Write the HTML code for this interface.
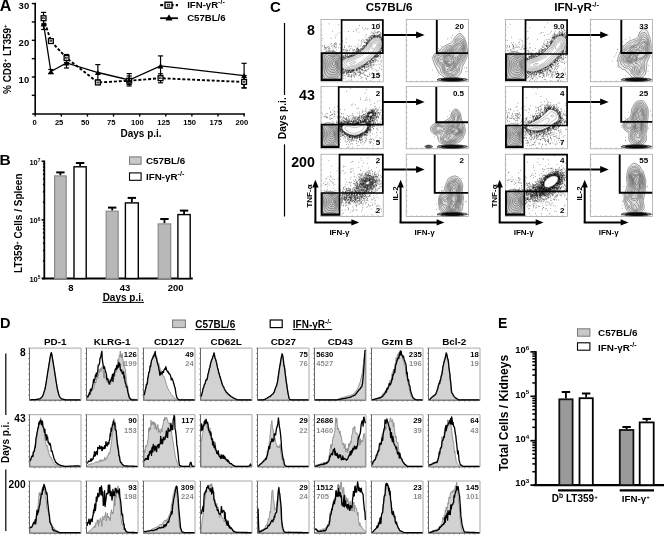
<!DOCTYPE html>
<html><head><meta charset="utf-8"><style>
html,body{margin:0;padding:0;background:#fff;}
svg{display:block;will-change:transform;}
text{font-family:"Liberation Sans",sans-serif;}
</style></head><body>
<svg width="664" height="535" viewBox="0 0 664 535" font-family="Liberation Sans, sans-serif">
<rect width="664" height="535" fill="#fff"/>
<text x="-0.30" y="11.40" font-size="16" font-weight="bold" fill="#000" text-anchor="start" >A</text>
<line x1="35.20" y1="2.80" x2="35.20" y2="114.80" stroke="#000" stroke-width="1.6" />
<line x1="32.20" y1="114.00" x2="245.00" y2="114.00" stroke="#000" stroke-width="1.6" />
<line x1="31.80" y1="3.60" x2="35.20" y2="3.60" stroke="#000" stroke-width="1.4" />
<line x1="31.80" y1="21.95" x2="35.20" y2="21.95" stroke="#000" stroke-width="1.4" />
<line x1="31.80" y1="40.30" x2="35.20" y2="40.30" stroke="#000" stroke-width="1.4" />
<line x1="31.80" y1="58.65" x2="35.20" y2="58.65" stroke="#000" stroke-width="1.4" />
<line x1="31.80" y1="77.00" x2="35.20" y2="77.00" stroke="#000" stroke-width="1.4" />
<line x1="31.80" y1="95.35" x2="35.20" y2="95.35" stroke="#000" stroke-width="1.4" />
<text x="29.20" y="9.20" font-size="9.5" font-weight="bold" fill="#000" text-anchor="end" >30</text>
<text x="29.20" y="45.90" font-size="9.5" font-weight="bold" fill="#000" text-anchor="end" >20</text>
<text x="29.20" y="82.60" font-size="9.5" font-weight="bold" fill="#000" text-anchor="end" >10</text>
<line x1="35.20" y1="114.00" x2="35.20" y2="116.60" stroke="#000" stroke-width="1.4" />
<text x="34.60" y="125.20" font-size="7.6" font-weight="bold" fill="#000" text-anchor="middle" >0</text>
<line x1="61.31" y1="114.00" x2="61.31" y2="116.60" stroke="#000" stroke-width="1.4" />
<text x="59.11" y="125.20" font-size="7.6" font-weight="bold" fill="#000" text-anchor="middle" >25</text>
<line x1="87.43" y1="114.00" x2="87.43" y2="116.60" stroke="#000" stroke-width="1.4" />
<text x="85.23" y="125.20" font-size="7.6" font-weight="bold" fill="#000" text-anchor="middle" >50</text>
<line x1="113.54" y1="114.00" x2="113.54" y2="116.60" stroke="#000" stroke-width="1.4" />
<text x="111.34" y="125.20" font-size="7.6" font-weight="bold" fill="#000" text-anchor="middle" >75</text>
<line x1="139.65" y1="114.00" x2="139.65" y2="116.60" stroke="#000" stroke-width="1.4" />
<text x="137.45" y="125.20" font-size="7.6" font-weight="bold" fill="#000" text-anchor="middle" >100</text>
<line x1="165.76" y1="114.00" x2="165.76" y2="116.60" stroke="#000" stroke-width="1.4" />
<text x="163.56" y="125.20" font-size="7.6" font-weight="bold" fill="#000" text-anchor="middle" >125</text>
<line x1="191.88" y1="114.00" x2="191.88" y2="116.60" stroke="#000" stroke-width="1.4" />
<text x="189.68" y="125.20" font-size="7.6" font-weight="bold" fill="#000" text-anchor="middle" >150</text>
<line x1="217.99" y1="114.00" x2="217.99" y2="116.60" stroke="#000" stroke-width="1.4" />
<text x="215.79" y="125.20" font-size="7.6" font-weight="bold" fill="#000" text-anchor="middle" >175</text>
<line x1="244.10" y1="114.00" x2="244.10" y2="116.60" stroke="#000" stroke-width="1.4" />
<text x="241.90" y="125.20" font-size="7.6" font-weight="bold" fill="#000" text-anchor="middle" >200</text>
<text x="141.10" y="137.10" font-size="10" font-weight="bold" fill="#000" text-anchor="middle" >Days p.i.</text>
<text transform="translate(10.6,59.2) rotate(-90)" font-size="10" font-weight="bold" text-anchor="middle">% CD8<tspan font-size="6" dy="-3.3">+</tspan><tspan dy="3.3"> LT359</tspan><tspan font-size="6" dy="-3.3">+</tspan></text>
<line x1="43.56" y1="19.00" x2="43.56" y2="29.50" stroke="#000" stroke-width="1.2" />
<line x1="40.96" y1="19.00" x2="46.16" y2="19.00" stroke="#000" stroke-width="1.2" />
<line x1="40.96" y1="29.50" x2="46.16" y2="29.50" stroke="#000" stroke-width="1.2" />
<line x1="50.87" y1="69.50" x2="50.87" y2="73.50" stroke="#000" stroke-width="1.2" />
<line x1="48.27" y1="69.50" x2="53.47" y2="69.50" stroke="#000" stroke-width="1.2" />
<line x1="48.27" y1="73.50" x2="53.47" y2="73.50" stroke="#000" stroke-width="1.2" />
<line x1="66.53" y1="56.00" x2="66.53" y2="68.00" stroke="#000" stroke-width="1.2" />
<line x1="63.93" y1="56.00" x2="69.13" y2="56.00" stroke="#000" stroke-width="1.2" />
<line x1="63.93" y1="68.00" x2="69.13" y2="68.00" stroke="#000" stroke-width="1.2" />
<line x1="97.87" y1="64.60" x2="97.87" y2="80.00" stroke="#000" stroke-width="1.2" />
<line x1="95.27" y1="64.60" x2="100.47" y2="64.60" stroke="#000" stroke-width="1.2" />
<line x1="95.27" y1="80.00" x2="100.47" y2="80.00" stroke="#000" stroke-width="1.2" />
<line x1="129.20" y1="73.60" x2="129.20" y2="86.00" stroke="#000" stroke-width="1.2" />
<line x1="126.60" y1="73.60" x2="131.80" y2="73.60" stroke="#000" stroke-width="1.2" />
<line x1="126.60" y1="86.00" x2="131.80" y2="86.00" stroke="#000" stroke-width="1.2" />
<line x1="160.54" y1="55.90" x2="160.54" y2="75.90" stroke="#000" stroke-width="1.2" />
<line x1="157.94" y1="55.90" x2="163.14" y2="55.90" stroke="#000" stroke-width="1.2" />
<line x1="157.94" y1="75.90" x2="163.14" y2="75.90" stroke="#000" stroke-width="1.2" />
<line x1="244.10" y1="63.30" x2="244.10" y2="87.90" stroke="#000" stroke-width="1.2" />
<line x1="241.50" y1="63.30" x2="246.70" y2="63.30" stroke="#000" stroke-width="1.2" />
<line x1="241.50" y1="87.90" x2="246.70" y2="87.90" stroke="#000" stroke-width="1.2" />
<line x1="43.56" y1="12.40" x2="43.56" y2="24.00" stroke="#000" stroke-width="1.2" />
<line x1="40.96" y1="12.40" x2="46.16" y2="12.40" stroke="#000" stroke-width="1.2" />
<line x1="40.96" y1="24.00" x2="46.16" y2="24.00" stroke="#000" stroke-width="1.2" />
<line x1="50.87" y1="40.00" x2="50.87" y2="42.00" stroke="#000" stroke-width="1.2" />
<line x1="48.27" y1="40.00" x2="53.47" y2="40.00" stroke="#000" stroke-width="1.2" />
<line x1="48.27" y1="42.00" x2="53.47" y2="42.00" stroke="#000" stroke-width="1.2" />
<line x1="66.53" y1="54.50" x2="66.53" y2="62.50" stroke="#000" stroke-width="1.2" />
<line x1="63.93" y1="54.50" x2="69.13" y2="54.50" stroke="#000" stroke-width="1.2" />
<line x1="63.93" y1="62.50" x2="69.13" y2="62.50" stroke="#000" stroke-width="1.2" />
<line x1="97.87" y1="80.50" x2="97.87" y2="84.50" stroke="#000" stroke-width="1.2" />
<line x1="95.27" y1="80.50" x2="100.47" y2="80.50" stroke="#000" stroke-width="1.2" />
<line x1="95.27" y1="84.50" x2="100.47" y2="84.50" stroke="#000" stroke-width="1.2" />
<line x1="129.20" y1="76.00" x2="129.20" y2="84.50" stroke="#000" stroke-width="1.2" />
<line x1="126.60" y1="76.00" x2="131.80" y2="76.00" stroke="#000" stroke-width="1.2" />
<line x1="126.60" y1="84.50" x2="131.80" y2="84.50" stroke="#000" stroke-width="1.2" />
<line x1="160.54" y1="73.80" x2="160.54" y2="82.80" stroke="#000" stroke-width="1.2" />
<line x1="157.94" y1="73.80" x2="163.14" y2="73.80" stroke="#000" stroke-width="1.2" />
<line x1="157.94" y1="82.80" x2="163.14" y2="82.80" stroke="#000" stroke-width="1.2" />
<line x1="244.10" y1="75.60" x2="244.10" y2="87.90" stroke="#000" stroke-width="1.2" />
<line x1="241.50" y1="75.60" x2="246.70" y2="75.60" stroke="#000" stroke-width="1.2" />
<line x1="241.50" y1="87.90" x2="246.70" y2="87.90" stroke="#000" stroke-width="1.2" />
<polyline points="43.56,18.20 50.87,41.10 66.53,58.00 97.87,82.50 129.20,80.70 160.54,78.20 244.10,82.00" fill="none" stroke="#000" stroke-width="1.9" stroke-dasharray="3,1.9"/>
<polyline points="43.56,24.00 50.87,71.60 66.53,63.00 97.87,72.50 129.20,80.00 160.54,65.90 244.10,75.60" fill="none" stroke="#000" stroke-width="1.3"/>
<rect x="41.16" y="15.80" width="4.80" height="4.80" fill="#fff" stroke="#000" stroke-width="1.3" />
<rect x="42.66" y="17.70" width="1.80" height="1.00" fill="#fff" stroke="#000" stroke-width="0.6" />
<rect x="48.47" y="38.70" width="4.80" height="4.80" fill="#fff" stroke="#000" stroke-width="1.3" />
<rect x="49.97" y="40.60" width="1.80" height="1.00" fill="#fff" stroke="#000" stroke-width="0.6" />
<rect x="64.13" y="55.60" width="4.80" height="4.80" fill="#fff" stroke="#000" stroke-width="1.3" />
<rect x="65.63" y="57.50" width="1.80" height="1.00" fill="#fff" stroke="#000" stroke-width="0.6" />
<rect x="95.47" y="80.10" width="4.80" height="4.80" fill="#fff" stroke="#000" stroke-width="1.3" />
<rect x="96.97" y="82.00" width="1.80" height="1.00" fill="#fff" stroke="#000" stroke-width="0.6" />
<rect x="126.80" y="78.30" width="4.80" height="4.80" fill="#fff" stroke="#000" stroke-width="1.3" />
<rect x="128.30" y="80.20" width="1.80" height="1.00" fill="#fff" stroke="#000" stroke-width="0.6" />
<rect x="158.14" y="75.80" width="4.80" height="4.80" fill="#fff" stroke="#000" stroke-width="1.3" />
<rect x="159.64" y="77.70" width="1.80" height="1.00" fill="#fff" stroke="#000" stroke-width="0.6" />
<rect x="241.70" y="79.60" width="4.80" height="4.80" fill="#fff" stroke="#000" stroke-width="1.3" />
<rect x="243.20" y="81.50" width="1.80" height="1.00" fill="#fff" stroke="#000" stroke-width="0.6" />
<polygon points="40.56,26.61 46.56,26.61 43.56,21.39" fill="#000"/>
<polygon points="47.87,74.21 53.87,74.21 50.87,68.99" fill="#000"/>
<polygon points="63.53,65.61 69.53,65.61 66.53,60.39" fill="#000"/>
<polygon points="94.87,75.11 100.87,75.11 97.87,69.89" fill="#000"/>
<polygon points="126.20,82.61 132.20,82.61 129.20,77.39" fill="#000"/>
<polygon points="157.54,68.51 163.54,68.51 160.54,63.29" fill="#000"/>
<polygon points="241.10,78.21 247.10,78.21 244.10,72.99" fill="#000"/>
<line x1="160.20" y1="5.20" x2="177.90" y2="5.20" stroke="#000" stroke-width="2.2" stroke-dasharray="3,2.2"/>
<rect x="165.00" y="2.20" width="7.00" height="6.00" fill="#fff" stroke="#000" stroke-width="1.4" />
<rect x="167.20" y="4.20" width="2.60" height="2.00" fill="#fff" stroke="#000" stroke-width="0.8" />
<text x="187.20" y="7.90" font-size="9.6" font-weight="bold" fill="#000" text-anchor="start" >IFN-γR<tspan font-size="7.2" dy="-4.0">-/-</tspan></text>
<line x1="160.20" y1="18.20" x2="177.90" y2="18.20" stroke="#000" stroke-width="1.8" />
<polygon points="165.50,20.45 172.50,20.45 169.00,14.35" fill="#000"/>
<text x="187.20" y="20.70" font-size="9.6" font-weight="bold" fill="#000" text-anchor="start" >C57BL/6</text>
<text x="-0.40" y="164.60" font-size="15.5" font-weight="bold" fill="#000" text-anchor="start" >B</text>
<line x1="44.30" y1="160.50" x2="44.30" y2="279.20" stroke="#000" stroke-width="1.8" />
<line x1="42.20" y1="278.50" x2="192.80" y2="278.50" stroke="#000" stroke-width="2.2" />
<line x1="42.90" y1="260.86" x2="44.30" y2="260.86" stroke="#000" stroke-width="1.5" />
<line x1="42.90" y1="250.54" x2="44.30" y2="250.54" stroke="#000" stroke-width="1.5" />
<line x1="42.90" y1="243.22" x2="44.30" y2="243.22" stroke="#000" stroke-width="1.5" />
<line x1="42.90" y1="237.54" x2="44.30" y2="237.54" stroke="#000" stroke-width="1.5" />
<line x1="42.90" y1="232.90" x2="44.30" y2="232.90" stroke="#000" stroke-width="1.5" />
<line x1="42.90" y1="228.98" x2="44.30" y2="228.98" stroke="#000" stroke-width="1.5" />
<line x1="42.90" y1="225.58" x2="44.30" y2="225.58" stroke="#000" stroke-width="1.5" />
<line x1="42.90" y1="222.58" x2="44.30" y2="222.58" stroke="#000" stroke-width="1.5" />
<line x1="42.90" y1="202.26" x2="44.30" y2="202.26" stroke="#000" stroke-width="1.5" />
<line x1="42.90" y1="191.94" x2="44.30" y2="191.94" stroke="#000" stroke-width="1.5" />
<line x1="42.90" y1="184.62" x2="44.30" y2="184.62" stroke="#000" stroke-width="1.5" />
<line x1="42.90" y1="178.94" x2="44.30" y2="178.94" stroke="#000" stroke-width="1.5" />
<line x1="42.90" y1="174.30" x2="44.30" y2="174.30" stroke="#000" stroke-width="1.5" />
<line x1="42.90" y1="170.38" x2="44.30" y2="170.38" stroke="#000" stroke-width="1.5" />
<line x1="42.90" y1="166.98" x2="44.30" y2="166.98" stroke="#000" stroke-width="1.5" />
<line x1="42.90" y1="163.98" x2="44.30" y2="163.98" stroke="#000" stroke-width="1.5" />
<line x1="41.60" y1="161.30" x2="44.30" y2="161.30" stroke="#000" stroke-width="1.6" />
<text x="40.40" y="164.70" font-size="7.5" font-weight="bold" fill="#000" text-anchor="end" >10<tspan font-size="4.8" dy="-2.6">7</tspan></text>
<line x1="41.60" y1="219.90" x2="44.30" y2="219.90" stroke="#000" stroke-width="1.6" />
<text x="40.40" y="223.30" font-size="7.5" font-weight="bold" fill="#000" text-anchor="end" >10<tspan font-size="4.8" dy="-2.6">6</tspan></text>
<line x1="41.60" y1="278.50" x2="44.30" y2="278.50" stroke="#000" stroke-width="1.6" />
<text x="40.40" y="281.90" font-size="7.5" font-weight="bold" fill="#000" text-anchor="end" >10<tspan font-size="4.8" dy="-2.6">5</tspan></text>
<text transform="translate(21.8,223.2) rotate(-90)" font-size="10" font-weight="bold" text-anchor="middle">LT359<tspan font-size="6" dy="-3.3">+</tspan><tspan dy="3.3"> Cells / Spleen</tspan></text>
<line x1="60.40" y1="172.40" x2="60.40" y2="175.30" stroke="#000" stroke-width="1.8" />
<line x1="56.20" y1="172.40" x2="64.60" y2="172.40" stroke="#000" stroke-width="2.0" />
<rect x="54.60" y="175.90" width="11.60" height="102.60" fill="#b8b8b8" stroke="#8a8a8a" stroke-width="1.2" />
<line x1="80.10" y1="163.00" x2="80.10" y2="166.10" stroke="#000" stroke-width="1.8" />
<line x1="75.90" y1="163.00" x2="84.30" y2="163.00" stroke="#000" stroke-width="2.0" />
<rect x="74.00" y="166.80" width="12.20" height="111.70" fill="#fff" stroke="#000" stroke-width="1.4" />
<line x1="112.20" y1="207.60" x2="112.20" y2="210.60" stroke="#000" stroke-width="1.8" />
<line x1="108.00" y1="207.60" x2="116.40" y2="207.60" stroke="#000" stroke-width="2.0" />
<rect x="106.20" y="211.20" width="12.00" height="67.30" fill="#b8b8b8" stroke="#8a8a8a" stroke-width="1.2" />
<line x1="131.85" y1="197.90" x2="131.85" y2="202.20" stroke="#000" stroke-width="1.8" />
<line x1="127.65" y1="197.90" x2="136.05" y2="197.90" stroke="#000" stroke-width="2.0" />
<rect x="125.40" y="202.90" width="12.90" height="75.60" fill="#fff" stroke="#000" stroke-width="1.4" />
<line x1="164.45" y1="219.00" x2="164.45" y2="223.30" stroke="#000" stroke-width="1.8" />
<line x1="160.25" y1="219.00" x2="168.65" y2="219.00" stroke="#000" stroke-width="2.0" />
<rect x="158.20" y="223.90" width="12.50" height="54.60" fill="#b8b8b8" stroke="#8a8a8a" stroke-width="1.2" />
<line x1="184.05" y1="210.60" x2="184.05" y2="213.90" stroke="#000" stroke-width="1.8" />
<line x1="179.85" y1="210.60" x2="188.25" y2="210.60" stroke="#000" stroke-width="2.0" />
<rect x="177.90" y="214.60" width="12.30" height="63.90" fill="#fff" stroke="#000" stroke-width="1.4" />
<text x="70.80" y="291.00" font-size="9.5" font-weight="bold" fill="#000" text-anchor="middle" >8</text>
<text x="125.00" y="291.00" font-size="9.5" font-weight="bold" fill="#000" text-anchor="middle" >43</text>
<text x="175.60" y="291.00" font-size="9.5" font-weight="bold" fill="#000" text-anchor="middle" >200</text>
<text x="123.20" y="300.60" font-size="10" font-weight="bold" fill="#000" text-anchor="middle" >Days p.i.</text>
<line x1="102.40" y1="302.40" x2="144.00" y2="302.40" stroke="#000" stroke-width="1.0" />
<rect x="129.50" y="156.90" width="11.60" height="7.40" fill="#c8c8c8" stroke="#777" stroke-width="1.0" />
<text x="146.00" y="164.20" font-size="9.8" font-weight="bold" fill="#000" text-anchor="start" >C57BL/6</text>
<rect x="129.50" y="172.90" width="11.60" height="7.40" fill="#fff" stroke="#000" stroke-width="1.1" />
<text x="146.00" y="180.40" font-size="9.8" font-weight="bold" fill="#000" text-anchor="start" >IFN-γR<tspan font-size="7.2" dy="-4.0">-/-</tspan></text>
<text x="498.00" y="328.30" font-size="14" font-weight="bold" fill="#000" text-anchor="start" >E</text>
<line x1="535.80" y1="351.20" x2="535.80" y2="486.00" stroke="#000" stroke-width="2.0" />
<line x1="533.50" y1="485.10" x2="664.00" y2="485.10" stroke="#000" stroke-width="2.2" />
<line x1="532.30" y1="471.73" x2="535.80" y2="471.73" stroke="#000" stroke-width="1.5" />
<line x1="532.30" y1="463.92" x2="535.80" y2="463.92" stroke="#000" stroke-width="1.5" />
<line x1="532.30" y1="458.37" x2="535.80" y2="458.37" stroke="#000" stroke-width="1.5" />
<line x1="532.30" y1="454.07" x2="535.80" y2="454.07" stroke="#000" stroke-width="1.5" />
<line x1="532.30" y1="450.55" x2="535.80" y2="450.55" stroke="#000" stroke-width="1.5" />
<line x1="532.30" y1="447.58" x2="535.80" y2="447.58" stroke="#000" stroke-width="1.5" />
<line x1="532.30" y1="445.00" x2="535.80" y2="445.00" stroke="#000" stroke-width="1.5" />
<line x1="532.30" y1="442.73" x2="535.80" y2="442.73" stroke="#000" stroke-width="1.5" />
<line x1="532.30" y1="427.33" x2="535.80" y2="427.33" stroke="#000" stroke-width="1.5" />
<line x1="532.30" y1="419.52" x2="535.80" y2="419.52" stroke="#000" stroke-width="1.5" />
<line x1="532.30" y1="413.97" x2="535.80" y2="413.97" stroke="#000" stroke-width="1.5" />
<line x1="532.30" y1="409.67" x2="535.80" y2="409.67" stroke="#000" stroke-width="1.5" />
<line x1="532.30" y1="406.15" x2="535.80" y2="406.15" stroke="#000" stroke-width="1.5" />
<line x1="532.30" y1="403.18" x2="535.80" y2="403.18" stroke="#000" stroke-width="1.5" />
<line x1="532.30" y1="400.60" x2="535.80" y2="400.60" stroke="#000" stroke-width="1.5" />
<line x1="532.30" y1="398.33" x2="535.80" y2="398.33" stroke="#000" stroke-width="1.5" />
<line x1="532.30" y1="382.93" x2="535.80" y2="382.93" stroke="#000" stroke-width="1.5" />
<line x1="532.30" y1="375.12" x2="535.80" y2="375.12" stroke="#000" stroke-width="1.5" />
<line x1="532.30" y1="369.57" x2="535.80" y2="369.57" stroke="#000" stroke-width="1.5" />
<line x1="532.30" y1="365.27" x2="535.80" y2="365.27" stroke="#000" stroke-width="1.5" />
<line x1="532.30" y1="361.75" x2="535.80" y2="361.75" stroke="#000" stroke-width="1.5" />
<line x1="532.30" y1="358.78" x2="535.80" y2="358.78" stroke="#000" stroke-width="1.5" />
<line x1="532.30" y1="356.20" x2="535.80" y2="356.20" stroke="#000" stroke-width="1.5" />
<line x1="532.30" y1="353.93" x2="535.80" y2="353.93" stroke="#000" stroke-width="1.5" />
<line x1="530.40" y1="351.90" x2="535.80" y2="351.90" stroke="#000" stroke-width="1.7" />
<text x="529.20" y="353.10" font-size="9.4" font-weight="bold" fill="#000" text-anchor="end" >10<tspan font-size="6.2" dy="-3.4">6</tspan></text>
<line x1="530.40" y1="396.30" x2="535.80" y2="396.30" stroke="#000" stroke-width="1.7" />
<text x="529.20" y="397.50" font-size="9.4" font-weight="bold" fill="#000" text-anchor="end" >10<tspan font-size="6.2" dy="-3.4">5</tspan></text>
<line x1="530.40" y1="440.70" x2="535.80" y2="440.70" stroke="#000" stroke-width="1.7" />
<text x="529.20" y="441.90" font-size="9.4" font-weight="bold" fill="#000" text-anchor="end" >10<tspan font-size="6.2" dy="-3.4">4</tspan></text>
<line x1="530.40" y1="485.10" x2="535.80" y2="485.10" stroke="#000" stroke-width="1.7" />
<text x="529.20" y="486.30" font-size="9.4" font-weight="bold" fill="#000" text-anchor="end" >10<tspan font-size="6.2" dy="-3.4">3</tspan></text>
<text transform="translate(508.4,413.1) rotate(-90)" font-size="12" font-weight="bold" text-anchor="middle">Total Cells / Kidneys</text>
<line x1="565.95" y1="392.00" x2="565.95" y2="398.40" stroke="#000" stroke-width="1.8" />
<line x1="561.75" y1="392.00" x2="570.15" y2="392.00" stroke="#000" stroke-width="2.0" />
<rect x="559.30" y="399.30" width="13.30" height="85.80" fill="#9a9a9a" stroke="#111" stroke-width="1.8" />
<line x1="586.15" y1="393.50" x2="586.15" y2="397.30" stroke="#000" stroke-width="1.8" />
<line x1="581.95" y1="393.50" x2="590.35" y2="393.50" stroke="#000" stroke-width="2.0" />
<rect x="579.50" y="398.20" width="13.30" height="86.90" fill="#fff" stroke="#000" stroke-width="1.8" />
<line x1="626.60" y1="427.00" x2="626.60" y2="429.10" stroke="#000" stroke-width="1.8" />
<line x1="622.40" y1="427.00" x2="630.80" y2="427.00" stroke="#000" stroke-width="2.0" />
<rect x="619.80" y="430.00" width="13.60" height="55.10" fill="#9a9a9a" stroke="#111" stroke-width="1.8" />
<line x1="646.70" y1="418.90" x2="646.70" y2="421.50" stroke="#000" stroke-width="1.8" />
<line x1="642.50" y1="418.90" x2="650.90" y2="418.90" stroke="#000" stroke-width="2.0" />
<rect x="639.70" y="422.40" width="14.00" height="62.70" fill="#fff" stroke="#000" stroke-width="1.8" />
<line x1="558.00" y1="490.30" x2="593.00" y2="490.30" stroke="#000" stroke-width="2.2" />
<line x1="619.70" y1="490.30" x2="654.00" y2="490.30" stroke="#000" stroke-width="2.2" />
<text x="551.80" y="502.10" font-size="10" font-weight="bold" fill="#000" text-anchor="start" >D<tspan font-size="6.8" dy="-3.7">b</tspan><tspan dy="3.7"> LT359</tspan><tspan font-size="6.2" dy="-3.4">+</tspan></text>
<text x="621.80" y="502.10" font-size="9.8" font-weight="bold" fill="#000" text-anchor="start" >IFN-γ<tspan font-size="6.2" dy="-3.4">+</tspan></text>
<rect x="577.50" y="328.80" width="12.40" height="7.40" fill="#c8c8c8" stroke="#777" stroke-width="1.0" />
<text x="598.00" y="336.20" font-size="9.9" font-weight="bold" fill="#000" text-anchor="start" >C57BL/6</text>
<rect x="577.50" y="342.80" width="12.40" height="7.40" fill="#fff" stroke="#000" stroke-width="1.1" />
<text x="598.00" y="350.50" font-size="9.9" font-weight="bold" fill="#000" text-anchor="start" >IFN-γR<tspan font-size="7.2" dy="-4.0">-/-</tspan></text>
<text x="270.00" y="11.60" font-size="15" font-weight="bold" fill="#000" text-anchor="start" >C</text>
<text x="389.20" y="11.40" font-size="11.7" font-weight="bold" fill="#000" text-anchor="middle" >C57BL/6</text>
<text x="576.60" y="11.40" font-size="11.7" font-weight="bold" fill="#000" text-anchor="middle" >IFN-γR<tspan font-size="7.5" dy="-4.1">-/-</tspan></text>
<line x1="284.50" y1="23.00" x2="284.50" y2="95.00" stroke="#000" stroke-width="1.2" />
<line x1="284.50" y1="144.30" x2="284.50" y2="216.50" stroke="#000" stroke-width="1.2" />
<text transform="translate(286.2,118.2) rotate(-90)" font-size="10.2" font-weight="bold" text-anchor="middle">Days p.i.</text>
<text x="314.80" y="34.50" font-size="14.2" font-weight="bold" fill="#000" text-anchor="end" >8</text>
<text x="314.80" y="100.00" font-size="14.2" font-weight="bold" fill="#000" text-anchor="end" >43</text>
<text x="314.80" y="167.00" font-size="14.2" font-weight="bold" fill="#000" text-anchor="end" >200</text>
<rect x="321.00" y="19.60" width="62.20" height="62.20" fill="none" stroke="#9a9a9a" stroke-width="0.7" />
<line x1="321.00" y1="24.78" x2="322.20" y2="24.78" stroke="#888" stroke-width="0.5" />
<line x1="321.00" y1="29.97" x2="322.20" y2="29.97" stroke="#888" stroke-width="0.5" />
<line x1="321.00" y1="35.15" x2="322.20" y2="35.15" stroke="#888" stroke-width="0.5" />
<line x1="321.00" y1="40.33" x2="322.20" y2="40.33" stroke="#888" stroke-width="0.5" />
<line x1="321.00" y1="45.52" x2="322.20" y2="45.52" stroke="#888" stroke-width="0.5" />
<line x1="321.00" y1="50.70" x2="322.20" y2="50.70" stroke="#888" stroke-width="0.5" />
<line x1="321.00" y1="55.88" x2="322.20" y2="55.88" stroke="#888" stroke-width="0.5" />
<line x1="321.00" y1="61.07" x2="322.20" y2="61.07" stroke="#888" stroke-width="0.5" />
<line x1="321.00" y1="66.25" x2="322.20" y2="66.25" stroke="#888" stroke-width="0.5" />
<line x1="321.00" y1="71.43" x2="322.20" y2="71.43" stroke="#888" stroke-width="0.5" />
<line x1="321.00" y1="76.62" x2="322.20" y2="76.62" stroke="#888" stroke-width="0.5" />
<line x1="326.18" y1="81.80" x2="326.18" y2="80.60" stroke="#888" stroke-width="0.5" />
<line x1="331.37" y1="81.80" x2="331.37" y2="80.60" stroke="#888" stroke-width="0.5" />
<line x1="336.55" y1="81.80" x2="336.55" y2="80.60" stroke="#888" stroke-width="0.5" />
<line x1="341.73" y1="81.80" x2="341.73" y2="80.60" stroke="#888" stroke-width="0.5" />
<line x1="346.92" y1="81.80" x2="346.92" y2="80.60" stroke="#888" stroke-width="0.5" />
<line x1="352.10" y1="81.80" x2="352.10" y2="80.60" stroke="#888" stroke-width="0.5" />
<line x1="357.28" y1="81.80" x2="357.28" y2="80.60" stroke="#888" stroke-width="0.5" />
<line x1="362.47" y1="81.80" x2="362.47" y2="80.60" stroke="#888" stroke-width="0.5" />
<line x1="367.65" y1="81.80" x2="367.65" y2="80.60" stroke="#888" stroke-width="0.5" />
<line x1="372.83" y1="81.80" x2="372.83" y2="80.60" stroke="#888" stroke-width="0.5" />
<line x1="378.02" y1="81.80" x2="378.02" y2="80.60" stroke="#888" stroke-width="0.5" />
<path d="M328.7,23.9h0.6m49.7,-.1h.6m-41.7,.9h.6m20.7,.7h.6m22.3,.6h.6m-20.3,1.8h.6m2.2,.5h.6m-10.1,.7h.6m1.3,-.1h.6m8.6,0h.6m.3,-.1h.6m7.6,.2h.6m-12.6,.6h.6m-32.2,1.5h.6m23.3,-.3h.6m17.8,-.2h.6m-27.2,.9h.6m4.8,0h.6m4.6,.7h.6m11.8,-.1h.6m3,-.3h.6m1.5,.4h.6m.2,.3h.6m-.5,-.6h.6m-.3,.4h.6m-.3,-.8h.6m.4,.1h.6m-42.2,1.6h.6m1.6,-.4h.6m31.4,0h.6m.5,.3h.6m-.6,.2h.6m1.5,-.5h.6m.2,.1h.6m1,.4h.6m2.2,-.7h.6m-.1,.7h.6m-8.5,.3h.6m.3,.9h.6m-.1,-.7h.6m3.9,.5h.6m-.3,.2h.6m.9,-.8h.6m-45.4,1.5h.6m30.1,-.5h.6m4.6,.6h.6m-.4,.1h.6m2,-.1h.6m-.5,.1h.6m1.5,-.7h.6m-.4,.7h.6m1,-.1h.6m.1,-.2h.6m-.3,.3h.6m-.5,-.8h.6m-.6,.1h.6m.1,.4h.6m-.5,-.1h.6m-15.8,1.2h.6m3.6,-.1h.6m.7,.4h.6m-.5,-.5h.6m0,-.3h.6m.2,-.1h.6m-.6,.2h.6m0,.2h.6m-.4,.2h.6m-.4,0h.6m-.6,-.1h.6m-.5,.2h.6m-.2,-.1h.6m0,-.3h.6m-.6,-.4h.6m-.5,0h.6m-.5,.7h.6m-.6,-.5h.6m-.1,.2h.6m-.1,0h.6m-.5,-.1h.6m-.4,-.2h.6m.3,.2h.6m0,-.1h.6m-.6,.4h.6m-.2,0h.6m-.5,0h.6m-.5,0h.6m-.5,0h.6m-.3,.1h.6m-.3,-.5h.6m0,.7h.6m.1,.1h.6m.2,-.2h.6m.1,-.3h.6m-13.4,1.4h.6m1.3,-.7h.6m.4,.4h.6m.6,.2h.6m0,-.7h.6m-.4,.5h.6m-.3,-.5h.6m-.5,.7h.6m-.4,-.3h.6m-.4,.4h.6m-.2,-.8h.6m-.5,.3h.6m-.3,-.2h.6m-.5,.5h.6m-.2,-.3h.6m-.1,-.3h.6m-.5,.7h.6m-.2,-.2h.6m-.5,-.4h.6m-.6,.7h.6m.1,-.5h.6m-.3,-.3h.6m.3,.2h.6m.2,.1h.6m-.5,.3h.6m-.4,-.1h.6m-.4,-.2h.6m0,.1h.6m.3,.1h.6m-59.4,1.4h.6m7.7,-.1h.6m3.9,-.7h.6m31.8,.2h.6m.5,.4h.6m-.1,-.2h.6m-.4,-.6h.6m.1,.1h.6m-.5,.1h.6m.2,-.1h.6m-.3,.8h.6m-.5,-.9h.6m-.3,1h.6m-.1,-.4h.6m-.3,-.6h.6m-.3,.1h.6m2.3,-.1h.6m.1,0h.6m2.5,.1h.6m-.4,.1h.6m-.2,0h.6m-.6,.4h.6m0,-.5h.6m0,.8h.6m-.3,-.5h.6m-36.2,.9h.6m15.9,.5h.6m2.1,-.2h.6m.5,.1h.6m2.1,-.4h.6m.7,.4h.6m-.1,-.6h.6m-.4,.2h.6m-.3,.3h.6m0,-.2h.6m-.6,0h.6m-.4,-.1h.6m8.1,.5h.6m-.5,-.6h.6m-.1,.5h.6m-.4,.1h.6m-.1,-.4h.6m-.5,.4h.6m-24.2,.8h.6m4.3,.1h.6m2.1,-.6h.6m.3,.4h.6m-.4,-.1h.6m-.4,.5h.6m-.4,-.9h.6m-.2,.8h.6m-.4,.1h.6m0,0h.6m-.5,-.4h.6m-.6,-.1h.6m-.5,.2h.6m-.3,-.1h.6m-.1,.3h.6m-.5,.1h.6m.1,-.8h.6m-.3,-.1h.6m-.3,.2h.6m8.9,.7h.6m-.2,-.3h.6m-.5,-.5h.6m-.6,.2h.6m.2,-.2h.6m-.6,.4h.6m-40.7,.8h.6m18.4,-.1h.6m2,.7h.6m2,-.7h.6m-.1,.2h.6m.2,0h.6m.6,.1h.6m.2,-.2h.6m11.5,-.1h.6m-.5,.3h.6m-.5,-.3h.6m-.4,.6h.6m-.6,.1h.6m-.5,-.3h.6m-21.9,.8h.6m1.2,.1h.6m.7,.5h.6m.5,-.4h.6m1.2,-.1h.6m.1,.2h.6m-.6,-.7h.6m0,1h.6m-.5,0h.6m-.5,-.6h.6m-.5,-.3h.6m-.2,.3h.6m-.5,-.1h.6m12.1,.6h.6m-.5,-.2h.6m-.2,-.4h.6m-51.8,1.6h.6m3.3,-.7h.6m10.2,0h.6m14.8,.6h.6m2.4,-.7h.6m.9,.8h.6m-.5,-.6h.6m-.5,0h.6m-.3,.3h.6m-.5,-.1h.6m-.4,-.4h.6m-.6,.8h.6m-.3,-.7h.6m-.3,.7h.6m-.5,-.8h.6m-.6,.8h.6m-.1,-.7h.6m13.5,.1h.6m-.3,.3h.6m-.5,.2h.6m-52.5,1.1h.6m3.4,-.9h.6m.7,.2h.6m0,0h.6m2.7,.7h.6m0,0h.6m25.3,-.6h.6m-.6,.7h.6m-.4,-.9h.6m-.1,.1h.6m.1,-.1h.6m-.1,-.1h.6m13.9,.2h.6m-49.2,1.1h.6m-.4,.2h.6m.9,-.4h.6m.1,.4h.6m21,-.3h.6m3.2,.3h.6m2.6,.4h.6m.7,-.8h.6m-.6,0h.6m-.3,.6h.6m-.3,-.4h.6m-.5,.1h.6m14.5,-.3h.6m-.6,.8h.6m-.5,-.4h.6m-.6,-.1h.6m-.5,.2h.6m-60.4,.9h.6m1.5,-.5h.6m3.1,.9h.6m2.3,.1h.6m.2,-.9h.6m.6,.3h.6m.7,.5h.6m1,.1h.6m4.6,0h.6m2.7,-.7h.6m4.2,-.2h.6m0,.9h.6m1.2,0h.6m6.5,0h.6m1.1,-.5h.6m1.1,.4h.6m.4,-.5h.6m-.2,.5h.6m-.5,-.8h.6m-.3,.9h.6m-.6,-.9h.6m-.5,.6h.6m-.3,-.4h.6m-.5,.4h.6m-.3,-.3h.6m-.2,.2h.6m-.6,-.5h.6m0,.5h.6m-.3,.4h.6m-.6,-1h.6m-.4,.5h.6m-.6,0h.6m-.5,-.3h.6m15.3,.5h.6m-58.7,.4h.6m-.2,.4h.6m2,-.2h.6m1.7,.5h.6m4.5,-.5h.6m9,.2h.6m3.4,-.2h.6m6.3,0h.6m6.6,.6h.6m18.9,-.1h.6m-.6,-.6h.6m-57.5,.8h.6m-.4,.5h.6m-.1,-.1h.6m-.2,-.2h.6m.1,.4h.6m.6,-.6h.6m1.5,.9h.6m2.2,-.5h.6m2.1,0h.6m-.2,-.4h.6m1.7,.4h.6m1.5,-.4h.6m3.6,.1h.6m5.1,.9h.6m6.3,-1h.6m-.3,1h.6m-.6,-.2h.6m3.8,.2h.6m-.2,-.6h.6m.6,.6h.6m-.6,-.7h.6m-.6,-.3h.6m.5,.8h.6m-.6,-.8h.6m-.4,.8h.6m-.3,-.7h.6m15.3,.8h.6m-.2,-.6h.6m-.5,.6h.6m-.6,0h.6m-.5,-.2h.6m-.4,-.1h.6m-.3,-.1h.6m-.2,0h.6m-58.4,1.2h.6m-.1,-.2h.6m3,-.4h.6m-.4,.3h.6m10.9,.1h.6m5.8,.2h.6m4.7,0h.6m3.7,.2h.6m-.5,-.8h.6m.4,.2h.6m-.6,.3h.6m0,-.1h.6m-.2,.3h.6m1.2,-.2h.6m-.5,-.3h.6m.6,.5h.6m-.6,-.7h.6m-.4,.8h.6m-.3,-.8h.6m-.4,.5h.6m-.3,-.1h.6m.2,-.4h.6m-.3,.3h.6m16,-.3h.6m-.5,.6h.6m.2,.2h.6m-.2,-.8h.6m0,.1h.6m-.6,-.1h.6m-56.3,1.4h.6m.9,0h.6m.8,-.3h.6m3.2,.4h.6m-.3,.3h.6m2.2,-.6h.6m6.2,-.3h.6m-.2,.4h.6m-.1,-.3h.6m.8,0h.6m.2,.9h.6m2.4,-.7h.6m3.3,-.2h.6m.4,.8h.6m-.5,-.9h.6m2,0h.6m.3,.8h.6m0,-.3h.6m-.4,-.3h.6m-.3,0h.6m-.5,-.2h.6m-.1,.9h.6m-.5,-.2h.6m.1,.1h.6m-.1,-.6h.6m0,.3h.6m.2,-.2h.6m-.5,.6h.6m.1,-.7h.6m17.4,.6h.6m-.3,-.1h.6m0,.3h.6m-.4,-.6h.6m-53.2,1.1h.6m.9,0h.6m.7,-.4h.6m1.7,.7h.6m6.5,-.4h.6m1.8,.4h.6m.9,-.5h.6m.7,.6h.6m.2,-.5h.6m-.6,-.3h.6m1,.1h.6m3.1,.1h.6m-.4,-.1h.6m2.1,.4h.6m.1,.3h.6m-.4,-.6h.6m-.5,-.2h.6m-.5,.7h.6m.1,-.4h.6m0,.4h.6m-.4,-.4h.6m-.4,0h.6m-.3,-.1h.6m-.5,.3h.6m-.1,.2h.6m.1,-.1h.6m-.4,-.1h.6m-.6,0h.6m-.1,-.2h.6m18.1,.5h.6m-.5,-.4h.6m-.4,.2h.6m-.3,-.6h.6m-.5,.4h.6m-52.3,.6h.6m1.6,.6h.6m.8,-.1h.6m-.4,.1h.6m.2,-.2h.6m1.2,-.4h.6m.7,.9h.6m3.1,-.8h.6m-.1,.4h.6m11.2,.4h.6m.5,-.4h.6m.1,.1h.6m.8,-.5h.6m-.3,.6h.6m.4,-.1h.6m.2,-.2h.6m-.4,-.3h.6m-.6,-.1h.6m-.5,.6h.6m.3,-.2h.6m.6,.5h.6m-.5,-.4h.6m17.3,.4h.6m-.5,-.6h.6m-.5,.1h.6m-.4,-.2h.6m.2,.6h.6m.1,-.5h.6m-.6,-.3h.6m-.3,.7h.6m-.4,-.2h.6m-.6,-.6h.6m-.5,.4h.6m-.1,.2h.6m0,.3h.6m0,-.8h.6m-.4,.7h.6m-55.6,.4h.6m.3,.4h.6m9.1,.1h.6m9.5,-.3h.6m.1,-.2h.6m2.5,.7h.6m.2,-.7h.6m1.6,.6h.6m-.1,0h.6m.7,.1h.6m-.5,-.3h.6m-.2,-.3h.6m.4,.5h.6m.1,-.3h.6m-.3,-.1h.6m17.7,-.1h.6m-.6,.1h.6m-.3,-.3h.6m-.6,.2h.6m.1,.6h.6m-.4,-.8h.6m-.3,.3h.6m-.5,0h.6m-.6,.3h.6m-.2,-.2h.6m1.8,0h.6m-40.7,1.5h.6m3.3,-.7h.6m1.3,-.2h.6m2.2,.4h.6m.6,.5h.6m.3,0h.6m0,-.6h.6m.4,-.4h.6m-.5,.5h.6m-.3,.5h.6m.3,-.5h.6m-.3,.1h.6m-.6,-.5h.6m1.3,.3h.6m18.1,.1h.6m-.4,-.3h.6m-.4,.2h.6m-.2,-.1h.6m-.4,.5h.6m1.3,-.4h.6m-.4,.3h.6m.2,-.2h.6m-36,1.1h.6m0,-.4h.6m0,.1h.6m.5,.3h.6m-.2,-.2h.6m-.4,.1h.6m-.5,0h.6m1.2,.1h.6m-.4,.3h.6m-.5,-.1h.6m.7,-.3h.6m1.1,-.3h.6m-.5,.6h.6m-.4,.1h.6m-.5,0h.6m.3,-.2h.6m1.3,-.5h.6m19,.3h.6m-.5,0h.6m-.4,.2h.6m-.5,-.4h.6m.3,0h.6m-.6,-.1h.6m0,.3h.6m.3,.4h.6m-.1,-.5h.6m.9,0h.6m-38.5,1h.6m0,-.1h.6m-.1,.3h.6m.7,.2h.6m-.6,-.7h.6m-.6,.6h.6m-.5,0h.6m-.1,-.6h.6m0,.8h.6m.1,0h.6m-.5,0h.6m-.5,-.3h.6m1.6,-.2h.6m.4,.5h.6m-.6,-.5h.6m-.4,-.2h.6m-.4,-.1h.6m-.4,.8h.6m-.2,-.7h.6m-.5,0h.6m-.2,.4h.6m-.5,-.6h.6m-.5,.4h.6m-.5,.4h.6m-.5,-.4h.6m.3,.2h.6m-.5,-.1h.6m.2,.1h.6m-.1,-.6h.6m19.3,.9h.6m-.5,.1h.6m-.5,-1h.6m-.4,.5h.6m-.6,-.3h.6m-.2,.4h.6m-.5,-.3h.6m-.3,.4h.6m-.4,-.1h.6m-.2,-.2h.6m-.4,-.1h.6m-.1,.6h.6m-.4,-.1h.6m-.3,-.2h.6m-.2,-.6h.6m-.4,.9h.6m-.5,-.8h.6m-.1,.1h.6m-.2,.4h.6m1,-.1h.6m-38.3,1.4h.6m-.6,-.5h.6m-.5,-.1h.6m-.2,.3h.6m-.2,.2h.6m-.5,.1h.6m.2,-.1h.6m.2,.1h.6m-.1,-.6h.6m1,.3h.6m-.5,.1h.6m-.4,.1h.6m-.5,-.3h.6m-.5,.4h.6m-.5,-.7h.6m-.4,0h.6m-.5,.2h.6m-.5,.4h.6m-.2,0h.6m-.5,-.6h.6m-.3,.3h.6m-.5,-.2h.6m-.2,.1h.6m.5,-.3h.6m-.6,.2h.6m-.4,0h.6m-.4,0h.6m-.1,-.1h.6m-.5,.1h.6m.3,-.2h.6m20.5,.6h.6m.2,-.3h.6m-.6,0h.6m-.5,.3h.6m-.4,-.2h.6m-.6,-.4h.6m-.3,.3h.6m.2,.2h.6m-.6,-.2h.6m-.1,0h.6m-.1,-.2h.6m-.3,0h.6m-.5,0h.6m.4,.4h.6m.9,-.3h.6m-.3,.6h.6m-39,.6h.6m.3,-.1h.6m-.5,-.1h.6m-.1,.1h.6m-.1,.2h.6m-.1,.4h.6m-.3,-.5h.6m-.1,.2h.6m-.3,-.7h.6m.6,1h.6m-.3,-.8h.6m.8,0h.6m.4,-.1h.6m22.3,.9h.6m-.5,-.6h.6m.4,0h.6m-.6,.5h.6m-.5,-.3h.6m-.6,-.5h.6m.1,.9h.6m-.3,-1h.6m1.2,.2h.6m2,.8h.6m-37.5,.3h.6m-.4,.6h.6m-.5,-.1h.6m.4,.1h.6m-.3,-.6h.6m.4,.4h.6m-.3,-.4h.6m25.6,.3h.6m-.5,.1h.6m-.3,0h.6m-.3,.2h.6m-.4,-.7h.6m2.3,.5h.6m0,-.3h.6m-34.2,.7h.6m1,.2h.6m26.2,.6h.6m.4,-.6h.6m-.3,-.2h.6m-.1,.8h.6m-.3,-.2h.6m-.2,.2h.6m.1,.1h.6m.2,-.5h.6m-.2,-.2h.6m-.3,.4h.6m-.3,-.1h.6m.7,.2h.6m-.5,-.8h.6m4.4,.8h.6m-40.5,1h.6m26.2,-.2h.6m-.6,0h.6m0,-.2h.6m.6,.2h.6m-.6,-.2h.6m-.2,-.3h.6m0,.3h.6m.6,-.3h.6m-.5,0h.6m-.6,.6h.6m-.2,-.6h.6m1,.8h.6m1.7,-.1h.6m.4,-.6h.6m1.5,.6h.6m-13.8,1.2h.6m-.4,-.4h.6m-.3,.3h.6m-.4,-.3h.6m.9,-.6h.6m0,.3h.6m-.5,.3h.6m-.5,-.2h.6m-.4,0h.6m-.4,-.4h.6m.7,.6h.6m-.1,.4h.6m.3,-.5h.6m-.3,-.5h.6m1.2,.3h.6m5.7,.3h.6m-16,1h.6m-.4,.2h.6m1,-.3h.6m.5,.2h.6m-.3,-.2h.6m.4,.2h.6m-.2,0h.6m-.3,-.4h.6m-.6,0h.6m-.3,.1h.6m1.2,-.3h.6m.3,.3h.6m-10.4,1.6h.6m-.4,0h.6m-.5,0h.6m-.6,-.4h.6m-.6,.4h.6m-.3,-.2h.6m-.4,-.1h.6m-.6,.3h.6m-.3,-.4h.6m-.4,0h.6m-.5,-.2h.6m-.1,-.2h.6m-.6,.3h.6m-.3,.2h.6m-.2,-.5h.6m-.5,.3h.6m-.6,.5h.6m-.4,0h.6m.1,-.6h.6m-.4,-.1h.6m-.1,.4h.6m.6,-.5h.6m3.3,.7h.6m4.7,-.2h.6m.6,0h.6m-17.4,.9h.6m-.4,-.2h.6m-.2,-.2h.6m-.6,.6h.6m-.4,.1h.6m-.5,-.7h.6m.5,.7h.6m1,-.8h.6m-.2,.2h.6m0,.1h.6m.8,.4h.6m.4,-.3h.6m-.6,0h.6m-.1,.2h.6m-.4,-.6h.6m.3,0h.6m.9,.6h.6m.7,-.5h.6m1.5,.1h.6m-15.7,.7h.6m-.5,.6h.6m0,-.2h.6m-.4,.2h.6m-.5,.4h.6m-.6,-.6h.6m.3,.1h.6m-.3,.3h.6m-.4,.1h.6m-.3,-.7h.6m-.6,.6h.6m.1,-.7h.6m.6,.2h.6m.2,.5h.6m.7,-.1h.6m-.5,.3h.6m-.3,-.8h.6m1.5,.1h.6m-.3,.5h.6m1.1,-.5h.6m8,.2h.6m-22.7,1.2h.6m0,.2h.6m-.3,-.1h.6m0,-.7h.6m-.5,.8h.6m-.5,-.6h.6m-.4,-.1h.6m.4,.5h.6m-.6,-.3h.6m-.6,.3h.6m0,-.3h.6m.2,-.3h.6m-.5,.2h.6m-.6,.2h.6m-.2,-.1h.6m-.3,.5h.6m-.4,-.7h.6m0,.3h.6m.3,.2h.6m.4,-.3h.6m2,-.1h.6m.1,.6h.6m8.5,-.3h.6m-38.1,.5h.6m-.6,.8h.6m-.5,-.5h.6m0,.1h.6m13.6,.3h.6m.9,-.6h.6m-.5,.5h.6m-.3,0h.6m-.6,0h.6m-.5,0h.6m-.6,0h.6m-.1,-.5h.6m-.4,.3h.6m-.5,.3h.6m-.5,0h.6m-.5,.2h.6m1,-.9h.6m2,.7h.6m-.4,-.3h.6m0,0h.6m1.2,-.5h.6m1.4,.3h.6m2,.1h.6m.3,.2h.6m-30.4,.6h.6m0,.4h.6m-.5,-.1h.6m-.4,-.4h.6m1.3,.8h.6m-.4,0h.6m10.1,-.2h.6m-.5,-.6h.6m-.5,.3h.6m-.2,.5h.6m-.5,-.2h.6m-.5,.1h.6m-.5,0h.6m.3,-.6h.6m.3,.2h.6m-.5,.4h.6m.5,-.6h.6m-.5,.1h.6m.1,.4h.6m-.2,.1h.6m-.3,0h.6m.2,-.3h.6m-.4,.2h.6m5,-.3h.6m-.1,.2h.6m10.5,-.3h.6m.8,.6h.6m-39.3,.3h.6m-.6,.6h.6m-.4,-.5h.6m-.4,-.2h.6m0,.3h.6m-.4,.6h.6m0,-.7h.6m.3,.3h.6m-.4,0h.6m-.6,.2h.6m.2,-.1h.6m0,.3h.6m-.5,-.1h.6m-.5,0h.6m-.2,.1h.6m.5,0h.6m.2,0h.6m-.5,-.2h.6m-.3,0h.6m.5,0h.6m-.2,-.1h.6m-.1,.1h.6m0,-.1h.6m-.4,.1h.6m-.4,-.7h.6m-.4,.3h.6m-.2,.6h.6m-.5,-.9h.6m-.4,.7h.6m-.5,-.5h.6m-.6,.3h.6m0,.4h.6m-.6,-.8h.6m.8,.2h.6m.3,0h.6m.7,-.3h.6m.5,0h.6m-.5,.8h.6m2.1,-.8h.6m-.3,.8h.6m-.6,0h.6m-.1,-.6h.6m1.1,.7h.6m.9,-1h.6m.9,0h.6m4,.2h.6m2.4,.2h.6m1.1,.3h.6m.9,.3h.6m-36.2,.7h.6m.9,0h.6m.4,.2h.6m.1,-.3h.6m1.4,-.1h.6m0,-.3h.6m-.3,.4h.6m-.5,.3h.6m-.5,-.7h.6m-.2,0h.6m-.2,.6h.6m.2,-.2h.6m-.2,-.5h.6m.1,.1h.6m-.5,.1h.6m.1,.1h.6m-.4,.1h.6m-.5,-.2h.6m-.5,.2h.6m-.3,-.4h.6m-.3,.8h.6m-.2,-.7h.6m-.5,.1h.6m-.4,0h.6m1.3,-.1h.6m-.2,.1h.6m-.1,-.2h.6m-.5,.1h.6m-.5,-.1h.6m-.5,.4h.6m2.1,-.4h.6m2.8,.2h.6m.3,.5h.6m.3,-.7h.6m-.3,0h.6m0,.1h.6m0,.2h.6m-.3,-.1h.6m9.5,.5h.6m-35.7,1.2h.6m-.5,-.5h.6m1,-.5h.6m-.4,.8h.6m-.5,-.3h.6m-.2,0h.6m-.2,-.2h.6m.8,-.3h.6m0,.9h.6m-.6,0h.6m-.5,-.9h.6m.3,.8h.6m-.5,-.2h.6m-.5,-.2h.6m-.3,0h.6m-.5,.1h.6m-.3,.4h.6m-.2,-.6h.6m.7,-.1h.6m-.5,.4h.6m-.5,-.6h.6m-.6,.8h.6m-.2,.2h.6m-.6,-.4h.6m-.4,-.3h.6m-.5,-.3h.6m0,.6h.6m.1,-.5h.6m-.3,.8h.6m.6,.1h.6m-.4,0h.6m.2,-.3h.6m2.1,.2h.6m.2,0h.6m-.2,-.7h.6m.1,.2h.6m-.4,.2h.6m-.4,.3h.6m-.4,-.1h.6m-.2,-.1h.6m-.3,-.5h.6m-19.2,1.6h.6m-.2,-.6h.6m.5,.2h.6m-.5,-.3h.6m-.6,.5h.6m-.3,-.3h.6m.3,.1h.6m1.8,-.2h.6m-.3,.2h.6m.2,-.3h.6m-.3,.5h.6m.1,-.5h.6m.2,.1h.6m.6,-.1h.6m1.2,.8h.6m1.9,-.4h.6m2.5,0h.6m1.6,-.2h.6m1.5,-.1h.6m.1,.1h.6m4.8,.4h.6m2.5,-.6h.6m5.1,0h.6m-36.9,1.5h.6m1,-.2h.6m-.2,-.4h.6m1.8,.3h.6m-.6,.1h.6m-.4,-.3h.6m.9,.6h.6m.5,.2h.6m3.4,-.1h.6m.7,-.2h.6m.1,-.6h.6m-.4,.8h.6m-.4,-.4h.6m-.2,.1h.6m3.5,.3h.6m-.1,-.3h.6m-.3,-.4h.6m.4,-.1h.6m.3,0h.6m.3,.6h.6m5.3,.4h.6m1.2,-.6h.6m2.8,.1h.6m-32.3,1.2h.6m3.5,-.5h.6m.6,.7h.6m.2,-.2h.6m1.3,.1h.6m.1,-.5h.6m-.4,.6h.6m4.3,-.8h.6m2,.3h.6m-.2,.5h.6m3.8,-.1h.6m0,-.4h.6m-.1,.5h.6m8.4,0h.6m-.5,-.3h.6m5.1,.1h.6m-37.5,1h.6m.7,-.7h.6m.5,.4h.6m2,.3h.6m-.4,0h.6m2.5,.2h.6m1,-.7h.6m-.2,.2h.6m.3,0h.6m1,-.2h.6m1.9,-.1h.6m1.7,.7h.6m5.5,-.3h.6m0,-.1h.6m.3,.5h.6m1,-.7h.6m2.4,.2h.6m-26,.8h.6m1.7,.1h.6m-.5,.1h.6m.7,.3h.6m-.5,-.5h.6m2.4,.5h.6m12.6,-.6h.6m8.3,.1h.6m.8,.2h.6m-34.8,1.5h.6m.8,-.1h.6m15.4,-.5h.6m-.3,.2h.6m.8,-.4h.6m2.1,.6h.6m6,-.1h.6m-21,1h.6m14.2,-.5h.6m6.4,0h.6m-25,1.6h.6m2.1,.1h.6m14.2,-.8h.6m3,.9h.6m8.6,-.4h.6" stroke="#111" stroke-width=".6" fill="none"/>
<path d="M373.4,37.9l3.2-.7 3.1,1.2 1.8,2.6 .4,3.1-.8,3.1-1.7,3.1-6.7,7-8.5,7-8.6,4.3-3.9,1-4.7,.3-2.3-.5-2.3-1.4-1-1.4-.5-2.3 .6-2.3 1.2-1.6 2.8-1.7 8.9-2.9 5.4-3.2 5.1-4.7 5.5-7.7 3-2.3z" fill="#fff" stroke="#333" stroke-width=".5"/>
<path d="M374.6,38.6l2.8,0 2.3,1.5 1.1,2.4-.1,2.4-.7,2.3-1.9,3-7.1,7.1-7.9,6.2-8.3,4.1-3.9,.9-3.9,.1-2.3-.7-1.5-1.2-.8-1.6 .1-1.6 1.4-2.3 2.4-1.4 8.5-2.9 6-3.5 4.9-4.7 5.3-7.7 1.7-1.5 1.9-.9zM373.4,40.2l2.4-.7 2.3,.6 1.6,2.4 .1,2.4-.8,2.3-1.5,2.3-7.1,6.8-8.3,6.5-7.3,3.6-6.2,1.1-2.3-.3-1.6-1-.8-1.9 1.1-2.3 2.8-1.6 7.8-2.6 6.2-3.6 4.7-4.7 4.4-7 2.5-2.3zM374,41l1.8-.5 1.6,.4 .8,.9 .7,1.5 0,1.6-.9,2.3-3,3.5-12.8,10.5-6.6,3.6-2.9,1.1-2.5,.3-2.4-.1-1.8-1-.1-1.6 1.6-1.5 8.1-2.8 7.8-4.5 4.5-5.2 3.5-6.2 2.6-2.3zM374.8,41.8l1.8,.1 1.2,1.4 .1,1.6-.9,2.3-2.7,2.8-6.3,3.8-.4-.4 3.8-8.5 1.3-1.8 2.1-1.3zM352.4,62l2.4-.4 1.1,.4-1.7,1.5-3.3,.9-.7-.1-.7-.8 2.9-1.5zM374.2,43.3l1.8,0 .6,.8 0,1.5-1.6,2.4-2.3,1.1-.8-.3 0-2.4 .8-1.6 1.5-1.5z" fill="none" stroke="#777" stroke-width=".45"/>
<rect x="321.5" y="53.2" width="20.1" height="28.6" fill="#cdcdcd"/>
<path d="M341.2,65.2 340.9,70.5 340.2,73.3 339.2,75.3 338.0,76.7 336.5,77.8 334.7,78.6 331.3,79.2 327.7,79.3 325.6,78.8 324.1,77.5 323.1,75.6 322.5,73.2 322.3,70.2 322.2,65.2 322.3,60.2 322.5,57.3 323.1,54.8 324.1,52.9 325.6,51.6 327.7,51.1 331.3,51.2 334.7,51.8 336.5,52.6 338.0,53.7 339.2,55.2 340.2,57.1 340.9,59.9zM340.0,64.9 339.7,69.0 339.0,71.4 338.3,73.2 337.3,74.7 336.1,75.9 334.5,76.9 331.7,77.3 328.8,77.2 327.1,76.4 325.9,75.1 325.0,73.3 324.4,71.3 324.0,68.9 323.8,64.9 323.7,60.8 324.0,58.1 324.6,56.0 325.7,54.5 327.2,53.6 329.0,53.3 331.7,53.3 334.4,53.6 336.1,54.1 337.5,54.9 338.7,56.2 339.5,58.1 340.0,60.7zM338.8,64.6 338.5,67.7 338.1,69.7 337.6,71.4 336.8,72.9 335.8,74.1 334.3,74.8 332.1,75.0 330.0,74.6 328.6,73.8 327.6,72.7 326.7,71.3 326.1,69.7 325.5,67.8 325.2,64.6 325.2,61.4 325.6,59.2 326.4,57.5 327.4,56.4 328.6,55.6 330.1,55.2 332.1,55.0 334.2,55.0 335.7,55.3 337.0,56.1 338.0,57.4 338.6,59.2 338.8,61.5zM337.7,64.4 337.7,66.6 337.4,68.3 337.0,69.8 336.3,71.1 335.3,72.0 334.1,72.4 332.5,72.4 331.0,72.0 329.9,71.4 329.0,70.6 328.2,69.6 327.5,68.4 327.1,66.7 326.9,64.4 327.0,62.0 327.5,60.3 328.2,59.0 329.0,58.0 329.9,57.3 331.0,56.7 332.5,56.4 334.1,56.4 335.3,56.7 336.3,57.6 337.1,58.8 337.5,60.4 337.7,62.1zM336.9,64.1 336.9,65.6 336.7,66.9 336.3,68.1 335.7,69.0 334.9,69.6 334.0,69.9 332.9,69.9 332.0,69.7 331.1,69.4 330.3,68.8 329.6,68.0 329.1,67.0 328.8,65.7 328.8,64.1 329.0,62.5 329.3,61.3 329.8,60.3 330.4,59.4 331.1,58.7 331.9,58.2 332.9,57.9 334.0,58.0 334.9,58.4 335.6,59.2 336.1,60.2 336.5,61.4 336.8,62.6zM336.1,63.8 336.1,64.7 335.9,65.6 335.5,66.4 335.1,66.9 334.5,67.3 333.9,67.5 333.4,67.6 332.8,67.6 332.2,67.4 331.6,67.0 331.2,66.4 330.8,65.6 330.7,64.7 330.7,63.8 330.8,62.9 331.0,62.1 331.3,61.4 331.7,60.7 332.2,60.1 332.7,59.7 333.4,59.6 334.0,59.8 334.5,60.2 335.0,60.7 335.4,61.4 335.7,62.1 336.0,62.9zM335.3,63.5 335.2,63.9 335.1,64.4 334.9,64.8 334.6,65.1 334.3,65.3 334.0,65.5 333.8,65.6 333.5,65.6 333.2,65.5 332.9,65.2 332.6,64.8 332.5,64.3 332.4,63.9 332.4,63.5 332.4,63.1 332.5,62.7 332.7,62.2 332.9,61.8 333.2,61.5 333.5,61.3 333.8,61.3 334.0,61.4 334.3,61.7 334.6,61.9 334.8,62.3 335.1,62.6 335.2,63.1z" fill="none" stroke="#555" stroke-width=".6"/>
<rect x="321.6" y="78.6" width="19.4" height="1.8" fill="#333"/>
<rect x="321.6" y="53.2" width="1.2" height="27.6" fill="#555"/>
<path d="M341.60,53.20 V20.00 H382.80 V53.20 H321.60 V80.20 H341.60 V53.20" fill="none" stroke="#000" stroke-width="1.7"/>
<text x="380.20" y="28.80" font-size="8.0" font-weight="bold" fill="#000" text-anchor="end" >10</text>
<text x="380.20" y="78.00" font-size="8.0" font-weight="bold" fill="#000" text-anchor="end" >15</text>
<line x1="383.20" y1="34.90" x2="417.60" y2="34.90" stroke="#000" stroke-width="2.0" />
<polygon points="416.10,31.50 424.60,34.90 416.10,38.30" fill="#000"/>
<rect x="406.20" y="19.60" width="62.20" height="62.20" fill="none" stroke="#9a9a9a" stroke-width="0.7" />
<line x1="406.20" y1="24.78" x2="407.40" y2="24.78" stroke="#888" stroke-width="0.5" />
<line x1="406.20" y1="29.97" x2="407.40" y2="29.97" stroke="#888" stroke-width="0.5" />
<line x1="406.20" y1="35.15" x2="407.40" y2="35.15" stroke="#888" stroke-width="0.5" />
<line x1="406.20" y1="40.33" x2="407.40" y2="40.33" stroke="#888" stroke-width="0.5" />
<line x1="406.20" y1="45.52" x2="407.40" y2="45.52" stroke="#888" stroke-width="0.5" />
<line x1="406.20" y1="50.70" x2="407.40" y2="50.70" stroke="#888" stroke-width="0.5" />
<line x1="406.20" y1="55.88" x2="407.40" y2="55.88" stroke="#888" stroke-width="0.5" />
<line x1="406.20" y1="61.07" x2="407.40" y2="61.07" stroke="#888" stroke-width="0.5" />
<line x1="406.20" y1="66.25" x2="407.40" y2="66.25" stroke="#888" stroke-width="0.5" />
<line x1="406.20" y1="71.43" x2="407.40" y2="71.43" stroke="#888" stroke-width="0.5" />
<line x1="406.20" y1="76.62" x2="407.40" y2="76.62" stroke="#888" stroke-width="0.5" />
<line x1="411.38" y1="81.80" x2="411.38" y2="80.60" stroke="#888" stroke-width="0.5" />
<line x1="416.57" y1="81.80" x2="416.57" y2="80.60" stroke="#888" stroke-width="0.5" />
<line x1="421.75" y1="81.80" x2="421.75" y2="80.60" stroke="#888" stroke-width="0.5" />
<line x1="426.93" y1="81.80" x2="426.93" y2="80.60" stroke="#888" stroke-width="0.5" />
<line x1="432.12" y1="81.80" x2="432.12" y2="80.60" stroke="#888" stroke-width="0.5" />
<line x1="437.30" y1="81.80" x2="437.30" y2="80.60" stroke="#888" stroke-width="0.5" />
<line x1="442.48" y1="81.80" x2="442.48" y2="80.60" stroke="#888" stroke-width="0.5" />
<line x1="447.67" y1="81.80" x2="447.67" y2="80.60" stroke="#888" stroke-width="0.5" />
<line x1="452.85" y1="81.80" x2="452.85" y2="80.60" stroke="#888" stroke-width="0.5" />
<line x1="458.03" y1="81.80" x2="458.03" y2="80.60" stroke="#888" stroke-width="0.5" />
<line x1="463.22" y1="81.80" x2="463.22" y2="80.60" stroke="#888" stroke-width="0.5" />
<path d="M458.8,31.4h0.6m-7.1,4h.6m-1.7,2.4h.6m-4.8,1.1h.6m-6.1,7.5h.6m-3.9,2.1h.6m.4,1.6h.6m-8.1,7.4h.6m30.7,7.4h.6m.4,2.8h.6m1.4,.5h.6m0,-.7h.6m-34.7,2.5h.6m33.6,1.4h.6m-1.8,.4h.6m-28.1,3.4h.6m6.9,4.5h.6m11,1h.6" stroke="#333" stroke-width=".6" fill="none"/>
<path d="M458,34l1.5-.5 1.5,.2 3.6,4.2 2.3,7-.1,2.3 .8,3.1-.5,6.2-2.6,6.3-2.2,3.1-.1,2.3-1.2,4.7-2.4,3.1-1.5,1.2-4.6,1.2-3.9,.1-3.9-1.1-5.5-3.9-4.1-7.6-2.3-6.3 .1-2.3 .8-2.3 .9-1.3 4.5-2.6 3.5-3.9 5.2-3 2.3-.9 2.4-1.7 2.3-4.1 3.2-3.5z" fill="#ececec" stroke="#444" stroke-width=".5"/>
<path d="M457.7,40.2l1-.4 2.3,.2 1.3,1 1.5,3.9 .6,3.1-.5,7-2.7,5.4-4.9,6.2 1,2.4-.5,2.3-2.8,3.1-3.9,.7-3.1-1-2.9-2-1.9-6.2-1.1-1.6-1.9-1-1.3-2.1-.2-3.1-.8-1.6 .8-.9 2.3-.5 1.6-.8 5.4-4.9 6.2-2.5 3.8-3.6 .3-.8-.2-1.5 .6-.8z" fill="#dedede" stroke="none"/>
<path d="M460.2,44.9l.8,.4 1.5,3.5-.7,1.8-2.1,1.3 1,2.3-.5,1.6-1.2,1.5-.9,3.1-2.2,2.4-1.3,2.3-1.5,3.9-1.4,1.1-2.3-.7-.7-.4 .4-1.6-.8-.8-2.1-.4-1.5-1.9-.7-6.2 .6-3.1 .9-1.1 2.3-.9 1.6-1.5 6.2-2.3 .7,2.7 2.4-.2 .6-.6-.6-.9-1.6-1.1-1.2-.3 1.9-2.4 2.4-1.5zM446.9,69.7l1.2,0-1.2,0z" fill="#d2d2d2" stroke="none"/>
<path d="M458.7,36.3l.8-.5 1.5,.1 1.6,1.4 1.6,2.9 1.4,4.7 .5,4.6-.3,6.3-2.7,6.2-2.9,3.8-1.2,6.3-3.4,3.9-3.9,1.1-2.3,.1-3.9-1.5-4.5-3.6-.3-.8 .1-1.8-1.7-2.9-2-1.5-1.9-3.9-.8-4.7 1.7-2.3 4.7-2.2 4.7-4.6 3.1-1.7 2.3-.1 1.4-.7 1.7-1.6 1.6-4.4 3.1-2.6zM458.2,38.6l2-.5 1.6,.7 1.3,1.4 1.7,5.4 .4,3.9-.4,2.4 .3,3.1-3,6.2-2.9,3.9-.7,2.3-.3,3.1-.8,1.6-2.7,3.1-4.6,1-3.9-1.5-3.3-2.6-1.3-5.1-.8-1.3-1.6-.8-1.2-1.4-1.1-2.3-.3-2.3-1.1-1.6-.1-.8 1.5-1.7 3.9-1.3 6.1-5.5 1.7-.8 3.9-.8 2.9-3.1 .9-3.6 1.9-1.1zM457.7,40.2l1-.4 2.3,.2 1.3,1 1.5,3.9 .6,3.1-.5,7-2.7,5.4-4.9,6.2 1,2.4-.5,2.3-2.8,3.1-3.9,.7-3.1-1-2.9-2-1.9-6.2-1.1-1.6-1.9-1-1.3-2.1-.2-3.1-.8-1.6 .8-.9 2.3-.5 1.6-.8 5.4-4.9 6.2-2.5 3.8-3.6 .3-.8-.2-1.5 .6-.8zM459.7,41.8l1.3-.3 1.7,2.6 1.1,3.9 0,1.5-1.3,5.5-2.6,5.4-4.6,6.2 .1,1.6 .8,1.5-.4,.8-2.4,.8-1.1,1.6-1.4,.8-4.7-1-1.5-1.4-1.1-4.7-2-3.8-1.6-.6-1.4-1.8 .6-3.1 2.4-1 2.8-3.7 2.6-1.9 6.2-2.7 6.5-6.2zM459.7,43.3l1.3-.2 .8,.9 1.3,4-.2,2.3-1.5,2.3 .2,1.6-.5,1.6-2.2,4.6-4,5.5-1.2,3.8-2,1.3-2.3-.3-2.4,1.1-.8-.1-.8-1.2-.8-3.9-1.5-3.1 .5-2.3-1.1-2.3 1.2-3.9 1.8-2.3 3.1-1.8 5.2-2.1 2.8-3.2 3.1-2.3zM440.2,59.6l.6-.6 .3,.6-.9,0zM460.2,44.9l.8,.4 1.5,3.5-.7,1.8-2.1,1.3 1,2.3-.5,1.6-1.2,1.5-.9,3.1-2.2,2.4-1.3,2.3-1.5,3.9-1.4,1.1-2.3-.7-.7-.4 .4-1.6-.8-.8-2.1-.4-1.5-1.9-.7-6.2 .6-3.1 .9-1.1 2.3-.9 1.6-1.5 6.2-2.3 .7,2.7 2.4-.2 .6-.6-.6-.9-1.6-1.1-1.2-.3 1.9-2.4 2.4-1.5zM446.9,69.7l1.2,0-1.2,0zM459.6,48l.6-.3 1.1,.3 .3,.8-.6,1.1-.8,.1-.5-.5-.5-.7 .4-.8zM453.1,51.1l.9,0 1.6,2.2 3.1-.2 .7,.3 .3,.8-.8,1.6-1.5,.7 0,3.1-2.2,2.4-3.5,6.9-1.9-2.3-2.8-1.2-1.2-1.1-1-7 1-2.3 3.6-.8 .7-2 3-1.1zM451.5,52.6l1-.3 1.1,.3 .3,.8-.7,3.3 .8,1 1.6-.1 .6,1.3-1.6,1.5-1.4,4-2.3,1.7-3.9-1.5-.8-.8-.2-2.6 1.5-1.6-1.6-1.5-.3-.8 .6-1.6 3.6-.7 1.7-2.4zM451.3,55l.6,0 1.5,4.6-.2,3.2-1.5,1.9-1.6,.4-2.3-.8-1-.8-.3-1.5 .5-.8 1.5-.8 .3-.8-2.1-2.3 .3-.8 4.3-1.5zM450.1,56.5l.8-.1 .8,1.3 .3,1.2-.3,1-2.3-1.8-.3-.8 1-.8zM447.5,62l1.9-.6 1.5,0 .8,.5 .3,.9-.4,.7-1.5,.7-2.3-.7-.5-.7 .2-.8z" fill="none" stroke="#3c3c3c" stroke-width=".45"/>
<path d="M442.6,78.3l6-.5 9.3,.1 7.8,.9 1.1,.3 .7,.8-7.3,1.3-16.3,0-6.9-1.3 1.5-1.1 4.1-.5z" fill="#999" stroke="#222" stroke-width=".7"/>
<path d="M442,79.1l5-.6 9.3-.1 5.5,.5 1.6,1-6.3,.9-7.7,.2-7.8-1-.5-.1 .9-.8zM446.4,79.1l9.2-.3 2.4,.3 1.6,.8-4.8,.5-6.2-.1-3.7-.4 1.5-.8z" fill="#111" stroke="#000" stroke-width=".6"/>
<path d="M436.80,19.90 V53.10 H468.10" fill="none" stroke="#000" stroke-width="1.9"/>
<text x="464.00" y="28.80" font-size="8.0" font-weight="bold" fill="#000" text-anchor="end" >20</text>
<rect x="505.30" y="19.60" width="62.20" height="62.20" fill="none" stroke="#9a9a9a" stroke-width="0.7" />
<line x1="505.30" y1="24.78" x2="506.50" y2="24.78" stroke="#888" stroke-width="0.5" />
<line x1="505.30" y1="29.97" x2="506.50" y2="29.97" stroke="#888" stroke-width="0.5" />
<line x1="505.30" y1="35.15" x2="506.50" y2="35.15" stroke="#888" stroke-width="0.5" />
<line x1="505.30" y1="40.33" x2="506.50" y2="40.33" stroke="#888" stroke-width="0.5" />
<line x1="505.30" y1="45.52" x2="506.50" y2="45.52" stroke="#888" stroke-width="0.5" />
<line x1="505.30" y1="50.70" x2="506.50" y2="50.70" stroke="#888" stroke-width="0.5" />
<line x1="505.30" y1="55.88" x2="506.50" y2="55.88" stroke="#888" stroke-width="0.5" />
<line x1="505.30" y1="61.07" x2="506.50" y2="61.07" stroke="#888" stroke-width="0.5" />
<line x1="505.30" y1="66.25" x2="506.50" y2="66.25" stroke="#888" stroke-width="0.5" />
<line x1="505.30" y1="71.43" x2="506.50" y2="71.43" stroke="#888" stroke-width="0.5" />
<line x1="505.30" y1="76.62" x2="506.50" y2="76.62" stroke="#888" stroke-width="0.5" />
<line x1="510.48" y1="81.80" x2="510.48" y2="80.60" stroke="#888" stroke-width="0.5" />
<line x1="515.67" y1="81.80" x2="515.67" y2="80.60" stroke="#888" stroke-width="0.5" />
<line x1="520.85" y1="81.80" x2="520.85" y2="80.60" stroke="#888" stroke-width="0.5" />
<line x1="526.03" y1="81.80" x2="526.03" y2="80.60" stroke="#888" stroke-width="0.5" />
<line x1="531.22" y1="81.80" x2="531.22" y2="80.60" stroke="#888" stroke-width="0.5" />
<line x1="536.40" y1="81.80" x2="536.40" y2="80.60" stroke="#888" stroke-width="0.5" />
<line x1="541.58" y1="81.80" x2="541.58" y2="80.60" stroke="#888" stroke-width="0.5" />
<line x1="546.77" y1="81.80" x2="546.77" y2="80.60" stroke="#888" stroke-width="0.5" />
<line x1="551.95" y1="81.80" x2="551.95" y2="80.60" stroke="#888" stroke-width="0.5" />
<line x1="557.13" y1="81.80" x2="557.13" y2="80.60" stroke="#888" stroke-width="0.5" />
<line x1="562.32" y1="81.80" x2="562.32" y2="80.60" stroke="#888" stroke-width="0.5" />
<path d="M547.1,22.6h0.6m-37.9,1.8h.6m15.5,-.7h.6m-18.9,3.5h.6m36.1,0h.6m17.4,0h.6m-33.3,.6h.6m27,1.1h.6m.2,0h.6m.5,.1h.6m1.7,.9h.6m1.5,-.4h.6m.4,.8h.6m-.5,0h.6m-37.6,1.1h.6m22.8,-.2h.6m3.3,.1h.6m3.6,.1h.6m1.5,-.7h.6m1.9,.4h.6m-21.5,1.2h.6m15.1,.1h.6m.4,-.9h.6m1.6,.7h.6m-.1,-.2h.6m-.5,-.1h.6m2.1,.5h.6m.3,-.2h.6m-26.7,1.2h.6m.9,-.8h.6m8.3,.4h.6m3.4,0h.6m-.4,.2h.6m3.9,-.4h.6m.3,-.1h.6m.3,0h.6m0,.5h.6m.5,-.1h.6m.7,-.3h.6m1.6,.2h.6m-18.8,1.4h.6m5.7,0h.6m-.2,0h.6m.2,-.2h.6m1.4,-.2h.6m.9,-.5h.6m-.2,.5h.6m-.2,.1h.6m-.1,-.2h.6m.8,.3h.6m-.5,-.3h.6m-.5,.6h.6m-.4,-.6h.6m-.3,.4h.6m-.5,-.1h.6m-.3,0h.6m-.5,-.5h.6m0,.8h.6m.3,-.9h.6m-.3,0h.6m-.1,.7h.6m-21.3,1.1h.6m7.1,-.1h.6m.5,-.5h.6m1.1,.5h.6m.8,-.6h.6m.2,-.1h.6m-.3,.5h.6m.2,.2h.6m-.6,-.3h.6m.6,.2h.6m-.6,0h.6m-.4,.2h.6m-.4,-.4h.6m-.4,0h.6m-.4,.2h.6m-.1,.1h.6m-.3,-.7h.6m-.4,.1h.6m0,.5h.6m-.4,-.4h.6m-.6,.5h.6m-.3,-.7h.6m-.6,.5h.6m-.4,-.2h.6m-.4,.2h.6m-.5,-.4h.6m-.3,.6h.6m.2,-.3h.6m0,-.2h.6m-.2,.3h.6m.1,-.2h.6m-13.1,1.6h.6m.4,-.5h.6m-.6,.1h.6m.1,0h.6m-.5,-.1h.6m-.4,0h.6m.3,.2h.6m-.3,0h.6m-.4,-.4h.6m-.3,0h.6m-.5,-.1h.6m-.1,.5h.6m0,.2h.6m.3,-.8h.6m0,.2h.6m-.2,.1h.6m-.5,-.2h.6m-.4,.1h.6m.2,-.2h.6m.4,0h.6m-.4,.2h.6m0,-.1h.6m-.3,0h.6m.7,.2h.6m.4,.2h.6m-.1,-.3h.6m.1,.4h.6m-55.6,1.1h.6m38.6,.1h.6m.8,0h.6m-.4,-.2h.6m.5,-.6h.6m-.1,.8h.6m-.5,-.5h.6m0,.3h.6m-.1,-.1h.6m.3,0h.6m-.5,-.4h.6m-.2,.7h.6m.4,-.8h.6m5.7,0h.6m.2,.3h.6m0,-.1h.6m-.4,.5h.6m-.4,-.4h.6m.2,0h.6m-.5,0h.6m-39,1h.6m23.6,.6h.6m-.1,-.8h.6m-.4,-.1h.6m-.6,.3h.6m-.3,.2h.6m-.1,-.3h.6m-.5,-.3h.6m0,.3h.6m-.2,.3h.6m.3,-.1h.6m9,-.4h.6m-.5,.2h.6m-.6,.4h.6m.1,.1h.6m-.3,-.8h.6m-39.9,1.5h.6m9.4,.2h.6m10.1,.1h.6m3.3,-.3h.6m-.5,.2h.6m.5,-.6h.6m.2,0h.6m-.3,.5h.6m-.5,-.1h.6m0,-.4h.6m11.2,0h.6m-59.7,1.7h.6m11.7,-.5h.6m1.5,.6h.6m23.5,-.6h.6m2.5,-.1h.6m1.6,.7h.6m-.3,-.4h.6m1.2,-.4h.6m12.3,.9h.6m-.3,-.7h.6m-.6,-.1h.6m-23,1.5h.6m5.4,0h.6m-.2,.2h.6m-.4,-.3h.6m0,.1h.6m-.1,0h.6m-.3,-.3h.6m-.2,.2h.6m-.4,-.2h.6m-33.9,1.3h.6m2.5,-.5h.6m23.9,-.2h.6m-.3,.5h.6m0,.3h.6m1,-.2h.6m.5,.2h.6m-.6,-.4h.6m-.5,.5h.6m-.1,-.8h.6m0,.4h.6m-.3,-.2h.6m-.1,.3h.6m-.6,-.2h.6m-41.7,.9h.6m1.3,.1h.6m4,0h.6m24.7,.2h.6m3.1,.3h.6m1.6,-.8h.6m.3,.8h.6m.2,-.5h.6m-.5,.3h.6m-.5,-.4h.6m-.5,0h.6m-.5,.2h.6m-.4,-.4h.6m-.6,0h.6m14.3,.7h.6m-.5,-.3h.6m-51.7,1.3h.6m6,-.4h.6m6.6,-.2h.6m14.3,.3h.6m1.3,-.4h.6m1.2,.2h.6m1.6,.3h.6m-.4,.2h.6m-.4,-.5h.6m-.5,-.2h.6m-.5,.6h.6m-.4,-.3h.6m-.4,.2h.6m14.7,-.2h.6m-54.4,.8h.6m-.6,.1h.6m3.4,.5h.6m2.5,-.7h.6m23.2,.3h.6m0,-.2h.6m.9,.7h.6m.3,-.1h.6m-.5,-.1h.6m.2,.1h.6m.6,0h.6m.7,-.6h.6m-.4,.5h.6m.1,-.3h.6m-.3,.3h.6m-44.5,.3h.6m1.4,.5h.6m-.6,.5h.6m3.1,-.6h.6m-.2,-.1h.6m8.1,.1h.6m.4,0h.6m18.6,.3h.6m3,-.5h.6m-.2,-.1h.6m-.2,.7h.6m-.3,.1h.6m-.5,-.4h.6m.8,0h.6m0,-.1h.6m-.5,.5h.6m-.3,-.4h.6m15.5,.4h.6m-58.7,.4h.6m1.5,.5h.6m3,-.7h.6m-.6,.5h.6m1.9,.2h.6m.4,-.3h.6m.2,.3h.6m0,-.5h.6m.7,.4h.6m2.1,0h.6m2.1,-.4h.6m16.7,.1h.6m.1,0h.6m.7,.1h.6m1.8,-.2h.6m.2,-.2h.6m.8,.5h.6m16.9,-.5h.6m-.5,.8h.6m-.2,-.4h.6m-60.8,.9h.6m5.9,.1h.6m.4,-.1h.6m6.6,.1h.6m2.6,.3h.6m.7,.2h.6m.4,-.5h.6m2.5,0h.6m-.4,-.3h.6m13,-.2h.6m.2,.9h.6m.6,.1h.6m.9,0h.6m-.5,-.7h.6m-.4,.3h.6m-.2,-.5h.6m16.4,.7h.6m.4,-.5h.6m-.3,.6h.6m-.2,.1h.6m-.4,-.8h.6m-57,1.7h.6m2,-.8h.6m.3,.5h.6m5.6,.1h.6m3.3,-.4h.6m-.5,.5h.6m-.6,-.5h.6m.8,.3h.6m-.3,-.2h.6m8.9,-.3h.6m4.9,.4h.6m-.4,.2h.6m0,-.5h.6m2.4,.4h.6m.9,0h.6m.3,-.4h.6m.2,.2h.6m-.3,-.2h.6m-.6,.1h.6m17.4,0h.6m-59,1.5h.6m3,-.1h.6m9.9,-.4h.6m3.2,.5h.6m2.3,-.1h.6m3.9,.3h.6m4.8,-.5h.6m.8,.2h.6m1.4,.1h.6m-.5,-.2h.6m-.4,.1h.6m-.3,-.2h.6m-.5,.2h.6m-.5,.1h.6m-.3,-.7h.6m-.4,.8h.6m-.2,-.8h.6m-.5,.4h.6m.5,-.1h.6m-.2,.2h.6m-.5,.2h.6m-.6,-.3h.6m-.1,-.2h.6m-.6,.7h.6m.2,-.7h.6m17.5,0h.6m.1,.1h.6m.3,-.3h.6m-.3,.6h.6m-.6,.1h.6m-58.9,.7h.6m1.5,-.4h.6m1.7,.7h.6m1,-.3h.6m2.7,-.3h.6m7.7,0h.6m1,-.1h.6m.7,.7h.6m10.1,0h.6m-.6,-.7h.6m1.2,.7h.6m1.1,.1h.6m1.5,-.7h.6m16.9,.5h.6m-.4,-.2h.6m-.4,.4h.6m0,-.8h.6m-.6,.7h.6m-.5,-.1h.6m-.6,-.6h.6m1.1,.2h.6m-.4,.6h.6m-.2,-.1h.6m-53.1,1.2h.6m1,-1h.6m.8,.6h.6m0,-.1h.6m6.5,.5h.6m.7,-.8h.6m3.7,.3h.6m8.5,.3h.6m-.4,-.5h.6m-.4,.1h.6m.8,-.2h.6m.2,-.1h.6m-.3,.9h.6m-.2,-.8h.6m-.2,.8h.6m.5,-.4h.6m-.1,-.4h.6m-.4,.2h.6m17.5,-.2h.6m-.4,.4h.6m-.5,.4h.6m-.4,0h.6m.3,-.2h.6m-.4,-.3h.6m.6,.1h.6m0,-.2h.6m0,.4h.6m-55.7,1.1h.6m-.2,-.3h.6m.5,-.2h.6m6.8,0h.6m.6,.2h.6m6.2,-.5h.6m2.2,.1h.6m.3,.1h.6m-.4,.6h.6m2.8,-.3h.6m.1,-.2h.6m0,-.2h.6m.6,.5h.6m.3,-.6h.6m-.4,.7h.6m0,-.3h.6m-.5,-.1h.6m.6,.3h.6m.3,.2h.6m-.6,-.2h.6m.3,-.5h.6m18.5,.2h.6m-.4,-.3h.6m1.2,.1h.6m.9,.4h.6m.6,0h.6m-.5,-.1h.6m-43.3,.6h.6m3.7,.5h.6m1.6,.1h.6m.6,0h.6m-.4,.1h.6m-.5,-.3h.6m.4,0h.6m1.5,-.1h.6m.3,.6h.6m.9,-.4h.6m-.3,-.1h.6m-.5,-.5h.6m-.6,.1h.6m.2,.9h.6m-.5,-.4h.6m.3,.2h.6m-.4,-.7h.6m-.3,.9h.6m-.1,-.9h.6m-.6,.8h.6m-.3,-.1h.6m-.4,-.7h.6m.1,.7h.6m-.3,-.6h.6m18,.8h.6m-.5,-1h.6m-.2,.5h.6m-.2,-.2h.6m.6,-.3h.6m-.4,.8h.6m.2,-.1h.6m1.8,-.7h.6m-38.6,1.2h.6m1.5,.4h.6m.3,.1h.6m-.3,-.3h.6m.9,.4h.6m1,-.1h.6m2.2,-.5h.6m-.4,0h.6m0,.4h.6m-.2,.1h.6m-.5,-.1h.6m-.4,-.2h.6m-.1,.2h.6m-.4,-.3h.6m-.5,.1h.6m-.1,.3h.6m.1,-.6h.6m17.1,.8h.6m.1,-.8h.6m-.4,.4h.6m-.3,-.2h.6m-.1,.1h.6m-.6,.5h.6m-.5,-.1h.6m-.6,-.2h.6m.4,-.1h.6m-.2,0h.6m.9,-.1h.6m-.4,-.2h.6m1.7,.7h.6m-.4,-.6h.6m0,.3h.6m-40.8,.5h.6m1.2,.6h.6m1.1,-.1h.6m-.5,.2h.6m.8,-.7h.6m-.5,-.1h.6m-.1,.9h.6m-.6,-.2h.6m-.3,-.5h.6m-.2,0h.6m.3,.4h.6m-.4,.1h.6m-.6,-.4h.6m-.6,.1h.6m.6,-.1h.6m-.4,-.2h.6m-.3,.3h.6m-.2,-.3h.6m0,.7h.6m-.4,.1h.6m.1,-.2h.6m21.5,.3h.6m.6,-.5h.6m.4,-.5h.6m.8,.6h.6m-35,1.1h.6m-.1,-.1h.6m-.2,-.5h.6m-.2,.2h.6m-.6,0h.6m-.3,-.1h.6m-.1,.3h.6m-.3,.2h.6m-.5,0h.6m-.3,-.1h.6m-.5,-.5h.6m-.5,.8h.6m0,-.5h.6m0,.1h.6m-.2,0h.6m-.4,0h.6m0,-.3h.6m-.6,.7h.6m-.5,-.7h.6m-.3,.4h.6m0,0h.6m-.4,.2h.6m.5,-.7h.6m-.3,.1h.6m.4,.2h.6m-.6,-.1h.6m18.6,.1h.6m0,.4h.6m-.3,0h.6m-.1,-.2h.6m-.3,-.3h.6m-.5,0h.6m-.2,-.2h.6m-.6,0h.6m.6,.6h.6m0,0h.6m-.4,-.4h.6m1.5,0h.6m-37.8,1h.6m-.5,.3h.6m.1,-.1h.6m-.5,.5h.6m-.4,-.2h.6m-.1,.2h.6m.7,-.6h.6m-.2,-.1h.6m-.5,.5h.6m-.6,-.8h.6m.4,.4h.6m.6,.5h.6m.1,-.3h.6m-.6,-.1h.6m23.3,-.1h.6m.2,.3h.6m0,-.6h.6m-.1,.7h.6m-.2,-.8h.6m-.3,1h.6m-.3,-1h.6m-.1,.8h.6m.1,-.2h.6m.1,-.4h.6m-.4,.4h.6m-.3,-.4h.6m1.6,0h.6m1.4,-.2h.6m-.6,.3h.6m-40,1.6h.6m.5,-.3h.6m-.5,0h.6m0,.3h.6m-.2,-.4h.6m.2,-.3h.6m-.5,.3h.6m.6,.1h.6m-.3,.1h.6m-.4,-.6h.6m23.7,.7h.6m.1,-.7h.6m.3,0h.6m-.5,.6h.6m-.3,-.5h.6m.4,.5h.6m.8,-.1h.6m1.5,0h.6m-.1,0h.6m-.2,-.4h.6m0,.4h.6m-.5,.2h.6m-38.1,1h.6m-.2,-.7h.6m.3,-.1h.6m-.3,.1h.6m.2,0h.6m25.9,.8h.6m-.5,-.8h.6m-.4,-.1h.6m-.6,.9h.6m0,-.5h.6m-.2,.4h.6m-.4,0h.6m0,-.2h.6m-.4,.2h.6m0,-.8h.6m.9,.9h.6m1.9,0h.6m-9,.5h.6m.2,.3h.6m-.4,-.6h.6m.5,.1h.6m-.4,.1h.6m-.5,.1h.6m.4,-.3h.6m-.6,.4h.6m-.1,-.1h.6m-.3,-.2h.6m1,.3h.6m.9,.2h.6m-35.6,.3h.6m26.1,1h.6m.2,-.1h.6m-.2,-.5h.6m.2,.4h.6m-.6,.1h.6m-.4,0h.6m-.5,.1h.6m-.6,-.1h.6m-.6,-.8h.6m-.5,0h.6m0,.8h.6m-.4,-.7h.6m1.2,0h.6m-.1,.2h.6m-.1,-.1h.6m2.3,.6h.6m.5,0h.6m1,-.6h.6m1.6,.1h.6m-15.1,1.1h.6m1,-.2h.6m.5,-.2h.6m-.1,.5h.6m.6,-.1h.6m-.6,-.2h.6m7.6,.4h.6m-14.8,1.1h.6m-.4,.2h.6m-.5,-.5h.6m-.1,0h.6m-.5,.3h.6m-.5,.2h.6m-.2,-.6h.6m-.3,-.3h.6m-.5,.6h.6m-.4,.2h.6m-.5,-.2h.6m-.1,-.5h.6m-.5,.7h.6m.4,.1h.6m.8,-.7h.6m-.5,.7h.6m1.3,-.3h.6m.3,-.6h.6m-.1,.1h.6m5,0h.6m-15.6,1.6h.6m-.4,.1h.6m-.2,-.4h.6m-.4,.4h.6m-.3,-.5h.6m-.3,.1h.6m0,-.4h.6m.1,.7h.6m.4,0h.6m-.5,.1h.6m3.7,-.6h.6m-10.9,1.7h.6m0,-1h.6m-.3,.5h.6m-.5,.5h.6m.5,-1h.6m-.1,.4h.6m-.4,.1h.6m-.4,-.3h.6m-.5,-.2h.6m-.6,0h.6m-.4,.8h.6m.9,-.3h.6m.8,-.2h.6m1.1,-.2h.6m.4,.7h.6m-.1,-.3h.6m1.8,-.4h.6m-13.1,1.6h.6m-.2,.1h.6m-.2,-.4h.6m-.4,-.1h.6m.6,.1h.6m-.6,.1h.6m-.3,.4h.6m1.2,-.4h.6m-.4,-.1h.6m-.6,-.1h.6m-.3,0h.6m-.5,-.2h.6m-.5,.1h.6m5.3,-.1h.6m.9,.4h.6m-14.9,.9h.6m-.4,.1h.6m0,-.3h.6m-.3,-.1h.6m-.6,-.1h.6m-.4,0h.6m-.4,.8h.6m-.5,-.8h.6m1.1,.8h.6m.2,0h.6m.1,-.5h.6m1.4,-.1h.6m-.5,.2h.6m0,-.3h.6m-.3,.9h.6m1.6,-.4h.6m.6,-.1h.6m-.4,0h.6m1.1,.4h.6m7.5,-.2h.6m-23.9,.9h.6m.3,.1h.6m-.3,-.4h.6m-.5,-.1h.6m-.3,-.1h.6m.5,.3h.6m0,-.2h.6m.3,.6h.6m0,-.4h.6m-.4,.2h.6m-.5,-.1h.6m-.1,-.3h.6m.3,0h.6m2.7,.6h.6m-26.3,.9h.6m11.4,0h.6m-.4,.1h.6m.4,.1h.6m-.5,0h.6m-.5,-.1h.6m-.4,.2h.6m-.1,-.3h.6m-.6,-.4h.6m-.1,-.1h.6m-.5,.4h.6m-.6,-.2h.6m-.2,.3h.6m-.5,0h.6m-.2,-.3h.6m-.1,.3h.6m.7,-.2h.6m0,0h.6m-.5,-.1h.6m-.2,-.3h.6m-.3,.4h.6m-.6,-.1h.6m0,.2h.6m-.1,-.2h.6m.6,.1h.6m0,-.2h.6m.3,.3h.6m-.5,0h.6m0,.4h.6m-.5,-.5h.6m0,.3h.6m-.2,-.4h.6m3,-.4h.6m1.6,0h.6m6.8,.7h.6m-36.2,.9h.6m-.3,-.2h.6m5.7,.4h.6m-.6,0h.6m-.3,.1h.6m-.4,-.4h.6m-.6,.4h.6m-.4,-.1h.6m.2,-.3h.6m-.3,0h.6m.2,.1h.6m-.6,.1h.6m.2,-.1h.6m-.6,-.3h.6m-.6,.4h.6m.1,-.6h.6m0,.8h.6m.1,-.5h.6m-.4,-.1h.6m.5,-.2h.6m-.5,.2h.6m-.2,.2h.6m-.4,-.3h.6m0,.7h.6m.5,0h.6m.5,-.8h.6m.2,.6h.6m1.1,-.3h.6m1.5,.5h.6m-.3,-.3h.6m1.1,0h.6m2.2,-.2h.6m2.4,.5h.6m-31.5,.6h.6m-.5,.4h.6m-.4,-.5h.6m-.5,-.3h.6m-.1,.8h.6m-.6,-.8h.6m-.5,.7h.6m-.5,-.1h.6m-.2,-.3h.6m-.1,-.4h.6m-.6,.3h.6m-.2,.4h.6m-.4,0h.6m-.4,.2h.6m-.5,-.5h.6m-.2,.1h.6m-.4,0h.6m-.5,.1h.6m-.6,.4h.6m1.2,-.5h.6m-.3,-.2h.6m-.3,.3h.6m.2,.4h.6m-.2,-.4h.6m-.3,-.3h.6m.1,.2h.6m-.4,.4h.6m-.1,-.8h.6m-.6,-.1h.6m-.3,.7h.6m-.3,.1h.6m-.4,0h.6m.4,-.8h.6m-.1,.2h.6m-.6,.2h.6m-.5,.2h.6m-.2,-.5h.6m.7,.8h.6m-.5,-.8h.6m-.5,.6h.6m-.4,.1h.6m-.5,-.6h.6m-.2,.1h.6m-.2,.4h.6m-.5,.2h.6m.6,-.8h.6m-.2,.1h.6m.5,-.1h.6m1.6,.6h.6m.3,-.2h.6m-.3,.3h.6m2.7,-.6h.6m-.5,.5h.6m.6,-.4h.6m1.3,0h.6m1.6,-.3h.6m.8,.5h.6m4.5,.4h.6m1.9,-.1h.6m-38.1,.9h.6m-.6,.2h.6m.5,-.4h.6m-.1,.3h.6m.3,.1h.6m-.4,-.8h.6m-.4,0h.6m-.1,0h.6m-.4,.2h.6m.3,.4h.6m-.5,-.1h.6m.1,-.1h.6m-.1,.2h.6m.1,-.2h.6m-.6,0h.6m0,-.4h.6m-.4,.6h.6m1.2,-.3h.6m.2,0h.6m.1,-.1h.6m0,.2h.6m-.5,-.4h.6m.1,.6h.6m-.4,.2h.6m.3,-.2h.6m-.2,-.6h.6m-.5,.4h.6m-.5,.3h.6m-.4,-.7h.6m.1,.4h.6m-.5,.3h.6m-.3,-.4h.6m.3,.2h.6m-.5,.3h.6m5.9,-.4h.6m2,-.3h.6m0,.2h.6m1.4,-.3h.6m-.4,.6h.6m2.6,-.2h.6m-33.2,.9h.6m0,.6h.6m1.1,-.8h.6m0,.1h.6m.3,.4h.6m.3,.3h.6m0,-.5h.6m-.3,0h.6m-.4,-.4h.6m0,.5h.6m-.4,0h.6m.7,.4h.6m-.6,-.1h.6m.2,-.7h.6m-.2,.6h.6m.5,-.1h.6m-.6,.2h.6m-.6,.1h.6m-.5,-.9h.6m-.2,.6h.6m2.4,.3h.6m-.2,-.2h.6m2.4,-.1h.6m.3,-.3h.6m2,-.1h.6m-.5,.4h.6m.1,-.4h.6m.8,.3h.6m-.4,.4h.6m1.8,-.9h.6m.9,.9h.6m2.4,-.1h.6m2,-.9h.6m6.1,.9h.6m-.4,-.4h.6m-39.2,.9h.6m1,-.1h.6m.5,.2h.6m.5,.2h.6m.2,.2h.6m-.5,-.6h.6m2,.2h.6m.6,-.2h.6m.3,.6h.6m7.3,-.7h.6m-.5,.5h.6m1.7,.1h.6m4.4,-.3h.6m.4,-.2h.6m-.1,.3h.6m8.8,.3h.6m-36.8,1h.6m-.1,-.5h.6m-.3,-.1h.6m-.4,-.3h.6m.8,1h.6m-.1,-.3h.6m2,.2h.6m1.4,-.7h.6m-.3,.8h.6m-.4,-.5h.6m.4,.4h.6m2.8,-.5h.6m.2,.6h.6m3.1,-1h.6m-.2,.7h.6m-.5,-.6h.6m2.2,.6h.6m1.2,-.4h.6m2.7,.1h.6m0,.5h.6m1.6,-.5h.6m6.2,.2h.6m4.4,0h.6m-40,1.3h.6m1.4,-.5h.6m-.2,.5h.6m.7,-.3h.6m.4,-.1h.6m8,0h.6m.3,-.4h.6m.8,.6h.6m1.5,-.3h.6m5.5,.5h.6m-25.2,.9h.6m-.5,.2h.6m.6,-1h.6m-.1,.5h.6m3.6,.3h.6m.2,-.2h.6m-.6,.2h.6m.3,-.3h.6m2,-.2h.6m1.1,.6h.6m4.2,-.9h.6m9.5,0h.6m5.6,.3h.6m1.4,-.2h.6m-35.3,1.1h.6m5.6,.5h.6m2.8,-.1h.6m23.1,-.4h.6m6.3,.2h.6m-36.9,.8h.6m13.5,-.1h.6m.8,0h.6m11.3,.7h.6m.4,-.2h.6m-29.6,.5h.6m4.5,.2h.6m15,-.2h.6m7.4,.2h.6m1.6,0h.6" stroke="#111" stroke-width=".6" fill="none"/>
<path d="M558.1,36.3l2.8-.6 3.1,1.1 2,2.6 .4,3.1-.8,3.1-2.1,3.9-8.1,9.4-8.5,7.4-7.8,3.8-3.9,1.1-4.6,.4-3.1-.6-2.4-1.4-1-1.4-.6-2.3 .5-2.4 1.1-1.7 3.1-2.1 9.4-3.2 5.1-3.1 6.5-6.3 5.8-8.5 3.1-2.3z" fill="#fff" stroke="#333" stroke-width=".5"/>
<path d="M559.2,37.1l2.5-.1 2.5,1.6 1,2.4-.2,3.1-1.3,3.1-2,3.1-7.8,8.4-7.8,6.7-7.8,3.8-3.8,1-3.9,.2-3-.7-1.7-1.2-.9-1.9-.1-1.5 .5-1.6 1.3-1.5 2.3-1.4 8.6-2.8 6-3.6 6.4-6.3 5.7-8.5 1.8-1.5 1.7-.8zM558.1,38.6l2.8-.6 2.3,1.2 1,1.8-.2,3.1-2.8,5.4-8.1,8.4-7.3,6.4-7.5,3.9-3.1,.8-3.9,.4-2.3-.3-1.6-.9-1.3-2.3 .3-1.6 1.1-1.5 2.3-1.4 8.5-2.9 6.1-3.5 6.3-6.2 4.7-7.7 2.7-2.5zM558.8,39.4l2.1-.3 1.7,1.1 .7,2.3-.5,2.4-2.7,4.5-4.5,4-3.3,3.7-7.2,6.4-6.8,3.6-3.1,1-3.1,.3-2.3-.3-1.6-.9-.6-2.1 1.4-2 10.1-3.8 5.1-2.8 1.9-1.5 5.3-5.5 4.1-7 1.5-1.8 1.8-1.3zM558.2,41l1.9-.7 1.6,.7 .4,.8 0,2.3-1.2,2.7-2.2,2.7-4,2.7-2.9,3.6-4.1,3-2.6,3.2-2.2,1.5-6.3,3.1-4.5,.6-2.3-.8-.4-1.3 1.3-1.6 8.4-2.9 7.8-4 5.8-6.3 2.7-6.1 2.8-3.2zM558.1,42.5l2-.6 .7,.6 .1,1.6-1.6,3.2-1.5,1.4-1.6,.5-.8-.5 .2-2.3 1.2-2.3 1.3-1.6zM535.3,63.5l2.8,0-2,1.6-1.6,.2-1.1-.2 .2-.8 1.7-.8z" fill="none" stroke="#777" stroke-width=".45"/>
<rect x="505.8" y="54.0" width="19.7" height="27.8" fill="#cdcdcd"/>
<path d="M525.1,65.7 524.8,70.8 524.2,73.6 523.2,75.4 521.9,76.8 520.5,77.9 518.7,78.7 515.4,79.3 511.9,79.4 509.9,78.9 508.4,77.7 507.4,75.8 506.8,73.4 506.5,70.5 506.5,65.7 506.5,60.8 506.8,57.9 507.4,55.6 508.4,53.7 509.9,52.5 511.9,51.9 515.4,52.1 518.7,52.6 520.5,53.5 521.9,54.5 523.2,55.9 524.2,57.8 524.8,60.5zM524.0,65.4 523.6,69.4 523.0,71.6 522.2,73.4 521.3,74.9 520.1,76.1 518.6,77.0 515.8,77.5 513.0,77.3 511.3,76.5 510.1,75.2 509.3,73.6 508.7,71.6 508.3,69.2 508.0,65.4 507.9,61.4 508.2,58.8 508.8,56.7 509.9,55.3 511.4,54.4 513.1,54.1 515.8,54.1 518.4,54.4 520.1,54.9 521.5,55.7 522.6,56.9 523.5,58.7 523.9,61.3zM522.7,65.1 522.5,68.1 522.1,70.0 521.6,71.7 520.8,73.2 519.8,74.3 518.4,75.0 516.2,75.2 514.1,74.8 512.7,74.0 511.7,72.9 510.9,71.6 510.3,70.1 509.8,68.2 509.5,65.1 509.5,61.9 509.8,59.8 510.6,58.2 511.6,57.1 512.8,56.4 514.2,55.9 516.2,55.7 518.3,55.8 519.7,56.1 521.0,56.8 521.9,58.1 522.5,59.8 522.8,62.0zM521.7,64.8 521.6,67.0 521.4,68.7 521.0,70.2 520.3,71.4 519.4,72.3 518.2,72.7 516.6,72.7 515.1,72.3 514.1,71.7 513.2,70.9 512.4,70.0 511.7,68.7 511.3,67.1 511.1,64.8 511.2,62.5 511.7,60.9 512.3,59.7 513.1,58.7 514.1,58.0 515.1,57.4 516.6,57.1 518.2,57.1 519.4,57.4 520.3,58.3 521.0,59.5 521.5,61.0 521.7,62.7zM520.9,64.6 520.9,66.1 520.7,67.4 520.3,68.5 519.7,69.4 518.9,70.0 518.0,70.2 517.0,70.2 516.0,70.0 515.2,69.7 514.4,69.2 513.8,68.4 513.3,67.4 513.0,66.1 512.9,64.6 513.1,63.1 513.5,61.9 514.0,60.9 514.5,60.1 515.2,59.4 516.0,58.8 517.0,58.5 518.1,58.6 518.9,59.1 519.6,59.8 520.2,60.8 520.5,61.9 520.8,63.1zM520.1,64.3 520.1,65.2 519.9,66.0 519.6,66.8 519.1,67.3 518.6,67.7 518.0,67.9 517.4,68.0 516.8,68.0 516.3,67.8 515.7,67.4 515.3,66.8 514.9,66.0 514.8,65.2 514.8,64.3 514.9,63.4 515.1,62.7 515.4,61.9 515.8,61.3 516.2,60.7 516.8,60.4 517.4,60.2 518.0,60.4 518.6,60.8 519.0,61.3 519.4,62.0 519.7,62.7 520.0,63.4zM519.3,64.0 519.3,64.4 519.1,64.8 518.9,65.2 518.6,65.5 518.4,65.8 518.1,66.0 517.8,66.1 517.6,66.1 517.2,65.9 516.9,65.7 516.7,65.3 516.6,64.8 516.5,64.4 516.5,64.0 516.5,63.6 516.6,63.2 516.7,62.8 517.0,62.4 517.2,62.1 517.5,61.9 517.8,61.9 518.1,62.0 518.4,62.2 518.6,62.5 518.9,62.8 519.1,63.2 519.2,63.6z" fill="none" stroke="#555" stroke-width=".6"/>
<rect x="505.9" y="78.6" width="19.0" height="1.8" fill="#333"/>
<rect x="505.9" y="54.0" width="1.2" height="26.8" fill="#555"/>
<path d="M525.50,54.00 V20.00 H567.10 V54.00 H505.90 V80.20 H525.50 V54.00" fill="none" stroke="#000" stroke-width="1.7"/>
<text x="564.50" y="28.80" font-size="8.0" font-weight="bold" fill="#000" text-anchor="end" >9.0</text>
<text x="564.50" y="78.00" font-size="8.0" font-weight="bold" fill="#000" text-anchor="end" >22</text>
<line x1="567.50" y1="34.90" x2="601.70" y2="34.90" stroke="#000" stroke-width="2.0" />
<polygon points="600.20,31.50 608.70,34.90 600.20,38.30" fill="#000"/>
<rect x="590.30" y="19.60" width="62.20" height="62.20" fill="none" stroke="#9a9a9a" stroke-width="0.7" />
<line x1="590.30" y1="24.78" x2="591.50" y2="24.78" stroke="#888" stroke-width="0.5" />
<line x1="590.30" y1="29.97" x2="591.50" y2="29.97" stroke="#888" stroke-width="0.5" />
<line x1="590.30" y1="35.15" x2="591.50" y2="35.15" stroke="#888" stroke-width="0.5" />
<line x1="590.30" y1="40.33" x2="591.50" y2="40.33" stroke="#888" stroke-width="0.5" />
<line x1="590.30" y1="45.52" x2="591.50" y2="45.52" stroke="#888" stroke-width="0.5" />
<line x1="590.30" y1="50.70" x2="591.50" y2="50.70" stroke="#888" stroke-width="0.5" />
<line x1="590.30" y1="55.88" x2="591.50" y2="55.88" stroke="#888" stroke-width="0.5" />
<line x1="590.30" y1="61.07" x2="591.50" y2="61.07" stroke="#888" stroke-width="0.5" />
<line x1="590.30" y1="66.25" x2="591.50" y2="66.25" stroke="#888" stroke-width="0.5" />
<line x1="590.30" y1="71.43" x2="591.50" y2="71.43" stroke="#888" stroke-width="0.5" />
<line x1="590.30" y1="76.62" x2="591.50" y2="76.62" stroke="#888" stroke-width="0.5" />
<line x1="595.48" y1="81.80" x2="595.48" y2="80.60" stroke="#888" stroke-width="0.5" />
<line x1="600.67" y1="81.80" x2="600.67" y2="80.60" stroke="#888" stroke-width="0.5" />
<line x1="605.85" y1="81.80" x2="605.85" y2="80.60" stroke="#888" stroke-width="0.5" />
<line x1="611.03" y1="81.80" x2="611.03" y2="80.60" stroke="#888" stroke-width="0.5" />
<line x1="616.22" y1="81.80" x2="616.22" y2="80.60" stroke="#888" stroke-width="0.5" />
<line x1="621.40" y1="81.80" x2="621.40" y2="80.60" stroke="#888" stroke-width="0.5" />
<line x1="626.58" y1="81.80" x2="626.58" y2="80.60" stroke="#888" stroke-width="0.5" />
<line x1="631.77" y1="81.80" x2="631.77" y2="80.60" stroke="#888" stroke-width="0.5" />
<line x1="636.95" y1="81.80" x2="636.95" y2="80.60" stroke="#888" stroke-width="0.5" />
<line x1="642.13" y1="81.80" x2="642.13" y2="80.60" stroke="#888" stroke-width="0.5" />
<line x1="647.32" y1="81.80" x2="647.32" y2="80.60" stroke="#888" stroke-width="0.5" />
<path d="M629.7,37.3h0.6m-5,2.1h.6m3.9,-.4h.6m-8.4,3h.6m-2.8,2.4h.6m2.1,1.7h.6m.3,-.4h.6m-6.8,3.5h.6m-.6,.4h.6m-1.7,3.1h.6m-1.2,2h.6m-2.2,2.1h.6m36.8,.4h.6m-40,3.9h.6m4.3,0h.6m-.5,-.5h.6m.7,1.2h.6m-1.9,4.4h.6m30.9,-.7h.6m-30.4,1.8h.6m28.6,3.7h.6m-23.3,4.8h.6m10.8,4.8h.6m-.5,.2h.6" stroke="#333" stroke-width=".6" fill="none"/>
<path d="M642.2,29.3l.6-.5 1.5-.1 2.4,1.4 1.2,1.6 .4,2.3 1.6,3.1 1.3,7.8 0,6.2-1.3,4.7-2.9,6.2-.6,7.7-1.1,4.7-4.1,3.9-2.3,1.1-2.3,.3-3.1-1.3-6.6-6.3-1.2-1.6-.8-.6-2.3-.4-3.9-3.4-.4-1-.5-7 2.9-7.8 5.7-7 3.2-2.3 6.5-2.4 2-2.1 1.6-4.5 1.5-1.1 1-1.6z" fill="#ececec" stroke="#444" stroke-width=".5"/>
<path d="M642.5,37.1l1.1-.3 1.5,.5 1.3,1.3 .7,1.6 .6,2.3-.1,9.4-.9,3.1-.8,1.3-2.3,2.6-3.7,2.3-.2,.8 1.2,1.5 1.1,3.1-.2,2.4-1.4,1.6-1.5,3.2-.8,.6-1.5,.2-3.7-3.3-.2-4.2-9.8-5.9-.1-3.1 1.5-6.2 .9-1.6 2.4-1.5 2-2 3.9-.7 3.8-2.5 5.2-6.5z" fill="#dedede" stroke="none"/>
<path d="M643.7,42.5l1.3,0 .5,.8-.9,2.3 .4,2.4-.2,1.5-1.2,1.6-1.6-.3-.8,.4-2.3,3.3-1.8,1.3-.2,.7 .6,1.6-.5,1.5-1.2,.8-5.5,1.5-1.5-.2-1.9-1.3-.5-.8 .4-3.1 1.5-3.1 2-2.1 2.8-1.8 .4-.7 .7-.2 1.6,1.2 3.1-1.4 .5-.4 .1-1.6 .9-1.5 3.3-2.4z" fill="#d2d2d2" stroke="none"/>
<path d="M641.1,33.2l4-.7 2.7,3.8 1.5,5.5 .6,6.2-.4,3.9-1.2,3.9-3.9,6.2 .2,8.5-.6,1.6-3.7,4.6-2.2,1.1-1.5,.1-1.6-.7-1.2-2-2.4-1.6-1.1-3.1-2.4-2.3-3.8-.7-1.5-2.1-1.6-1-1.1-4-.2-2.3 1.5-3.1 .6-3.1 .8-1.6 6.5-7 3.6-.9 1.5-1.2 2.4-.8 1.4-1 1.7-2 .5-2.6 .9-1.6zM644.2,34.8l.9,.2 1.2,1.3 2,4.7 .5,7-.6,2.3 .3,1.6-1.3,3.9-2.1,3.3-2.4,2.9 .5,3.9-.1,4.6-2.2,1.6-1.2,2.8-.8,.8-2.3,.6-4.1-3.4-1.3-3.9-.7-.8-2.5-2.1-2.7-.2-1.2-2.4-2.3-1.4-.5-1.7 .1-2.3 1.1-3.1 .6-3.1 1.6-2.4 4.9-4.3 1.5-.3 1.6,.5 1.2-.5 .4-1.6 4.6-3.3 1.7-2.1 1.4-2.8 2.2-.3zM642.5,37.1l1.1-.3 1.5,.5 1.3,1.3 .7,1.6 .6,2.3-.1,9.4-.9,3.1-.8,1.3-2.3,2.6-3.7,2.3-.2,.8 1.2,1.5 1.1,3.1-.2,2.4-1.4,1.6-1.5,3.2-.8,.6-1.5,.2-3.7-3.3-.2-4.2-9.8-5.9-.1-3.1 1.5-6.2 .9-1.6 2.4-1.5 2-2 3.9-.7 3.8-2.5 5.2-6.5zM641.1,40.2l1.7-.7 2.3,.3 1.6,1.8 .3,1.7-.4,9.3-.7,2.5-3.1,3.1-3.1,1.1-2.4,2.3-2.3,1.2 .5,.7 1.8,.1 .8,.6 2.5,3.2 .1,.8-1,1.5-.8,2.5-.8,1-.8,.2-.7-.2-1.7-1.9-.9-6.2-.7-.8-1.4-.9-3.1-.2-1.9-1.2-2-.7-1.1-.9-.1-.8 1.4-5.4 1.4-2.2 2.3-1.3 1-2.7 4.6-1.6 4-2.3 2.7-3.9zM643,41.8l2.1-.3 .8,.5 .4,1.3-.9,7.8 .3,2.3-.6,1.6-3.9,3-2.3,.2-1.7,2.2-2.3,.8-1.4,1.1-3.9,.3-4-2.2-.5-.8 .6-1.5 .1-2.3 1.4-2.5 3.2-3 .7-1.8 3.9-1.4 .8,.1 .8,.9 .2-1.7 .7-.8 4.5-3.5 1-.3zM636.4,65.9l.9,.8 .6,1.5 .3,3.1-.9,.7-.8-.7 0-1.6-1.2-2.3 .5-1.2 .6-.3zM643.7,42.5l1.3,0 .5,.8-.9,2.3 .4,2.4-.2,1.5-1.2,1.6-1.6-.3-.8,.4-2.3,3.3-1.8,1.3-.2,.7 .6,1.6-.5,1.5-1.2,.8-5.5,1.5-1.5-.2-1.9-1.3-.5-.8 .4-3.1 1.5-3.1 2-2.1 2.8-1.8 .4-.7 .7-.2 1.6,1.2 3.1-1.4 .5-.4 .1-1.6 .9-1.5 3.3-2.4zM641.1,46.4l.9-.4 .8,.5 .9,1.5-.2,.8-.7,.3-1.5-.3-.2-2.4zM637.1,50.3l1.8-.5 1,.5 .1,.8-1.9,2.8-1.8,1.9 .5,2.3-.2,1.1-.8,.5-2.3,.1-3.2,1.4-1.5-.2-1-.6-.6-.8 .1-.7 3-6.7 1.6-.8 3.9-.3 1.3-.8zM631,52.6l1.7-.4 2.7,.4 .4,.8-.5,3.1 .7,1.6-.2,.7-2.3-.1-1.6,1.2-3.1,.4-.8-.7 .1-.7 2.9-6.3zM631.6,53.4l1.1-.4 1.4,.4 .3,.8-.4,2.3-2.1,2.6-2.3,.1-.4-.3 .3-1.6 2.1-3.9zM632,54.2l1.2,0 .1,1.6-.7,1.5-1.5,1.2-.8-.3-.1-.9 1.8-3.1z" fill="none" stroke="#3c3c3c" stroke-width=".45"/>
<path d="M626.7,78.3l6-.5 9.3,.1 7.8,.9 1.1,.3 .7,.8-7.3,1.3-16.3,0-6.9-1.3 1.5-1.1 4.1-.5z" fill="#999" stroke="#222" stroke-width=".7"/>
<path d="M626.1,79.1l5-.6 9.3-.1 5.5,.5 1.6,1-6.3,.9-7.7,.2-7.8-1-.5-.1 .9-.8zM630.5,79.1l9.2-.3 2.4,.3 1.6,.8-4.8,.5-6.2-.1-3.7-.4 1.5-.8z" fill="#111" stroke="#000" stroke-width=".6"/>
<path d="M621.30,19.90 V53.00 H652.20" fill="none" stroke="#000" stroke-width="1.9"/>
<text x="648.10" y="28.80" font-size="8.0" font-weight="bold" fill="#000" text-anchor="end" >33</text>
<rect x="321.00" y="86.60" width="62.20" height="62.20" fill="none" stroke="#9a9a9a" stroke-width="0.7" />
<line x1="321.00" y1="91.78" x2="322.20" y2="91.78" stroke="#888" stroke-width="0.5" />
<line x1="321.00" y1="96.97" x2="322.20" y2="96.97" stroke="#888" stroke-width="0.5" />
<line x1="321.00" y1="102.15" x2="322.20" y2="102.15" stroke="#888" stroke-width="0.5" />
<line x1="321.00" y1="107.33" x2="322.20" y2="107.33" stroke="#888" stroke-width="0.5" />
<line x1="321.00" y1="112.52" x2="322.20" y2="112.52" stroke="#888" stroke-width="0.5" />
<line x1="321.00" y1="117.70" x2="322.20" y2="117.70" stroke="#888" stroke-width="0.5" />
<line x1="321.00" y1="122.88" x2="322.20" y2="122.88" stroke="#888" stroke-width="0.5" />
<line x1="321.00" y1="128.07" x2="322.20" y2="128.07" stroke="#888" stroke-width="0.5" />
<line x1="321.00" y1="133.25" x2="322.20" y2="133.25" stroke="#888" stroke-width="0.5" />
<line x1="321.00" y1="138.43" x2="322.20" y2="138.43" stroke="#888" stroke-width="0.5" />
<line x1="321.00" y1="143.62" x2="322.20" y2="143.62" stroke="#888" stroke-width="0.5" />
<line x1="326.18" y1="148.80" x2="326.18" y2="147.60" stroke="#888" stroke-width="0.5" />
<line x1="331.37" y1="148.80" x2="331.37" y2="147.60" stroke="#888" stroke-width="0.5" />
<line x1="336.55" y1="148.80" x2="336.55" y2="147.60" stroke="#888" stroke-width="0.5" />
<line x1="341.73" y1="148.80" x2="341.73" y2="147.60" stroke="#888" stroke-width="0.5" />
<line x1="346.92" y1="148.80" x2="346.92" y2="147.60" stroke="#888" stroke-width="0.5" />
<line x1="352.10" y1="148.80" x2="352.10" y2="147.60" stroke="#888" stroke-width="0.5" />
<line x1="357.28" y1="148.80" x2="357.28" y2="147.60" stroke="#888" stroke-width="0.5" />
<line x1="362.47" y1="148.80" x2="362.47" y2="147.60" stroke="#888" stroke-width="0.5" />
<line x1="367.65" y1="148.80" x2="367.65" y2="147.60" stroke="#888" stroke-width="0.5" />
<line x1="372.83" y1="148.80" x2="372.83" y2="147.60" stroke="#888" stroke-width="0.5" />
<line x1="378.02" y1="148.80" x2="378.02" y2="147.60" stroke="#888" stroke-width="0.5" />
<path d="M350.5,88.7h0.6m15,.9h.6m-28,1.2h.6m7.2,.4h.6m17.7,1.9h.6m-5.4,4.7h.6m5.8,-.2h.6m2.6,1.8h.6m-10,.2h.6m4.7,.8h.6m-.4,-.6h.6m.5,0h.6m2.3,1.3h.6m7,.3h.6m1.7,-.7h.6m-28,3.5h.6m21.4,-.7h.6m-23.8,1.5h.6m3.3,-.2h.6m15.1,-.1h.6m-34.2,1.8h.6m-3.4,.9h.6m39.2,-.7h.6m.9,0h.6m3.3,.6h.6m-50.7,.8h.6m26.8,.2h.6m.9,0h.6m7.5,-.2h.6m-26.8,1.2h.6m24.4,-.1h.6m4.1,.2h.6m2,-.6h.6m.6,.6h.6m1,-.5h.6m-.6,-.2h.6m.5,-.1h.6m1.4,.5h.6m-46.2,.9h.6m5.1,.4h.6m5.2,-.6h.6m17.1,.2h.6m6.9,.3h.6m.7,-.5h.6m-.2,.4h.6m-.6,0h.6m-.3,0h.6m-.1,-.1h.6m.2,-.4h.6m.4,.6h.6m-.4,-.5h.6m1.1,-.2h.6m.4,.9h.6m-.2,-.8h.6m.1,.7h.6m2.2,-.1h.6m-.2,-.4h.6m-19.2,1.4h.6m.8,.1h.6m1.4,-.3h.6m-.6,0h.6m4.3,-.1h.6m-.2,-.2h.6m.2,.5h.6m-.6,-.2h.6m-.5,-.4h.6m-.2,.5h.6m-.5,-.4h.6m-.3,.3h.6m-.5,-.3h.6m-.5,-.2h.6m.6,.3h.6m-.6,-.1h.6m1.5,.4h.6m-46.6,.5h.6m-.4,.8h.6m2.8,-1h.6m.2,.3h.6m2,.1h.6m2,.4h.6m18.7,-.3h.6m7.8,.3h.6m.4,.1h.6m-.6,-.5h.6m-.5,.6h.6m-.4,-.9h.6m-.4,.9h.6m-.1,-.6h.6m-.5,.3h.6m-.4,.1h.6m-.3,.1h.6m-.5,-.2h.6m-.6,0h.6m-.3,.2h.6m-.3,-.4h.6m0,.4h.6m-.5,-.7h.6m-.5,.7h.6m-.6,-.5h.6m-.4,.1h.6m-.3,.5h.6m-.1,-1h.6m-.5,.2h.6m-.6,0h.6m-.5,.4h.6m-.4,.1h.6m-.3,-.3h.6m.4,-.4h.6m.4,.7h.6m.2,0h.6m.4,-.5h.6m.6,.8h.6m-.1,-.2h.6m2.6,-.2h.6m-48.9,1.1h.6m17.7,.2h.6m4.5,-.4h.6m4.6,-.4h.6m3.2,.2h.6m.5,.4h.6m-.1,0h.6m-.4,-.4h.6m-.5,.4h.6m-.6,-.2h.6m-.1,.1h.6m-.5,-.4h.6m-.5,.7h.6m-.5,-.1h.6m-.5,-.1h.6m.1,.1h.6m-.1,-.3h.6m-.4,0h.6m-.4,-.3h.6m-.5,0h.6m-.6,.2h.6m-.5,-.3h.6m-.6,.2h.6m-.2,-.1h.6m-.5,.1h.6m-.5,-.1h.6m-.2,-.1h.6m-.4,.1h.6m-.2,.4h.6m-.5,0h.6m-.5,0h.6m-.5,-.5h.6m-.5,.8h.6m-.2,-.1h.6m-.5,0h.6m-.5,-.3h.6m-.3,.1h.6m-.1,.2h.6m-.4,-.2h.6m-.5,-.4h.6m-.4,.3h.6m-.6,-.1h.6m-.2,.2h.6m-.4,-.4h.6m-.6,.4h.6m-.4,.3h.6m.6,-.1h.6m.2,-.5h.6m.2,-.1h.6m-.3,.3h.6m1.2,-.4h.6m-58.7,1.4h.6m3,-.2h.6m.7,-.3h.6m4.5,.9h.6m-.4,.1h.6m1,-.4h.6m.2,.2h.6m2.8,-.8h.6m2.5,0h.6m-.3,.2h.6m1.1,.1h.6m15.6,-.1h.6m3.8,.6h.6m-.3,.1h.6m.6,-.8h.6m-.5,.3h.6m.7,.6h.6m-.4,-.4h.6m-.5,-.4h.6m-.2,.5h.6m-.5,-.5h.6m-.5,-.2h.6m-.4,.2h.6m-.3,-.2h.6m-.4,.8h.6m0,-.1h.6m-.5,-.3h.6m-.2,-.1h.6m-.6,-.2h.6m-.1,0h.6m1.7,.9h.6m-.5,-.8h.6m-.3,.5h.6m-.2,-.4h.6m-.5,.2h.6m-.4,-.2h.6m-.5,.5h.6m.7,-.7h.6m-.3,.3h.6m-.5,.4h.6m-.4,-.4h.6m-.2,.4h.6m.2,-.7h.6m-.3,.3h.6m.1,.3h.6m.8,-.4h.6m-.5,.4h.6m-54.1,1h.6m5.1,-.3h.6m6.1,-.1h.6m14.1,.3h.6m6.1,.1h.6m2.8,-.5h.6m0,.1h.6m-.6,.2h.6m-.2,-.4h.6m1,.5h.6m.7,.2h.6m-.2,-.1h.6m-.2,.2h.6m-.4,-.2h.6m-.5,.2h.6m-.5,-.2h.6m-.1,-.5h.6m3.4,.2h.6m-.6,.4h.6m-.5,-.4h.6m-.6,.5h.6m-.5,-.8h.6m-.6,.5h.6m-.5,-.2h.6m-.6,.4h.6m-.2,.1h.6m-.6,-.5h.6m.2,.2h.6m-.5,-.1h.6m-.3,-.2h.6m.1,.4h.6m-.6,-.2h.6m-.4,.1h.6m3.8,-.3h.6m-56.7,1.7h.6m1.4,0h.6m3.5,-.7h.6m.1,-.3h.6m3.5,.8h.6m1.8,.1h.6m2,-.7h.6m6.9,0h.6m2.2,.1h.6m1.3,0h.6m.5,.4h.6m5.5,0h.6m.4,-.7h.6m.5,.9h.6m0,-.2h.6m-.5,-.5h.6m0,-.1h.6m-.2,.9h.6m.5,-.4h.6m0,.4h.6m-.1,-.5h.6m-.1,.3h.6m-.1,-.5h.6m-.5,.1h.6m0,0h.6m-.6,.5h.6m-.4,.1h.6m-.6,-.3h.6m-.3,-.6h.6m-.4,.2h.6m.1,-.2h.6m-.6,.9h.6m-.6,-.5h.6m-.4,.1h.6m-.5,-.3h.6m-.6,.2h.6m-.5,.4h.6m-.4,.1h.6m-.5,-.7h.6m-.4,0h.6m-.6,0h.6m-.6,-.2h.6m-.6,.4h.6m-.4,0h.6m0,.3h.6m-.2,.2h.6m-.1,-.2h.6m.1,.2h.6m-.4,-.3h.6m-.5,.1h.6m-.1,-.7h.6m-.6,.2h.6m.4,0h.6m-.4,.7h.6m-.2,-.7h.6m.2,.4h.6m-.4,-.7h.6m-.6,.4h.6m-.4,.1h.6m-.5,-.2h.6m1.3,.1h.6m-.5,-.1h.6m.1,.2h.6m2.7,-.5h.6m.5,.3h.6m-58.3,.8h.6m.9,.8h.6m-.2,-.4h.6m.7,0h.6m5.5,-.1h.6m5,.3h.6m.3,-.4h.6m.7,.1h.6m.8,-.3h.6m0,.6h.6m4.1,-.5h.6m-.2,0h.6m3.8,.6h.6m.2,-.7h.6m-.4,.8h.6m.6,-.4h.6m-.1,.3h.6m.5,.1h.6m-.4,-.7h.6m1.3,.4h.6m.1,.2h.6m-.4,-.7h.6m.9,.5h.6m-.3,-.3h.6m0,.3h.6m-.2,.3h.6m.2,-.4h.6m.5,-.3h.6m-.4,.7h.6m.2,-.7h.6m-.3,.7h.6m-.5,-.5h.6m-.1,.5h.6m-.4,-.2h.6m-.4,-.3h.6m-.5,.1h.6m-.4,.3h.6m-.6,-.3h.6m-.4,.2h.6m-.1,-.4h.6m-.4,.3h.6m-.3,-.3h.6m-.2,.5h.6m.4,-.4h.6m-.1,0h.6m-.5,0h.6m-.6,.3h.6m-.6,-.5h.6m-.5,.4h.6m-.6,.1h.6m-.5,.1h.6m-.6,-.6h.6m-.5,.7h.6m-.2,-.2h.6m-.4,-.3h.6m-.6,.3h.6m-.4,-.5h.6m-.5,.2h.6m-.5,0h.6m.1,-.2h.6m.6,.4h.6m.7,0h.6m-.2,.3h.6m.1,-.6h.6m-.4,.6h.6m-.5,-.7h.6m-.6,-.1h.6m.6,.3h.6m.2,.5h.6m-.3,0h.6m-.5,-.6h.6m-52.5,1.1h.6m-.1,-.3h.6m1.9,.2h.6m1.1,.6h.6m-.1,.1h.6m4.8,-.7h.6m.6,-.2h.6m1.1,0h.6m2.4,.2h.6m0,.3h.6m-.4,-.1h.6m1.5,-.3h.6m-.1,.3h.6m1.1,.2h.6m1.5,-.2h.6m1.4,0h.6m0,.2h.6m1.2,.1h.6m-.6,-.3h.6m2.2,.4h.6m-.3,-.3h.6m-.2,-.6h.6m-.3,.1h.6m-.6,.1h.6m-.3,0h.6m-.4,.1h.6m1.2,.3h.6m-.2,.3h.6m-.4,-.6h.6m1.1,.1h.6m-.3,-.4h.6m-.5,.5h.6m.1,-.4h.6m.5,.1h.6m-.3,.8h.6m-.5,-1h.6m-.6,.4h.6m-.3,0h.6m.2,.6h.6m-.1,-.1h.6m-.5,-.3h.6m-.2,-.4h.6m.1,.5h.6m.4,-.6h.6m-.6,.7h.6m-.3,-.6h.6m.1,.5h.6m.2,.1h.6m-.5,.1h.6m-.4,-.6h.6m-.5,.2h.6m-.5,.2h.6m-.6,-.6h.6m.1,.6h.6m-.6,-.4h.6m-.3,.1h.6m.1,.2h.6m-.5,0h.6m-.6,.2h.6m-.6,-.2h.6m-.2,-.5h.6m-.4,.4h.6m1.4,-.1h.6m-.6,-.3h.6m-.3,.5h.6m1.2,-.2h.6m2.2,0h.6m-52.1,1h.6m-.4,.3h.6m8.3,-.1h.6m2.8,-.4h.6m1.6,0h.6m.5,.2h.6m-.5,-.1h.6m-.2,.5h.6m-.5,-.5h.6m-.4,.6h.6m1.1,-.2h.6m3.1,0h.6m-.1,.2h.6m1.1,-.5h.6m-.5,0h.6m.1,.1h.6m-.4,.2h.6m.1,-.5h.6m-.2,.3h.6m.7,-.1h.6m.2,-.1h.6m-.1,.1h.6m-.1,.4h.6m.3,-.6h.6m1.3,.6h.6m.3,-.6h.6m-.2,.4h.6m-.2,-.4h.6m-.5,.1h.6m-.1,.2h.6m-.4,.3h.6m-.3,-.2h.6m-.3,.1h.6m-.5,.2h.6m-.2,-.5h.6m-.1,.3h.6m-.5,-.2h.6m.4,-.1h.6m-.2,.4h.6m.3,-.1h.6m.7,-.6h.6m-.3,.2h.6m-.5,-.1h.6m-.5,.1h.6m-.5,.5h.6m-.5,-.3h.6m-.5,.2h.6m-.6,-.6h.6m-.4,.6h.6m.8,-.2h.6m-.5,.2h.6m.2,.1h.6m.3,-.4h.6m.2,.2h.6m.2,.1h.6m4.8,0h.6m-43.4,.9h.6m-.5,.2h.6m2.8,-.7h.6m.6,.4h.6m0,.5h.6m1.1,-1h.6m1,.7h.6m0,.3h.6m-.6,-.8h.6m.9,.3h.6m-.3,.4h.6m-.5,-.7h.6m1.3,.4h.6m1.6,.1h.6m.1,.2h.6m1.4,-.9h.6m-.2,1h.6m-.3,-.2h.6m-.1,-.6h.6m-.1,.1h.6m-.5,-.3h.6m-.2,.8h.6m.2,.1h.6m-.1,-.6h.6m-.6,.2h.6m0,.4h.6m.3,-.2h.6m.7,-.5h.6m0,.4h.6m.6,-.3h.6m-.5,-.3h.6m-.6,.3h.6m-.2,.7h.6m-.6,0h.6m-.2,-.8h.6m-.6,.4h.6m-.4,.4h.6m-.3,-.3h.6m-.5,-.3h.6m-.4,-.3h.6m-.3,0h.6m-.5,.7h.6m.6,-.8h.6m-.3,.4h.6m-.2,-.3h.6m-.4,-.1h.6m0,.6h.6m-.5,-.4h.6m.4,.6h.6m-.2,-.8h.6m-.6,.1h.6m-.5,.4h.6m.4,.1h.6m-.3,-.3h.6m-.5,.7h.6m-.3,-.1h.6m-.1,-.2h.6m-.1,.3h.6m.3,0h.6m0,-.9h.6m.6,.1h.6m.8,.5h.6m-45.5,1h.6m3.3,-.2h.6m2,-.1h.6m.3,.3h.6m.3,0h.6m.4,-.6h.6m.3,.8h.6m.3,-.5h.6m-.2,.3h.6m0,.1h.6m-.5,-.6h.6m1.2,.5h.6m-.6,-.2h.6m-.5,0h.6m1.1,-.2h.6m-.4,.6h.6m-.4,0h.6m-.4,0h.6m-.4,-.8h.6m-.6,.8h.6m.5,-.1h.6m-.1,-.3h.6m-.2,.3h.6m-.2,-.1h.6m-.5,0h.6m-.6,.1h.6m-.1,-.3h.6m.5,.4h.6m-.6,-.8h.6m-.5,.8h.6m-.4,-.1h.6m-.5,0h.6m0,.1h.6m-.4,-.6h.6m-.2,.2h.6m.3,-.4h.6m-.5,.6h.6m-.5,-.6h.6m-.6,.6h.6m1.7,-.2h.6m.8,-.1h.6m-.4,0h.6m-.1,-.1h.6m-.6,-.2h.6m-.5,.1h.6m-.6,.7h.6m-.4,-.8h.6m-.3,.6h.6m.6,.1h.6m-.5,-.4h.6m-.5,-.1h.6m-.3,.2h.6m-.6,.1h.6m-.2,.3h.6m-.2,-.7h.6m-.2,.3h.6m-.4,.1h.6m-.4,.3h.6m-.4,-.1h.6m-.6,-.2h.6m-.5,-.4h.6m-.5,0h.6m-.4,.1h.6m.1,.6h.6m-.3,-.5h.6m-.5,-.1h.6m-.5,.6h.6m-.3,-.7h.6m1.4,.6h.6m-.2,-.6h.6m-.6,-.1h.6m-.5,.2h.6m-.5,.4h.6m-.4,0h.6m-.5,0h.6m-.6,.1h.6m.5,-.6h.6m-.3,.6h.6m.1,-.3h.6m.2,.1h.6m-.1,-.5h.6m-.6,.3h.6m-.3,-.3h.6m.1,.4h.6m-.3,.1h.6m1.7,-.4h.6m-43.5,1.5h.6m3,.3h.6m.1,-.5h.6m.6,-.1h.6m.4,.3h.6m.5,0h.6m-.2,.3h.6m-.3,-.7h.6m-.5,.1h.6m-.1,.6h.6m.6,-.8h.6m.2,.5h.6m0,.1h.6m-.5,-.5h.6m-.5,.5h.6m-.5,-.7h.6m-.2,.1h.6m-.2,-.1h.6m.4,.9h.6m-.4,-.3h.6m-.5,-.2h.6m-.4,.2h.6m-.4,-.5h.6m-.2,.6h.6m-.5,.2h.6m-.5,-.8h.6m-.5,.2h.6m-.1,.6h.6m.3,-.4h.6m0,-.5h.6m.7,.5h.6m.3,-.5h.6m-.3,.3h.6m-.2,.1h.6m-.2,.5h.6m-.2,-1h.6m.8,.2h.6m-.4,.3h.6m-.6,-.3h.6m0,.7h.6m-.3,-.6h.6m-.5,.7h.6m-.3,0h.6m-.1,-.5h.6m-.6,.1h.6m-.6,.4h.6m-.2,-.8h.6m-.5,.7h.6m-.2,.1h.6m-.5,-.5h.6m-.4,-.4h.6m-.4,.1h.6m.4,.8h.6m-.2,-1h.6m-.6,.7h.6m-.2,.1h.6m-.5,-.3h.6m-.4,-.2h.6m-.4,.1h.6m-.6,.5h.6m-.3,-.8h.6m-.4,.7h.6m-.2,-.1h.6m-.4,.3h.6m.2,-.9h.6m-.5,.5h.6m-.5,.1h.6m-.6,-.4h.6m-.5,0h.6m-.5,-.1h.6m-.5,.1h.6m-.6,.2h.6m-.6,.3h.6m-.4,-.7h.6m-.5,-.1h.6m-.3,.4h.6m-.5,-.2h.6m-.3,0h.6m-.5,0h.6m-.1,.7h.6m-.6,-.3h.6m-.1,-.4h.6m-.5,.2h.6m-.4,0h.6m-.6,.4h.6m-.5,.2h.6m-.5,-.1h.6m-.2,-.9h.6m.4,.4h.6m-.4,.3h.6m-.6,-.3h.6m-.5,.1h.6m.1,.1h.6m-.5,.1h.6m-.3,-.3h.6m-.5,-.2h.6m-.6,.3h.6m-.5,.2h.6m0,-.5h.6m-.6,0h.6m-.6,.3h.6m-.4,-.2h.6m-.3,0h.6m-.5,.7h.6m-.6,-.7h.6m-.1,0h.6m0,.3h.6m0,-.3h.6m.6,.4h.6m.9,-.7h.6m-.1,.9h.6m1.9,-.5h.6m1.8,-.2h.6m-44.3,.9h.6m2.5,.3h.6m-.1,.1h.6m-.3,-.3h.6m-.6,.4h.6m.2,-.4h.6m-.4,.3h.6m-.5,.4h.6m-.5,-.6h.6m-.5,.3h.6m.7,0h.6m-.4,.1h.6m-.4,.2h.6m-.3,-.1h.6m-.6,-.2h.6m0,-.2h.6m.2,0h.6m.2,0h.6m-.4,.3h.6m-.4,-.3h.6m-.5,0h.6m.1,.4h.6m-.5,.1h.6m-.5,-.7h.6m-.6,.2h.6m-.5,.4h.6m-.1,0h.6m-.2,-.5h.6m-.3,.6h.6m-.1,-.6h.6m-.2,.6h.6m-.3,-.5h.6m-.5,.4h.6m-.4,0h.6m-.1,.1h.6m-.5,0h.6m.9,-.4h.6m-.3,-.3h.6m-.2,-.1h.6m-.6,.6h.6m-.6,-.1h.6m-.4,.3h.6m.3,-.8h.6m-.6,.2h.6m.2,.5h.6m-.4,-.4h.6m-.2,.5h.6m-.4,-.1h.6m-.3,-.1h.6m-.1,-.1h.6m-.5,.2h.6m0,-.1h.6m-.5,-.3h.6m-.5,-.3h.6m-.3,.8h.6m-.4,-.3h.6m-.6,-.4h.6m-.5,.5h.6m-.6,.1h.6m-.5,0h.6m-.6,-.4h.6m-.4,.5h.6m-.6,-.1h.6m-.5,-.2h.6m-.5,.1h.6m-.4,-.4h.6m-.4,-.1h.6m.3,.6h.6m-.4,-.2h.6m-.5,-.1h.6m-.5,-.2h.6m-.3,-.2h.6m-.6,.4h.6m.4,-.3h.6m-.1,.1h.6m-.6,-.1h.6m-.5,.2h.6m-.5,-.3h.6m2.5,.5h.6m.3,-.3h.6m-.2,.1h.6m-.6,0h.6m-.2,0h.6m-.3,.4h.6m-.3,-.1h.6m-.6,.1h.6m0,-.2h.6m-.4,-.1h.6m.4,.1h.6m-.4,-.3h.6m-.6,.5h.6m.4,-.4h.6m-.1,-.3h.6m1.6,.2h.6m-.3,-.1h.6m-.5,.5h.6m.3,-.2h.6m0,-.1h.6m-.2,.5h.6m1.7,-.1h.6m.8,0h.6m1.3,-.5h.6m-45.4,1.4h.6m.5,0h.6m.4,-.2h.6m-.3,.3h.6m.1,-.1h.6m0,-.5h.6m-.3,-.2h.6m-.6,.3h.6m0,0h.6m-.5,-.2h.6m-.6,.8h.6m-.2,-.9h.6m-.4,.6h.6m-.5,.4h.6m-.4,-.9h.6m-.6,.8h.6m-.4,-.4h.6m-.6,-.1h.6m-.4,-.1h.6m-.6,.6h.6m-.3,-.9h.6m-.4,.7h.6m-.5,-.2h.6m-.1,0h.6m-.3,-.3h.6m-.5,0h.6m-.5,.8h.6m-.3,-.1h.6m-.5,-.4h.6m-.5,.5h.6m-.5,-.2h.6m-.5,-.8h.6m-.6,.7h.6m.1,-.6h.6m.2,-.1h.6m.3,.2h.6m.2,.1h.6m-.3,-.2h.6m.2,.1h.6m-.1,.2h.6m-.2,.1h.6m-.5,.3h.6m-.6,-.1h.6m-.6,.1h.6m-.3,-.6h.6m-.5,.6h.6m-.6,-.4h.6m-.5,0h.6m-.3,.3h.6m-.5,-.2h.6m-.3,.1h.6m-.4,.2h.6m-.5,-.6h.6m-.2,.3h.6m-.3,.4h.6m-.5,-.2h.6m-.5,.3h.6m-.5,-.7h.6m-.3,.4h.6m-.5,-.2h.6m-.6,-.2h.6m-.4,.2h.6m-.5,.2h.6m-.6,-.7h.6m.3,.9h.6m-.5,-.4h.6m-.5,-.1h.6m-.3,.1h.6m-.4,0h.6m-.6,-.3h.6m-.2,.5h.6m.1,-.1h.6m-.6,-.4h.6m-.5,.3h.6m-.5,0h.6m-.4,.3h.6m-.1,0h.6m-.5,-.7h.6m-.6,0h.6m-.5,-.1h.6m-.6,.2h.6m-.6,.8h.6m-.3,-.9h.6m-.6,.3h.6m-.5,.2h.6m-.3,-.6h.6m-.6,.4h.6m-.4,.4h.6m-.3,0h.6m-.6,.2h.6m-.5,0h.6m-.2,-.9h.6m-.5,0h.6m.6,.3h.6m6,-.3h.6m-.6,0h.6m-.5,.1h.6m-.5,.1h.6m-.3,0h.6m-.5,-.1h.6m-.4,.4h.6m-.4,-.6h.6m-.4,.4h.6m-.4,-.2h.6m-.5,-.1h.6m-.4,-.1h.6m-.4,.6h.6m-.2,-.1h.6m-.5,-.3h.6m-.6,.3h.6m-.5,-.2h.6m-.6,.6h.6m-.2,-.9h.6m-.4,1h.6m-.5,-.8h.6m-.5,.6h.6m-.1,-.7h.6m-.3,.5h.6m-.4,-.6h.6m1,.6h.6m-.1,-.1h.6m-.4,.4h.6m-.1,-.8h.6m-.4,.1h.6m3.7,-.2h.6m-39.3,1.1h.6m-.4,.6h.6m0,-.4h.6m-.5,.2h.6m.3,.1h.6m-.5,-.3h.6m-.5,.6h.6m-.3,-.5h.6m-.6,-.1h.6m-.5,.1h.6m-.2,.1h.6m-.6,.3h.6m-.1,-.1h.6m-.4,.2h.6m-.5,-.1h.6m.4,-.7h.6m6.8,.1h.6m.2,-.1h.6m-.2,.4h.6m-.5,0h.6m-.6,-.1h.6m-.3,.4h.6m-.2,-.4h.6m-.5,0h.6m-.4,-.3h.6m-.6,.7h.6m-.6,-.7h.6m-.3,.7h.6m-.5,-.4h.6m-.3,.4h.6m-.5,-.4h.6m-.4,.2h.6m-.6,0h.6m-.3,-.1h.6m-.3,-.1h.6m-.5,0h.6m-.4,0h.6m-.3,.1h.6m-.5,.1h.6m-.6,-.3h.6m-.4,-.1h.6m-.3,0h.6m.1,-.1h.6m-.1,0h.6m9.4,.8h.6m-.5,-.7h.6m-.2,.6h.6m-.3,-.7h.6m-.4,.6h.6m-.1,-.2h.6m-.4,-.4h.6m-.5,.1h.6m-.4,0h.6m-.4,.7h.6m-.5,-.3h.6m-.6,-.3h.6m-.3,0h.6m-.4,.5h.6m-.5,-.6h.6m-.5,.5h.6m.5,-.1h.6m-.5,.1h.6m.2,.2h.6m.1,-.7h.6m-.3,0h.6m3.2,.6h.6m3.5,-.2h.6m-.5,-.4h.6m-43.2,1.6h.6m-.3,.1h.6m-.1,-.9h.6m-.6,1h.6m-.5,-.6h.6m-.5,-.3h.6m-.1,.8h.6m-.3,-.5h.6m0,.6h.6m-.4,-.2h.6m-.5,0h.6m-.6,-.2h.6m-.3,-.5h.6m-.5,0h.6m-.2,.5h.6m-.6,-.3h.6m-.4,.2h.6m-.4,-.5h.6m-.6,.5h.6m9.2,-.5h.6m2.1,0h.6m11.3,.2h.6m-.4,-.2h.6m-.4,.2h.6m-.5,.3h.6m-.3,-.2h.6m-.3,0h.6m-.4,.1h.6m.3,-.2h.6m-.6,.5h.6m-.5,0h.6m-.6,-.2h.6m-.4,-.2h.6m-.5,.4h.6m-.5,0h.6m-.5,-.7h.6m-.1,.5h.6m-.5,.5h.6m-.3,-.7h.6m.5,.2h.6m-.3,.2h.6m.5,.3h.6m-.3,-.5h.6m-.2,.5h.6m1.2,-.5h.6m2.1,-.2h.6m-40,.9h.6m-.3,-.1h.6m-.3,.5h.6m-.3,-.4h.6m-.6,.6h.6m-.6,-.7h.6m.8,.3h.6m-.6,-.1h.6m-.5,0h.6m-.6,.4h.6m-.5,-.6h.6m-.4,.2h.6m-.5,.5h.6m24.4,-.1h.6m-.6,-.1h.6m-.4,0h.6m.1,.3h.6m-.4,-.6h.6m-.2,.4h.6m-.4,-.1h.6m-.4,-.2h.6m.3,-.2h.6m-.5,.2h.6m1.8,.5h.6m7.1,-.4h.6m-41.7,.7h.6m-.5,.8h.6m-.3,-.6h.6m-.6,.3h.6m-.5,-.5h.6m0,.8h.6m.1,-.5h.6m-.6,-.4h.6m-.1,0h.6m.1,.3h.6m-.6,0h.6m-.6,-.4h.6m24.7,.6h.6m-.5,-.6h.6m-.4,.5h.6m-.6,.3h.6m-.5,-.4h.6m-.5,.5h.6m-.4,-.7h.6m-.6,.6h.6m-.5,-.3h.6m-.2,-.5h.6m-.4,.1h.6m-.6,.6h.6m0,-.5h.6m.4,.1h.6m0,-.3h.6m.4,0h.6m5,.4h.6m-38.2,.7h.6m0,0h.6m-.4,.5h.6m-.5,.2h.6m0,-.5h.6m-.5,.3h.6m-.5,-.2h.6m-.2,.2h.6m-.6,.2h.6m-.5,-.1h.6m-.5,.2h.6m24.4,-.8h.6m-.4,.1h.6m-.5,.5h.6m-.4,-.5h.6m-.5,0h.6m-.6,0h.6m-.5,.5h.6m-.3,-.3h.6m-.5,.2h.6m.1,.3h.6m-.4,-.7h.6m-.1,0h.6m-.2,-.1h.6m-.4,.8h.6m-.3,-.1h.6m2.2,-.7h.6m-.5,.1h.6m2.3,.1h.6m-37.4,1.3h.6m-.5,-.1h.6m-.3,-.2h.6m-.6,.7h.6m-.3,-.7h.6m-.3,0h.6m-.6,.5h.6m-.4,0h.6m-.4,.2h.6m-.5,-1h.6m-.5,.2h.6m-.2,.1h.6m-.4,-.1h.6m.1,.2h.6m-.5,.6h.6m-.5,-.5h.6m-.6,.2h.6m22.5,0h.6m-.1,0h.6m-.5,-.1h.6m-.5,0h.6m-.6,.4h.6m-.5,-.5h.6m-.5,.1h.6m-.4,.1h.6m-.6,-.5h.6m-.2,.8h.6m-.3,-.9h.6m-.5,.8h.6m-.4,0h.6m-.6,-.5h.6m-.3,-.1h.6m-.1,.2h.6m-.5,-.4h.6m-.5,.2h.6m-.1,-.2h.6m-.1,.8h.6m.2,-.5h.6m-.6,.5h.6m.3,-.1h.6m5.3,-.5h.6m-38.7,.9h.6m-.1,.5h.6m-.1,-.4h.6m-.2,.6h.6m.2,-.8h.6m0,.2h.6m.3,.1h.6m-.6,-.2h.6m-.5,0h.6m-.5,.4h.6m-.6,-.5h.6m-.4,.7h.6m-.5,-.3h.6m20.8,0h.6m-.2,.1h.6m-.5,-.5h.6m-.3,.3h.6m-.6,.2h.6m-.2,0h.6m-.4,.3h.6m-.5,0h.6m.2,-.5h.6m-.2,.2h.6m-.4,-.3h.6m-.6,.3h.6m.8,-.4h.6m0,.5h.6m-.6,-.1h.6m-30.8,1.1h.6m-.4,-.6h.6m-.4,.1h.6m-.4,.3h.6m.3,.3h.6m-.5,-.4h.6m.2,0h.6m-.4,-.3h.6m-.6,.8h.6m-.3,-.2h.6m-.5,-.4h.6m-.5,-.3h.6m-.5,.5h.6m-.6,-.3h.6m.1,.6h.6m-.1,0h.6m-.3,-.4h.6m-.5,.5h.6m-.6,-.7h.6m-.5,.5h.6m-.5,0h.6m-.2,-.2h.6m-.6,-.1h.6m-.5,.4h.6m-.5,0h.6m.1,.2h.6m17.7,-.4h.6m-.3,0h.6m-.5,-.2h.6m-.4,.2h.6m-.3,-.2h.6m-.6,0h.6m-.5,0h.6m-.5,.2h.6m-.4,-.5h.6m-.4,.4h.6m-.6,-.4h.6m-.5,-.1h.6m-.5,.3h.6m-.5,.2h.6m-.4,.2h.6m-.4,-.3h.6m-.3,0h.6m-.2,.1h.6m-.4,.1h.6m-.4,.4h.6m-.5,-.9h.6m1.6,.4h.6m5.8,.5h.6m-36.2,.9h.6m.1,-.4h.6m-.4,.1h.6m0,-.5h.6m-.4,.1h.6m1.1,.1h.6m-.5,.2h.6m-.5,-.3h.6m-.2,0h.6m-.3,-.1h.6m-.3,.1h.6m-.6,-.1h.6m1.7,.8h.6m13.3,0h.6m.3,-.3h.6m-.4,-.1h.6m-.6,.1h.6m-.3,-.3h.6m-.4,-.2h.6m-.5,.5h.6m0,.1h.6m-.5,-.5h.6m-.5,.5h.6m-.6,0h.6m-.3,-.5h.6m.2,0h.6m.3,-.1h.6m-.6,0h.6m-.1,.1h.6m-.3,.1h.6m-.3,0h.6m-.2,-.2h.6m.1,.2h.6m1.6,-.2h.6m9.7,.1h.6m-40.8,1.8h.6m-.2,-.7h.6m.7,.7h.6m.9,-.9h.6m-.3,.3h.6m-.5,-.4h.6m-.3,.2h.6m-.4,.3h.6m-.3,0h.6m-.3,.2h.6m-.4,-.6h.6m-.3,.8h.6m-.5,-.4h.6m-.5,-.4h.6m-.5,0h.6m-.5,.4h.6m-.3,-.2h.6m0,.3h.6m-.4,-.1h.6m-.3,-.3h.6m-.5,.8h.6m-.3,0h.6m-.2,-.5h.6m-.6,.3h.6m-.5,0h.6m-.3,-.2h.6m-.3,-.1h.6m10.1,.4h.6m-.4,-.4h.6m-.6,0h.6m-.5,.5h.6m-.2,-.4h.6m-.3,.4h.6m-.5,0h.6m-.5,0h.6m-.5,-1h.6m-.6,.2h.6m-.3,.6h.6m-.3,-.6h.6m-.5,-.1h.6m-.5,.4h.6m-.5,.3h.6m-.2,-.7h.6m-.5,.5h.6m-.6,.2h.6m-.3,-.8h.6m.1,.3h.6m-.1,.1h.6m.1,-.2h.6m-.6,.5h.6m.1,.3h.6m-.4,-.2h.6m-.4,-.6h.6m-.2,.2h.6m.3,-.3h.6m2.1,.5h.6m2.2,-.2h.6m-33.8,.8h.6m.4,.4h.6m.5,-.3h.6m.4,.1h.6m-.4,.5h.6m-.4,-.1h.6m0,.1h.6m-.3,-.7h.6m.9,-.1h.6m-.2,0h.6m0,.1h.6m-.5,.2h.6m0,0h.6m-.5,.4h.6m-.1,0h.6m-.5,-.5h.6m-.2,-.1h.6m.2,.5h.6m-.6,-.5h.6m-.4,.3h.6m-.5,-.1h.6m-.1,0h.6m-.2,.5h.6m-.5,-.1h.6m-.4,-.1h.6m-.6,-.3h.6m-.6,-.1h.6m.3,.2h.6m-.5,.2h.6m-.4,-.3h.6m-.6,.3h.6m.2,-.1h.6m-.5,-.2h.6m-.5,0h.6m-.5,.2h.6m3.3,0h.6m-.2,.1h.6m-.5,.1h.6m-.5,-.4h.6m-.5,.3h.6m-.2,0h.6m-.4,-.3h.6m-.4,.2h.6m-.6,0h.6m-.1,.2h.6m-.4,-.4h.6m-.1,.1h.6m-.5,-.2h.6m-.5,.4h.6m-.5,.1h.6m-.3,.1h.6m-.5,-.3h.6m-.6,0h.6m-.4,-.3h.6m-.5,.2h.6m-.3,.1h.6m-.6,0h.6m-.4,.1h.6m-.6,-.3h.6m.2,-.2h.6m-.6,.4h.6m.3,-.3h.6m-.2,-.1h.6m-.5,.4h.6m-.5,-.5h.6m.5,.5h.6m-.5,-.4h.6m-.5,.1h.6m-.1,-.1h.6m0,.6h.6m-.6,-.4h.6m.5,-.2h.6m-.3,.1h.6m.3,.6h.6m8.6,-.4h.6m-37.3,1.4h.6m-.2,-.1h.6m.9,-.6h.6m0,0h.6m.6,.2h.6m-.3,.3h.6m1.3,.1h.6m.3,-.5h.6m-.5,-.3h.6m.2,.2h.6m-.4,.2h.6m.2,.4h.6m-.3,-.1h.6m-.4,-.6h.6m-.4,.4h.6m-.5,-.2h.6m-.5,0h.6m-.5,.1h.6m-.1,-.2h.6m-.5,-.1h.6m-.3,.7h.6m-.6,0h.6m-.1,.2h.6m-.1,-.6h.6m-.5,.1h.6m-.4,-.5h.6m-.2,.4h.6m-.3,.3h.6m-.3,-.1h.6m-.6,-.4h.6m-.4,0h.6m-.6,.4h.6m-.5,.2h.6m-.6,-.5h.6m0,.3h.6m-.5,.4h.6m-.5,-.5h.6m-.5,.5h.6m-.6,-.1h.6m-.4,-.1h.6m-.6,0h.6m-.4,.2h.6m-.3,-.6h.6m-.4,-.1h.6m-.3,.7h.6m-.5,-.8h.6m-.4,.3h.6m-.4,.2h.6m-.5,-.5h.6m-.1,.6h.6m.3,.1h.6m-.6,-.1h.6m-.6,-.1h.6m-.5,-.1h.6m-.4,-.6h.6m-.5,.2h.6m-.3,.5h.6m-.2,-.7h.6m-.4,.1h.6m-.3,.8h.6m-.4,-.2h.6m-.4,-.2h.6m-.5,-.2h.6m-.4,.4h.6m-.4,-.2h.6m-.6,.3h.6m-.6,-.3h.6m.4,.1h.6m-.3,-.3h.6m-.4,-.1h.6m-.2,0h.6m-.5,-.2h.6m-.5,.6h.6m.7,-.6h.6m.3,.4h.6m1.3,-.1h.6m-.1,0h.6m2.8,.1h.6m-29.6,.9h.6m2.5,.2h.6m.9,.1h.6m1,-.2h.6m.6,-.3h.6m-.1,.3h.6m-.4,.2h.6m-.6,-.1h.6m-.2,-.2h.6m-.6,.2h.6m-.5,-.2h.6m-.4,.1h.6m-.6,.4h.6m-.5,.1h.6m-.2,-.3h.6m-.3,.1h.6m.6,-.2h.6m-.4,-.1h.6m-.3,.1h.6m-.6,-.2h.6m-.4,.3h.6m-.3,-.1h.6m-.1,.4h.6m.3,-.8h.6m-.5,.8h.6m-.2,-.5h.6m.4,-.2h.6m-.5,-.1h.6m-.6,.8h.6m-.5,-.7h.6m-.5,0h.6m-.2,0h.6m-.4,0h.6m.1,.6h.6m0,-.3h.6m-.4,.3h.6m.1,-.3h.6m-.2,.2h.6m-.2,-.1h.6m-.6,-.5h.6m-.3,.3h.6m-.5,.1h.6m.3,-.4h.6m-.5,.7h.6m-.6,0h.6m.2,-.3h.6m-.6,-.1h.6m2.7,.5h.6m10.1,-.3h.6m-32.8,1.1h.6m1,.1h.6m2.1,-.8h.6m.2,1h.6m0,-.9h.6m1.7,-.1h.6m-.2,.8h.6m-.3,-.7h.6m-.4,.4h.6m-.6,.1h.6m1,-.6h.6m-.4,.5h.6m-.4,-.4h.6m0,-.1h.6m-.4,.6h.6m-.5,-.2h.6m.1,.5h.6m-.1,-.4h.6m-.3,-.1h.6m-.4,.5h.6m-.2,-.5h.6m-.5,-.3h.6m-.6,.2h.6m.8,.2h.6m-.3,-.1h.6m-.2,-.2h.6m-.5,.8h.6m3.3,-.3h.6m1.5,.3h.6m13.2,-.5h.6m.5,.5h.6m-41.5,.7h.6m-.1,.1h.6m6.2,-.7h.6m.5,.7h.6m.6,.1h.6m.8,0h.6m.2,-.3h.6m-.5,-.5h.6m-.3,.5h.6m-.6,-.3h.6m.3,.3h.6m.8,-.2h.6m-.2,-.1h.6m3.9,.5h.6m-.2,0h.6m1.5,-.2h.6m-.3,0h.6m3.8,-.5h.6m3.3,.5h.6m0,.3h.6m1.1,-.8h.6m-28.4,1.8h.6m1.9,-.8h.6m1.9,.2h.6m3.3,.5h.6m2.2,-.2h.6m2.3,-.2h.6m-.5,-.2h.6m-.2,.7h.6m.1,-.5h.6m-.5,0h.6m-.5,.5h.6m.5,-.6h.6m3,.7h.6m.5,-.7h.6m2.1,-.2h.6m1.5,.2h.6m1.5,-.1h.6m-.1,.7h.6m-28.8,1h.6m2.1,-.8h.6m1,.1h.6m.5,.4h.6m-.3,-.4h.6m.5,-.1h.6m-.3,.2h.6m2.4,0h.6m.1,.3h.6m5.4,.2h.6m2.5,-.3h.6m-26.2,1.2h.6m5.1,-.1h.6m.7,-.4h.6m1.7,.3h.6m-.3,.2h.6m8.2,-.5h.6m1.4,.6h.6m.7,-.1h.6m2.5,-.2h.6m3.5,-.4h.6m.6,.5h.6m-.5,.2h.6m.6,-.5h.6m-11.3,1.5h.6m2.7,-.3h.6m4.3,-.1h.6m.6,.3h.6m2.2,.1h.6m-34.4,1h.6m8.6,-.1h.6m1,0h.6m1,-.5h.6m.3,.2h.6m3.3,-.4h.6m-18.1,1.7h.6m6.7,-.6h.6m10.7,.8h.6m.7,0h.6m3.4,-.5h.6m9.3,.5h.6m-25.4,2h.6m.3,-.8h.6m3.2,.5h.6" stroke="#111" stroke-width=".6" fill="none"/>
<path d="M370.2,113.4l1.7-.2 .7,1-1,1.6-2,.5-.7-.5-.1-.8 1.4-1.6zM361.9,122.8l2.3-.1 1.8,.8 1.1,1.6 .1,2.3-1.2,2.4-1.6,1.5-5.7,3.3-4.7,.7-4.6-.8-4.7-2.5-1.5-1.5-.9-1.5-.2-1.6 .4-1.5 2.2-1.8 2.3-.3 5.5,1.4 2.3,.2 7.1-2.6z" fill="#fff" stroke="#333" stroke-width=".5"/>
<path d="M360.8,125.9l1.8-.4 1.2,.4 .5,.7-.2,1.6-3.4,3.1-4.3,1.8-3.9,0-3.1-.8-3.1-1.9-1.4-2.2 .6-1.5 .8-.3 1.5-.1 7,1.4 3.1-.6 2.9-1.2z" fill="none" stroke="#777" stroke-width=".45"/>
<rect x="321.5" y="124.6" width="17.2" height="24.2" fill="#cdcdcd"/>
<path d="M338.3,134.8 338.1,139.3 337.5,141.6 336.6,143.3 335.6,144.5 334.3,145.4 332.8,146.1 329.9,146.6 326.8,146.7 325.0,146.3 323.7,145.2 322.8,143.6 322.3,141.5 322.1,139.0 322.0,134.8 322.1,130.5 322.3,128.0 322.8,126.0 323.7,124.3 325.0,123.3 326.8,122.8 329.8,122.9 332.8,123.4 334.3,124.1 335.6,125.1 336.6,126.3 337.5,127.9 338.1,130.3zM337.3,134.5 337.0,138.0 336.5,140.0 335.8,141.5 335.0,142.8 334.0,143.8 332.6,144.6 330.2,145.0 327.7,144.9 326.2,144.2 325.2,143.1 324.5,141.6 324.0,139.9 323.6,137.9 323.4,134.5 323.3,131.0 323.5,128.8 324.1,127.0 325.0,125.7 326.3,125.0 327.8,124.7 330.2,124.7 332.5,124.9 333.9,125.4 335.2,126.0 336.2,127.1 336.9,128.7 337.3,130.9zM336.3,134.3 336.1,136.9 335.7,138.6 335.3,140.0 334.6,141.3 333.7,142.3 332.5,142.9 330.6,143.1 328.7,142.7 327.5,142.0 326.6,141.1 325.9,139.9 325.4,138.6 324.9,136.9 324.6,134.3 324.6,131.5 325.0,129.6 325.6,128.2 326.5,127.3 327.6,126.7 328.8,126.3 330.6,126.1 332.4,126.1 333.6,126.4 334.7,127.1 335.6,128.2 336.1,129.7 336.3,131.6zM335.4,134.0 335.3,135.9 335.1,137.4 334.8,138.7 334.2,139.7 333.3,140.5 332.3,140.9 330.9,140.9 329.6,140.5 328.7,140.0 327.9,139.3 327.2,138.5 326.6,137.4 326.2,136.0 326.1,134.0 326.2,132.0 326.6,130.6 327.2,129.5 327.9,128.7 328.7,128.1 329.6,127.6 330.9,127.3 332.3,127.3 333.3,127.6 334.2,128.3 334.8,129.4 335.2,130.7 335.3,132.2zM334.7,133.8 334.7,135.1 334.5,136.2 334.2,137.2 333.6,138.0 332.9,138.5 332.2,138.7 331.3,138.7 330.4,138.6 329.7,138.3 329.0,137.8 328.4,137.2 328.0,136.3 327.7,135.1 327.7,133.8 327.8,132.5 328.2,131.5 328.6,130.6 329.1,129.9 329.7,129.3 330.4,128.8 331.3,128.6 332.2,128.6 333.0,129.0 333.6,129.7 334.0,130.5 334.3,131.5 334.5,132.6zM334.0,133.6 334.0,134.3 333.8,135.1 333.5,135.7 333.1,136.2 332.6,136.5 332.1,136.7 331.6,136.8 331.1,136.8 330.6,136.6 330.1,136.3 329.7,135.7 329.4,135.1 329.3,134.3 329.3,133.6 329.4,132.8 329.6,132.1 329.9,131.5 330.2,130.9 330.6,130.4 331.1,130.1 331.6,130.0 332.2,130.2 332.6,130.5 333.0,131.0 333.4,131.5 333.6,132.1 333.9,132.8zM333.3,133.3 333.2,133.7 333.1,134.0 332.9,134.4 332.7,134.7 332.4,134.9 332.2,135.0 332.0,135.1 331.7,135.1 331.5,135.0 331.2,134.7 331.0,134.4 330.9,134.0 330.8,133.6 330.8,133.3 330.8,133.0 330.9,132.6 331.0,132.2 331.2,131.9 331.5,131.6 331.7,131.5 332.0,131.5 332.2,131.6 332.5,131.8 332.7,132.0 332.9,132.3 333.1,132.6 333.2,133.0z" fill="none" stroke="#555" stroke-width=".6"/>
<rect x="321.6" y="145.6" width="16.5" height="1.8" fill="#333"/>
<rect x="321.6" y="124.6" width="1.2" height="23.2" fill="#555"/>
<path d="M338.70,124.60 V87.00 H382.80 V124.60 H321.60 V147.20 H338.70 V124.60" fill="none" stroke="#000" stroke-width="1.7"/>
<text x="380.20" y="95.80" font-size="8.0" font-weight="bold" fill="#000" text-anchor="end" >2</text>
<text x="380.20" y="145.00" font-size="8.0" font-weight="bold" fill="#000" text-anchor="end" >5</text>
<line x1="383.20" y1="101.90" x2="417.60" y2="101.90" stroke="#000" stroke-width="2.0" />
<polygon points="416.10,98.50 424.60,101.90 416.10,105.30" fill="#000"/>
<rect x="406.20" y="86.60" width="62.20" height="62.20" fill="none" stroke="#9a9a9a" stroke-width="0.7" />
<line x1="406.20" y1="91.78" x2="407.40" y2="91.78" stroke="#888" stroke-width="0.5" />
<line x1="406.20" y1="96.97" x2="407.40" y2="96.97" stroke="#888" stroke-width="0.5" />
<line x1="406.20" y1="102.15" x2="407.40" y2="102.15" stroke="#888" stroke-width="0.5" />
<line x1="406.20" y1="107.33" x2="407.40" y2="107.33" stroke="#888" stroke-width="0.5" />
<line x1="406.20" y1="112.52" x2="407.40" y2="112.52" stroke="#888" stroke-width="0.5" />
<line x1="406.20" y1="117.70" x2="407.40" y2="117.70" stroke="#888" stroke-width="0.5" />
<line x1="406.20" y1="122.88" x2="407.40" y2="122.88" stroke="#888" stroke-width="0.5" />
<line x1="406.20" y1="128.07" x2="407.40" y2="128.07" stroke="#888" stroke-width="0.5" />
<line x1="406.20" y1="133.25" x2="407.40" y2="133.25" stroke="#888" stroke-width="0.5" />
<line x1="406.20" y1="138.43" x2="407.40" y2="138.43" stroke="#888" stroke-width="0.5" />
<line x1="406.20" y1="143.62" x2="407.40" y2="143.62" stroke="#888" stroke-width="0.5" />
<line x1="411.38" y1="148.80" x2="411.38" y2="147.60" stroke="#888" stroke-width="0.5" />
<line x1="416.57" y1="148.80" x2="416.57" y2="147.60" stroke="#888" stroke-width="0.5" />
<line x1="421.75" y1="148.80" x2="421.75" y2="147.60" stroke="#888" stroke-width="0.5" />
<line x1="426.93" y1="148.80" x2="426.93" y2="147.60" stroke="#888" stroke-width="0.5" />
<line x1="432.12" y1="148.80" x2="432.12" y2="147.60" stroke="#888" stroke-width="0.5" />
<line x1="437.30" y1="148.80" x2="437.30" y2="147.60" stroke="#888" stroke-width="0.5" />
<line x1="442.48" y1="148.80" x2="442.48" y2="147.60" stroke="#888" stroke-width="0.5" />
<line x1="447.67" y1="148.80" x2="447.67" y2="147.60" stroke="#888" stroke-width="0.5" />
<line x1="452.85" y1="148.80" x2="452.85" y2="147.60" stroke="#888" stroke-width="0.5" />
<line x1="458.03" y1="148.80" x2="458.03" y2="147.60" stroke="#888" stroke-width="0.5" />
<line x1="463.22" y1="148.80" x2="463.22" y2="147.60" stroke="#888" stroke-width="0.5" />
<path d="M449.3,110.8h0.6m-2.4,5.9h.6m14.9,5.1h.6m-33.3,6.3h.6m3.3,8.7h.6m2.3,1.4h.6m4,5.7h.6m2,2.1h.6m7.5,.5h.6" stroke="#333" stroke-width=".6" fill="none"/>
<path d="M454.1,109.5l1.5-.5 2.3,.7 2.6,3.7 1.1,6.2 2.9,5.5 1,6.2-2.5,7-2.1,2.3-2.2,1.7-2.4,1.1-5.4,1.3-6.2-.1-4-1.6-1.9-1.6-1.2-5.4-4.6-2.6-1.9-2.1-.4-1.5 .1-2.4 .8-1.5 3.8-3 2.3-.6 5.4-.1 6.5-4.1 1-1.6 1.2-4.6 2.3-2.4zM427,145.3l1.4-.3 3.1,.5 .9,.6 .3,.8-2,1.1-3.9,.1-2.2-1.2 .6-1.2 1.8-.4z" fill="#ececec" stroke="#444" stroke-width=".5"/>
<path d="M455.2,113.4l1.1-.1 .8,.5 1.3,2 .1,1.5-.9,3.9 1.7,2.3 .9,2.4 1.4,1.5 .7,3.1-.7,3.1-2.1,3.2-3.9,3.7-5.5,2-5.4-.8-1.7-1.1-.7-2.3 .4-.8 2-1.4 .3-.9-.4-3.1-.5-.8-1.7,.5-6.3,.2-1.3-1.5 .2-3.1 1.1-1.4 1.6-.7 1.5,0 3.9,1.4 1.6-.1 3.9-3.6 4.1-1.8 1-1.6 .4-4.6 1.1-1.6zM426.5,146.1l2.6-.4 1.5,.4 .4,.8-3.4,.5-1.4-.5 .3-.8z" fill="#dedede" stroke="none"/>
<path d="M453,124.3l2.6-.6 1.5,.6 .5,.8-.1,2.3 2.4,2.4 .3,2.3-1.5,2.2-3.9,1.7-1,1.5-1.4,.8-1.3,1.6-1,0-2-1.6-.1-.8 2.2-.8 0-.7-2.4-3.1 0-4.7 1.6-2.1 1.5-.3 2.1-1.5zM427.5,146.9l.9-.6 .9,.6-1.8,0z" fill="#d2d2d2" stroke="none"/>
<path d="M454.1,111.1l1.5-.7 1.5,.2 2.6,3.6 .7,6.2 1.6,2.4 .9,2.3 1.1,4.7 0,1.5-1.9,5.4-1.6,2.4-1.8,1.6-2.4,1.3-4.6,1.6-2.3,.3-4.7-.4-3-1.3-1.1-1.6-.3-3.1 1.1-2.3-2.2-1.4-2.3,.3-3.1-1.5-1.4-2.1 0-3.1 2.2-2.4 1.5-1.1 2.4-.4 5.4,.4 2.3-1.3 1.6-1.6 2.7-1.4 1-1.5 .9-4.7 1.7-2.3zM425.5,146.1l1.3-.6 3.1-.1 1.6,.5 .5,1-1.3,.7-3.1,.3-2.3-1 .2-.8zM455.1,111.9l1.2-.3 .8,.4 1.9,3 .3,2.3-.5,3.9 2.1,2.3 1.4,3.1 .8,3.2-.7,3.8-2.2,4-2.2,2.3-1.7,1.1-6.2,2.2-5.4-.6-2.3-1.2-1-2.3 .2-1.6 2-2.3-.5-1.3-3.1-1.2-3.9,.2-1.5-.8-1-1.6 .3-3.1 1.5-1.9 2.3-1.1 1.5,.1 4.7,1.2 4.7-3.8 3.6-1.5 .4-.8 .7-5.4 1.8-2.3zM426,146.1l1.6-.6 2.3,.1 1.2,.5 .4,.8-1.6,.6-2.3,.1-1.9-.7 .3-.8zM455.2,113.4l1.1-.1 .8,.5 1.3,2 .1,1.5-.9,3.9 1.7,2.3 .9,2.4 1.4,1.5 .7,3.1-.7,3.1-2.1,3.2-3.9,3.7-5.5,2-5.4-.8-1.7-1.1-.7-2.3 .4-.8 2-1.4 .3-.9-.4-3.1-.5-.8-1.7,.5-6.3,.2-1.3-1.5 .2-3.1 1.1-1.4 1.6-.7 1.5,0 3.9,1.4 1.6-.1 3.9-3.6 4.1-1.8 1-1.6 .4-4.6 1.1-1.6zM426.5,146.1l2.6-.4 1.5,.4 .4,.8-3.4,.5-1.4-.5 .3-.8zM455.3,115.8l1-.5 1.2,1.2 0,1.6-.8,3.1 2.1,3.1 .4,2.3 1,.9 1.1,2.3 .2,1.5-.6,2.3-5.8,6.3-5,1.9-5.4-1.1-1-.8-.3-1.6 2.1-1.3 .8-1.8-.6-4.7-1-1.5 .1-.8 3.8-4.1 5.5-2.9 .5-.8-.1-3.1 .8-1.5zM436.8,126.6l1.7-.3 1.5,.3 2.4,.8 2.1,1.6-2.1,1.4-2.4-.5-1.5,1-1.6,.1-.7-.5-.2-1.5 .1-1.6 .7-.8zM427,146.1l2.1-.2 .8,.2 .6,.8-2.9,.4-1-.4 .4-.8zM453,122.8l2.6-.7 2.3,2.1 .5,.9-.1,2.3 2.3,2.4 .2,2.3-.6,1.5-4.1,3.1-1.3,2.3-4.7,1.9-2.1-1-1.5-1.6 .3-1.6 1.2-1.5-1.3-2.3-.1-4.7 2-2.8 2.3-.4 2.1-2.2zM427.5,146.1l1.7,0 .7,.8-2.3,.2-.6-.2 .5-.8zM453,124.3l2.6-.6 1.5,.6 .5,.8-.1,2.3 2.4,2.4 .3,2.3-1.5,2.2-3.9,1.7-1,1.5-1.4,.8-1.3,1.6-1,0-2-1.6-.1-.8 2.2-.8 0-.7-2.4-3.1 0-4.7 1.6-2.1 1.5-.3 2.1-1.5zM427.5,146.9l.9-.6 .9,.6-1.8,0zM452,125.9l1.2-.6 3.1,.1 .5,2 2.9,3.1 0,1.6-1,1.4-3.9,1.5-1.4-.6-.2-.9-.7-.4-2.4,1.2-1-.7-.4-5.4 .7-1 2.6-1.3zM451.9,126.6l1.3-.5 2.4,.9 3.5,3.5 0,1.6-.4,.7-3.1,1.3-.8-.2-1.6-1.6-2.3,.4-.8-.5-.4-3.2 2.2-2.4zM452,127.4l1.2-.6 1.6,.6 3.6,3.1 .3,.8-.3,.8-2.1,.6-2.3-1-3.1-.3-.2-1.6 1.3-2.4zM452.3,128.2l.9-.6 1.3,.6 .8,1.6-.3,.7-3.3,.1 .6-2.4z" fill="none" stroke="#3c3c3c" stroke-width=".45"/>
<path d="M442.6,145.3l6-.5 9.3,.1 7.8,.9 1.1,.3 .7,.8-7.3,1.3-16.3,0-6.9-1.3 1.5-1.1 4.1-.5z" fill="#999" stroke="#222" stroke-width=".7"/>
<path d="M442,146.1l5-.6 9.3-.1 5.5,.5 1.6,1-6.3,.9-7.7,.2-7.8-1-.5-.1 .9-.8zM446.4,146.1l9.2-.3 2.4,.3 1.6,.8-4.8,.5-6.2-.1-3.7-.4 1.5-.8z" fill="#111" stroke="#000" stroke-width=".6"/>
<path d="M436.30,86.90 V122.20 H468.10" fill="none" stroke="#000" stroke-width="1.9"/>
<text x="464.00" y="95.80" font-size="8.0" font-weight="bold" fill="#000" text-anchor="end" >0.5</text>
<rect x="505.30" y="86.60" width="62.20" height="62.20" fill="none" stroke="#9a9a9a" stroke-width="0.7" />
<line x1="505.30" y1="91.78" x2="506.50" y2="91.78" stroke="#888" stroke-width="0.5" />
<line x1="505.30" y1="96.97" x2="506.50" y2="96.97" stroke="#888" stroke-width="0.5" />
<line x1="505.30" y1="102.15" x2="506.50" y2="102.15" stroke="#888" stroke-width="0.5" />
<line x1="505.30" y1="107.33" x2="506.50" y2="107.33" stroke="#888" stroke-width="0.5" />
<line x1="505.30" y1="112.52" x2="506.50" y2="112.52" stroke="#888" stroke-width="0.5" />
<line x1="505.30" y1="117.70" x2="506.50" y2="117.70" stroke="#888" stroke-width="0.5" />
<line x1="505.30" y1="122.88" x2="506.50" y2="122.88" stroke="#888" stroke-width="0.5" />
<line x1="505.30" y1="128.07" x2="506.50" y2="128.07" stroke="#888" stroke-width="0.5" />
<line x1="505.30" y1="133.25" x2="506.50" y2="133.25" stroke="#888" stroke-width="0.5" />
<line x1="505.30" y1="138.43" x2="506.50" y2="138.43" stroke="#888" stroke-width="0.5" />
<line x1="505.30" y1="143.62" x2="506.50" y2="143.62" stroke="#888" stroke-width="0.5" />
<line x1="510.48" y1="148.80" x2="510.48" y2="147.60" stroke="#888" stroke-width="0.5" />
<line x1="515.67" y1="148.80" x2="515.67" y2="147.60" stroke="#888" stroke-width="0.5" />
<line x1="520.85" y1="148.80" x2="520.85" y2="147.60" stroke="#888" stroke-width="0.5" />
<line x1="526.03" y1="148.80" x2="526.03" y2="147.60" stroke="#888" stroke-width="0.5" />
<line x1="531.22" y1="148.80" x2="531.22" y2="147.60" stroke="#888" stroke-width="0.5" />
<line x1="536.40" y1="148.80" x2="536.40" y2="147.60" stroke="#888" stroke-width="0.5" />
<line x1="541.58" y1="148.80" x2="541.58" y2="147.60" stroke="#888" stroke-width="0.5" />
<line x1="546.77" y1="148.80" x2="546.77" y2="147.60" stroke="#888" stroke-width="0.5" />
<line x1="551.95" y1="148.80" x2="551.95" y2="147.60" stroke="#888" stroke-width="0.5" />
<line x1="557.13" y1="148.80" x2="557.13" y2="147.60" stroke="#888" stroke-width="0.5" />
<line x1="562.32" y1="148.80" x2="562.32" y2="147.60" stroke="#888" stroke-width="0.5" />
<path d="M532.8,88.0h0.6m3.8,.4h.6m-2.1,5.5h.6m4.3,2.5h.6m-15.3,1.3h.6m19.9,1.4h.6m.1,2.1h.6m-6.9,1.2h.6m3,-.8h.6m3.1,.8h.6m-31.1,.7h.6m28.8,-.1h.6m2.5,-.4h.6m6.9,.7h.6m.9,-.5h.6m-11.9,1.5h.6m2.3,.1h.6m14.4,-.8h.6m-25.2,1.5h.6m.9,-.3h.6m2.4,.6h.6m-.3,-.4h.6m.2,.3h.6m-.5,-.7h.6m.9,.7h.6m.1,.1h.6m3.4,-.5h.6m.8,.1h.6m.8,-.3h.6m-.2,.3h.6m8.5,.4h.6m-49.2,.9h.6m12.7,-.6h.6m9.5,.8h.6m-.6,-.5h.6m3.5,-.4h.6m2.1,.7h.6m-.1,0h.6m.4,.2h.6m-.3,-.3h.6m.7,-.2h.6m-.5,-.3h.6m.3,.7h.6m.5,-.7h.6m.4,.8h.6m0,0h.6m-.5,-.2h.6m-38.5,.9h.6m8.1,-.5h.6m10.2,.4h.6m2.8,-.5h.6m5,.4h.6m-.1,.2h.6m-.2,-.3h.6m2.4,.1h.6m-.1,0h.6m-.3,-.3h.6m-.3,.6h.6m.2,0h.6m-.2,.1h.6m-.2,-.4h.6m-.3,0h.6m1.7,-.3h.6m-.5,.4h.6m-.5,.2h.6m-.2,-.1h.6m1.3,-.4h.6m1,.2h.6m-36.9,1.2h.6m6.7,.3h.6m7.3,-.8h.6m.6,.2h.6m-.5,0h.6m5.8,0h.6m-.3,-.3h.6m-.1,.5h.6m-.1,-.5h.6m-.1,.1h.6m.4,.6h.6m-.3,-.7h.6m-.5,.5h.6m-.5,.4h.6m-.6,0h.6m-.5,-.4h.6m-.1,.3h.6m-.6,.1h.6m-.6,-.6h.6m-.5,-.4h.6m-.5,0h.6m.1,.8h.6m-.6,-.5h.6m-.2,.2h.6m-.4,.3h.6m-.6,.2h.6m-.3,0h.6m-.6,0h.6m-.6,-.3h.6m-.3,.3h.6m-.6,-.7h.6m-.2,.1h.6m.7,0h.6m.4,.2h.6m-.6,.2h.6m-.3,.2h.6m-.3,-.2h.6m-.5,-.7h.6m.3,.3h.6m-.3,.6h.6m-.3,-.2h.6m.2,-.5h.6m1.4,0h.6m-50.2,1.3h.6m1.1,.2h.6m-.1,-.1h.6m29.5,.1h.6m-.5,-.2h.6m.2,-.1h.6m1.9,.3h.6m-.5,-.3h.6m-.5,.1h.6m.1,-.1h.6m-.3,-.2h.6m-.4,-.2h.6m.1,.8h.6m-.6,-.2h.6m-.5,-.4h.6m-.3,.5h.6m-.4,-.3h.6m.3,-.2h.6m-.4,-.1h.6m-.3,.5h.6m.3,0h.6m-.5,-.3h.6m-.5,.5h.6m-.3,0h.6m-.5,-.3h.6m-.4,-.1h.6m-.1,0h.6m.1,-.2h.6m.4,.1h.6m-.3,.2h.6m-.4,.3h.6m-.5,-.7h.6m-.3,.5h.6m-.1,-.3h.6m0,-.1h.6m-.1,.6h.6m-.5,-.7h.6m.5,.4h.6m.6,-.1h.6m-.4,-.2h.6m2.8,.3h.6m-.2,-.3h.6m-51.9,1.2h.6m14.4,.2h.6m.8,.2h.6m2.7,-.6h.6m8,.2h.6m-.4,-.5h.6m-.3,.7h.6m1.5,-.1h.6m3.3,.4h.6m-.5,-.9h.6m.7,.6h.6m-.2,-.6h.6m-.6,.8h.6m-.4,-.6h.6m-.4,.5h.6m.1,.2h.6m-.2,-.5h.6m-.5,-.1h.6m-.5,-.2h.6m.2,-.1h.6m-.3,0h.6m-.4,.1h.6m2.2,-.1h.6m-.5,-.1h.6m-.3,.3h.6m-.5,-.3h.6m.4,.3h.6m-.6,.4h.6m-.5,0h.6m-.2,0h.6m-.2,.1h.6m-.3,.2h.6m.4,0h.6m-.4,-.1h.6m-.6,-.2h.6m-.6,-.4h.6m-.4,.2h.6m-.2,.4h.6m-.2,-.2h.6m-.3,0h.6m-.1,0h.6m-.5,-.5h.6m-52.2,.9h.6m6.8,.3h.6m3.1,-.3h.6m17.8,.7h.6m-.1,-.4h.6m2.8,-.1h.6m2.6,.1h.6m.8,.5h.6m-.3,-.8h.6m-.2,.8h.6m-.3,-.7h.6m.1,.6h.6m-.6,.1h.6m-.4,-.5h.6m-.4,.5h.6m-.3,0h.6m-.6,0h.6m-.5,-.7h.6m-.6,.6h.6m-.5,-.3h.6m-.3,.2h.6m7.5,-.6h.6m-.2,.5h.6m-.5,-.3h.6m-.2,.5h.6m.4,.1h.6m.2,-.8h.6m2.9,.3h.6m2.2,.1h.6m1.2,.2h.6m-58.5,1.2h.6m13.6,-.9h.6m17.3,.3h.6m-.1,.2h.6m-.3,.5h.6m.2,0h.6m-.5,0h.6m-.5,-.6h.6m-.1,.4h.6m1.5,-.4h.6m-.4,.1h.6m-.1,.1h.6m.3,-.1h.6m9.8,-.1h.6m-.4,-.2h.6m-.5,.6h.6m-.2,-.3h.6m-.5,-.5h.6m-.4,.8h.6m.5,-.2h.6m-.3,-.1h.6m-.6,.5h.6m-.5,-.9h.6m-.3,.4h.6m-.3,-.1h.6m.1,.6h.6m-.2,-1h.6m-54.7,1.7h.6m1.7,-.1h.6m2.6,.3h.6m6.4,-.7h.6m8.6,.1h.6m9.3,0h.6m.8,.4h.6m0,.2h.6m2.5,-.8h.6m.4,0h.6m-.3,.3h.6m-.6,.4h.6m0,-.7h.6m11.9,0h.6m.1,.1h.6m-.6,.4h.6m-.3,.2h.6m-.3,0h.6m-.2,-.7h.6m1.4,.6h.6m1.3,0h.6m-52,.8h.6m2.1,-.5h.6m.6,.2h.6m.7,.2h.6m-.6,-.2h.6m-.3,.6h.6m.6,-.5h.6m.2,.4h.6m14.9,-.1h.6m-.1,-.6h.6m1.1,0h.6m1.3,.4h.6m-.1,.3h.6m-.5,.1h.6m2.1,-.5h.6m-.4,-.2h.6m-.2,.7h.6m-.3,-.7h.6m-.5,.9h.6m.7,-.7h.6m-.5,-.1h.6m11.9,0h.6m-.6,.7h.6m-.5,-.5h.6m-.5,.6h.6m-.3,-.9h.6m-.5,.8h.6m-.6,0h.6m-.3,-.9h.6m.3,.6h.6m0,-.2h.6m-.2,-.1h.6m-.6,-.3h.6m-.5,.9h.6m-.3,-.1h.6m2.2,-.1h.6m1.4,-.2h.6m-58.6,1.1h.6m3.7,.1h.6m2.7,.2h.6m-.3,-.2h.6m.5,.2h.6m1,-.8h.6m11.9,.5h.6m1.2,-.2h.6m6,-.3h.6m0,.5h.6m.1,.2h.6m-.3,-.3h.6m1.3,-.2h.6m-.2,0h.6m-.4,.2h.6m-.3,.1h.6m15,-.4h.6m-.4,.6h.6m-.2,0h.6m-.4,-.2h.6m-.2,.3h.6m1.6,0h.6m.9,-.8h.6m-.6,.8h.6m.8,0h.6m-58.3,.5h.6m3.1,0h.6m1.5,0h.6m2.4,.3h.6m.6,.2h.6m-.4,-.7h.6m2,0h.6m11.4,.8h.6m.6,-.3h.6m-.3,-.7h.6m-.2,.8h.6m1.1,-.7h.6m-.4,.4h.6m-.6,-.5h.6m-.2,.2h.6m.1,.2h.6m-.1,-.3h.6m-.6,.6h.6m-.6,.3h.6m.1,-.9h.6m.6,.2h.6m-.5,0h.6m-.3,.3h.6m-.3,-.2h.6m-.6,.5h.6m-.5,.1h.6m.6,-.6h.6m17,-.4h.6m-.5,.3h.6m-.5,0h.6m-.6,.5h.6m-.4,-.3h.6m-.5,-.3h.6m.2,.6h.6m.1,0h.6m4.2,-.8h.6m-59.3,1.3h.6m-.3,.1h.6m3.9,.1h.6m4.8,.3h.6m.8,-.4h.6m12.5,-.3h.6m-.3,.5h.6m.3,-.4h.6m-.2,0h.6m.7,.3h.6m-.2,.4h.6m0,-.3h.6m-.1,-.2h.6m.3,.2h.6m-.6,-.3h.6m-.3,.3h.6m1,.1h.6m-.2,.2h.6m-.6,0h.6m.7,-.8h.6m-.5,.1h.6m17.5,-.1h.6m-.2,.5h.6m-.5,0h.6m-.6,-.2h.6m.2,.4h.6m-.6,-.7h.6m.7,.8h.6m-.5,-.2h.6m-55.2,.3h.6m-.6,.6h.6m1.3,-.2h.6m.6,.4h.6m.5,-.2h.6m1.5,.2h.6m1.1,-.6h.6m.1,.6h.6m.6,-.2h.6m.3,0h.6m0,-.4h.6m5.7,.7h.6m.7,-.6h.6m.7,.1h.6m1.7,-.3h.6m2.8,.2h.6m-.4,-.3h.6m1.5,.5h.6m-.4,-.4h.6m-.4,.8h.6m.1,-.1h.6m-.2,-.2h.6m-.2,-.3h.6m-.3,0h.6m-.6,-.3h.6m-.4,.4h.6m-.6,-.1h.6m.3,.4h.6m-.5,.1h.6m-.5,-.1h.6m-.4,.2h.6m-.5,-.6h.6m-.5,.2h.6m-.5,.4h.6m-.6,-.6h.6m-.5,-.2h.6m0,-.1h.6m18.3,.4h.6m-.4,.2h.6m.2,.3h.6m-.4,-.9h.6m-.6,.7h.6m-.5,-.5h.6m-.6,0h.6m-.6,.3h.6m-.5,-.2h.6m-.3,.4h.6m-.4,.3h.6m-.5,-.6h.6m.2,.5h.6m0,0h.6m-56.5,.7h.6m3.6,-.5h.6m1.4,0h.6m.5,.5h.6m2.4,-.1h.6m2.1,-.4h.6m2,.7h.6m3,.1h.6m-.5,0h.6m-.1,-.7h.6m4.8,.4h.6m.7,-.5h.6m.5,.2h.6m.1,.3h.6m-.5,0h.6m-.5,-.2h.6m-.3,-.3h.6m-.3,.1h.6m-.5,.5h.6m-.5,.2h.6m0,-.4h.6m-.6,-.4h.6m.1,.1h.6m-.4,.3h.6m-.4,-.4h.6m-.2,.6h.6m-.3,-.3h.6m19.6,.4h.6m.5,-.2h.6m-.6,-.3h.6m1,.1h.6m-.5,.2h.6m.6,-.4h.6m.6,.6h.6m-50.4,.6h.6m1.2,.6h.6m5.6,-.9h.6m.3,-.1h.6m2.5,.8h.6m2.7,.1h.6m3,-.6h.6m0,-.2h.6m.4,.5h.6m-.4,-.6h.6m-.6,.6h.6m-.5,-.1h.6m-.2,-.4h.6m-.3,.9h.6m-.4,-.8h.6m-.6,-.2h.6m.1,.1h.6m-.1,.2h.6m-.2,-.1h.6m-.3,.2h.6m-.3,-.2h.6m20,.1h.6m.2,.6h.6m.1,-.3h.6m-.5,.2h.6m-.6,-.3h.6m-.3,-.1h.6m-.2,.5h.6m.5,-.5h.6m-.1,.6h.6m.1,-1h.6m-.5,.9h.6m1.7,0h.6m-58.6,.7h.6m-.6,-.3h.6m8.7,-.2h.6m.2,.1h.6m2.9,0h.6m2.2,.6h.6m.6,-.6h.6m1.6,.5h.6m.7,.2h.6m-.4,-.2h.6m1.3,-.4h.6m-.1,-.1h.6m-.3,.5h.6m.5,-.3h.6m-.2,.1h.6m-.5,0h.6m.1,.2h.6m-.6,-.4h.6m-.4,.6h.6m-.4,-.1h.6m-.5,-.4h.6m-.6,0h.6m-.4,-.1h.6m-.5,.6h.6m22.7,-.5h.6m-.1,.3h.6m.2,-.6h.6m-.6,.3h.6m-.5,.2h.6m0,-.3h.6m.1,.5h.6m0,-.5h.6m2.2,.5h.6m.1,0h.6m-56,.3h.6m5.4,.2h.6m5.9,-.3h.6m-.5,.3h.6m2.2,.3h.6m.4,.4h.6m1.5,-.8h.6m-.2,0h.6m-.4,.8h.6m-.1,0h.6m.3,-.4h.6m-.4,.4h.6m-.1,-.1h.6m-.4,.1h.6m-.6,-.8h.6m0,.1h.6m-.4,.1h.6m-.6,-.4h.6m.2,0h.6m.2,.5h.6m22.6,-.1h.6m-.5,.6h.6m0,-.8h.6m-.5,0h.6m-.4,.6h.6m-.2,-.7h.6m-.3,.5h.6m-.5,-.6h.6m-.5,.5h.6m-.3,.3h.6m0,-.5h.6m-.6,-.3h.6m-.6,.1h.6m-.4,.2h.6m-.4,.6h.6m-.1,0h.6m-.4,.1h.6m-.4,-.2h.6m0,-.6h.6m-.3,.7h.6m-.3,-.7h.6m-.5,.2h.6m1.9,.6h.6m-.6,-.3h.6m-.3,-.5h.6m0,0h.6m-.5,.6h.6m.2,-.1h.6m-49.3,.6h.6m.8,.6h.6m1,-.8h.6m2.9,.7h.6m1.3,-.4h.6m.8,0h.6m0,.1h.6m1,0h.6m-.2,.2h.6m-.3,.2h.6m-.6,-.2h.6m.7,-.6h.6m-.3,.5h.6m21.8,.2h.6m-.2,-.4h.6m-.4,.1h.6m-.3,.2h.6m-.6,-.3h.6m-.2,-.1h.6m-.2,-.1h.6m-.6,.7h.6m-.4,-.5h.6m-.6,.2h.6m-.3,-.2h.6m-.5,.1h.6m-.6,0h.6m-.6,-.3h.6m-.5,.3h.6m.3,-.1h.6m-.6,.4h.6m-.1,-.5h.6m0,.5h.6m-.4,-.3h.6m-.3,.3h.6m1.1,-.6h.6m-.3,0h.6m-.4,.4h.6m1.4,-.1h.6m.7,.4h.6m-51.3,1h.6m2.8,-.2h.6m3.4,.1h.6m1.8,.1h.6m-.2,.1h.6m1.5,-.4h.6m-.2,0h.6m1.4,0h.6m-.5,.1h.6m1.1,-.4h.6m22.1,.4h.6m-.5,0h.6m.1,-.2h.6m.1,-.5h.6m-.5,.1h.6m.4,.1h.6m-.1,.1h.6m.5,.4h.6m-.1,-.6h.6m-.5,.5h.6m-.4,-.3h.6m.4,.1h.6m.2,0h.6m.1,.5h.6m-.5,-.2h.6m-.5,-.5h.6m1.2,0h.6m-41.4,1.5h.6m.5,-.1h.6m1.3,0h.6m.6,-.1h.6m-.4,.3h.6m-.1,-.6h.6m-.4,.4h.6m-.4,-.2h.6m-.5,.3h.6m.3,-.4h.6m23.6,.1h.6m.1,-.1h.6m-.3,.3h.6m.4,-.5h.6m-.6,.6h.6m-.4,-.6h.6m-.3,.5h.6m-.5,-.5h.6m0,.7h.6m-.6,-.4h.6m-.3,.5h.6m-.6,-.1h.6m-.4,-.7h.6m-.4,.5h.6m-.3,-.3h.6m-.5,.2h.6m-.5,.4h.6m-.3,-.8h.6m.1,.5h.6m0,0h.6m0,0h.6m-.4,-.2h.6m.3,.4h.6m1.7,-.5h.6m-39.1,.7h.6m.6,1h.6m0,-.9h.6m-.5,.1h.6m-.4,.6h.6m-.1,-.2h.6m.3,.2h.6m22.6,.1h.6m-.6,0h.6m1.3,0h.6m-.5,-.5h.6m-.4,.3h.6m-.3,-.2h.6m-.1,.2h.6m-.5,-.1h.6m-.5,0h.6m-.6,-.5h.6m0,.5h.6m-.4,.2h.6m-.5,-.1h.6m-.5,-.4h.6m-.6,.2h.6m.7,.2h.6m.5,-.7h.6m.2,.8h.6m-.4,0h.6m-.5,-.1h.6m0,-.3h.6m-.1,.5h.6m-.6,.1h.6m4.4,-.9h.6m-40.5,1.6h.6m.2,0h.6m-.5,-.4h.6m.9,.4h.6m-.6,-.3h.6m-.5,.1h.6m-.4,-.3h.6m21.1,.7h.6m-.2,-.3h.6m-.5,0h.6m0,.2h.6m-.3,-.5h.6m.1,.4h.6m.6,-.5h.6m-.2,.5h.6m-.3,-.5h.6m-.3,.1h.6m-.4,.1h.6m-.5,-.2h.6m-.3,.1h.6m-.1,.6h.6m-.2,-.2h.6m-.5,0h.6m-.2,-.4h.6m-.3,-.1h.6m.3,.6h.6m1.5,-.2h.6m-.3,.3h.6m-35.9,.5h.6m-.2,-.3h.6m-.6,.4h.6m-.2,-.5h.6m-.1,0h.6m-.3,.8h.6m-.3,-.3h.6m-.6,-.4h.6m-.1,.7h.6m-.6,-.5h.6m-.5,-.3h.6m19.7,.9h.6m.1,-.1h.6m-.3,.2h.6m-.2,-.5h.6m-.5,.2h.6m-.5,-.3h.6m-.2,.1h.6m-.4,.2h.6m-.4,-.7h.6m-.5,1h.6m-.6,-.9h.6m-.5,.9h.6m-.6,-1h.6m-.3,.3h.6m-.5,.1h.6m-.5,-.2h.6m-.5,.2h.6m-.5,-.3h.6m-.5,-.1h.6m-.5,.7h.6m1.8,-.3h.6m-.5,0h.6m-.1,-.3h.6m-.4,.1h.6m-.3,0h.6m-.4,.8h.6m-.3,-1h.6m-.6,1h.6m.8,-.4h.6m.7,-.3h.6m.6,.5h.6m0,-.2h.6m-35.6,.7h.6m-.2,.2h.6m.1,0h.6m.1,-.4h.6m0,.3h.6m-.5,0h.6m-.2,0h.6m-.2,.4h.6m-.6,-.2h.6m-.5,-.3h.6m-.5,.6h.6m-.5,-.8h.6m0,.5h.6m-.6,0h.6m.9,.3h.6m14.7,0h.6m-.2,0h.6m-.2,0h.6m-.6,-.6h.6m0,.1h.6m-.3,.4h.6m0,-.7h.6m-.4,.4h.6m-.1,-.4h.6m-.6,.6h.6m-.2,0h.6m-.3,-.2h.6m.8,-.3h.6m.3,.2h.6m-.6,-.3h.6m-.2,.2h.6m-.6,.5h.6m.4,-.7h.6m.1,0h.6m-.1,.4h.6m.1,-.1h.6m-.4,-.3h.6m.7,.3h.6m.2,.4h.6m0,-.2h.6m8.5,.1h.6m-40.8,.7h.6m.5,.4h.6m-.4,-.1h.6m-.3,-.5h.6m-.6,.4h.6m-.3,-.1h.6m-.1,.2h.6m.1,.2h.6m-.4,-.8h.6m-.3,.2h.6m-.4,0h.6m-.5,-.3h.6m-.1,.9h.6m-.2,0h.6m-.6,.1h.6m-.5,-.1h.6m.2,-.1h.6m0,-.1h.6m.1,.3h.6m-.2,-.3h.6m.1,0h.6m-.3,0h.6m4.5,.1h.6m.1,.2h.6m-.5,-.1h.6m-.3,.1h.6m-.3,0h.6m0,-.1h.6m1,.1h.6m-.5,-.1h.6m-.1,-.1h.6m-.2,-.2h.6m-.3,-.4h.6m-.5,-.1h.6m-.5,.5h.6m-.4,.2h.6m-.2,-.6h.6m-.2,.3h.6m-.2,-.3h.6m-.6,.1h.6m1.2,.5h.6m-.5,-.5h.6m-.4,0h.6m-.1,0h.6m-.2,-.1h.6m-.4,.2h.6m-.5,-.1h.6m-.4,-.2h.6m-.4,.2h.6m-.6,.1h.6m-.2,.4h.6m-.1,.2h.6m.1,-.4h.6m.1,.4h.6m-.1,-.8h.6m2,0h.6m-.4,-.2h.6m.1,.1h.6m.5,.5h.6m1.4,0h.6m1.9,-.4h.6m5,-.2h.6m-43.1,1.4h.6m-.5,.1h.6m2.2,-.4h.6m-.6,.3h.6m-.5,.1h.6m-.1,-.2h.6m.8,.5h.6m.2,0h.6m-.2,-.4h.6m-.5,.4h.6m-.1,-.4h.6m-.5,.1h.6m-.4,-.2h.6m.5,.1h.6m-.5,0h.6m-.3,.5h.6m0,-.8h.6m-.6,.4h.6m-.3,-.2h.6m-.1,-.1h.6m.3,.3h.6m-.3,0h.6m-.5,0h.6m.5,-.1h.6m0,.4h.6m-.2,.1h.6m-.4,-.4h.6m.1,0h.6m-.4,.1h.6m-.3,-.1h.6m-.5,.4h.6m-.5,0h.6m-.5,-.7h.6m-.4,-.1h.6m-.2,.1h.6m-.3,.2h.6m-.3,.4h.6m-.4,-.4h.6m-.1,.1h.6m-.3,-.1h.6m-.3,.1h.6m-.4,-.2h.6m-.5,-.2h.6m-.6,.1h.6m-.6,-.1h.6m-.4,.7h.6m-.6,-.7h.6m-.3,.1h.6m-.2,.2h.6m-.4,-.3h.6m.7,.3h.6m.3,.2h.6m1.6,-.2h.6m-.3,-.3h.6m-.4,.8h.6m-.3,-.7h.6m-.4,.6h.6m1.5,-.4h.6m7.9,-.2h.6m-.6,.4h.6m1.2,.2h.6m-38.1,.6h.6m0,-.3h.6m.8,-.1h.6m-.6,.7h.6m.3,-.7h.6m.4,1h.6m.1,-1h.6m-.4,.5h.6m-.6,-.5h.6m-.3,.4h.6m.7,-.2h.6m-.1,.4h.6m-.3,.3h.6m-.5,.1h.6m-.4,-.8h.6m-.5,.5h.6m0,.1h.6m1.4,-.1h.6m-.2,-.4h.6m-.6,.1h.6m-.4,0h.6m-.6,-.1h.6m-.2,.6h.6m-.6,-.3h.6m-.5,-.5h.6m-.5,.2h.6m-.1,.1h.6m.3,.1h.6m-.5,-.2h.6m-.2,.2h.6m-.4,.2h.6m-.5,-.3h.6m-.6,.1h.6m-.5,-.5h.6m-.2,.2h.6m-.5,-.1h.6m-.6,.8h.6m.2,-.9h.6m-.3,.8h.6m-.6,-.4h.6m-.4,.1h.6m-.6,-.3h.6m-.4,-.2h.6m-.4,.2h.6m-.2,.8h.6m-.4,-.3h.6m-.6,-.5h.6m-.3,.2h.6m-.1,-.3h.6m-.6,.1h.6m-.3,.3h.6m-.2,.2h.6m.3,-.4h.6m-.3,.3h.6m-.3,-.6h.6m-.4,.9h.6m-.3,-.9h.6m-.5,.6h.6m-.4,.2h.6m.1,-.4h.6m-.5,-.4h.6m0,.1h.6m-.3,.4h.6m-.6,-.4h.6m.9,.6h.6m-.5,.3h.6m-.4,-.5h.6m.1,.2h.6m1.8,.1h.6m-.1,.1h.6m.5,.1h.6m.6,-.1h.6m1,-.2h.6m4.9,.2h.6m1.2,-.2h.6m-38.7,.9h.6m.7,-.2h.6m.1,-.1h.6m1.5,.2h.6m.2,0h.6m0,.4h.6m.5,0h.6m-.2,-.3h.6m-.5,-.3h.6m-.5,0h.6m0,.2h.6m.6,.2h.6m-.6,-.6h.6m-.2,.6h.6m1.6,.1h.6m-.5,-.7h.6m.8,.5h.6m-.4,.1h.6m-.4,-.6h.6m-.5,.1h.6m3.2,-.1h.6m-.4,.8h.6m.4,-.1h.6m.7,-.7h.6m-.1,.1h.6m-.3,.1h.6m-.2,.4h.6m.3,.2h.6m2,-.2h.6m1.8,0h.6m4.8,.1h.6m2.7,-.1h.6m-36.1,1h.6m1.3,.1h.6m-.1,-.4h.6m1.4,-.1h.6m.3,.3h.6m-.1,.1h.6m-.2,.1h.6m.8,-.5h.6m-.2,.5h.6m-.2,-.1h.6m.4,-.2h.6m.8,-.2h.6m-.5,-.2h.6m-.3,.9h.6m2,-.9h.6m.8,.3h.6m-.5,.2h.6m-.5,0h.6m-.3,-.6h.6m.6,.8h.6m-.5,-.2h.6m.5,-.5h.6m.7,-.1h.6m-.2,.9h.6m-.3,-.6h.6m-.2,.2h.6m.2,-.2h.6m.3,.3h.6m-.3,.4h.6m.1,-.2h.6m.4,-.6h.6m-.2,.7h.6m-.4,-.9h.6m.3,1h.6m-.4,-.5h.6m.5,-.4h.6m1.6,.4h.6m7.6,.3h.6m-37.6,1.1h.6m.8,-.6h.6m.8,.6h.6m1.7,-.6h.6m.4,-.2h.6m-.4,.3h.6m.2,-.1h.6m-.2,.4h.6m4.1,-.5h.6m-.6,.6h.6m-.4,-.1h.6m.5,-.4h.6m-.4,.6h.6m.8,-.8h.6m-.3,.4h.6m.3,-.1h.6m-.3,0h.6m1.8,-.3h.6m-.2,.4h.6m.9,.2h.6m.2,-.2h.6m4.4,.3h.6m.5,-.6h.6m1.2,.2h.6m-30.5,1.5h.6m5.9,-.8h.6m-.6,.7h.6m0,-.1h.6m0,-.6h.6m1.5,.7h.6m.1,-.2h.6m-.1,-.2h.6m.3,.2h.6m.2,-.2h.6m-.2,-.2h.6m.6,.6h.6m-.3,-.4h.6m2.9,.4h.6m-.3,.1h.6m-.2,-.8h.6m0,.3h.6m1,.6h.6m1.6,-.5h.6m.1,.1h.6m1.6,-.1h.6m2.8,.4h.6m.3,.1h.6m.3,-.2h.6m.9,-.5h.6m2.1,.1h.6m4.8,-.2h.6m-40.1,1.7h.6m5.5,-.3h.6m.1,.3h.6m2,0h.6m.8,-.6h.6m.9,0h.6m-.4,.2h.6m2.7,-.3h.6m1.8,.1h.6m3.4,.5h.6m2.3,.1h.6m5.3,-.1h.6m6.2,-.4h.6m-40.2,1.2h.6m.2,-.5h.6m-.4,.8h.6m1.1,-.2h.6m-.2,-.5h.6m2,.1h.6m2.7,.3h.6m1.5,-.5h.6m-.5,.8h.6m1.4,-.7h.6m5.3,.7h.6m.4,-.3h.6m-.1,.4h.6m5.7,-1h.6m-.4,.6h.6m5.9,.2h.6m1,0h.6m-.3,.1h.6m-.1,-.3h.6m-31,.7h.6m1.7,.2h.6m-.5,.2h.6m1.5,.2h.6m-.4,-.6h.6m2.2,-.1h.6m-.5,.3h.6m.5,.3h.6m.4,-.5h.6m.5,.6h.6m1,-.5h.6m1.7,-.3h.6m.1,.4h.6m3.1,-.1h.6m2.4,-.1h.6m-25.9,1.6h.6m.7,.1h.6m2.5,-.7h.6m9.5,0h.6m-.4,-.2h.6m3,.7h.6m.5,-.7h.6m.1,.6h.6m1,-.1h.6m.3,-.3h.6m-.5,.3h.6m2.4,-.1h.6m2.1,.2h.6m3.5,.2h.6m-31.5,.5h.6m2.9,0h.6m4.1,0h.6m9.1,.4h.6m-.6,0h.6m1.4,.1h.6m0,0h.6m-.4,-.7h.6m-20.6,1.3h.6m6.1,.5h.6m12.9,-.6h.6m-.4,-.2h.6m7,.2h.6m2.7,.5h.6m1.2,-.5h.6m-35.8,1.4h.6m.4,-.4h.6m.2,.3h.6m.3,-.5h.6m4.6,.3h.6m-.3,-.4h.6m3.9,.5h.6m.3,.1h.6m7.9,-.2h.6m1.5,.1h.6m-.3,0h.6m1.6,-.3h.6m8.1,.1h.6m.6,.2h.6m-30.7,1.4h.6m.3,0h.6m5,-.3h.6m2.8,-.2h.6m6.3,-.1h.6m4.9,0h.6m1.6,-.1h.6m-24.1,.8h.6m1,.6h.6m6.6,-.6h.6m2.4,.1h.6m.3,.1h.6m8.6,-.1h.6m-28.4,.8h.6m1.5,.1h.6m1.2,-.1h.6m9,.9h.6m-4.6,1.3h.6" stroke="#111" stroke-width=".6" fill="none"/>
<path d="M549.7,109.5l1.9,0 1.5,.4 2.3,1.6 1.8,1.9 1.2,2.4 .4,2.3-.3,1.5-1.1,1.6-3.5,2-4.7,3.6-8.5,3.4-3.9,.4-4.7-.2-3.1-.8-1.7-1.4-.4-.8 .3-1.5 1.4-1.6 10.1-5.4 6.6-5.5 2.9-3.1 1.5-.8z" fill="#fff" stroke="#333" stroke-width=".5"/>
<path d="M550.6,111.9l1.7-.1 2.4,1.4 1.3,1.8 .5,2.3-.6,1.6-3.6,2.1-3.1,3.3-7,3.5-3.9,1.1-5.4,0-2.3-.6-1-.9-.2-.8 1-1.5 9.3-4.7 4.1-3.2 3.6-2.2 3.2-3.1zM551.5,115l.8-.4 .8,.3 .5,1.6-1.3,.7-.7-.2-.5-.5 .4-1.5zM546.9,118.1l1.6,0 .7,.6 .2,.9-.8,2.4-1.8,1.5-5.9,3.1-2.5,.8-3.9,.2-1.2-.2-1.1-.8 .2-.7 .9-.8 7.4-3.3 4.1-2.9 2.1-.8z" fill="none" stroke="#777" stroke-width=".45"/>
<rect x="505.8" y="125.5" width="17.0" height="23.3" fill="#cdcdcd"/>
<path d="M522.4,135.3 522.2,139.6 521.6,141.9 520.8,143.5 519.7,144.6 518.5,145.5 516.9,146.2 514.1,146.7 511.0,146.8 509.3,146.4 508.0,145.3 507.1,143.8 506.6,141.8 506.4,139.3 506.3,135.3 506.4,131.2 506.6,128.8 507.1,126.8 508.0,125.2 509.3,124.2 511.0,123.8 514.0,123.9 516.9,124.3 518.5,125.1 519.7,125.9 520.8,127.1 521.6,128.7 522.2,131.0zM521.5,135.1 521.2,138.4 520.6,140.3 520.0,141.8 519.2,143.0 518.2,144.0 516.8,144.8 514.4,145.2 511.9,145.0 510.5,144.4 509.4,143.3 508.7,141.9 508.2,140.2 507.9,138.3 507.6,135.1 507.6,131.7 507.8,129.5 508.4,127.8 509.3,126.6 510.5,125.8 512.1,125.6 514.4,125.6 516.7,125.8 518.1,126.2 519.3,126.9 520.3,127.9 521.1,129.5 521.4,131.6zM520.4,134.8 520.2,137.3 519.9,138.9 519.4,140.3 518.8,141.6 517.9,142.5 516.6,143.1 514.8,143.3 512.9,143.0 511.7,142.3 510.9,141.4 510.2,140.3 509.6,139.0 509.2,137.4 508.9,134.8 508.9,132.2 509.2,130.4 509.9,129.0 510.7,128.1 511.8,127.5 513.0,127.1 514.7,127.0 516.5,127.0 517.8,127.2 518.9,127.9 519.7,128.9 520.2,130.4 520.5,132.2zM519.5,134.6 519.5,136.4 519.3,137.8 518.9,139.0 518.3,140.1 517.5,140.8 516.5,141.2 515.1,141.1 513.8,140.8 512.9,140.3 512.1,139.7 511.4,138.9 510.9,137.9 510.5,136.5 510.3,134.6 510.4,132.7 510.8,131.3 511.4,130.2 512.1,129.4 512.9,128.8 513.8,128.4 515.1,128.1 516.4,128.1 517.5,128.4 518.3,129.1 518.9,130.1 519.3,131.3 519.5,132.8zM518.8,134.4 518.8,135.6 518.7,136.7 518.3,137.7 517.8,138.4 517.1,138.9 516.3,139.1 515.4,139.1 514.6,138.9 513.9,138.7 513.2,138.2 512.6,137.6 512.2,136.7 511.9,135.7 511.9,134.4 512.1,133.1 512.4,132.1 512.8,131.3 513.3,130.6 513.9,130.0 514.6,129.5 515.4,129.3 516.4,129.4 517.1,129.8 517.7,130.4 518.2,131.2 518.5,132.1 518.7,133.2zM518.1,134.1 518.1,134.9 518.0,135.6 517.7,136.2 517.2,136.7 516.8,137.0 516.3,137.2 515.8,137.3 515.3,137.2 514.8,137.1 514.3,136.7 513.9,136.2 513.7,135.6 513.5,134.9 513.5,134.1 513.6,133.4 513.8,132.8 514.1,132.1 514.4,131.6 514.8,131.1 515.3,130.8 515.8,130.7 516.3,130.9 516.8,131.2 517.2,131.6 517.5,132.2 517.8,132.8 518.0,133.4zM517.4,133.9 517.4,134.2 517.3,134.6 517.1,134.9 516.9,135.2 516.6,135.4 516.4,135.5 516.1,135.6 515.9,135.6 515.6,135.5 515.4,135.3 515.2,134.9 515.0,134.6 515.0,134.2 515.0,133.9 515.0,133.6 515.1,133.2 515.2,132.8 515.4,132.5 515.6,132.3 515.9,132.1 516.1,132.1 516.4,132.2 516.6,132.4 516.9,132.6 517.1,132.9 517.2,133.2 517.4,133.6z" fill="none" stroke="#555" stroke-width=".6"/>
<rect x="505.9" y="145.6" width="16.3" height="1.8" fill="#333"/>
<rect x="505.9" y="125.5" width="1.2" height="22.3" fill="#555"/>
<path d="M522.80,125.50 V87.00 H567.10 V125.50 H505.90 V147.20 H522.80 V125.50" fill="none" stroke="#000" stroke-width="1.7"/>
<text x="564.50" y="95.80" font-size="8.0" font-weight="bold" fill="#000" text-anchor="end" >4</text>
<text x="564.50" y="145.00" font-size="8.0" font-weight="bold" fill="#000" text-anchor="end" >7</text>
<line x1="567.50" y1="101.90" x2="601.70" y2="101.90" stroke="#000" stroke-width="2.0" />
<polygon points="600.20,98.50 608.70,101.90 600.20,105.30" fill="#000"/>
<rect x="590.30" y="86.60" width="62.20" height="62.20" fill="none" stroke="#9a9a9a" stroke-width="0.7" />
<line x1="590.30" y1="91.78" x2="591.50" y2="91.78" stroke="#888" stroke-width="0.5" />
<line x1="590.30" y1="96.97" x2="591.50" y2="96.97" stroke="#888" stroke-width="0.5" />
<line x1="590.30" y1="102.15" x2="591.50" y2="102.15" stroke="#888" stroke-width="0.5" />
<line x1="590.30" y1="107.33" x2="591.50" y2="107.33" stroke="#888" stroke-width="0.5" />
<line x1="590.30" y1="112.52" x2="591.50" y2="112.52" stroke="#888" stroke-width="0.5" />
<line x1="590.30" y1="117.70" x2="591.50" y2="117.70" stroke="#888" stroke-width="0.5" />
<line x1="590.30" y1="122.88" x2="591.50" y2="122.88" stroke="#888" stroke-width="0.5" />
<line x1="590.30" y1="128.07" x2="591.50" y2="128.07" stroke="#888" stroke-width="0.5" />
<line x1="590.30" y1="133.25" x2="591.50" y2="133.25" stroke="#888" stroke-width="0.5" />
<line x1="590.30" y1="138.43" x2="591.50" y2="138.43" stroke="#888" stroke-width="0.5" />
<line x1="590.30" y1="143.62" x2="591.50" y2="143.62" stroke="#888" stroke-width="0.5" />
<line x1="595.48" y1="148.80" x2="595.48" y2="147.60" stroke="#888" stroke-width="0.5" />
<line x1="600.67" y1="148.80" x2="600.67" y2="147.60" stroke="#888" stroke-width="0.5" />
<line x1="605.85" y1="148.80" x2="605.85" y2="147.60" stroke="#888" stroke-width="0.5" />
<line x1="611.03" y1="148.80" x2="611.03" y2="147.60" stroke="#888" stroke-width="0.5" />
<line x1="616.22" y1="148.80" x2="616.22" y2="147.60" stroke="#888" stroke-width="0.5" />
<line x1="621.40" y1="148.80" x2="621.40" y2="147.60" stroke="#888" stroke-width="0.5" />
<line x1="626.58" y1="148.80" x2="626.58" y2="147.60" stroke="#888" stroke-width="0.5" />
<line x1="631.77" y1="148.80" x2="631.77" y2="147.60" stroke="#888" stroke-width="0.5" />
<line x1="636.95" y1="148.80" x2="636.95" y2="147.60" stroke="#888" stroke-width="0.5" />
<line x1="642.13" y1="148.80" x2="642.13" y2="147.60" stroke="#888" stroke-width="0.5" />
<line x1="647.32" y1="148.80" x2="647.32" y2="147.60" stroke="#888" stroke-width="0.5" />
<path d="M639.6,95.2h0.6m-8.9,14.8h.6m18.3,1.1h.6m-22.9,1.2h.6m22.7,2.8h.6m-27,2.6h.6m2.1,1.1h.6m-3.4,2h.6m-4,1h.6m.8,.4h.6m26.5,2.5h.6m-28.8,1h.6m-.7,1.6h.6m26,.8h.6m-23.2,9h.6m-.6,3.1h.6m-.6,.6h.6m6.7,6.6h.6m7,.1h.6" stroke="#333" stroke-width=".6" fill="none"/>
<path d="M637.6,101l3.6-.6 2.4,.8 1.5,1.3 2.7,5.5 .5,3.9-.1,3.9-1,8.5-.1,5.5-1.1,3.8 .5,3.9-.3,3.1-1.7,2.4-2.5,2-5.4,.8-3.9-1-2.9-2.6-1-3.1 .2-5.5-.4-.7-4.1-3.1-.9-1.6-.9-3.1 .7-2.3 1.5-2.2 1.6-1.1 2.3-.8 .8-.9 1.5-3.7 .4-3.8 1-3.1 2.8-4.7 2.3-1.5z" fill="#ececec" stroke="#444" stroke-width=".5"/>
<path d="M639.4,104.9l2.6,.2 2.7,4.4 .4,5.5-1.3,7.8 .5,4.6-.8,1.6-.3,2.3-1.3,3.9 .5,3.9-1.3,2.3-3.8,1.8-.9-.2-2.5-2.4-1.3-2.3 .2-4.7-2.5-6.6-3.1,.3-.9-.7-.4-1.5 .6-1.7 1.5-.2 1.6,.9 1.6-1.3 3.4-10.9 2.4-5.5 1.1-1.3 1.3-.2z" fill="#dedede" stroke="none"/>
<path d="M639.6,108.8l1.6,.1 1,1.4 .4,4.7-2,3.9 .8,1.5 .7,5.5-1.5,5.4-2.5,2.5-2.9-2.5-1.5-3.1-.1-2.3 .7-2.4-.1-2.3 1.9-2.3 0-2.4 .9-1.5 .2-3.1 1.4-2.4 1-.7z" fill="#d2d2d2" stroke="none"/>
<path d="M639.1,102.5l2.1-.4 1.6,.4 3.1,4.4 1.1,3.4 0,4.7-1.2,9.3 .3,3.9-1.5,6.2 .4,3.9-.4,1.6-.8,1.5-2.6,2.3-4.6,1.1-3.1-1.2-2.1-2.2-1.1-3.1 .3-3.9-.3-1.7-.7-1-4.1-2.7-1-1.6-.6-2.3 .6-2.3 1.2-1.4 3.5-1 1.1-1 2.3-5.2 .2-3.1 1.4-3.9 2.3-3.9 2.6-.8zM637.4,104.1l3.8-.7 1.6,.7 2.8,4.7 .5,2.3-.1,3.9-1.1,8.5 .4,3.9-2.2,7.8 .4,3.9-1.2,2.3-1.1,1.1-3.9,1.5-2.3-.9-2.3-2.1-1.4-3.5 .4-3.9-1.4-4.2-.7-.8-2.4,0-.7-.4-1.3-1.6-.3-1.5 .2-1.6 1.4-1.4 3.1-.1 1-.8 2.6-6.2 .7-3.9 2.7-6.1 .8-.9zM639.4,104.9l2.6,.2 2.7,4.4 .4,5.5-1.3,7.8 .5,4.6-.8,1.6-.3,2.3-1.3,3.9 .5,3.9-1.3,2.3-3.8,1.8-.9-.2-2.5-2.4-1.3-2.3 .2-4.7-2.5-6.6-3.1,.3-.9-.7-.4-1.5 .6-1.7 1.5-.2 1.6,.9 1.6-1.3 3.4-10.9 2.4-5.5 1.1-1.3 1.3-.2zM638.3,106.4l2.1-.5 1,.5 2.4,3.9 0,2.3 .5,2.4-1.5,7.8 .7,3.8-1,2.4-.1,2.3-1.9,3.9 .7,2.3-.2,2.4-1.3,1.5-2.4,1-3.3-4.1-.1-.8 .8-2.3-2.8-7-.3-3.1 3.4-11.7 3.3-7zM627.2,125.1l.3,0-.3,0zM638.5,108l1.9-.6 2.3,2.1 .9,5.5-1.3,4.6-.2,3.2 .6,3.8-.9,2.4-.2,2.3-2.1,3.1 .2,3.1-3.1,.4-.4-.4-.2-3.1-3.2-6.2-.1-3.1 .6-1.6 .2-2.7 1.5-2.5 .3-3.3 1.4-3.9 1.8-3.1zM637.9,140.6l.6,0-.6,0zM639.6,108.8l1.6,.1 1,1.4 .4,4.7-2,3.9 .8,1.5 .7,5.5-1.5,5.4-2.5,2.5-2.9-2.5-1.5-3.1-.1-2.3 .7-2.4-.1-2.3 1.9-2.3 0-2.4 .9-1.5 .2-3.1 1.4-2.4 1-.7zM640.2,110.3l1.1,0-.3,1.6 .5,2.3-.3,.8-2.3,1.5-.6-3.1 .3-.8 1.4-.7 .2-1.6zM637.6,117.3l.5-.5 .8,.3 .5,2.5 1.3,1.6 .9,4.7-1.5,4.6-2.8,1.3-.7-.2-.8-1.1-1.4-2.3-.2-1.6 1-3.1-.3-1.5 1.8-2.4 .9-2.3zM637.4,120.4l.7-.3 1.6,1.5 1.2,4.3-1.2,2.9-1.6,1.6-.8,.2-2.2-2.4-.4-1.6 1.1-2.3 .2-2.3 1.4-1.6zM638,122.8l.2,.7 1.5,1 .2,2.1-1.8,1.8-1.5,.3-.9-.5-.5-1.6 .6-1.2 2-1.1 .2-1.5zM636.3,125.9l1.5,0 .5,.7-.3,.8-1.4,.6-.7-.6-.1-.8 .5-.7z" fill="none" stroke="#3c3c3c" stroke-width=".45"/>
<path d="M626.7,145.3l6-.5 9.3,.1 7.8,.9 1.1,.3 .7,.8-7.3,1.3-16.3,0-6.9-1.3 1.5-1.1 4.1-.5z" fill="#999" stroke="#222" stroke-width=".7"/>
<path d="M626.1,146.1l5-.6 9.3-.1 5.5,.5 1.6,1-6.3,.9-7.7,.2-7.8-1-.5-.1 .9-.8zM630.5,146.1l9.2-.3 2.4,.3 1.6,.8-4.8,.5-6.2-.1-3.7-.4 1.5-.8z" fill="#111" stroke="#000" stroke-width=".6"/>
<path d="M621.20,86.90 V121.90 H652.20" fill="none" stroke="#000" stroke-width="1.9"/>
<text x="648.10" y="95.80" font-size="8.0" font-weight="bold" fill="#000" text-anchor="end" >25</text>
<rect x="321.00" y="154.20" width="62.20" height="62.20" fill="none" stroke="#9a9a9a" stroke-width="0.7" />
<line x1="321.00" y1="159.38" x2="322.20" y2="159.38" stroke="#888" stroke-width="0.5" />
<line x1="321.00" y1="164.57" x2="322.20" y2="164.57" stroke="#888" stroke-width="0.5" />
<line x1="321.00" y1="169.75" x2="322.20" y2="169.75" stroke="#888" stroke-width="0.5" />
<line x1="321.00" y1="174.93" x2="322.20" y2="174.93" stroke="#888" stroke-width="0.5" />
<line x1="321.00" y1="180.12" x2="322.20" y2="180.12" stroke="#888" stroke-width="0.5" />
<line x1="321.00" y1="185.30" x2="322.20" y2="185.30" stroke="#888" stroke-width="0.5" />
<line x1="321.00" y1="190.48" x2="322.20" y2="190.48" stroke="#888" stroke-width="0.5" />
<line x1="321.00" y1="195.67" x2="322.20" y2="195.67" stroke="#888" stroke-width="0.5" />
<line x1="321.00" y1="200.85" x2="322.20" y2="200.85" stroke="#888" stroke-width="0.5" />
<line x1="321.00" y1="206.03" x2="322.20" y2="206.03" stroke="#888" stroke-width="0.5" />
<line x1="321.00" y1="211.22" x2="322.20" y2="211.22" stroke="#888" stroke-width="0.5" />
<line x1="326.18" y1="216.40" x2="326.18" y2="215.20" stroke="#888" stroke-width="0.5" />
<line x1="331.37" y1="216.40" x2="331.37" y2="215.20" stroke="#888" stroke-width="0.5" />
<line x1="336.55" y1="216.40" x2="336.55" y2="215.20" stroke="#888" stroke-width="0.5" />
<line x1="341.73" y1="216.40" x2="341.73" y2="215.20" stroke="#888" stroke-width="0.5" />
<line x1="346.92" y1="216.40" x2="346.92" y2="215.20" stroke="#888" stroke-width="0.5" />
<line x1="352.10" y1="216.40" x2="352.10" y2="215.20" stroke="#888" stroke-width="0.5" />
<line x1="357.28" y1="216.40" x2="357.28" y2="215.20" stroke="#888" stroke-width="0.5" />
<line x1="362.47" y1="216.40" x2="362.47" y2="215.20" stroke="#888" stroke-width="0.5" />
<line x1="367.65" y1="216.40" x2="367.65" y2="215.20" stroke="#888" stroke-width="0.5" />
<line x1="372.83" y1="216.40" x2="372.83" y2="215.20" stroke="#888" stroke-width="0.5" />
<line x1="378.02" y1="216.40" x2="378.02" y2="215.20" stroke="#888" stroke-width="0.5" />
<path d="M360.6,158.4h0.6m6.5,-.4h.6m-7,2.2h.6m-33.3,.4h.6m23.5,.8h.6m-2.6,1.1h.6m.5,-.9h.6m6.2,.6h.6m17.7,-.2h.6m-14.2,1.1h.6m3.5,.5h.6m8,-.1h.6m1,.4h.6m-39.3,1.2h.6m-8.6,1h.6m11.4,-.4h.6m1.2,.7h.6m16.5,0h.6m-18.9,.9h.6m-6.1,.9h.6m14,.2h.6m5.2,-.9h.6m9,.5h.6m7.5,-.4h.6m-26,1.2h.6m-.6,.5h.6m1.5,1.1h.6m6.6,-.5h.6m-.5,.6h.6m9.9,-.3h.6m0,-.4h.6m-35,1.2h.6m4.5,-.4h.6m.9,.2h.6m19.5,.4h.6m2.4,-.4h.6m.9,.1h.6m.2,-.3h.6m.1,.8h.6m2,-.1h.6m6.3,-.3h.6m-49.1,1.4h.6m19.1,-.6h.6m-.2,.7h.6m.3,-.9h.6m15.1,.5h.6m1.1,-.5h.6m2.6,.3h.6m1.8,.5h.6m.2,-.5h.6m2.1,.1h.6m-38.4,.9h.6m4.8,-.3h.6m7.5,.5h.6m7.5,0h.6m-.1,.3h.6m2.1,0h.6m-.1,-.3h.6m.1,-.5h.6m.3,.1h.6m.7,0h.6m.2,.2h.6m.1,0h.6m3.3,.1h.6m-30.5,.7h.6m14.5,.6h.6m-.6,-.7h.6m.9,.3h.6m.2,.6h.6m2.7,-.6h.6m-.1,0h.6m-.2,.6h.6m-.5,-.5h.6m-.5,.3h.6m-.1,-.1h.6m.7,.3h.6m.2,-.9h.6m-.5,.7h.6m-.2,-.8h.6m1,.3h.6m1,.2h.6m-.1,0h.6m1.2,-.3h.6m-.5,.5h.6m1.8,-.7h.6m.7,1h.6m-21.2,.2h.6m-.3,.1h.6m1.4,-.1h.6m.8,.6h.6m-.1,-.1h.6m1.4,.2h.6m.1,-.4h.6m.5,.4h.6m-.5,-.1h.6m.1,-.1h.6m0,-.5h.6m-.5,.7h.6m.1,0h.6m-.6,-.2h.6m-.5,.2h.6m-.6,-.1h.6m-.1,-.7h.6m.3,.8h.6m-.3,0h.6m-.3,-.3h.6m.3,.2h.6m2.6,-.7h.6m-.4,.7h.6m.4,-.5h.6m-.6,-.2h.6m.4,0h.6m1.8,.8h.6m1,0h.6m-50.5,.3h.6m23,.5h.6m4.4,.3h.6m.6,-1h.6m1.3,.3h.6m1.3,.3h.6m1.3,.2h.6m.2,-.4h.6m-.5,-.4h.6m.6,.6h.6m-.3,0h.6m0,-.3h.6m-.5,.4h.6m-.6,0h.6m-.5,-.7h.6m-.1,0h.6m-.4,.2h.6m-.3,.7h.6m-.2,-.3h.6m-.6,-.3h.6m-.4,0h.6m-.1,.7h.6m-.2,-.3h.6m0,0h.6m0,.3h.6m-.3,-.6h.6m-.5,.6h.6m.7,-.2h.6m.7,-.3h.6m-.3,.4h.6m-.3,-.2h.6m-.3,.2h.6m-.3,0h.6m.7,-.8h.6m-51,1.3h.6m2,-.1h.6m-.1,.3h.6m19.3,.3h.6m2.9,-.6h.6m1.2,.6h.6m1.9,-.2h.6m.7,0h.6m-.2,-.2h.6m.6,-.2h.6m1.1,.3h.6m-.4,-.1h.6m.2,.3h.6m-.2,-.3h.6m.3,.1h.6m.1,.1h.6m-.2,-.5h.6m-.3,.2h.6m-.6,-.3h.6m.2,0h.6m.6,.8h.6m-.5,-.3h.6m0,.2h.6m-.5,0h.6m.7,-.6h.6m-.3,.4h.6m-.2,.1h.6m-.2,-.1h.6m.3,-.3h.6m-.6,.4h.6m-.2,.1h.6m0,-.1h.6m-.2,0h.6m.2,-.4h.6m-.4,.1h.6m-.5,-.3h.6m.4,.8h.6m.5,-.5h.6m-.4,-.1h.6m2.7,-.1h.6m-55.2,1.8h.6m32.1,-.9h.6m.2,.7h.6m1.3,-.2h.6m-.4,-.2h.6m-.3,.6h.6m.8,-.9h.6m-.2,.7h.6m-.5,-.2h.6m0,.4h.6m-.6,-.9h.6m-.2,.2h.6m-.1,.6h.6m-.5,-.9h.6m0,.5h.6m-.3,.3h.6m-.4,-.1h.6m-.5,.2h.6m-.5,-.6h.6m-.4,.3h.6m.4,.2h.6m-.5,0h.6m-.3,.1h.6m-.4,-.3h.6m-.4,-.1h.6m-.4,.3h.6m-.5,-.6h.6m-.6,.2h.6m-.5,.4h.6m-.4,-.4h.6m-.3,.4h.6m-.4,-.2h.6m-.4,.1h.6m0,-.4h.6m-.3,-.2h.6m-.6,.9h.6m.1,-.9h.6m-.4,.6h.6m-.5,-.4h.6m-.4,-.2h.6m-.5,.8h.6m-.5,0h.6m-.6,-.1h.6m.1,-.4h.6m-.1,.1h.6m1,.1h.6m1.2,-.5h.6m2.6,-.1h.6m-55.6,1.5h.6m3.3,.3h.6m2.8,-.1h.6m4.4,-.3h.6m6.9,.3h.6m4.5,0h.6m6.9,-.2h.6m1,-.1h.6m-.1,.2h.6m.3,-.5h.6m-.3,.1h.6m-.5,.7h.6m1.2,-.1h.6m-.4,-.5h.6m-.5,.2h.6m-.4,0h.6m.4,-.4h.6m-.1,.5h.6m-.3,-.5h.6m-.2,.3h.6m-.4,-.2h.6m-.4,.1h.6m-.5,-.1h.6m-.6,.4h.6m.2,0h.6m-.6,-.2h.6m0,0h.6m-.5,.3h.6m-.6,0h.6m.2,.2h.6m.6,-.7h.6m-.6,.7h.6m.1,-.4h.6m-.6,.3h.6m-.3,.1h.6m-.2,-.1h.6m-.4,-.1h.6m-.2,0h.6m-.6,.1h.6m-.5,-.1h.6m-.3,0h.6m-.2,.1h.6m-.5,-.5h.6m-.4,.4h.6m0,-.5h.6m-.5,.5h.6m-.3,.1h.6m1.4,-.3h.6m-.2,.3h.6m-.1,-.5h.6m.6,.5h.6m.1,-.6h.6m-45,.8h.6m18.5,.9h.6m1.1,-.7h.6m-.5,.1h.6m2.1,.4h.6m-.2,-.1h.6m.1,-.1h.6m-.5,-.1h.6m-.4,-.4h.6m.1,.9h.6m0,-.8h.6m-.2,.3h.6m-.6,-.2h.6m-.4,.4h.6m-.5,-.1h.6m-.4,.4h.6m-.4,.1h.6m-.1,-.6h.6m-.5,-.2h.6m-.4,-.2h.6m-.4,.5h.6m-.5,.1h.6m-.3,.3h.6m-.5,0h.6m-.4,-.6h.6m-.3,.7h.6m-.2,-.5h.6m-.3,.4h.6m-.3,-.3h.6m-.5,.4h.6m-.4,-.4h.6m-.6,-.6h.6m-.5,.1h.6m-.5,0h.6m-.6,.7h.6m-.5,.1h.6m-.2,-.9h.6m-.5,.6h.6m-.1,-.4h.6m0,.3h.6m-.5,.1h.6m-.2,-.1h.6m-.5,-.4h.6m-.4,.6h.6m-.4,-.5h.6m-.2,.4h.6m-.5,0h.6m-.1,.4h.6m-.6,0h.6m-.5,-.2h.6m-.4,.1h.6m-.5,-.9h.6m-.6,.5h.6m-.5,-.2h.6m-.6,.1h.6m-.6,-.2h.6m-.6,.5h.6m-.6,.2h.6m-.6,-.7h.6m-.5,0h.6m-.3,.4h.6m-.5,-.4h.6m-.3,-.2h.6m-.3,1h.6m.1,-.5h.6m-.3,-.1h.6m-.3,-.4h.6m-.4,.9h.6m.4,-.7h.6m-.4,.4h.6m-.2,-.6h.6m-.5,.6h.6m-.3,-.4h.6m-.2,.7h.6m-.5,.1h.6m-.1,-.4h.6m-.6,.3h.6m.4,-.1h.6m-.3,0h.6m-.1,-.3h.6m-.4,.3h.6m1,-.1h.6m-.4,-.2h.6m-.3,-.1h.6m-49.7,.9h.6m25.3,.5h.6m0,0h.6m2.5,.1h.6m.5,0h.6m-.5,-.1h.6m-.4,-.7h.6m.4,.2h.6m-.2,.2h.6m-.6,.4h.6m-.5,0h.6m-.5,-.7h.6m.4,.6h.6m-.6,-.3h.6m-.3,.2h.6m-.5,0h.6m-.3,-.1h.6m-.5,.2h.6m-.5,-.1h.6m-.5,-.4h.6m-.6,.4h.6m-.6,-.4h.6m-.3,-.2h.6m-.5,.1h.6m-.5,.6h.6m-.5,-.6h.6m-.6,.4h.6m-.2,.3h.6m-.5,0h.6m-.5,-.6h.6m-.5,.2h.6m-.3,-.4h.6m-.4,.1h.6m-.5,.3h.6m-.6,-.1h.6m0,.4h.6m-.5,-.1h.6m-.3,-.2h.6m0,-.4h.6m.2,.3h.6m-.5,-.1h.6m-.4,.3h.6m-.5,-.2h.6m-.6,0h.6m-.5,.2h.6m0,.2h.6m-.6,-.1h.6m-.5,-.1h.6m-.2,-.5h.6m.4,.5h.6m-.2,.3h.6m-.3,-.5h.6m-.6,.4h.6m-.2,-.2h.6m-.3,-.1h.6m-.3,-.3h.6m-.4,.4h.6m-.5,-.1h.6m-.4,-.2h.6m0,.1h.6m-.3,-.3h.6m-.4,.5h.6m-.5,-.4h.6m-.6,0h.6m.5,.7h.6m-.5,-.8h.6m.7,.3h.6m.9,-.3h.6m-.4,.6h.6m.8,-.1h.6m.6,.1h.6m-57.5,.5h.6m2.2,.7h.6m2.7,-.9h.6m15,.5h.6m2.3,.4h.6m1.1,0h.6m2.5,-.9h.6m1.1,1h.6m0,0h.6m-.1,-.5h.6m-.2,.2h.6m1.6,-.6h.6m-.4,.3h.6m-.5,-.3h.6m-.2,.9h.6m-.2,-.8h.6m-.3,.6h.6m.3,-.7h.6m0,.7h.6m-.3,-.1h.6m-.4,-.1h.6m-.5,-.6h.6m.1,.6h.6m-.1,-.3h.6m-.6,-.3h.6m-.3,.2h.6m-.4,.6h.6m-.4,-.6h.6m0,.6h.6m-.5,-.3h.6m-.6,-.2h.6m-.5,.5h.6m-.6,-.7h.6m-.1,-.1h.6m-.5,.1h.6m-.6,.6h.6m-.6,-.7h.6m-.3,0h.6m-.6,.5h.6m2.3,.4h.6m0,-.5h.6m-.6,.3h.6m.2,-.2h.6m-.5,.5h.6m-.5,-.3h.6m-.6,.3h.6m-.4,-.8h.6m-.2,0h.6m-.6,.3h.6m-.6,.3h.6m-.2,.1h.6m-.4,-.5h.6m-.5,0h.6m-.6,-.2h.6m0,.7h.6m-.3,-.3h.6m-.1,-.3h.6m.1,.5h.6m-.6,0h.6m-.2,-.7h.6m-.6,.9h.6m-.3,-.9h.6m-.4,.3h.6m-.5,-.1h.6m-.4,.1h.6m.3,-.3h.6m.2,.3h.6m.1,0h.6m.5,0h.6m-47.5,1h.6m.3,.1h.6m14.7,-.2h.6m1.2,.2h.6m2.8,.2h.6m.4,.2h.6m.8,-.8h.6m2.5,.2h.6m.4,.3h.6m.1,.2h.6m.2,-.3h.6m.1,0h.6m-.5,-.3h.6m-.5,.2h.6m-.5,0h.6m0,0h.6m-.5,.4h.6m-.5,0h.6m-.1,-.1h.6m-.4,-.2h.6m-.1,.4h.6m-.2,-.3h.6m-.5,-.3h.6m-.3,0h.6m3.1,-.2h.6m-.2,.2h.6m-.6,.3h.6m-.6,-.4h.6m-.4,0h.6m-.6,.4h.6m-.3,-.1h.6m-.2,-.3h.6m-.5,-.1h.6m-.5,.4h.6m-.5,-.3h.6m-.3,0h.6m-.1,.2h.6m-.3,.5h.6m-.5,0h.6m0,-.4h.6m-.3,-.4h.6m-.6,.5h.6m-.5,.2h.6m-.3,-.6h.6m0,.3h.6m-.2,-.4h.6m.1,.1h.6m-.1,-.1h.6m0,.1h.6m-.4,.6h.6m0,-.4h.6m2.3,.3h.6m.9,0h.6m-58.6,.3h.6m1.2,1h.6m1.7,-.7h.6m6.5,.6h.6m9.8,-.1h.6m7.8,-.5h.6m-.4,-.1h.6m.3,.3h.6m.6,0h.6m.2,-.4h.6m-.3,.6h.6m-.6,-.4h.6m-.2,-.2h.6m-.6,.5h.6m-.1,-.6h.6m.6,.6h.6m.2,-.6h.6m-.5,.5h.6m-.5,-.3h.6m-.5,.5h.6m-.4,-.1h.6m-.5,-.3h.6m-.6,.2h.6m-.4,-.4h.6m-.5,.1h.6m-.3,.5h.6m-.4,-.4h.6m-.4,-.1h.6m-.6,.4h.6m-.1,.4h.6m-.5,-.9h.6m-.6,.8h.6m-.5,-.1h.6m-.1,-.8h.6m-.6,.1h.6m-.5,.4h.6m-.5,-.5h.6m-.4,.2h.6m-.4,-.2h.6m-.6,.4h.6m-.5,.1h.6m-.5,-.3h.6m-.6,.2h.6m-.5,.4h.6m.4,-.4h.6m-.6,.3h.6m-.5,-.6h.6m-.2,.2h.6m-.5,-.1h.6m-.4,.6h.6m0,.2h.6m-.4,-.5h.6m.5,.5h.6m-.4,0h.6m.5,-.4h.6m-.3,.3h.6m-.6,-.4h.6m-.4,.1h.6m0,-.5h.6m-.6,.5h.6m-.5,.1h.6m-.5,-.2h.6m-.5,.5h.6m-.6,-.5h.6m-.4,-.5h.6m.1,.5h.6m-.5,.3h.6m-.5,.1h.6m-.6,-.3h.6m-.5,0h.6m-.5,.1h.6m-.3,.3h.6m-.3,-.8h.6m-.5,-.2h.6m-.5,.3h.6m-.6,-.3h.6m-.6,.7h.6m-.5,-.5h.6m-.5,-.1h.6m-.4,.3h.6m-.6,.5h.6m-.5,-.3h.6m-.5,-.3h.6m.1,0h.6m1,.6h.6m-.1,-.6h.6m-.3,.7h.6m.8,-.3h.6m.1,-.4h.6m.4,-.2h.6m.3,.9h.6m.7,-.3h.6m-56.7,.9h.6m1.1,-.5h.6m1.8,.4h.6m3.5,.1h.6m6.1,.2h.6m7.2,-.6h.6m2.2,.3h.6m3.9,0h.6m-.5,.2h.6m-.2,0h.6m.1,.1h.6m.3,-.5h.6m-.3,.4h.6m-.2,-.1h.6m.3,-.3h.6m-.5,.1h.6m-.2,.4h.6m-.5,-.2h.6m-.5,-.1h.6m-.2,-.4h.6m.3,.6h.6m0,-.3h.6m-.1,-.2h.6m-.5,-.1h.6m-.5,0h.6m-.5,.3h.6m-.4,-.2h.6m-.6,.1h.6m-.4,.3h.6m-.5,-.4h.6m-.1,.2h.6m-.5,.1h.6m-.5,-.4h.6m-.2,.5h.6m-.6,-.1h.6m.5,.3h.6m-.5,-.5h.6m-.5,0h.6m-.1,.4h.6m-.3,0h.6m-.6,0h.6m-.4,-.4h.6m-.3,.4h.6m-.5,-.6h.6m0,.3h.6m-.4,.5h.6m-.5,-.8h.6m-.3,.6h.6m-.2,-.6h.6m-.6,.7h.6m-.3,-.5h.6m-.4,-.2h.6m-.4,.8h.6m-.6,0h.6m.4,-.6h.6m-.6,.4h.6m-.5,.2h.6m-.6,-.7h.6m-.1,0h.6m-.5,.2h.6m-.3,-.3h.6m.5,.5h.6m-.5,0h.6m0,-.3h.6m-.6,-.1h.6m-.4,.3h.6m-.1,.1h.6m.1,-.4h.6m-.6,.5h.6m-.5,-.1h.6m.8,-.2h.6m.1,.3h.6m-.3,0h.6m-.5,.2h.6m-.5,-.1h.6m1.8,-.5h.6m-40.5,1.4h.6m11.1,-.4h.6m4.1,-.3h.6m-.2,0h.6m-.2,1h.6m-.4,-.3h.6m.4,-.3h.6m-.4,.3h.6m-.5,.1h.6m-.6,0h.6m-.2,.2h.6m.4,-.1h.6m-.5,0h.6m-.3,-.9h.6m0,.8h.6m-.4,.2h.6m-.5,-.3h.6m-.1,-.2h.6m-.6,0h.6m.2,-.2h.6m-.4,-.1h.6m-.5,.1h.6m-.2,.2h.6m-.1,.2h.6m-.2,-.1h.6m-.3,-.6h.6m-.3,.1h.6m-.2,.2h.6m-.6,.7h.6m-.1,-.8h.6m-.4,-.2h.6m-.5,.3h.6m-.5,.5h.6m-.1,-.7h.6m-.2,.4h.6m-.3,-.5h.6m-.3,.2h.6m-.4,.7h.6m-.6,-.3h.6m-.3,0h.6m-.6,-.5h.6m-.4,0h.6m-.5,-.1h.6m-.6,.5h.6m-.4,-.5h.6m-.6,.7h.6m-.6,-.1h.6m-.2,-.4h.6m-.3,.5h.6m-.4,-.4h.6m-.1,.6h.6m-.5,0h.6m0,-.6h.6m-.6,.7h.6m-.4,-.6h.6m-.6,-.2h.6m-.1,.2h.6m-.5,-.1h.6m.2,.1h.6m-.5,-.3h.6m-.5,.2h.6m.5,-.1h.6m-.5,.4h.6m-.5,-.4h.6m-.5,.3h.6m-.2,.3h.6m-.5,-.7h.6m-.3,.2h.6m.1,.1h.6m-.2,.6h.6m.3,-.6h.6m-.6,-.1h.6m-.5,.4h.6m.1,-.3h.6m-50.2,1h.6m16.6,-.1h.6m.4,-.2h.6m8.3,.5h.6m1.2,.1h.6m-.1,-.1h.6m.4,-.4h.6m-.5,.1h.6m.5,.3h.6m-.3,0h.6m-.6,.3h.6m-.5,-.2h.6m.3,.2h.6m.6,-.4h.6m-.4,-.3h.6m.8,.1h.6m-.5,.5h.6m-.4,.1h.6m-.4,-.7h.6m-.5,0h.6m-.5,0h.6m.2,.1h.6m-.6,.1h.6m-.2,.1h.6m-.5,.1h.6m-.6,-.2h.6m-.6,-.1h.6m-.4,-.1h.6m-.6,.2h.6m-.4,.1h.6m-.5,.4h.6m-.4,-.6h.6m-.5,.2h.6m-.4,.2h.6m.3,.1h.6m-.5,-.7h.6m-.6,.7h.6m-.5,-.7h.6m-.5,.4h.6m-.5,.3h.6m-.6,-.2h.6m.2,0h.6m-.4,-.1h.6m-.1,-.4h.6m-.2,.5h.6m.4,.3h.6m-.1,-.2h.6m-.6,-.4h.6m-.4,-.2h.6m-.6,.2h.6m-.4,.3h.6m-.6,0h.6m-.4,-.4h.6m-.5,.5h.6m.1,-.6h.6m-.6,.2h.6m0,0h.6m.3,0h.6m-.1,-.1h.6m-.2,.7h.6m-.5,-.4h.6m-.5,-.4h.6m4.8,.6h.6m-.6,-.6h.6m.4,.2h.6m.2,-.2h.6m-48.7,1.6h.6m9.2,-.4h.6m-.5,-.3h.6m2.1,1h.6m-.5,0h.6m1.2,-.7h.6m4.5,-.1h.6m-.4,.1h.6m.7,.6h.6m-.5,-.2h.6m.3,-.6h.6m-.3,0h.6m-.5,.3h.6m-.5,.6h.6m-.4,-.2h.6m-.4,-.5h.6m0,-.2h.6m-.3,.9h.6m-.4,-.6h.6m-.5,0h.6m-.1,-.4h.6m-.5,.9h.6m1.6,-.7h.6m-.5,.4h.6m-.5,-.5h.6m-.3,.2h.6m-.4,.6h.6m-.2,-.7h.6m-.2,-.2h.6m-.4,.5h.6m-.5,.3h.6m.1,0h.6m-.1,-.6h.6m0,.4h.6m-.5,.3h.6m-.3,-.9h.6m-.1,0h.6m-.5,.1h.6m-.2,0h.6m-.3,.4h.6m-.3,-.3h.6m-.2,.8h.6m-.5,-.3h.6m-.4,-.6h.6m-.4,.1h.6m-.5,.8h.6m-.6,-.1h.6m-.5,-.4h.6m-.5,0h.6m-.4,-.1h.6m0,.1h.6m.3,-.5h.6m0,.2h.6m-.3,.2h.6m-.6,.3h.6m-.4,-.3h.6m-.5,.5h.6m-.3,.1h.6m-.1,-.6h.6m-.4,.6h.6m-.5,-.9h.6m-.4,.9h.6m-.5,0h.6m.2,-.2h.6m-.3,-.4h.6m-.2,.6h.6m-.4,-1h.6m0,.7h.6m1.1,-.5h.6m1.8,.4h.6m-.3,.4h.6m.3,-.1h.6m-41.5,.3h.6m4.6,.1h.6m1.6,-.2h.6m1.5,0h.6m-.5,.2h.6m.3,.2h.6m0,0h.6m-.3,-.4h.6m-.2,.3h.6m1.1,0h.6m.2,.2h.6m-.3,.2h.6m2.4,-.3h.6m-.5,-.4h.6m-.4,0h.6m.1,0h.6m-.3,.3h.6m.3,-.1h.6m-.2,-.1h.6m-.5,0h.6m-.4,.6h.6m-.2,-.7h.6m1.3,.6h.6m.2,-.1h.6m1,.2h.6m.4,-.4h.6m-.2,-.2h.6m.3,.5h.6m-.5,-.2h.6m.1,0h.6m-.5,.2h.6m-.5,-.4h.6m-.5,.5h.6m-.5,-.6h.6m-.4,.4h.6m-.6,-.3h.6m-.6,.4h.6m-.3,-.2h.6m-.3,-.3h.6m-.5,.4h.6m-.5,-.1h.6m-.1,-.2h.6m-.3,0h.6m-.5,.4h.6m0,.2h.6m-.6,-.8h.6m-.4,.6h.6m-.4,-.1h.6m.5,.3h.6m-.2,-.8h.6m-.2,.6h.6m-.1,-.3h.6m-.4,.3h.6m2.4,-.3h.6m-.1,.2h.6m-52.1,1.2h.6m2,-.8h.6m12.4,.5h.6m-.5,.3h.6m2.2,-.8h.6m.9,.1h.6m.9,0h.6m-.5,.5h.6m-.5,-.4h.6m-.5,.5h.6m.2,.2h.6m.5,-.3h.6m-.4,.4h.6m-.3,0h.6m-.2,-.7h.6m-.4,.2h.6m.2,0h.6m-.5,-.2h.6m1.5,.5h.6m1.4,-.5h.6m-.4,.1h.6m-.4,-.3h.6m-.3,.5h.6m-.3,.3h.6m.3,-.8h.6m.4,.6h.6m-.5,.1h.6m0,-.4h.6m-.1,.1h.6m0,-.2h.6m-.4,.3h.6m-.5,-.5h.6m.1,.9h.6m-.4,-.9h.6m-.6,.9h.6m-.3,-.9h.6m0,.5h.6m-.5,-.3h.6m-.5,-.2h.6m-.6,.1h.6m-.4,.2h.6m.2,-.1h.6m-.5,.3h.6m-.3,0h.6m-.3,-.3h.6m-.5,.6h.6m-.5,-.1h.6m-.6,-.1h.6m-.3,-.4h.6m-.5,.3h.6m-.5,.3h.6m0,-.5h.6m-.3,-.4h.6m-.1,.9h.6m-.5,0h.6m-.2,-.3h.6m-.2,.3h.6m-.5,0h.6m-.2,-.4h.6m-.6,-.2h.6m-.5,.2h.6m.3,0h.6m-.3,-.3h.6m-.3,-.2h.6m-.2,.4h.6m.7,.4h.6m0,-.2h.6m.3,.4h.6m.1,-.6h.6m-.3,-.2h.6m.3,.2h.6m1.4,0h.6m-.4,.1h.6m.9,.3h.6m-.4,-.6h.6m-51.5,1.2h.6m3.7,-.2h.6m3.5,.2h.6m.6,-.3h.6m3.3,.7h.6m2.3,0h.6m-.2,0h.6m2,0h.6m.4,0h.6m-.2,-.4h.6m-.5,0h.6m-.1,.1h.6m.5,.1h.6m.2,-.4h.6m-.4,.7h.6m.2,-.8h.6m-.4,.3h.6m.8,.2h.6m.7,.2h.6m-.5,-.2h.6m0,-.5h.6m0,.8h.6m-.1,-.8h.6m-.6,.4h.6m-.4,.4h.6m-.4,-.3h.6m-.5,.2h.6m-.3,-.7h.6m-.1,.8h.6m.6,-.7h.6m-.5,.6h.6m-.5,-.1h.6m.3,-.6h.6m-.4,.8h.6m-.2,-.3h.6m-.3,-.2h.6m-.5,.3h.6m.9,-.6h.6m-.3,.1h.6m-.4,.3h.6m-.3,0h.6m-.5,-.3h.6m0,.2h.6m-.4,.5h.6m.2,-.5h.6m-.1,-.2h.6m-.1,.6h.6m-.5,-.4h.6m-.1,.3h.6m.1,-.5h.6m-.3,0h.6m-.5,.6h.6m-.5,0h.6m-.5,-.1h.6m-.1,-.4h.6m-.1,.4h.6m-.4,-.5h.6m.2,.7h.6m-.1,-.8h.6m1.5,.7h.6m2.1,-.1h.6m2.1,-.1h.6m-40.4,1.2h.6m4,.2h.6m.3,-.5h.6m-.4,-.4h.6m-.1,.6h.6m1.1,-.1h.6m-.2,.1h.6m-.6,.3h.6m-.6,-1h.6m-.2,.4h.6m-.5,-.3h.6m2.1,.9h.6m-.3,-.3h.6m0,-.4h.6m.3,.1h.6m-.6,-.1h.6m.1,.7h.6m-.4,-.9h.6m-.4,.8h.6m-.4,-.1h.6m-.5,-.5h.6m.3,-.2h.6m-.6,.2h.6m.8,.3h.6m.4,-.2h.6m-.4,.6h.6m0,-.9h.6m-.6,.1h.6m-.4,0h.6m-.5,.6h.6m-.5,.1h.6m0,-.5h.6m-.5,.6h.6m.3,-.9h.6m-.2,.4h.6m-.5,.4h.6m-.5,-.1h.6m-.4,.2h.6m-.2,-.4h.6m-.2,-.5h.6m-.4,.9h.6m0,-1h.6m-.6,1h.6m-.3,-.4h.6m.1,-.5h.6m.5,.6h.6m-.1,.3h.6m-.4,-.2h.6m-.1,-.2h.6m0,-.1h.6m-.2,-.5h.6m-.6,.9h.6m-.6,.1h.6m-.4,-1h.6m.2,.4h.6m-.5,-.2h.6m-.5,-.1h.6m-.1,0h.6m-.3,.1h.6m-.5,-.2h.6m.3,.4h.6m.1,.4h.6m-.4,-.7h.6m-.4,0h.6m-.4,.1h.6m-.1,.5h.6m1.5,-.1h.6m-.6,.1h.6m-.4,-.7h.6m-.1,.6h.6m.1,-.5h.6m0,.9h.6m-.5,-.1h.6m-.1,.1h.6m.1,-.1h.6m.2,-.8h.6m-44.1,1.1h.6m2.8,0h.6m0,.3h.6m6.4,.4h.6m-.4,-.8h.6m.9,.7h.6m-.3,-.6h.6m-.4,.3h.6m-.5,.4h.6m-.3,-.4h.6m.1,.1h.6m-.5,.1h.6m-.6,0h.6m.3,0h.6m-.6,-.2h.6m1.3,-.1h.6m-.3,.1h.6m.1,0h.6m.6,.1h.6m-.4,.1h.6m-.4,-.5h.6m-.5,0h.6m-.3,.1h.6m-.4,.3h.6m1.3,.1h.6m-.3,.1h.6m-.1,.1h.6m.6,-.5h.6m-.4,-.1h.6m-.5,-.2h.6m0,.7h.6m-.4,.1h.6m-.4,-.4h.6m-.5,-.2h.6m-.4,-.2h.6m.3,.5h.6m.5,-.2h.6m-.6,-.1h.6m-.5,-.2h.6m-.5,0h.6m-.1,.2h.6m.5,.3h.6m0,0h.6m.8,.2h.6m-.6,-.2h.6m-.5,-.5h.6m-.5,.1h.6m.1,.3h.6m-.5,.2h.6m-.2,-.6h.6m-.5,.4h.6m-.2,.4h.6m1.5,-.7h.6m.4,.2h.6m-.1,.4h.6m.1,.1h.6m-.3,-.8h.6m.1,.3h.6m.3,.3h.6m.7,.2h.6m.3,-.5h.6m6.4,.3h.6m-40.8,1.3h.6m1.2,-.4h.6m-.5,.4h.6m0,-.1h.6m-.2,-.7h.6m.1,.7h.6m-.4,-.1h.6m.4,-.4h.6m-.4,.1h.6m-.3,.5h.6m-.2,-1h.6m.4,.6h.6m-.1,-.3h.6m.2,.1h.6m-.4,-.3h.6m-.4,.5h.6m-.5,-.1h.6m-.5,.5h.6m-.6,-.1h.6m.1,-.8h.6m.5,.9h.6m-.5,-.5h.6m-.4,.3h.6m-.6,.2h.6m.2,-.6h.6m-.3,.3h.6m-.3,-.2h.6m-.1,-.5h.6m-.3,.3h.6m-.3,-.1h.6m-.1,.7h.6m-.5,-.8h.6m-.6,.7h.6m.8,-.1h.6m0,.2h.6m0,0h.6m-.3,0h.6m-.4,-.5h.6m-.6,.4h.6m.1,-.4h.6m-.2,-.1h.6m-.1,.6h.6m-.5,-.6h.6m-.5,.7h.6m-.1,-.2h.6m-.5,-.4h.6m.2,.1h.6m-.5,.2h.6m-.3,-.2h.6m.2,-.2h.6m-.6,-.1h.6m-.5,.4h.6m-.1,-.3h.6m-.2,-.2h.6m-.5,.4h.6m-.2,-.3h.6m-.5,-.2h.6m-.4,.1h.6m-.3,.9h.6m-.4,-.2h.6m.2,-.1h.6m-.5,-.2h.6m-.4,-.3h.6m0,.4h.6m0,-.4h.6m1.6,-.1h.6m-.5,-.1h.6m1.1,.6h.6m.3,-.5h.6m4.7,.7h.6m1.6,-.8h.6m-38.9,1.8h.6m-.6,-.1h.6m.8,-.2h.6m-.2,.1h.6m1.8,-.2h.6m.4,-.3h.6m-.3,.3h.6m-.6,.2h.6m-.5,-.2h.6m0,-.2h.6m.2,.6h.6m-.4,-.2h.6m-.4,-.1h.6m-.5,.1h.6m.1,-.2h.6m0,.3h.6m.4,.2h.6m-.4,-.6h.6m-.6,.2h.6m0,-.2h.6m-.4,.2h.6m-.5,0h.6m-.5,-.4h.6m.3,.1h.6m-.5,-.1h.6m1.1,.5h.6m-.6,-.3h.6m.2,.5h.6m0,0h.6m-.6,-.1h.6m-.3,-.4h.6m0,0h.6m-.6,.1h.6m-.6,0h.6m1.8,0h.6m-.2,.2h.6m-.4,-.3h.6m0,.3h.6m-.5,-.3h.6m-.4,.1h.6m.7,-.3h.6m-.4,.2h.6m-.5,-.1h.6m-.1,.5h.6m4.4,-.6h.6m1.3,.5h.6m-30,.8h.6m.9,.2h.6m-.4,.1h.6m-.2,-.4h.6m.5,0h.6m-.5,.4h.6m.2,-.6h.6m.2,.7h.6m.1,-.5h.6m0,-.2h.6m-.5,.7h.6m-.1,-.1h.6m-.5,-.3h.6m-.4,-.3h.6m.7,-.1h.6m-.4,0h.6m-.6,.7h.6m1.1,.2h.6m-.3,-.9h.6m0,.8h.6m-.3,-.7h.6m-.3,.4h.6m-.4,.3h.6m-.1,-.7h.6m-.3,0h.6m-.1,0h.6m-.3,.8h.6m-.6,.1h.6m-.4,-1h.6m-.3,1h.6m-.6,-.4h.6m-.3,-.3h.6m-.6,-.2h.6m-.3,.4h.6m-.2,.4h.6m0,-.6h.6m-.3,-.2h.6m0,.8h.6m-.2,-.8h.6m-.4,.4h.6m-.3,-.2h.6m-.6,.7h.6m.1,0h.6m.3,-.1h.6m.5,-.2h.6m-.2,-.2h.6m-.5,.5h.6m-.2,-.1h.6m-.6,-.1h.6m-.3,-.7h.6m0,.9h.6m-.3,-.4h.6m-.5,-.1h.6m-.3,-.2h.6m-.1,.2h.6m-.5,-.4h.6m.3,.8h.6m-.3,-.4h.6m-.5,0h.6m-.3,-.5h.6m-.6,.5h.6m-.1,-.1h.6m.6,.6h.6m.6,-.1h.6m.5,-.4h.6m-.6,-.1h.6m-.6,-.4h.6m.3,.7h.6m2.5,-.7h.6m-31.5,1.2h.6m1.2,-.1h.6m-.5,.5h.6m-.6,-.5h.6m-.5,.7h.6m.8,-.2h.6m-.3,0h.6m-.5,-.3h.6m-.2,0h.6m-.6,.5h.6m.6,-.4h.6m.4,.4h.6m-.6,.1h.6m-.4,-.4h.6m-.2,-.2h.6m-.3,.5h.6m-.5,-.2h.6m-.5,.1h.6m-.6,-.3h.6m-.4,0h.6m.1,.1h.6m-.5,.1h.6m-.1,-.1h.6m-.6,-.1h.6m.6,.4h.6m.6,-.5h.6m-.5,0h.6m-.1,.5h.6m.5,.1h.6m-.1,-.2h.6m0,-.3h.6m.4,.1h.6m.6,.4h.6m.6,-.3h.6m-.5,-.4h.6m-.2,.1h.6m.4,.2h.6m-.5,0h.6m.3,.1h.6m-.6,.2h.6m1,-.6h.6m2,.2h.6m-.2,0h.6m.5,-.1h.6m8.1,.3h.6m-36.2,.5h.6m-.4,-.1h.6m-.5,.5h.6m-.6,.4h.6m.4,-.6h.6m-.4,.5h.6m-.4,-.2h.6m-.6,-.3h.6m-.4,.3h.6m.1,.4h.6m-.3,-1h.6m-.3,.4h.6m-.3,.1h.6m-.3,-.5h.6m-.4,0h.6m.2,.3h.6m-.3,.3h.6m-.5,0h.6m-.5,0h.6m-.4,.4h.6m.2,-.9h.6m-.2,.4h.6m0,-.3h.6m.2,.1h.6m.2,-.1h.6m-.6,-.1h.6m-.5,.6h.6m-.5,-.6h.6m-.4,.9h.6m-.5,-.9h.6m-.5,.7h.6m-.6,.1h.6m-.3,-.4h.6m-.5,-.3h.6m-.4,.8h.6m-.4,-.9h.6m-.5,.4h.6m-.5,-.2h.6m-.4,-.2h.6m-.3,.6h.6m.5,0h.6m-.5,.2h.6m.2,-.9h.6m-.3,.1h.6m-.5,.4h.6m-.5,-.4h.6m-.3,.1h.6m-.1,.5h.6m-.5,-.3h.6m-.5,-.2h.6m.3,.2h.6m0,0h.6m-.5,-.3h.6m-.5,0h.6m-.4,.9h.6m-.5,-.3h.6m-.6,.1h.6m-.5,.1h.6m-.6,0h.6m-.5,-.6h.6m.4,.2h.6m-.3,-.3h.6m.3,-.2h.6m.5,0h.6m.6,.4h.6m.4,.4h.6m-.3,-.4h.6m1.2,.1h.6m.1,-.5h.6m.8,1h.6m5.2,-.9h.6m.4,.5h.6m3.8,-.3h.6m-39.1,1.6h.6m-.4,-.8h.6m.1,.6h.6m.5,-.1h.6m.2,.1h.6m.2,-.2h.6m-.4,0h.6m-.6,.2h.6m-.3,-.2h.6m-.5,-.3h.6m-.4,0h.6m.1,.1h.6m0,-.2h.6m-.5,.2h.6m-.5,.4h.6m0,-.5h.6m1.5,.7h.6m-.5,0h.6m.2,-.5h.6m-.5,-.1h.6m-.3,-.1h.6m0,.2h.6m-.1,.4h.6m-.5,.1h.6m1.9,-.4h.6m-.4,-.3h.6m0,.7h.6m-.3,-.5h.6m-.2,.4h.6m-.5,-.6h.6m-.6,.6h.6m0,-.1h.6m-.6,-.4h.6m.1,-.2h.6m1.7,.6h.6m-.3,-.4h.6m-.6,-.1h.6m-.3,.5h.6m-.6,-.3h.6m-.3,.3h.6m-.3,-.4h.6m.2,.2h.6m-.3,.3h.6m-.5,-.7h.6m1.5,.1h.6m-.3,.3h.6m-.6,-.3h.6m-.5,-.1h.6m.4,.1h.6m1.7,.1h.6m3.4,.5h.6m.9,.1h.6m-33.6,.7h.6m1.2,0h.6m-.6,-.1h.6m-.3,-.5h.6m.5,.2h.6m.8,0h.6m-.5,.7h.6m-.1,-.8h.6m-.6,.5h.6m-.4,.1h.6m-.3,-.4h.6m-.5,-.1h.6m-.5,.1h.6m.7,.4h.6m-.6,-.5h.6m-.3,.4h.6m0,-.4h.6m-.4,-.2h.6m-.5,.2h.6m-.5,-.1h.6m-.6,.7h.6m-.2,-.3h.6m.7,.3h.6m-.1,-.4h.6m-.5,.1h.6m-.4,.4h.6m-.6,-.7h.6m.4,.7h.6m-.5,-.9h.6m-.1,.8h.6m-.2,-.2h.6m-.5,.3h.6m1.1,-.8h.6m-.1,.8h.6m-.6,-.1h.6m-.3,-.8h.6m-.3,.1h.6m-.5,.1h.6m-.4,.6h.6m.8,0h.6m.4,.2h.6m.1,-.4h.6m-.3,.4h.6m2.3,0h.6m.1,0h.6m.5,-.5h.6m2,-.1h.6m-.4,.6h.6m-.5,-.6h.6m4.4,.1h.6m3,.3h.6m-35.9,.9h.6m.4,-.1h.6m.1,.1h.6m-.4,-.6h.6m-.4,.2h.6m2.9,.2h.6m-.6,-.4h.6m1.1,.2h.6m.7,.6h.6m-.4,0h.6m.2,-.5h.6m-.6,0h.6m0,-.2h.6m-.3,.1h.6m-.2,0h.6m.2,.2h.6m.9,-.4h.6m-.4,.4h.6m-.4,-.3h.6m-.5,.3h.6m.9,-.3h.6m.2,.6h.6m0,-.7h.6m.4,.6h.6m.1,-.6h.6m-.1,.8h.6m0,-.6h.6m-.3,.2h.6m0,-.2h.6m.5,.6h.6m2.6,-.8h.6m2.3,.3h.6m6.3,.3h.6m-34.2,1.1h.6m0,-.5h.6m-.4,.7h.6m-.5,-.1h.6m3,.1h.6m-.3,-.4h.6m0,-.6h.6m-.3,.9h.6m-.6,.1h.6m.9,0h.6m.4,-.1h.6m-.4,-.2h.6m1.2,-.6h.6m.2,.3h.6m-.5,-.3h.6m1.5,-.1h.6m-.4,.1h.6m-.5,-.1h.6m-.2,1h.6m.3,-.4h.6m.2,.3h.6m.1,-.9h.6m3.1,.6h.6m-.1,-.6h.6m2.3,.4h.6m.6,.4h.6m4.7,0h.6m-31.4,.8h.6m.7,-.2h.6m.8,-.3h.6m1.4,.8h.6m.5,-.7h.6m1.9,0h.6m-.5,.5h.6m.3,-.4h.6m-.4,.5h.6m-.3,-.1h.6m-.1,-.2h.6m2.6,.1h.6m.5,-.2h.6m.3,0h.6m1.4,0h.6m-.4,-.1h.6m1.4,.3h.6m.2,-.5h.6m-.4,.8h.6m.1,-.5h.6m-.5,.5h.6m1.1,-.4h.6m2.6,-.2h.6m7.9,.5h.6m-34.7,1h.6m0,-.2h.6m1,0h.6m4.3,-.4h.6m-.4,.4h.6m.6,-.3h.6m.7,.6h.6m4.7,.1h.6m2.4,-.3h.6m0,-.4h.6m1.7,.2h.6m2.7,-.2h.6m6.5,.3h.6m1.1,-.2h.6m-34.4,1.2h.6m1,.3h.6m2.6,-.3h.6m.8,0h.6m-.2,0h.6m7.8,.1h.6m2.1,-.5h.6m4.2,.5h.6m4.9,-.2h.6m-.5,-.3h.6m8.4,.5h.6m-35,.9h.6m-.2,-.5h.6m1.4,.2h.6m6.9,.4h.6m3,-.2h.6m-.5,-.4h.6m12.4,.6h.6m0,-.7h.6m1.4,0h.6m3.3,.4h.6m1.5,.1h.6m.9,-.1h.6m-39.7,1.1h.6m6.6,.4h.6m4.5,-.3h.6m2.8,-.2h.6m5.5,.4h.6m3.3,.1h.6m.7,-.8h.6m8,.2h.6m-28.6,1.6h.6m31.2,-.1h.6m-18.3,1h.6m8.3,-.2h.6m9.8,-.2h.6m-40.2,1.4h.6m2.4,-.1h.6m2.4,-.7h.6m-.2,.4h.6m4.3,-.1h.6m0,-.3h.6m1.6,.5h.6m.2,.2h.6m-5.5,.6h.6m.1,.6h.6m8.2,-.2h.6m19.2,0h.6m-31.9,1.1h.6m24.7,-.2h.6m-.5,-.1h.6m-32.7,1h.6m-1.3,.9h.6m21.2,1.4h.6m6.8,-.7h.6" stroke="#2a2a2a" stroke-width=".6" fill="none"/>
<path d="M366.5,181.8l1.5-.6 .8,.2 .7,1.2-.2,.8-1.3,1-1.5,.2-.9-1.2 .9-1.6z" fill="#fff" stroke="#333" stroke-width=".5"/>
<rect x="321.5" y="193.0" width="18.0" height="23.4" fill="#cdcdcd"/>
<path d="M339.1,202.8 338.9,207.2 338.3,209.5 337.4,211.1 336.2,212.2 334.9,213.1 333.3,213.8 330.3,214.3 327.0,214.4 325.2,213.9 323.8,212.9 322.9,211.3 322.4,209.3 322.1,206.9 322.1,202.8 322.1,198.7 322.4,196.3 322.9,194.3 323.8,192.7 325.2,191.7 327.0,191.3 330.2,191.4 333.3,191.8 334.9,192.5 336.2,193.4 337.4,194.6 338.3,196.2 338.9,198.5zM338.1,202.6 337.8,205.9 337.2,207.9 336.5,209.3 335.7,210.6 334.6,211.6 333.1,212.4 330.6,212.8 328.0,212.6 326.5,212.0 325.4,210.9 324.6,209.5 324.1,207.8 323.7,205.8 323.5,202.6 323.4,199.2 323.7,197.0 324.3,195.3 325.2,194.1 326.5,193.3 328.2,193.1 330.6,193.1 333.0,193.3 334.5,193.7 335.8,194.4 336.9,195.4 337.7,197.0 338.1,199.1zM337.0,202.4 336.7,204.8 336.4,206.5 335.9,207.9 335.2,209.1 334.3,210.1 333.0,210.7 331.0,210.8 329.0,210.5 327.8,209.9 326.9,208.9 326.2,207.8 325.6,206.5 325.1,204.9 324.8,202.4 324.8,199.7 325.2,197.9 325.8,196.5 326.8,195.6 327.9,195.0 329.1,194.6 331.0,194.5 332.9,194.5 334.2,194.7 335.4,195.4 336.2,196.4 336.8,197.9 337.0,199.8zM336.0,202.1 336.0,203.9 335.8,205.3 335.4,206.6 334.8,207.6 333.9,208.4 332.8,208.7 331.4,208.7 330.0,208.4 329.0,207.9 328.2,207.3 327.5,206.4 326.9,205.4 326.5,204.1 326.3,202.1 326.4,200.2 326.8,198.8 327.4,197.8 328.2,197.0 329.0,196.4 330.0,195.9 331.4,195.6 332.8,195.6 333.9,195.9 334.8,196.6 335.4,197.6 335.8,198.9 336.0,200.3zM335.3,201.9 335.3,203.1 335.1,204.2 334.8,205.2 334.2,206.0 333.5,206.4 332.7,206.7 331.7,206.7 330.8,206.5 330.1,206.2 329.4,205.8 328.8,205.1 328.3,204.3 328.0,203.2 328.0,201.9 328.2,200.6 328.5,199.6 328.9,198.8 329.4,198.1 330.1,197.5 330.8,197.1 331.7,196.8 332.7,196.9 333.5,197.3 334.1,197.9 334.6,198.7 334.9,199.7 335.2,200.7zM334.6,201.7 334.6,202.4 334.4,203.1 334.1,203.8 333.6,204.2 333.1,204.6 332.6,204.7 332.1,204.8 331.6,204.8 331.0,204.6 330.5,204.3 330.1,203.8 329.8,203.1 329.7,202.4 329.7,201.7 329.8,201.0 330.0,200.3 330.3,199.7 330.6,199.1 331.0,198.6 331.5,198.3 332.1,198.3 332.7,198.4 333.2,198.7 333.6,199.2 333.9,199.7 334.2,200.3 334.4,200.9zM333.8,201.4 333.8,201.8 333.7,202.1 333.5,202.5 333.2,202.7 333.0,202.9 332.7,203.1 332.5,203.2 332.2,203.2 331.9,203.0 331.7,202.8 331.5,202.5 331.3,202.1 331.2,201.7 331.2,201.4 331.2,201.1 331.3,200.7 331.5,200.4 331.7,200.0 331.9,199.8 332.2,199.7 332.5,199.6 332.7,199.7 333.0,199.9 333.2,200.1 333.4,200.4 333.6,200.7 333.8,201.1z" fill="none" stroke="#555" stroke-width=".6"/>
<rect x="321.6" y="213.2" width="17.3" height="1.8" fill="#333"/>
<rect x="321.6" y="193.0" width="1.2" height="22.4" fill="#555"/>
<path d="M339.50,193.00 V154.60 H382.80 V193.00 H321.60 V214.80 H339.50 V193.00" fill="none" stroke="#000" stroke-width="1.7"/>
<text x="380.20" y="163.40" font-size="8.0" font-weight="bold" fill="#000" text-anchor="end" >2</text>
<text x="380.20" y="212.60" font-size="8.0" font-weight="bold" fill="#000" text-anchor="end" >2</text>
<line x1="383.20" y1="169.50" x2="417.60" y2="169.50" stroke="#000" stroke-width="2.0" />
<polygon points="416.10,166.10 424.60,169.50 416.10,172.90" fill="#000"/>
<rect x="406.20" y="154.20" width="62.20" height="62.20" fill="none" stroke="#9a9a9a" stroke-width="0.7" />
<line x1="406.20" y1="159.38" x2="407.40" y2="159.38" stroke="#888" stroke-width="0.5" />
<line x1="406.20" y1="164.57" x2="407.40" y2="164.57" stroke="#888" stroke-width="0.5" />
<line x1="406.20" y1="169.75" x2="407.40" y2="169.75" stroke="#888" stroke-width="0.5" />
<line x1="406.20" y1="174.93" x2="407.40" y2="174.93" stroke="#888" stroke-width="0.5" />
<line x1="406.20" y1="180.12" x2="407.40" y2="180.12" stroke="#888" stroke-width="0.5" />
<line x1="406.20" y1="185.30" x2="407.40" y2="185.30" stroke="#888" stroke-width="0.5" />
<line x1="406.20" y1="190.48" x2="407.40" y2="190.48" stroke="#888" stroke-width="0.5" />
<line x1="406.20" y1="195.67" x2="407.40" y2="195.67" stroke="#888" stroke-width="0.5" />
<line x1="406.20" y1="200.85" x2="407.40" y2="200.85" stroke="#888" stroke-width="0.5" />
<line x1="406.20" y1="206.03" x2="407.40" y2="206.03" stroke="#888" stroke-width="0.5" />
<line x1="406.20" y1="211.22" x2="407.40" y2="211.22" stroke="#888" stroke-width="0.5" />
<line x1="411.38" y1="216.40" x2="411.38" y2="215.20" stroke="#888" stroke-width="0.5" />
<line x1="416.57" y1="216.40" x2="416.57" y2="215.20" stroke="#888" stroke-width="0.5" />
<line x1="421.75" y1="216.40" x2="421.75" y2="215.20" stroke="#888" stroke-width="0.5" />
<line x1="426.93" y1="216.40" x2="426.93" y2="215.20" stroke="#888" stroke-width="0.5" />
<line x1="432.12" y1="216.40" x2="432.12" y2="215.20" stroke="#888" stroke-width="0.5" />
<line x1="437.30" y1="216.40" x2="437.30" y2="215.20" stroke="#888" stroke-width="0.5" />
<line x1="442.48" y1="216.40" x2="442.48" y2="215.20" stroke="#888" stroke-width="0.5" />
<line x1="447.67" y1="216.40" x2="447.67" y2="215.20" stroke="#888" stroke-width="0.5" />
<line x1="452.85" y1="216.40" x2="452.85" y2="215.20" stroke="#888" stroke-width="0.5" />
<line x1="458.03" y1="216.40" x2="458.03" y2="215.20" stroke="#888" stroke-width="0.5" />
<line x1="463.22" y1="216.40" x2="463.22" y2="215.20" stroke="#888" stroke-width="0.5" />
<path d="M461.6,178.5h0.6m-20.4,8.6h.6m-.6,3.4h.6m-1,.1h.6m-2.7,1.2h.6m1.5,.1h.6m24.2,9.5h.6m-1.5,.4h.6m-29.9,2.4h.6m2.2,.1h.6m24,0h.6m-27.8,5.1h.6m4.7,4.6h.6" stroke="#333" stroke-width=".6" fill="none"/>
<path d="M452.4,176.4l2.4-.6 3.1,1 2,1.9 1.5,2.3 1.4,3.9-.5,7 1.4,5.5-.9,4.6-.1,6.2-.8,2.4-1.4,1.5-1.8,1.1-6.2,1.3-7.8-1.1-3.9-2-1.5-2.4-.9-7.8 .6-4.6 1.8-3.1 3.5-3.1 .9-4.7 3-7 1.2-1.1 3-1.2z" fill="#ececec" stroke="#444" stroke-width=".5"/>
<path d="M452,181l2.8-.6 1.5,.2 2.8,3.5 .8,3.1-.6,4.7 1.6,5.5-1.1,6.2-1.4,3.1 .2,3.1-.9,.8-4.5,1.5-3.8-.3-3.1-1.2-2.5-3.9-1.4-1.2-.7-1.2-.7-3.8 .6-2.4 4.6-3.3 1.1-1.3 1.3-3.9-.5-2.4 .3-2.3 2.5-3.3 1.1-.6z" fill="#dedede" stroke="none"/>
<path d="M453.2,184.1l1.6-.3 2.5,2.7 .3,.7-.7,2.4 0,2.3 2,4.7 .1,1.5-.5,3.1-2,3.9-.7,3.1-1.8,1.5-2.3,.5-2.3-.8-.8-.8 .6-5.8-1.6-2.3-.4-1.6 3.2-4.7 .8-8.5 2-1.6z" fill="#d2d2d2" stroke="none"/>
<path d="M453.2,177.9l4.7,.8 .9,.8 1.8,3.1 .9,3.9-.4,5.4 1.3,5.5-.2,2.3-.9,2.3 .1,1.6-.7,2.3 .2,3.1-.6,1.6-1.6,1.4-5.5,1.6-7.7-1.2-3.9-2.4-1.3-2.5-.8-3.9-.1-3.1 .4-3.1 1.4-2.4 1.2-1.2 3.1-1.9 1-6.2 3.3-6.2 1.1-.9 2.3-.7zM454.8,179.5l3.1,.7 2.2,3.9 .5,3.1-.4,4.7 1.3,4.7 0,2.3-.8,2.3-.4,3.1-1,2.4 .5,2.3-.6,1.6-5.2,2.2-3.9-.2-4.6-1.3-3.5-3.1-1.5-4.6-.2-4.7 .5-1.5 1.8-2.4 3.8-2.3 1-3.1-.2-2.4 .4-2.3 2.5-3.7 1.6-1.2 3.1-.5zM452,181l2.8-.6 1.5,.2 2.8,3.5 .8,3.1-.6,4.7 1.6,5.5-1.1,6.2-1.4,3.1 .2,3.1-.9,.8-4.5,1.5-3.8-.3-3.1-1.2-2.5-3.9-1.4-1.2-.7-1.2-.7-3.8 .6-2.4 4.6-3.3 1.1-1.3 1.3-3.9-.5-2.4 .3-2.3 2.5-3.3 1.1-.6zM452.3,181.8l3.3-.4 3.1,3.5 .5,2.3-.7,4.7 1.7,6.2-1.1,5.5-1.2,2.3-.5,3.1-2.6,2.1-3.1,.4-3.1-.7-1.6-1-1.1-4.7-3-.8-.5-.8-.5-3 .5-1.6 4.2-2.3 2.2-3.1 .8-3.9-.6-2.4 .2-2.3 3.1-3.1zM453.1,182.6l1.7-.1 3.4,3.2 .3,1.5-.8,4.7 1.5,3.9 .4,2.3-.8,3.9-1.7,3.9-.4,2.3-1.9,2-3.1,.7-3.1-1-.9-.9 .3-5.4-.3-1.6-1.5-.9-1.5,.7-1.2-1.3 .4-.8 1.6,.4 4.4-6.6 .4-4.7-.4-3.1 1.8-2.3 1.4-.8zM453.2,184.1l1.6-.3 2.5,2.7 .3,.7-.7,2.4 0,2.3 2,4.7 .1,1.5-.5,3.1-2,3.9-.7,3.1-1.8,1.5-2.3,.5-2.3-.8-.8-.8 .6-5.8-1.6-2.3-.4-1.6 3.2-4.7 .8-8.5 2-1.6zM453.2,185.7l.8-.4 .8,.4 1.1,1.5 .3,5.5 1.8,3.1 .4,2.3-.6,3.1-2.2,3.9-.3,2.4-2,1.5-1.6,.4-1.6-.3-.8-.9 1-5.4-.2-.9-2-2.2 0-.8 3-3.9 .5-2.3 1-1.6-.6-2.3 .5-2.1 .7-1zM453.7,188l.3-.3 .4,.3-.4,.9-.3-.9zM453.9,191.9l.9,0 .8,1.8 2.1,2.9-.2,3.9-3.5,6-1.2,.2-.6,1.5-1.3,.3-.7-1 1.1-1.6-.3-4.7-1.8-1.5-.1-.8 1.5-2.3 1.1-.8 .8-2.7 1.4-1.2zM453.1,194.2l.9-.7 2.4,2.3 .7,1.6-.5,3.8-2.6,3.9-.8,.3-1-1.1-.5-3.3-1.3-2.1 .6-1.5 1.7-1.6 .4-1.6zM453.7,195.8l.3-.5 .8,.3 .8,1 0,.8-.8,.7 1,2.4-.2,.8-2.4,.9-1.8-3.3 .1-.8 2.2-2.3z" fill="none" stroke="#3c3c3c" stroke-width=".45"/>
<path d="M442.6,212.9l6-.5 9.3,.1 7.8,.9 1.1,.3 .7,.8-7.3,1.3-16.3,0-6.9-1.3 1.5-1.1 4.1-.5z" fill="#999" stroke="#222" stroke-width=".7"/>
<path d="M442,213.7l5-.6 9.3-.1 5.5,.5 1.6,1-6.3,.9-7.7,.2-7.8-1-.5-.1 .9-.8zM446.4,213.7l9.2-.3 2.4,.3 1.6,.8-4.8,.5-6.2-.1-3.7-.4 1.5-.8z" fill="#111" stroke="#000" stroke-width=".6"/>
<path d="M434.70,154.50 V192.90 H468.10" fill="none" stroke="#000" stroke-width="1.9"/>
<text x="464.00" y="163.40" font-size="8.0" font-weight="bold" fill="#000" text-anchor="end" >2</text>
<rect x="505.30" y="154.20" width="62.20" height="62.20" fill="none" stroke="#9a9a9a" stroke-width="0.7" />
<line x1="505.30" y1="159.38" x2="506.50" y2="159.38" stroke="#888" stroke-width="0.5" />
<line x1="505.30" y1="164.57" x2="506.50" y2="164.57" stroke="#888" stroke-width="0.5" />
<line x1="505.30" y1="169.75" x2="506.50" y2="169.75" stroke="#888" stroke-width="0.5" />
<line x1="505.30" y1="174.93" x2="506.50" y2="174.93" stroke="#888" stroke-width="0.5" />
<line x1="505.30" y1="180.12" x2="506.50" y2="180.12" stroke="#888" stroke-width="0.5" />
<line x1="505.30" y1="185.30" x2="506.50" y2="185.30" stroke="#888" stroke-width="0.5" />
<line x1="505.30" y1="190.48" x2="506.50" y2="190.48" stroke="#888" stroke-width="0.5" />
<line x1="505.30" y1="195.67" x2="506.50" y2="195.67" stroke="#888" stroke-width="0.5" />
<line x1="505.30" y1="200.85" x2="506.50" y2="200.85" stroke="#888" stroke-width="0.5" />
<line x1="505.30" y1="206.03" x2="506.50" y2="206.03" stroke="#888" stroke-width="0.5" />
<line x1="505.30" y1="211.22" x2="506.50" y2="211.22" stroke="#888" stroke-width="0.5" />
<line x1="510.48" y1="216.40" x2="510.48" y2="215.20" stroke="#888" stroke-width="0.5" />
<line x1="515.67" y1="216.40" x2="515.67" y2="215.20" stroke="#888" stroke-width="0.5" />
<line x1="520.85" y1="216.40" x2="520.85" y2="215.20" stroke="#888" stroke-width="0.5" />
<line x1="526.03" y1="216.40" x2="526.03" y2="215.20" stroke="#888" stroke-width="0.5" />
<line x1="531.22" y1="216.40" x2="531.22" y2="215.20" stroke="#888" stroke-width="0.5" />
<line x1="536.40" y1="216.40" x2="536.40" y2="215.20" stroke="#888" stroke-width="0.5" />
<line x1="541.58" y1="216.40" x2="541.58" y2="215.20" stroke="#888" stroke-width="0.5" />
<line x1="546.77" y1="216.40" x2="546.77" y2="215.20" stroke="#888" stroke-width="0.5" />
<line x1="551.95" y1="216.40" x2="551.95" y2="215.20" stroke="#888" stroke-width="0.5" />
<line x1="557.13" y1="216.40" x2="557.13" y2="215.20" stroke="#888" stroke-width="0.5" />
<line x1="562.32" y1="216.40" x2="562.32" y2="215.20" stroke="#888" stroke-width="0.5" />
<path d="M554.0,155.7h0.6m-11.9,2.8h.6m-5.5,.1h.6m5,1h.6m3.9,.3h.6m-21.3,2.3h.6m9.8,.2h.6m27.3,.9h.6m-26.5,1.2h.6m7.9,-.2h.6m-15.5,1.1h.6m23,-.8h.6m-12.4,1.8h.6m15.4,-.5h.6m-2.4,1.5h.6m-26.3,.2h.6m12.7,.9h.6m2.4,-.2h.6m.5,.2h.6m-.1,-.2h.6m-.1,-.1h.6m6.2,.2h.6m3.5,-.7h.6m-21.2,1h.6m5.7,0h.6m1.5,.2h.6m2.2,.2h.6m1.1,.3h.6m-.5,0h.6m1,-.1h.6m4.3,-.2h.6m1.4,-.4h.6m.3,.6h.6m1.3,-.7h.6m-46.6,1.9h.6m13,-.3h.6m8,-.7h.6m.8,0h.6m7.7,.7h.6m2.7,-.1h.6m-.4,-.3h.6m1.2,.3h.6m.2,-.6h.6m.5,.5h.6m-.2,.5h.6m0,-.6h.6m0,-.4h.6m-.2,.3h.6m-.3,.4h.6m3.8,.2h.6m-23.7,1h.6m4.2,-.4h.6m2.1,0h.6m2,.1h.6m1.6,.3h.6m-.4,-.5h.6m-.4,.4h.6m.6,.1h.6m-.1,0h.6m.5,-.8h.6m5.8,.1h.6m-57.7,1.8h.6m42,-.1h.6m.1,-.2h.6m-.1,-.2h.6m-.2,.3h.6m.7,-.8h.6m-.4,.6h.6m.2,-.1h.6m.1,-.5h.6m-.2,.7h.6m-.5,-.2h.6m-.4,-.3h.6m.3,.3h.6m-.6,0h.6m-.5,-.5h.6m-.4,.3h.6m-.4,.4h.6m-.3,-.1h.6m-.4,.2h.6m-.6,-.4h.6m-.3,-.4h.6m-.3,.3h.6m.3,.3h.6m.7,-.2h.6m-.2,-.4h.6m.1,.9h.6m-.1,0h.6m1,0h.6m.8,-.6h.6m-57.3,.9h.6m9.1,.1h.6m16.2,.6h.6m10.3,-.6h.6m2.4,.1h.6m.9,.3h.6m-.5,-.2h.6m.7,.4h.6m-.4,-.7h.6m0,.2h.6m.5,-.2h.6m-.4,.3h.6m-.6,0h.6m-.2,.2h.6m-.2,0h.6m-.3,-.6h.6m-.4,.7h.6m-.1,0h.6m-.1,-.3h.6m-.6,-.1h.6m.1,.1h.6m-.5,.3h.6m.7,0h.6m-.1,-.4h.6m.2,.3h.6m-.4,0h.6m-.2,-.3h.6m-.5,.5h.6m-.4,-.6h.6m-.3,.1h.6m-.5,.1h.6m.6,.4h.6m.2,-.8h.6m.8,.1h.6m.3,.7h.6m.7,-.6h.6m-35.3,1.1h.6m8.7,-.2h.6m5.4,.8h.6m.5,-.2h.6m-.5,-.1h.6m-.6,-.1h.6m.4,-.3h.6m-.4,.6h.6m-.3,0h.6m-.4,-.3h.6m-.4,.2h.6m.1,-.3h.6m-.4,.4h.6m.5,-.2h.6m-.3,0h.6m-.3,-.4h.6m-.2,.4h.6m-.3,.2h.6m-.6,-.8h.6m-.6,.7h.6m-.5,-.4h.6m-.3,-.1h.6m-.5,0h.6m-.5,.6h.6m-.3,-.4h.6m-.6,0h.6m-.5,-.1h.6m-.4,0h.6m-.6,.3h.6m-.4,-.2h.6m-.6,-.5h.6m-.6,.6h.6m-.4,-.6h.6m-.3,.2h.6m-.4,.7h.6m-.4,-.4h.6m-.4,-.4h.6m-.4,.9h.6m-.1,-.3h.6m-.5,-.4h.6m-.6,-.3h.6m-.5,.4h.6m-.5,.5h.6m-.4,-.7h.6m.1,.6h.6m-.6,-.7h.6m-.5,.1h.6m-.2,.8h.6m-.5,-.5h.6m-.5,.2h.6m-.3,.3h.6m.3,-.2h.6m.2,.1h.6m-.5,-.1h.6m-.5,-.3h.6m.4,.4h.6m0,-.7h.6m-.3,.2h.6m-.3,.1h.6m-.5,.5h.6m-39.9,.5h.6m7,.3h.6m.9,.1h.6m5.5,-.4h.6m4,-.2h.6m-.4,.2h.6m.4,.2h.6m1.1,0h.6m.5,-.3h.6m-.3,.5h.6m-.1,-.6h.6m.1,0h.6m-.3,.4h.6m-.4,.1h.6m-.5,-.5h.6m-.5,-.1h.6m-.5,.4h.6m-.4,-.1h.6m-.2,-.4h.6m-.4,.1h.6m-.6,.4h.6m-.2,0h.6m-.5,-.3h.6m-.5,.1h.6m-.6,.3h.6m-.4,-.5h.6m-.2,.7h.6m-.5,-.5h.6m-.5,.3h.6m-.5,.2h.6m-.1,-.7h.6m-.3,.2h.6m-.6,0h.6m-.5,.5h.6m-.6,-.7h.6m-.4,.5h.6m-.6,-.3h.6m-.6,.2h.6m-.5,-.5h.6m-.6,.6h.6m-.3,.1h.6m-.5,-.1h.6m-.5,-.5h.6m-.3,.6h.6m-.1,-.4h.6m-.6,.1h.6m-.4,0h.6m-.5,.4h.6m-.4,-.5h.6m-.3,.3h.6m-.5,-.6h.6m-.5,.8h.6m-.5,-.5h.6m-.5,-.2h.6m.1,.2h.6m-.5,.3h.6m-.6,-.4h.6m-.2,.4h.6m-.3,-.6h.6m-.6,0h.6m-.5,.8h.6m-.3,0h.6m-.4,-.3h.6m.5,-.1h.6m.6,.2h.6m.3,-.5h.6m-.4,.3h.6m-.3,.3h.6m-.6,.1h.6m.9,-.1h.6m.1,-.2h.6m-.4,.2h.6m.3,-.4h.6m.8,-.2h.6m-36.7,1.6h.6m11.1,0h.6m-.1,-.6h.6m.4,.1h.6m.4,-.2h.6m-.1,.7h.6m-.6,-.3h.6m-.4,0h.6m-.6,-.3h.6m-.1,.4h.6m-.1,.3h.6m-.4,-.7h.6m-.2,.6h.6m-.6,-.1h.6m-.5,-.6h.6m-.5,.4h.6m-.3,0h.6m-.5,.5h.6m-.6,-.5h.6m-.4,.1h.6m-.5,.1h.6m-.5,-.1h.6m-.4,-.2h.6m-.4,0h.6m-.6,.4h.6m-.1,.1h.6m-.2,-.4h.6m-.5,.4h.6m-.6,-.4h.6m-.4,-.3h.6m-.5,-.2h.6m-.5,.3h.6m-.5,-.1h.6m-.6,-.2h.6m-.3,.8h.6m-.4,-.1h.6m.2,-.2h.6m-.5,0h.6m-.3,-.3h.6m-.6,0h.6m-.5,0h.6m-.6,.2h.6m-.6,-.2h.6m-.2,.1h.6m-.2,.1h.6m-.4,0h.6m-.6,-.2h.6m-.5,-.2h.6m-.3,.2h.6m-.3,.1h.6m-.4,.1h.6m-.6,-.3h.6m0,.2h.6m-.5,.1h.6m-.6,-.3h.6m-.5,.1h.6m-.6,.1h.6m-.4,-.3h.6m-.6,0h.6m-.3,.4h.6m-.4,0h.6m-.4,0h.6m-.4,0h.6m-.4,-.2h.6m-.5,.2h.6m-.6,-.2h.6m.1,.1h.6m-.5,-.1h.6m-.3,.8h.6m-.5,-.4h.6m-.5,.3h.6m-.4,-.2h.6m-.4,.2h.6m-.4,-.9h.6m-.5,.8h.6m-.3,-.3h.6m-.6,.2h.6m-.6,-.6h.6m-.6,.4h.6m0,.2h.6m-.6,-.4h.6m-.5,.5h.6m-.6,0h.6m-.3,0h.6m-.6,0h.6m-.6,0h.6m-.4,-.3h.6m-.4,.3h.6m-.4,-.1h.6m-.5,-.2h.6m-.5,-.2h.6m-.1,-.3h.6m.3,.2h.6m-.4,-.2h.6m-.2,.8h.6m-.4,-.1h.6m-.4,0h.6m-.4,-.4h.6m-.5,-.2h.6m-.5,.2h.6m-.3,.4h.6m-.6,-.7h.6m.3,.3h.6m.2,.1h.6m.7,.1h.6m-.1,.4h.6m-55.1,.6h.6m12.8,-.1h.6m9.2,-.2h.6m8.3,.5h.6m-.2,.2h.6m-.2,0h.6m-.3,-.3h.6m-.4,-.1h.6m-.4,.1h.6m-.4,-.5h.6m-.5,.7h.6m-.4,-.1h.6m-.5,.2h.6m-.6,-.1h.6m-.1,-.5h.6m-.6,-.1h.6m-.5,.2h.6m-.4,.3h.6m-.6,-.3h.6m-.5,-.3h.6m-.4,.2h.6m-.3,.4h.6m-.4,-.4h.6m-.5,.1h.6m-.6,.2h.6m-.4,.3h.6m-.6,-.2h.6m-.3,-.2h.6m-.4,-.4h.6m-.6,.1h.6m-.5,.7h.6m-.1,-.6h.6m-.2,.3h.6m-.3,-.4h.6m0,-.1h.6m-.5,0h.6m5.7,0h.6m.3,.5h.6m-.5,-.4h.6m-.4,.4h.6m-.6,-.2h.6m-.4,.4h.6m-.5,.1h.6m-.3,-.5h.6m-.5,.5h.6m-.4,-.6h.6m-.5,.5h.6m-.5,-.4h.6m0,.1h.6m-.4,.3h.6m0,0h.6m-.6,-.6h.6m-.1,0h.6m-.5,.4h.6m-.4,-.2h.6m.5,.3h.6m.1,-.1h.6m.9,.2h.6m-.1,-.1h.6m-47.6,.3h.6m-.6,.8h.6m.7,-.2h.6m6,-.2h.6m6.7,-.4h.6m5.3,.8h.6m-.2,0h.6m.1,-.3h.6m.6,0h.6m.8,-.3h.6m.2,0h.6m-.3,.8h.6m-.5,-1h.6m.5,.7h.6m-.1,-.1h.6m-.6,.2h.6m0,-.2h.6m-.2,-.2h.6m-.5,-.2h.6m-.5,.4h.6m-.5,.3h.6m-.5,-.3h.6m.3,-.3h.6m.4,-.3h.6m-.3,0h.6m8.5,.9h.6m-.6,-.7h.6m-.5,.6h.6m-.5,-.4h.6m-.6,-.2h.6m-.6,.5h.6m-.5,-.1h.6m-.4,.3h.6m-.6,-.7h.6m-.5,-.2h.6m-.5,.9h.6m-.4,0h.6m-.5,-.7h.6m-.4,0h.6m-.5,-.2h.6m-.5,.7h.6m.6,.2h.6m-.5,-.9h.6m-.5,1h.6m-.5,-.3h.6m-.5,-.6h.6m-.3,.3h.6m-.3,-.4h.6m-.4,.6h.6m-.5,-.1h.6m0,.1h.6m.1,-.5h.6m.5,-.1h.6m-.3,.6h.6m.9,-.4h.6m-47,1.4h.6m16.6,.1h.6m2.4,.1h.6m.2,-.6h.6m-.2,.4h.6m.6,-.3h.6m-.2,-.1h.6m-.4,-.1h.6m-.3,.5h.6m-.3,.2h.6m-.5,-.4h.6m-.5,-.2h.6m-.3,.4h.6m-.4,-.5h.6m-.2,.4h.6m-.5,.2h.6m-.4,-.6h.6m-.4,.6h.6m-.5,0h.6m-.4,.2h.6m-.4,-.4h.6m.4,-.2h.6m-.3,.3h.6m10.6,-.2h.6m-.6,-.3h.6m-.4,0h.6m-.5,.7h.6m-.5,-.6h.6m-.5,.2h.6m-.5,.3h.6m-.4,-.5h.6m-.5,.1h.6m-.6,-.2h.6m-.4,.6h.6m-.5,-.4h.6m0,.1h.6m1.1,.5h.6m.3,-.2h.6m-.1,-.5h.6m-.1,.5h.6m-.4,.1h.6m-.4,-.6h.6m1.1,.7h.6m-58.4,.4h.6m0,.5h.6m.9,-.8h.6m2.1,0h.6m2.2,.9h.6m2.4,-.1h.6m.1,-.6h.6m3.7,.5h.6m-.5,-.1h.6m.1,-.6h.6m13.9,.8h.6m0,-.3h.6m.6,0h.6m-.4,0h.6m.3,.1h.6m-.5,-.5h.6m1,-.1h.6m-.3,.2h.6m-.4,.8h.6m-.2,-.3h.6m-.6,0h.6m-.4,.2h.6m-.6,0h.6m-.5,-.8h.6m-.5,.5h.6m-.5,-.4h.6m-.4,-.2h.6m-.2,.5h.6m11.5,0h.6m-.5,.4h.6m-.5,.1h.6m-.6,-.5h.6m-.6,.5h.6m-.4,0h.6m-.5,0h.6m-.5,-.3h.6m-.6,-.3h.6m-.6,-.1h.6m-.5,.3h.6m-.4,-.2h.6m-.6,.4h.6m-.4,-.4h.6m-.6,.4h.6m-.5,-.4h.6m-.6,-.3h.6m-.5,.5h.6m-.5,-.5h.6m-.3,.7h.6m-.4,-.8h.6m-.5,0h.6m-.4,.1h.6m-.6,.9h.6m-.5,-1h.6m-.3,.5h.6m-.6,-.3h.6m-.1,.2h.6m-.4,.4h.6m-.5,.1h.6m-.5,-.8h.6m-.3,.1h.6m-.6,-.2h.6m-.3,.2h.6m-.4,-.1h.6m-.5,.6h.6m1.6,-.2h.6m-.6,-.5h.6m-57.9,1.2h.6m3.7,.7h.6m.3,-.4h.6m12.1,0h.6m11.5,.1h.6m.1,-.2h.6m1.8,.3h.6m-.4,.2h.6m-.6,-.3h.6m.6,-.1h.6m-.6,.1h.6m-.4,.3h.6m-.3,-.7h.6m-.5,-.1h.6m.7,.8h.6m-.5,-.3h.6m-.1,.1h.6m-.5,.1h.6m-.4,-.1h.6m-.3,.1h.6m-.6,-.2h.6m-.4,0h.6m-.5,.3h.6m-.5,-.8h.6m11.8,.4h.6m-.6,-.3h.6m-.4,0h.6m-.5,.2h.6m-.4,.5h.6m.2,-.1h.6m0,.1h.6m-.3,-.1h.6m.2,.1h.6m-.1,-.6h.6m-.4,.1h.6m.2,-.2h.6m.1,.6h.6m.7,-.3h.6m-.6,-.4h.6m.9,0h.6m-55.1,1h.6m2.5,.3h.6m3.2,.1h.6m-.2,.3h.6m5.8,-.5h.6m9.6,-.1h.6m0,.6h.6m.1,-.5h.6m1.6,-.3h.6m-.3,0h.6m-.2,.4h.6m.2,-.1h.6m-.5,.5h.6m0,-.3h.6m-.5,.5h.6m-.2,-.3h.6m-.3,.1h.6m-.5,-.5h.6m-.4,.7h.6m-.1,-.1h.6m-.4,-.3h.6m-.6,0h.6m-.5,.4h.6m-.5,0h.6m-.5,-.4h.6m-.5,0h.6m-.5,-.6h.6m-.5,1h.6m-.4,-.4h.6m-.5,.1h.6m-.5,-.2h.6m-.5,0h.6m-.1,.5h.6m-.5,-.7h.6m12.7,.7h.6m-.5,-.2h.6m-.3,-.8h.6m-.4,.5h.6m-.1,-.5h.6m-.1,.6h.6m-.6,-.3h.6m-.4,-.2h.6m-.5,0h.6m-.6,.8h.6m-.5,-.7h.6m-.4,.7h.6m-.5,0h.6m-.6,-.4h.6m-.5,-.5h.6m-.3,.1h.6m-.4,.1h.6m-.4,.3h.6m-.5,.5h.6m-.2,-.9h.6m.1,-.1h.6m-.5,0h.6m-.2,.7h.6m-.4,-.4h.6m-.1,-.3h.6m-47.8,1.5h.6m3.5,-.4h.6m-.6,.6h.6m.6,-.1h.6m4.7,.3h.6m-.2,-.6h.6m1.8,-.2h.6m8,.2h.6m.3,-.2h.6m-.2,.4h.6m.2,0h.6m0,-.2h.6m-.5,.1h.6m-.3,-.1h.6m-.5,-.1h.6m-.6,.7h.6m.7,-.7h.6m-.6,-.1h.6m-.4,.2h.6m.3,.4h.6m-.6,-.3h.6m-.6,-.2h.6m-.5,.3h.6m-.6,-.4h.6m-.4,.5h.6m-.5,.2h.6m-.5,-.1h.6m11.6,.2h.6m-.6,-.2h.6m-.6,.1h.6m-.6,-.2h.6m-.5,.2h.6m-.5,0h.6m-.3,.1h.6m-.6,-.4h.6m-.1,-.3h.6m-.5,-.1h.6m-.6,.8h.6m-.6,-.4h.6m-.4,-.1h.6m-.5,-.3h.6m-.5,.6h.6m-.2,.1h.6m-.3,.1h.6m-.6,-.2h.6m-.6,-.3h.6m-.5,0h.6m-.4,0h.6m-.6,.3h.6m-.4,-.3h.6m-.3,-.3h.6m-.6,.6h.6m-.3,-.1h.6m-.2,0h.6m0,.2h.6m-.5,-.5h.6m-.2,.4h.6m-.6,-.4h.6m.3,.3h.6m-.1,-.1h.6m0,-.1h.6m.4,.2h.6m2.1,-.2h.6m-53.2,1.5h.6m1.2,-.8h.6m9.3,.8h.6m1.2,-.3h.6m-.3,0h.6m.2,-.6h.6m-.4,.2h.6m.2,-.1h.6m2.1,.8h.6m-.5,-.6h.6m.5,.7h.6m2.2,-.7h.6m-.4,.4h.6m-.4,-.2h.6m-.4,-.2h.6m-.5,-.2h.6m-.2,.6h.6m0,-.1h.6m.2,.1h.6m.2,.2h.6m-.3,-.3h.6m0,-.1h.6m-.3,0h.6m-.3,.2h.6m-.3,-.3h.6m-.3,-.2h.6m-.6,.2h.6m-.6,-.4h.6m-.5,.3h.6m0,.6h.6m-.1,-.4h.6m-.5,.1h.6m-.5,-.6h.6m-.4,.2h.6m-.5,.8h.6m-.5,-.6h.6m-.4,-.4h.6m-.6,.3h.6m-.5,.1h.6m-.6,0h.6m-.1,.3h.6m-.5,.1h.6m10.4,.1h.6m-.5,-.6h.6m-.5,.7h.6m-.4,-.6h.6m-.2,-.4h.6m-.4,0h.6m-.2,.9h.6m-.6,-.8h.6m-.5,0h.6m-.6,-.1h.6m-.5,1h.6m-.6,-1h.6m-.5,.4h.6m-.4,.3h.6m-.3,-.3h.6m-.5,-.4h.6m-.5,.3h.6m-.5,.1h.6m-.6,.1h.6m-.4,.1h.6m-.5,.3h.6m-.5,-.5h.6m-.4,-.3h.6m-.2,.9h.6m-.5,-.2h.6m-.1,-.2h.6m-.2,-.4h.6m-.5,-.2h.6m0,.3h.6m-.5,.7h.6m0,-.5h.6m-.4,0h.6m.5,-.4h.6m-.4,0h.6m1.4,.7h.6m-38.8,1h.6m2.3,-.1h.6m.6,-.4h.6m1.1,.5h.6m.7,-.1h.6m-.3,-.3h.6m.4,-.3h.6m-.4,.3h.6m-.3,-.3h.6m-.5,.8h.6m1.4,-.4h.6m.3,-.1h.6m.1,-.2h.6m1.3,0h.6m-.2,.3h.6m-.6,.2h.6m-.6,-.6h.6m0,.4h.6m-.5,-.4h.6m-.6,.5h.6m-.4,0h.6m-.5,-.3h.6m-.6,-.2h.6m-.3,.5h.6m-.5,-.5h.6m-.5,.7h.6m-.6,.1h.6m-.5,0h.6m-.5,0h.6m-.5,-.2h.6m-.5,-.1h.6m-.6,-.5h.6m-.4,.5h.6m-.4,-.3h.6m-.5,.5h.6m-.5,-.2h.6m-.4,-.4h.6m-.5,0h.6m8.7,.6h.6m.3,-.3h.6m-.5,.3h.6m-.4,-.1h.6m-.4,-.6h.6m-.5,.1h.6m-.2,-.1h.6m-.5,.3h.6m-.5,-.1h.6m-.4,-.2h.6m-.2,.5h.6m.1,.3h.6m-.2,-.2h.6m-.5,.1h.6m.2,0h.6m.1,-.1h.6m-.4,-.6h.6m-.2,.3h.6m-.1,-.3h.6m-.2,.2h.6m-.1,.1h.6m1.3,.2h.6m.8,-.5h.6m-.4,.8h.6m-48.2,.5h.6m4,-.4h.6m5.5,.1h.6m-.3,0h.6m2,.7h.6m-.1,-.2h.6m1.1,.1h.6m-.2,.3h.6m-.5,-.5h.6m-.2,0h.6m-.3,-.5h.6m-.5,.2h.6m-.3,0h.6m.6,.5h.6m0,-.4h.6m-.2,.7h.6m.2,-.8h.6m-.1,.5h.6m-.4,-.4h.6m-.4,.3h.6m-.5,-.4h.6m.4,-.1h.6m0,-.1h.6m-.6,.2h.6m-.2,.6h.6m-.4,-.8h.6m-.2,.3h.6m-.4,.7h.6m-.3,-.7h.6m-.2,-.1h.6m-.4,.4h.6m-.4,.4h.6m-.4,-.1h.6m-.5,-.3h.6m-.6,-.3h.6m-.6,.7h.6m-.3,-.7h.6m-.5,.1h.6m-.5,.3h.6m-.6,-.4h.6m-.6,.6h.6m-.3,-.7h.6m.4,-.2h.6m-.6,0h.6m-.5,1h.6m-.4,-.1h.6m-.6,0h.6m7.6,-.1h.6m-.5,.2h.6m-.6,0h.6m-.4,-.4h.6m-.4,-.5h.6m-.5,.6h.6m-.5,-.7h.6m-.2,1h.6m-.6,0h.6m-.6,-1h.6m-.5,0h.6m-.2,.7h.6m-.2,-.7h.6m-.4,.2h.6m-.1,-.2h.6m-.2,.4h.6m-.4,.3h.6m-.5,-.4h.6m-.5,-.2h.6m-.5,-.1h.6m.5,.2h.6m-.5,.5h.6m-.4,.3h.6m1,-.7h.6m5.1,.4h.6m0,-.5h.6m-45.1,1.4h.6m6.2,.1h.6m-.1,-.2h.6m.7,-.1h.6m-.6,-.1h.6m1.2,.1h.6m.4,.5h.6m-.6,-.4h.6m.3,.4h.6m-.6,-.4h.6m-.3,.3h.6m0,-.2h.6m-.2,0h.6m.4,.1h.6m0,-.3h.6m-.4,0h.6m-.4,-.3h.6m-.1,0h.6m-.2,.8h.6m-.6,-.3h.6m.1,-.4h.6m-.3,.1h.6m-.5,.4h.6m-.5,.2h.6m-.6,-.2h.6m-.5,.1h.6m-.3,-.3h.6m-.5,.3h.6m-.4,.1h.6m-.5,-.6h.6m-.6,.1h.6m-.5,-.3h.6m-.6,.6h.6m-.4,-.3h.6m-.6,.3h.6m-.1,.2h.6m-.2,-.6h.6m-.5,-.2h.6m-.5,.6h.6m-.1,-.2h.6m-.6,.1h.6m.5,0h.6m-.6,-.2h.6m-.3,-.2h.6m0,.3h.6m0,0h.6m-.1,-.4h.6m-.6,.6h.6m-.5,.1h.6m-.3,-.1h.6m-.6,-.2h.6m0,.2h.6m4,0h.6m-.1,0h.6m-.6,-.1h.6m-.6,.2h.6m-.5,-.1h.6m-.6,-.3h.6m-.3,.1h.6m-.5,.4h.6m-.5,-.2h.6m-.3,-.3h.6m-.6,.3h.6m-.3,-.2h.6m-.3,.2h.6m-.5,-.4h.6m-.5,.2h.6m-.3,.1h.6m-.6,-.3h.6m-.3,.2h.6m-.6,0h.6m-.5,-.2h.6m-.4,.5h.6m-.2,-.5h.6m-.4,-.1h.6m-.5,.7h.6m-.5,-.6h.6m-.6,.1h.6m-.5,-.1h.6m0,.2h.6m-.5,.2h.6m-.2,.2h.6m-.3,-.5h.6m-.3,.1h.6m.1,.2h.6m-.5,.1h.6m.9,-.5h.6m-.5,-.1h.6m-.5,.7h.6m.3,-.7h.6m-.6,-.1h.6m-.4,.5h.6m.9,-.1h.6m-.3,-.2h.6m-.3,.4h.6m.7,-.5h.6m-.4,.7h.6m1.9,-.6h.6m-51.6,1.5h.6m3.9,-.4h.6m0,.5h.6m4,-.9h.6m2.5,.4h.6m.8,-.4h.6m-.2,.9h.6m2.1,-.7h.6m0,.5h.6m-.2,.3h.6m-.5,-.5h.6m-.3,.1h.6m-.6,.1h.6m-.5,-.5h.6m-.4,.7h.6m-.6,-.8h.6m.1,.1h.6m-.4,0h.6m-.2,.5h.6m-.6,-.7h.6m-.2,.3h.6m-.3,-.2h.6m-.3,.5h.6m-.2,-.5h.6m.3,.6h.6m-.6,0h.6m-.4,-.1h.6m-.5,-.3h.6m-.5,.2h.6m-.6,0h.6m0,-.2h.6m-.4,-.1h.6m-.3,.4h.6m-.4,.2h.6m.1,.1h.6m-.6,-.7h.6m-.4,.1h.6m-.4,.3h.6m-.1,.3h.6m-.6,-.5h.6m-.4,.6h.6m-.4,0h.6m-.6,-.8h.6m-.5,0h.6m-.6,.6h.6m-.6,.2h.6m-.5,-.3h.6m-.6,.2h.6m-.5,-.7h.6m-.2,.2h.6m-.6,.1h.6m-.6,-.1h.6m-.4,.2h.6m-.4,-.4h.6m-.5,-.2h.6m-.2,.8h.6m-.4,-.8h.6m-.4,.5h.6m-.5,-.1h.6m-.4,-.2h.6m-.2,.4h.6m-.4,.3h.6m-.5,0h.6m-.6,.1h.6m0,-.5h.6m-.5,-.3h.6m-.4,.7h.6m-.6,-.7h.6m-.5,.2h.6m-.6,.2h.6m-.6,-.4h.6m-.3,.5h.6m.2,-.5h.6m-.6,.1h.6m-.5,.7h.6m-.4,-.5h.6m-.6,-.2h.6m-.5,.4h.6m-.3,-.4h.6m-.3,-.1h.6m-.4,0h.6m-.1,.7h.6m-.5,-.1h.6m-.6,-.5h.6m-.3,.5h.6m-.2,-.1h.6m-.4,-.4h.6m-.5,.7h.6m-.5,-.2h.6m-.5,.2h.6m-.6,-.5h.6m-.5,.3h.6m-.3,-.6h.6m-.1,-.2h.6m-.5,.1h.6m-.5,.8h.6m-.5,.1h.6m.4,-1h.6m-.2,0h.6m-.5,0h.6m-.4,.4h.6m-.5,.2h.6m-.5,-.1h.6m-.5,.3h.6m-.6,-.1h.6m-.4,-.1h.6m-.5,-.5h.6m-.5,-.1h.6m-.5,.5h.6m-.5,-.4h.6m-.6,-.1h.6m-.5,0h.6m-.1,.4h.6m-.5,0h.6m-.6,.5h.6m-.6,-.2h.6m-.2,-.4h.6m0,.6h.6m-.6,-.9h.6m-.6,.3h.6m-.2,.2h.6m-.5,-.2h.6m-.3,.7h.6m-.6,-.8h.6m.1,.5h.6m-.2,.3h.6m-.5,-.8h.6m-.4,-.1h.6m-.6,.5h.6m-.5,-.6h.6m0,.9h.6m-.4,-.7h.6m-.5,.3h.6m-.4,0h.6m-.1,.1h.6m-.3,-.5h.6m-.1,.6h.6m.4,-.6h.6m-.3,.8h.6m-.4,-.5h.6m.1,.4h.6m2.7,.1h.6m-50.1,1h.6m3,-.1h.6m1.9,-.2h.6m2.6,.2h.6m1,-.5h.6m1,.6h.6m.9,-.4h.6m.3,.1h.6m-.4,.1h.6m-.2,.1h.6m.7,-.7h.6m2.1,.7h.6m-.3,.1h.6m-.5,-.4h.6m-.4,0h.6m-.5,-.1h.6m0,-.1h.6m-.6,.3h.6m.7,.1h.6m-.1,-.4h.6m-.3,.1h.6m-.5,.2h.6m-.3,-.3h.6m-.5,.3h.6m.1,.2h.6m-.4,-.7h.6m-.6,.1h.6m-.5,.5h.6m-.6,0h.6m-.2,-.5h.6m-.5,.4h.6m-.6,.3h.6m-.4,-.7h.6m-.6,.2h.6m-.3,0h.6m-.2,.3h.6m-.6,-.4h.6m-.5,.3h.6m0,.3h.6m-.5,0h.6m-.2,-.7h.6m-.5,.3h.6m-.6,.1h.6m-.4,-.3h.6m-.3,.1h.6m-.6,0h.6m-.5,-.3h.6m-.5,.3h.6m-.5,.4h.6m-.5,-.2h.6m-.5,.2h.6m-.5,-.3h.6m-.5,-.4h.6m-.6,.7h.6m-.5,-.3h.6m-.6,.3h.6m-.5,-.5h.6m-.5,.3h.6m-.5,-.2h.6m-.4,.1h.6m-.5,.1h.6m-.4,-.2h.6m-.3,-.1h.6m-.6,.4h.6m-.2,.2h.6m-.3,-.1h.6m.4,-.1h.6m-.6,-.1h.6m-.5,0h.6m-.5,-.5h.6m-.3,.2h.6m-.3,.4h.6m-.1,-.6h.6m-.2,.3h.6m-.3,.5h.6m-.5,-.1h.6m-.5,-.7h.6m-.4,.2h.6m-.6,.5h.6m-.6,-.6h.6m-.3,.5h.6m-.5,-.5h.6m-.4,.1h.6m-.4,.4h.6m-.2,.1h.6m-.5,-.3h.6m-.6,-.4h.6m-.4,.5h.6m-.6,0h.6m-.4,-.5h.6m-.5,.7h.6m-.3,-.5h.6m-.5,.2h.6m-.6,.4h.6m-.5,-.2h.6m0,0h.6m0,-.1h.6m.6,.2h.6m-.4,-.2h.6m-.5,.1h.6m-.1,-.3h.6m-.4,-.3h.6m-.1,.4h.6m.8,-.1h.6m-.6,.3h.6m-.6,-.2h.6m-.2,.2h.6m-.5,-.2h.6m-.2,.1h.6m-.5,0h.6m-.2,-.5h.6m-.2,0h.6m-.4,.6h.6m.6,.1h.6m0,-.1h.6m-.4,-.5h.6m4.6,.5h.6m-.3,-.2h.6m-53.2,1.2h.6m1.7,.2h.6m1,-.3h.6m.5,-.1h.6m-.3,-.5h.6m-.1,.8h.6m2.3,-.8h.6m-.3,.3h.6m1.8,.2h.6m.6,-.3h.6m-.5,.4h.6m.6,-.2h.6m-.5,.6h.6m-.4,-.4h.6m-.6,.1h.6m-.4,-.4h.6m-.3,-.1h.6m.3,-.2h.6m-.4,1h.6m-.4,-.7h.6m-.1,.7h.6m-.5,-.5h.6m-.4,0h.6m.1,0h.6m-.3,-.3h.6m-.5,.2h.6m0,.3h.6m-.4,-.5h.6m.3,.2h.6m-.3,.6h.6m0,-.8h.6m-.5,-.2h.6m.4,0h.6m-.4,.5h.6m-.4,-.1h.6m-.5,-.3h.6m-.6,-.1h.6m-.2,.7h.6m-.5,-.1h.6m-.4,-.5h.6m-.5,0h.6m-.6,-.1h.6m-.2,.7h.6m-.3,-.5h.6m-.4,-.1h.6m.2,0h.6m-.1,.4h.6m-.5,-.3h.6m-.1,0h.6m-.3,-.1h.6m-.3,.7h.6m-.3,-.7h.6m-.6,.4h.6m-.6,.4h.6m-.6,.1h.6m-.5,-.3h.6m-.2,-.5h.6m-.2,.7h.6m-.5,-.6h.6m-.2,.5h.6m-.1,-.1h.6m-.5,-.5h.6m-.5,.4h.6m-.3,.3h.6m-.4,-.2h.6m-.1,.1h.6m-.6,.2h.6m-.2,-.3h.6m-.5,-.2h.6m-.3,-.1h.6m-.6,-.2h.6m-.3,-.2h.6m-.1,0h.6m-.2,.1h.6m-.6,.4h.6m-.6,-.2h.6m-.2,.2h.6m-.4,.2h.6m-.5,-.6h.6m-.6,.3h.6m-.4,-.3h.6m-.6,.4h.6m-.4,-.3h.6m-.6,-.2h.6m-.6,.9h.6m-.4,-.5h.6m-.2,-.3h.6m-.5,.8h.6m-.6,-.5h.6m-.5,-.2h.6m-.1,-.2h.6m-.5,.9h.6m-.2,-.4h.6m-.6,.2h.6m-.6,-.2h.6m-.5,-.3h.6m-.4,.1h.6m-.5,.4h.6m-.6,.1h.6m-.5,-.7h.6m-.4,.4h.6m-.3,-.5h.6m-.6,.5h.6m-.5,-.3h.6m-.3,.4h.6m-.6,.4h.6m-.4,-.8h.6m-.4,.3h.6m.1,.1h.6m-.3,.1h.6m-.5,-.7h.6m-.5,0h.6m-.5,0h.6m.4,.2h.6m-.1,.3h.6m0,.5h.6m0,-.6h.6m-.3,.5h.6m-.1,-.7h.6m.5,.4h.6m-.4,.1h.6m-.4,0h.6m.7,-.5h.6m-.5,.6h.6m1.3,.2h.6m3.8,-.2h.6m.1,.2h.6m0,-.9h.6m.4,.7h.6m-50.8,.3h.6m.5,.2h.6m1,.5h.6m-.2,-.4h.6m1,.2h.6m3.7,.3h.6m-.3,-.3h.6m-.4,-.3h.6m2.2,.4h.6m-.6,-.2h.6m-.3,.1h.6m-.1,-.1h.6m-.2,-.2h.6m.3,.6h.6m-.5,-.3h.6m-.6,.2h.6m-.6,-.3h.6m-.4,0h.6m-.3,.4h.6m-.4,-.2h.6m-.1,0h.6m-.4,-.5h.6m1.1,.7h.6m-.3,-.2h.6m-.3,.2h.6m-.3,0h.6m-.3,-.8h.6m-.4,.1h.6m-.6,.6h.6m-.4,-.7h.6m-.5,.1h.6m-.3,.6h.6m-.4,.1h.6m-.1,-.2h.6m-.5,-.1h.6m-.4,-.1h.6m0,.4h.6m-.4,-.4h.6m-.5,.1h.6m-.5,-.2h.6m.6,.1h.6m-.4,0h.6m-.4,.2h.6m-.5,-.4h.6m-.5,.3h.6m-.4,-.5h.6m.2,.7h.6m.1,-.2h.6m-.1,-.3h.6m-.2,.2h.6m-.6,.2h.6m.3,.2h.6m-.5,-.3h.6m-.3,.2h.6m-.1,-.3h.6m-.5,-.1h.6m-.2,.2h.6m-.4,-.3h.6m-.5,0h.6m-.5,.4h.6m-.5,-.1h.6m-.1,.3h.6m-.4,-.2h.6m-.6,-.4h.6m-.5,.6h.6m-.5,-.8h.6m-.2,.1h.6m-.6,0h.6m-.5,.4h.6m-.5,.2h.6m-.4,-.7h.6m-.4,.6h.6m-.6,.1h.6m-.1,-.7h.6m-.5,.7h.6m-.3,-.3h.6m-.5,-.2h.6m.4,.4h.6m-.5,-.4h.6m.4,-.1h.6m-.5,.7h.6m-.3,0h.6m-.4,-.3h.6m-.5,-.1h.6m-.6,-.2h.6m-.6,-.2h.6m-.1,.1h.6m.3,.4h.6m-.5,-.1h.6m.3,-.2h.6m-.3,0h.6m-.5,.5h.6m-.4,-.3h.6m-.2,.2h.6m-.1,-.6h.6m.2,.5h.6m-.3,-.1h.6m.3,.4h.6m.1,-.4h.6m-.4,.1h.6m.2,.1h.6m.3,0h.6m1.1,-.2h.6m.7,-.2h.6m.3,.5h.6m1.6,.1h.6m-39.7,.5h.6m.1,-.3h.6m-.5,.3h.6m-.4,.6h.6m.1,-1h.6m-.6,.1h.6m.1,.3h.6m-.2,-.4h.6m-.3,0h.6m.1,.2h.6m-.5,.7h.6m-.5,-.9h.6m.6,.9h.6m.2,.1h.6m-.5,-.4h.6m.1,.4h.6m-.4,-.6h.6m-.6,.1h.6m-.5,-.4h.6m-.5,.1h.6m-.6,.8h.6m.1,-.9h.6m-.4,.2h.6m-.5,-.1h.6m-.4,-.1h.6m0,-.1h.6m-.3,.9h.6m-.6,-.5h.6m-.4,.5h.6m-.3,-.9h.6m-.1,.4h.6m-.6,-.2h.6m-.5,0h.6m-.5,.5h.6m-.6,-.2h.6m-.6,.3h.6m-.5,-.7h.6m-.5,.2h.6m-.5,.3h.6m-.5,.2h.6m0,-.2h.6m-.5,-.2h.6m0,.4h.6m.1,.1h.6m-.6,-.3h.6m-.1,.3h.6m0,-.1h.6m-.5,-.6h.6m-.5,.4h.6m-.1,.4h.6m-.4,0h.6m-.5,-.3h.6m-.1,-.4h.6m-.6,.1h.6m-.4,.4h.6m-.5,-.1h.6m-.5,-.1h.6m-.6,-.4h.6m-.4,0h.6m-.6,.7h.6m-.5,-.9h.6m-.6,.3h.6m-.4,.2h.6m-.2,-.2h.6m-.4,.4h.6m-.4,-.1h.6m-.4,-.3h.6m-.6,.3h.6m-.4,-.2h.6m-.4,-.4h.6m-.4,.4h.6m-.6,.5h.6m-.5,-.2h.6m-.5,-.2h.6m-.5,-.5h.6m0,0h.6m-.4,.9h.6m-.5,-.7h.6m-.1,.1h.6m-.5,-.2h.6m-.3,.9h.6m-.3,-.8h.6m-.6,.4h.6m-.2,-.1h.6m.7,-.1h.6m-.6,-.1h.6m.5,.5h.6m-.1,-.2h.6m-.5,.4h.6m-.2,-.7h.6m-.5,-.3h.6m-.1,.9h.6m-.5,-.9h.6m-.1,.1h.6m1.1,0h.6m-.4,-.1h.6m-.6,.2h.6m-.3,.8h.6m-.1,-.3h.6m-.2,0h.6m-.1,-.3h.6m-.1,.2h.6m-.2,.3h.6m-.6,-.4h.6m1.2,-.2h.6m-.2,0h.6m.5,-.2h.6m-.1,.3h.6m-34.6,1.2h.6m-.2,0h.6m-.5,0h.6m-.6,-.4h.6m-.4,.3h.6m-.2,-.3h.6m-.4,-.1h.6m-.3,.7h.6m0,-.5h.6m-.5,-.2h.6m0,.6h.6m.6,-.6h.6m-.1,.2h.6m-.4,-.1h.6m-.5,.4h.6m.2,-.5h.6m.5,.1h.6m.2,.2h.6m-.6,0h.6m-.3,0h.6m-.3,.1h.6m-.2,.4h.6m-.5,-.8h.6m.2,.5h.6m-.4,-.1h.6m0,-.2h.6m-.5,.1h.6m-.6,.1h.6m-.4,-.2h.6m-.5,.6h.6m-.5,-.6h.6m-.4,.6h.6m0,-.8h.6m-.5,.7h.6m-.1,-.5h.6m-.1,-.1h.6m0,.3h.6m-.1,-.3h.6m-.1,.3h.6m0,.3h.6m-.6,0h.6m-.4,-.1h.6m-.2,-.6h.6m-.4,0h.6m.4,.6h.6m-.5,-.2h.6m-.6,.2h.6m-.3,-.5h.6m-.6,-.1h.6m.3,.8h.6m-.6,-.3h.6m.6,-.4h.6m-.5,.4h.6m-.5,-.1h.6m-.5,-.3h.6m-.6,0h.6m.9,.4h.6m-.3,.1h.6m.2,-.5h.6m-.5,0h.6m-.3,.4h.6m-.4,-.3h.6m.3,0h.6m-.2,.5h.6m-.2,-.4h.6m0,-.2h.6m-.1,.4h.6m.1,-.1h.6m-.4,.1h.6m-.5,-.1h.6m-.4,-.4h.6m-.2,.6h.6m0,-.4h.6m.3,-.2h.6m3.9,0h.6m1.4,0h.6m-.3,0h.6m.7,.3h.6m.3,.4h.6m-37.1,.5h.6m-.5,.7h.6m-.6,-.6h.6m-.3,.5h.6m.6,-.9h.6m-.1,.2h.6m-.6,.1h.6m-.5,.2h.6m-.2,-.3h.6m0,.1h.6m-.1,.6h.6m-.5,-.3h.6m-.2,0h.6m-.6,.3h.6m-.6,-.2h.6m.1,-.5h.6m-.4,.4h.6m-.2,.4h.6m-.1,-.4h.6m-.5,.2h.6m-.2,.2h.6m.1,-1h.6m-.5,.3h.6m-.6,-.3h.6m-.3,.5h.6m.1,.4h.6m-.6,-.7h.6m-.5,.1h.6m.4,.5h.6m-.5,-.8h.6m-.6,.7h.6m-.5,-.3h.6m-.5,-.3h.6m.3,.5h.6m-.2,.4h.6m-.3,-.8h.6m-.2,.7h.6m-.1,0h.6m-.4,-.9h.6m-.3,.6h.6m-.5,-.5h.6m-.6,.5h.6m0,.4h.6m-.3,-.7h.6m-.5,0h.6m-.6,.5h.6m-.2,-.8h.6m-.6,.3h.6m-.5,-.1h.6m-.6,-.1h.6m-.4,.2h.6m-.5,-.2h.6m.4,.6h.6m-.3,.3h.6m-.5,-.7h.6m-.6,.1h.6m-.4,.1h.6m-.4,.4h.6m-.4,-.5h.6m-.6,-.3h.6m-.6,.3h.6m-.6,-.1h.6m-.5,.5h.6m-.3,-.2h.6m-.4,-.1h.6m-.4,-.3h.6m-.4,-.2h.6m-.3,.3h.6m-.6,.6h.6m.2,-.7h.6m-.1,.4h.6m-.5,.4h.6m-.5,-.1h.6m.1,-.9h.6m.1,.9h.6m-.3,-.7h.6m-.2,.2h.6m-.6,.1h.6m-.2,.1h.6m-.1,.3h.6m-.5,.1h.6m.4,-1h.6m.3,.6h.6m-.2,-.2h.6m.7,.3h.6m.2,0h.6m.1,-.5h.6m1,.2h.6m1.1,.5h.6m.5,-.6h.6m.6,.7h.6m1.3,-.3h.6m2.2,-.2h.6m-39.7,1.1h.6m.2,-.4h.6m-.3,.1h.6m-.2,.2h.6m.2,.1h.6m.3,-.1h.6m-.6,-.3h.6m-.3,.2h.6m.4,-.1h.6m.1,.6h.6m-.1,0h.6m-.4,-.5h.6m0,-.2h.6m-.4,.5h.6m-.5,.1h.6m.3,.1h.6m.1,0h.6m-.6,-.4h.6m-.5,-.4h.6m-.3,.7h.6m.1,-.2h.6m-.5,-.3h.6m-.5,.3h.6m-.5,-.2h.6m-.1,.4h.6m-.6,-.3h.6m-.2,.3h.6m-.6,-.4h.6m-.3,-.2h.6m-.5,.7h.6m-.2,-.6h.6m-.4,0h.6m-.2,.5h.6m-.6,-.3h.6m-.2,.2h.6m.3,.1h.6m0,-.4h.6m-.2,-.3h.6m-.5,.6h.6m-.4,-.2h.6m-.6,.4h.6m-.5,-.2h.6m-.2,.1h.6m-.5,-.7h.6m-.2,.1h.6m-.3,.4h.6m-.6,-.3h.6m-.2,.4h.6m-.4,.1h.6m-.2,-.6h.6m-.1,.6h.6m.1,-.5h.6m-.2,.1h.6m-.5,.2h.6m-.5,-.3h.6m-.3,.4h.6m-.2,-.1h.6m0,.2h.6m-.5,-.1h.6m.3,-.6h.6m.1,.1h.6m-.5,.2h.6m.6,.5h.6m-.2,-.1h.6m.6,-.1h.6m1.2,-.2h.6m-.3,.3h.6m-.5,-.6h.6m4.8,.7h.6m7.1,-.4h.6m-40,.7h.6m.5,0h.6m.2,.6h.6m1.6,0h.6m-.3,-.6h.6m-.3,.2h.6m-.5,.3h.6m-.4,0h.6m.1,-.7h.6m-.4,.4h.6m-.6,.4h.6m-.4,-.6h.6m-.4,-.1h.6m-.5,.5h.6m-.3,-.2h.6m.3,.3h.6m-.4,-.4h.6m-.5,.2h.6m0,.4h.6m-.5,-.7h.6m-.3,.6h.6m-.1,-.5h.6m0,-.1h.6m-.2,.2h.6m-.6,.3h.6m-.2,-.5h.6m-.3,-.2h.6m.2,.9h.6m.4,-.6h.6m-.3,-.3h.6m-.5,.1h.6m-.4,-.1h.6m-.5,.3h.6m-.6,.5h.6m-.4,-.1h.6m-.3,.3h.6m-.4,-.4h.6m0,.1h.6m-.2,-.7h.6m-.6,.4h.6m.7,.2h.6m-.2,.3h.6m.3,-.6h.6m-.4,-.1h.6m-.3,.2h.6m.4,.1h.6m-.4,-.5h.6m-.4,.3h.6m0,.7h.6m-.4,-.7h.6m0,0h.6m.5,.5h.6m.9,-.2h.6m-.2,.4h.6m1.2,-.7h.6m.8,-.2h.6m1.4,.4h.6m.3,-.5h.6m-.5,.4h.6m.4,.2h.6m2.5,-.6h.6m.5,.3h.6m2.4,.5h.6m-39.3,1h.6m.9,.1h.6m.4,0h.6m.8,-.6h.6m-.3,0h.6m-.3,.6h.6m-.5,-.5h.6m.1,.5h.6m-.2,-.5h.6m-.5,-.2h.6m-.2,.5h.6m-.6,-.6h.6m.2,.7h.6m-.2,-.7h.6m-.3,.8h.6m1.6,-.6h.6m.1,.1h.6m-.2,-.3h.6m-.3,.6h.6m-.4,-.5h.6m-.3,.1h.6m1.5,.4h.6m-.4,0h.6m-.2,-.5h.6m5.7,0h.6m.3,.4h.6m-.5,0h.6m0,.1h.6m5.5,-.1h.6m.8,-.2h.6m-.5,.1h.6m-31.5,1.2h.6m-.2,-.6h.6m.8,.4h.6m-.4,.4h.6m.1,-.9h.6m-.1,.9h.6m2.4,-.8h.6m-.3,.9h.6m-.1,-.6h.6m-.5,.5h.6m1.3,0h.6m-.5,-.7h.6m-.1,.1h.6m-.5,.1h.6m0,-.4h.6m-.5,.9h.6m-.4,-.7h.6m.3,.8h.6m.1,-.4h.6m-.5,-.6h.6m-.2,.5h.6m-.2,-.1h.6m.7,-.4h.6m.7,.2h.6m-.5,0h.6m-.1,.5h.6m-.3,0h.6m3.3,-.2h.6m1.8,.3h.6m-.1,-.7h.6m0,-.1h.6m1.1,.6h.6m3.5,.1h.6m-30.4,.4h.6m.1,.5h.6m-.1,0h.6m0,.1h.6m-.5,0h.6m-.3,.1h.6m-.6,-.1h.6m-.6,.2h.6m-.4,-.6h.6m0,.2h.6m-.6,0h.6m.5,0h.6m.2,.2h.6m-.2,-.2h.6m-.4,0h.6m-.1,-.4h.6m-.1,.3h.6m.9,.3h.6m-.5,-.1h.6m.6,-.4h.6m2.6,.1h.6m-.3,.6h.6m.5,-.2h.6m0,-.1h.6m.3,0h.6m-.6,.1h.6m1,-.6h.6m-.5,.5h.6m.8,-.1h.6m.7,0h.6m.1,-.1h.6m0,.1h.6m0,-.2h.6m-.5,.2h.6m5.7,.2h.6m.1,.1h.6m.4,.1h.6m11,-.7h.6m-42.1,1.4h.6m-.3,.1h.6m.3,.1h.6m.8,-.8h.6m0,.4h.6m.7,-.3h.6m-.5,.4h.6m.5,-.4h.6m.9,0h.6m-.5,.7h.6m-.3,-.5h.6m-.2,.4h.6m1.7,.1h.6m-.5,-.7h.6m-.5,.4h.6m1.4,-.3h.6m.2,.5h.6m.7,.1h.6m1.3,.1h.6m.8,-.9h.6m-.5,.8h.6m-.1,-.7h.6m.5,.3h.6m-.5,.2h.6m5,0h.6m3.4,0h.6m1.6,-.2h.6m1.4,0h.6m7.4,-.4h.6m-41.4,1.2h.6m2.1,.3h.6m0,-.1h.6m-.1,.5h.6m2.7,-.2h.6m.2,-.2h.6m-.2,.4h.6m-.4,-.3h.6m0,-.5h.6m-.5,.7h.6m0,-.3h.6m.4,0h.6m-.5,-.3h.6m-.5,0h.6m-.4,.4h.6m-.2,.3h.6m0,-.1h.6m1.5,-.5h.6m5.6,.4h.6m4.4,-.6h.6m-25.5,1.6h.6m-.2,-.3h.6m.3,0h.6m1.9,-.1h.6m-.3,.2h.6m3.7,0h.6m2.5,-.1h.6m.7,.1h.6m1.2,-.1h.6m-.3,-.4h.6m1.7,0h.6m3.1,.6h.6m1.2,0h.6m-24.5,1.1h.6m-.3,0h.6m0,-.4h.6m-.4,.1h.6m6.9,.4h.6m8.2,-.2h.6m2.2,-.4h.6m3.1,.3h.6m2.6,.1h.6m-27.4,1.4h.6m2.1,-.1h.6m3.4,-.2h.6m1.4,0h.6m1.2,-.6h.6m12.6,.8h.6m1.5,-.5h.6m-15.1,1.4h.6m8.7,-.5h.6m.3,.6h.6m3.3,0h.6m13.5,-.4h.6m-37.5,1h.6m1,0h.6m.5,-.4h.6m2.1,.5h.6m-.3,-.4h.6m-.3,.4h.6m3.9,.2h.6m.3,.2h.6m2.7,-.5h.6m9.9,-.5h.6m1.9,.6h.6m7.9,.1h.6m-37.8,.6h.6m5.9,1h.6m1.4,.1h.6m.4,-.3h.6m5.1,.9h.6m.8,-1h.6m-.4,.2h.6m1.6,.8h.6m-18.2,.3h.6m.8,-.2h.6m15.5,.6h.6m3.9,-.5h.6m-18.8,1.4h.6m9.3,-.2h.6m5,.6h.6m6.1,.6h.6m1.1,.3h.6m-27.3,1.8h.6m19.9,.1h.6m-15,.4h.6m5.4,.1h.6m-17.3,1.5h.6m23.7,-.7h.6" stroke="#111" stroke-width=".6" fill="none"/>
<path d="M551,176.4l2.9-.6 2.7,.6 1.3,1.5 .1,1.6-.5,1.5-2.1,2.8-3.1,2.3-3.8,1.4-3.2-.5-.7-.7-.5-1.4 .6-3.1 2.4-3.1 3.9-2.3z" fill="#fff" stroke="#333" stroke-width=".5"/>
<rect x="505.8" y="191.3" width="18.5" height="25.1" fill="#cdcdcd"/>
<path d="M523.9,201.8 523.7,206.5 523.0,209.0 522.1,210.7 521.0,211.9 519.6,212.9 517.9,213.6 514.8,214.1 511.5,214.2 509.6,213.8 508.2,212.7 507.2,211.0 506.7,208.8 506.5,206.2 506.4,201.8 506.5,197.5 506.7,194.9 507.2,192.7 508.2,191.0 509.6,189.9 511.5,189.4 514.8,189.5 517.9,190.1 519.6,190.8 521.0,191.8 522.1,193.0 523.0,194.7 523.7,197.2zM522.8,201.6 522.5,205.2 521.9,207.2 521.2,208.8 520.4,210.1 519.3,211.2 517.8,212.1 515.2,212.5 512.5,212.4 510.9,211.7 509.8,210.5 509.0,209.0 508.5,207.2 508.1,205.1 507.8,201.6 507.8,198.0 508.0,195.6 508.6,193.8 509.6,192.4 511.0,191.7 512.6,191.4 515.2,191.4 517.6,191.7 519.2,192.1 520.5,192.8 521.6,193.9 522.4,195.6 522.8,197.9zM521.7,201.3 521.5,204.0 521.1,205.8 520.6,207.3 519.9,208.6 518.9,209.6 517.6,210.3 515.6,210.4 513.6,210.1 512.3,209.4 511.3,208.4 510.6,207.2 510.0,205.8 509.5,204.1 509.2,201.3 509.2,198.5 509.6,196.5 510.3,195.1 511.2,194.1 512.4,193.4 513.7,193.1 515.6,192.9 517.5,192.9 518.9,193.2 520.0,193.8 520.9,195.0 521.5,196.6 521.7,198.5zM520.7,201.1 520.7,203.0 520.5,204.5 520.1,205.9 519.4,207.0 518.5,207.8 517.4,208.2 515.9,208.2 514.5,207.8 513.5,207.3 512.7,206.6 512.0,205.7 511.3,204.6 510.9,203.2 510.7,201.1 510.9,199.0 511.3,197.5 511.9,196.4 512.7,195.6 513.5,194.9 514.6,194.4 515.9,194.1 517.4,194.1 518.5,194.4 519.4,195.1 520.1,196.2 520.5,197.6 520.7,199.1zM520.0,200.8 520.0,202.2 519.8,203.4 519.4,204.4 518.9,205.2 518.1,205.7 517.3,206.0 516.3,205.9 515.4,205.8 514.6,205.5 513.9,205.0 513.3,204.3 512.8,203.4 512.5,202.2 512.5,200.8 512.6,199.5 513.0,198.4 513.4,197.5 514.0,196.8 514.6,196.1 515.4,195.6 516.3,195.4 517.3,195.5 518.1,195.9 518.8,196.6 519.3,197.5 519.6,198.5 519.8,199.5zM519.2,200.6 519.2,201.4 519.0,202.2 518.7,202.8 518.3,203.4 517.8,203.7 517.2,203.9 516.7,204.0 516.2,203.9 515.6,203.8 515.1,203.4 514.7,202.9 514.4,202.2 514.2,201.4 514.2,200.6 514.3,199.8 514.5,199.1 514.8,198.5 515.2,197.9 515.6,197.4 516.1,197.0 516.7,196.9 517.3,197.1 517.8,197.4 518.2,197.9 518.6,198.5 518.9,199.1 519.1,199.8zM518.5,200.3 518.4,200.7 518.3,201.1 518.1,201.4 517.8,201.7 517.6,201.9 517.3,202.1 517.1,202.2 516.8,202.2 516.5,202.1 516.3,201.8 516.0,201.5 515.9,201.1 515.8,200.7 515.8,200.3 515.8,200.0 515.9,199.6 516.1,199.2 516.3,198.9 516.5,198.6 516.8,198.4 517.1,198.4 517.3,198.5 517.6,198.7 517.8,199.0 518.1,199.3 518.3,199.6 518.4,200.0z" fill="none" stroke="#555" stroke-width=".6"/>
<rect x="505.9" y="213.2" width="17.8" height="1.8" fill="#333"/>
<rect x="505.9" y="191.3" width="1.2" height="24.1" fill="#555"/>
<path d="M524.30,191.30 V154.60 H567.10 V191.30 H505.90 V214.80 H524.30 V191.30" fill="none" stroke="#000" stroke-width="1.7"/>
<text x="564.50" y="163.40" font-size="8.0" font-weight="bold" fill="#000" text-anchor="end" >4</text>
<text x="564.50" y="212.60" font-size="8.0" font-weight="bold" fill="#000" text-anchor="end" >2</text>
<line x1="567.50" y1="169.50" x2="601.70" y2="169.50" stroke="#000" stroke-width="2.0" />
<polygon points="600.20,166.10 608.70,169.50 600.20,172.90" fill="#000"/>
<rect x="590.30" y="154.20" width="62.20" height="62.20" fill="none" stroke="#9a9a9a" stroke-width="0.7" />
<line x1="590.30" y1="159.38" x2="591.50" y2="159.38" stroke="#888" stroke-width="0.5" />
<line x1="590.30" y1="164.57" x2="591.50" y2="164.57" stroke="#888" stroke-width="0.5" />
<line x1="590.30" y1="169.75" x2="591.50" y2="169.75" stroke="#888" stroke-width="0.5" />
<line x1="590.30" y1="174.93" x2="591.50" y2="174.93" stroke="#888" stroke-width="0.5" />
<line x1="590.30" y1="180.12" x2="591.50" y2="180.12" stroke="#888" stroke-width="0.5" />
<line x1="590.30" y1="185.30" x2="591.50" y2="185.30" stroke="#888" stroke-width="0.5" />
<line x1="590.30" y1="190.48" x2="591.50" y2="190.48" stroke="#888" stroke-width="0.5" />
<line x1="590.30" y1="195.67" x2="591.50" y2="195.67" stroke="#888" stroke-width="0.5" />
<line x1="590.30" y1="200.85" x2="591.50" y2="200.85" stroke="#888" stroke-width="0.5" />
<line x1="590.30" y1="206.03" x2="591.50" y2="206.03" stroke="#888" stroke-width="0.5" />
<line x1="590.30" y1="211.22" x2="591.50" y2="211.22" stroke="#888" stroke-width="0.5" />
<line x1="595.48" y1="216.40" x2="595.48" y2="215.20" stroke="#888" stroke-width="0.5" />
<line x1="600.67" y1="216.40" x2="600.67" y2="215.20" stroke="#888" stroke-width="0.5" />
<line x1="605.85" y1="216.40" x2="605.85" y2="215.20" stroke="#888" stroke-width="0.5" />
<line x1="611.03" y1="216.40" x2="611.03" y2="215.20" stroke="#888" stroke-width="0.5" />
<line x1="616.22" y1="216.40" x2="616.22" y2="215.20" stroke="#888" stroke-width="0.5" />
<line x1="621.40" y1="216.40" x2="621.40" y2="215.20" stroke="#888" stroke-width="0.5" />
<line x1="626.58" y1="216.40" x2="626.58" y2="215.20" stroke="#888" stroke-width="0.5" />
<line x1="631.77" y1="216.40" x2="631.77" y2="215.20" stroke="#888" stroke-width="0.5" />
<line x1="636.95" y1="216.40" x2="636.95" y2="215.20" stroke="#888" stroke-width="0.5" />
<line x1="642.13" y1="216.40" x2="642.13" y2="215.20" stroke="#888" stroke-width="0.5" />
<line x1="647.32" y1="216.40" x2="647.32" y2="215.20" stroke="#888" stroke-width="0.5" />
<path d="M642.7,171.0h0.6m-16.8,9.6h.6m20,5.5h.6m-24,.6h.6m22.2,.3h.6m-21.4,3.5h.6m19.9,1.4h.6m-23.4,2.4h.6m-2.1,1h.6m-.7,6.1h.6m.4,-.3h.6m19.9,1.7h.6m-21.4,2.4h.6m-1.1,3.1h.6m21.4,2.2h.6m.8,2.5h.6m-2.9,.5h.6" stroke="#333" stroke-width=".6" fill="none"/>
<path d="M632.4,163.9l1.1-.6 3.1,.7 3.4,2.3 1.4,3.1 1.9,2.3 2.5,8.5-.6,10.9-2,10.1 .8,3.9 .2,3.1-3,4.3-2.3,1.4-2.3,.5-2.4,0-4.6-1.3-3.1-3.1-1.2-2.5-.2-2.4-1-2.3-.3-2.3 .5-6.3 2.2-5.6 .7-4.3-.7-7.2 1.1-7 1.5-3.1 3.3-3.1z" fill="#ececec" stroke="#444" stroke-width=".5"/>
<path d="M632.3,169.4l3.5-.6 1.5,.6 3.4,3.8 1.9,3.9 .3,1.6 .2,6.2-1.5,7-.9,2.3-.1,3.2-1.2,3.1 .8,3.8 0,3.9-2.1,2.4-2.3,1.1-1.7-.4-4.7-3.8-.3-1.6 1.4-1.6 .2-.7-.4-.9-3.1-2.2-.2-.8 .6-3.1 1.6-2.4 1.7-5.4-.6-7.2-1.1-5.2 .4-1.6 2.7-5.4z" fill="#dedede" stroke="none"/>
<path d="M634.6,172.5l1.2-.5 .8,.3 3.1,2.4 1.1,3.2 .4,5.5-.8,1.5-.4,3.1-1.7,2.4-1.1,3.1 .6,2.3-.2,1.6-1,.8-3.1,.7-1.9-.8 0-1.5 .7-1.6 2.3-1.5 .3-.8-.6-1.6 0-2.3-1.4-3.1-.9-6.2-1.2-3.1 .9-1.6 2.9-2.3z" fill="#d2d2d2" stroke="none"/>
<path d="M633.6,166.3l3-.5 2.3,1.7 .9,2.6 2.3,2.4 1.9,4.6 .6,3.1-.1,7-.8,4.7-1.1,3.1 0,3.1-.8,3.1 .7,3.9-.2,3.1-1.1,2.1-1.9,1.8-1.2,.6-3.1,.6-4.7-1.5-2.6-2.8-2.8-8.5 .5-5.5 1.8-3.1 .9-3.1 .5-5.4-.8-6.3 .4-3.1 1.1-3.9 1.2-2.3 1.4-1.2 1.7-.3zM632.1,167.8l3.7-.5 1.6,.5 1.9,3.1 2.2,2.3 1.7,3.9 .5,3.1 0,6.3-1,5.4-1,2.3-.1,3.2-.8,2.3 .4,8.5-.8,1.4-1.8,1.7-2.8,1.1-1.6-.1-3.1-1.6-2.5-2.5-1-3.9-1.8-3.8 .6-4.7 1.6-1.7 1.4-5.3 .2-6.2-.9-5.5 .2-2.3 1.6-4.7 1.6-2.3zM632.3,169.4l3.5-.6 1.5,.6 3.4,3.8 1.9,3.9 .3,1.6 .2,6.2-1.5,7-.9,2.3-.1,3.2-1.2,3.1 .8,3.8 0,3.9-2.1,2.4-2.3,1.1-1.7-.4-4.7-3.8-.3-1.6 1.4-1.6 .2-.7-.4-.9-3.1-2.2-.2-.8 .6-3.1 1.6-2.4 1.7-5.4-.6-7.2-1.1-5.2 .4-1.6 2.7-5.4zM635.5,170.1l1.8,.5 3.1,3.4 1.8,3.9 .3,6.2-1.2,4.7-1.3,1.6-.3,7-3.1,4.6 0,.8 1.7,1.5 .7,3.2-1.3,2.3-1.9,1.1-1.6-.4-2.5-2.3-.4-1.5 .7-1.6 0-2.3-3.2-3-.2-2.4 2.8-4.7-.1-1.6 .9-2.3-.9-3.1-.3-4.7-1.2-3.9 .1-1.5 2.9-4.7 2.7-.8zM633.8,171.7l2-.7 1.5,.6 2.6,2.4 1.7,4.7 .1,5.4-.7,1.6-.3,2.3-1.8,3.1-.2,6.3-1.4,1.8-2.3,1.5-3.9-1.1-.7-.7-.4-1.5 1-2.4 2-2.3-.4-1.6 .7-2.3-1.2-3.1-.4-4.7-1.4-4.6 .6-1.6 2.9-3.1zM633.7,205.1l.5-.7 .8,.1 .6,.6 1.2,3.9-.6,.8-1.2,.1-1.9-1.7-.1-1.5 .7-1.6zM634.6,172.5l1.2-.5 .8,.3 3.1,2.4 1.1,3.2 .4,5.5-.8,1.5-.4,3.1-1.7,2.4-1.1,3.1 .6,2.3-.2,1.6-1,.8-3.1,.7-1.9-.8 0-1.5 .7-1.6 2.3-1.5 .3-.8-.6-1.6 0-2.3-1.4-3.1-.9-6.2-1.2-3.1 .9-1.6 2.9-2.3zM632.8,174.8l1.4-.4 2.4,.5 1.5-.7 1,.6 .7,1.6 .6,7-.7,1.5-.4,3.1-2,2.3-.7,.1-.8-.5-2.3-5-1-5.4-1.1-2.4 .4-1.5 1-.8zM635.5,195.8l.3-.4 .2,.4-.5,0zM633.3,175.6l.9-.3 2.4,.3 1.5-.4 1,1.2 .6,6.2-.7,4.6-1.7,1.8-.9-.2-2.2-4.7-1.9-7 .1-.7 .9-.8zM634.2,176.4l2,0 1.5,.7 1.1,5.5-.7,3.2-.8,.7-1.9-1.6-1.5-3.9-.6-3.1 .9-1.5zM634.2,177.9l.8-.7 1.1,.7 .4,1.6-.7,.8-.8-.2-.5-.6-.3-1.6zM636.5,181l.8,.4 .6,1.2-.4,1.5-.9,.6-1.1-1.3 .3-1.6 .7-.8z" fill="none" stroke="#3c3c3c" stroke-width=".45"/>
<path d="M626.7,212.9l6-.5 9.3,.1 7.8,.9 1.1,.3 .7,.8-7.3,1.3-16.3,0-6.9-1.3 1.5-1.1 4.1-.5z" fill="#999" stroke="#222" stroke-width=".7"/>
<path d="M626.1,213.7l5-.6 9.3-.1 5.5,.5 1.6,1-6.3,.9-7.7,.2-7.8-1-.5-.1 .9-.8zM630.5,213.7l9.2-.3 2.4,.3 1.6,.8-4.8,.5-6.2-.1-3.7-.4 1.5-.8z" fill="#111" stroke="#000" stroke-width=".6"/>
<path d="M619.70,154.50 V192.80 H652.20" fill="none" stroke="#000" stroke-width="1.9"/>
<text x="648.10" y="163.40" font-size="8.0" font-weight="bold" fill="#000" text-anchor="end" >55</text>
<line x1="315.40" y1="222.40" x2="315.40" y2="186.00" stroke="#000" stroke-width="2.0" />
<polygon points="312.20,187.50 315.40,179.80 318.60,187.50" fill="#000"/>
<line x1="314.40" y1="222.40" x2="352.40" y2="222.40" stroke="#000" stroke-width="2.0" />
<polygon points="351.40,219.20 359.20,222.40 351.40,225.60" fill="#000"/>
<text transform="translate(312.40,196.00) rotate(-90)" font-size="8" font-weight="bold" text-anchor="middle">TNF-α</text>
<text x="339.40" y="235.00" font-size="8" font-weight="bold" fill="#000" text-anchor="middle" >IFN-γ</text>
<line x1="400.60" y1="222.40" x2="400.60" y2="186.00" stroke="#000" stroke-width="2.0" />
<polygon points="397.40,187.50 400.60,179.80 403.80,187.50" fill="#000"/>
<line x1="399.60" y1="222.40" x2="437.60" y2="222.40" stroke="#000" stroke-width="2.0" />
<polygon points="436.60,219.20 444.40,222.40 436.60,225.60" fill="#000"/>
<text transform="translate(397.60,193.50) rotate(-90)" font-size="8" font-weight="bold" text-anchor="middle">IL-2</text>
<text x="424.60" y="235.00" font-size="8" font-weight="bold" fill="#000" text-anchor="middle" >IFN-γ</text>
<line x1="499.70" y1="222.40" x2="499.70" y2="186.00" stroke="#000" stroke-width="2.0" />
<polygon points="496.50,187.50 499.70,179.80 502.90,187.50" fill="#000"/>
<line x1="498.70" y1="222.40" x2="536.70" y2="222.40" stroke="#000" stroke-width="2.0" />
<polygon points="535.70,219.20 543.50,222.40 535.70,225.60" fill="#000"/>
<text transform="translate(496.70,196.00) rotate(-90)" font-size="8" font-weight="bold" text-anchor="middle">TNF-α</text>
<text x="523.70" y="235.00" font-size="8" font-weight="bold" fill="#000" text-anchor="middle" >IFN-γ</text>
<line x1="584.70" y1="222.40" x2="584.70" y2="186.00" stroke="#000" stroke-width="2.0" />
<polygon points="581.50,187.50 584.70,179.80 587.90,187.50" fill="#000"/>
<line x1="583.70" y1="222.40" x2="621.70" y2="222.40" stroke="#000" stroke-width="2.0" />
<polygon points="620.70,219.20 628.50,222.40 620.70,225.60" fill="#000"/>
<text transform="translate(581.70,193.50) rotate(-90)" font-size="8" font-weight="bold" text-anchor="middle">IL-2</text>
<text x="608.70" y="235.00" font-size="8" font-weight="bold" fill="#000" text-anchor="middle" >IFN-γ</text>
<text x="0.00" y="327.80" font-size="14.5" font-weight="bold" fill="#000" text-anchor="start" >D</text>
<rect x="172.60" y="320.00" width="12.80" height="7.60" fill="#c8c8c8" stroke="#777" stroke-width="1.0" />
<text x="195.20" y="327.70" font-size="10" font-weight="bold" fill="#000" text-anchor="start" >C57BL/6</text>
<line x1="195.20" y1="329.60" x2="235.30" y2="329.60" stroke="#000" stroke-width="1.0" />
<rect x="270.20" y="320.00" width="12.00" height="7.60" fill="#fff" stroke="#000" stroke-width="1.2" />
<text x="292.80" y="327.70" font-size="10" font-weight="bold" fill="#000" text-anchor="start" >IFN-γR<tspan font-size="6.4" dy="-3.5">-/-</tspan></text>
<line x1="292.80" y1="329.60" x2="332.20" y2="329.60" stroke="#000" stroke-width="1.0" />
<text x="55.25" y="344.90" font-size="9.9" font-weight="bold" fill="#000" text-anchor="middle" >PD-1</text>
<text x="112.25" y="344.90" font-size="9.9" font-weight="bold" fill="#000" text-anchor="middle" >KLRG-1</text>
<text x="169.25" y="344.90" font-size="9.9" font-weight="bold" fill="#000" text-anchor="middle" >CD127</text>
<text x="226.25" y="344.90" font-size="9.9" font-weight="bold" fill="#000" text-anchor="middle" >CD62L</text>
<text x="283.25" y="344.90" font-size="9.9" font-weight="bold" fill="#000" text-anchor="middle" >CD27</text>
<text x="340.25" y="344.90" font-size="9.9" font-weight="bold" fill="#000" text-anchor="middle" >CD43</text>
<text x="397.25" y="344.90" font-size="9.9" font-weight="bold" fill="#000" text-anchor="middle" >Gzm B</text>
<text x="454.25" y="344.90" font-size="9.9" font-weight="bold" fill="#000" text-anchor="middle" >Bcl-2</text>
<text x="25.60" y="355.50" font-size="10.2" font-weight="bold" fill="#000" text-anchor="end" >8</text>
<text x="25.60" y="422.10" font-size="10.2" font-weight="bold" fill="#000" text-anchor="end" >43</text>
<text x="25.60" y="488.40" font-size="10.2" font-weight="bold" fill="#000" text-anchor="end" >200</text>
<line x1="5.80" y1="353.50" x2="5.80" y2="414.90" stroke="#000" stroke-width="1.2" />
<line x1="5.80" y1="469.50" x2="5.80" y2="531.00" stroke="#000" stroke-width="1.2" />
<text transform="translate(8.6,442.4) rotate(-90)" font-size="10" font-weight="bold" text-anchor="middle">Days p.i.</text>
<path d="M29.5,400.4V348.1H81.0V400.4" fill="none" stroke="#a8a8a8" stroke-width="1"/>
<path d="M28.1,348.1h1.4M28.1,353.3h1.4M28.1,358.6h1.4M28.1,363.8h1.4M28.1,369.0h1.4M28.1,374.2h1.4M28.1,379.5h1.4M28.1,384.7h1.4M28.1,389.9h1.4M28.1,395.2h1.4M34.6,400.4v1.3M39.8,400.4v1.3M45.0,400.4v1.3M50.1,400.4v1.3M55.2,400.4v1.3M60.4,400.4v1.3M65.5,400.4v1.3M70.7,400.4v1.3M75.8,400.4v1.3" stroke="#555" stroke-width="0.6"/>
<path d="M29.5,348.1V400.4H81.0" fill="none" stroke="#606060" stroke-width="0.9"/>
<polygon points="30.1,399.8 30.1,399.8 30.6,399.8 31.0,399.8 31.5,399.7 31.9,399.7 32.4,399.7 32.9,399.7 33.3,399.7 33.8,399.6 34.3,399.6 34.7,399.6 35.2,399.6 35.6,399.6 36.1,399.5 36.6,399.5 37.0,399.4 37.5,399.3 37.9,399.2 38.4,399.1 38.9,399.0 39.3,398.9 39.8,398.8 40.3,398.6 40.7,398.2 41.2,397.7 41.6,397.3 42.1,396.8 42.6,396.2 43.0,395.1 43.5,393.8 43.9,392.4 44.4,390.9 44.9,389.5 45.3,387.5 45.8,384.7 46.3,381.8 46.7,378.9 47.2,376.0 47.6,373.0 48.1,370.1 48.6,367.2 49.0,364.3 49.5,361.5 49.9,358.7 50.4,356.1 50.9,353.6 51.3,352.7 51.8,354.5 52.3,357.2 52.7,359.9 53.2,362.7 53.6,365.5 54.1,368.5 54.6,371.4 55.0,374.3 55.5,377.2 55.9,380.2 56.4,383.1 56.9,386.0 57.3,388.6 57.8,390.6 58.2,392.3 58.7,394.1 59.2,395.7 59.6,396.6 60.1,397.3 60.6,397.9 61.0,398.4 61.5,398.8 61.9,398.9 62.4,399.1 62.9,399.2 63.3,399.3 63.8,399.4 64.2,399.5 64.7,399.6 65.2,399.7 65.6,399.8 66.1,399.8 66.6,399.8 67.0,399.8 67.5,399.8 67.9,399.8 68.4,399.8 68.9,399.8 69.3,399.8 69.8,399.8 70.2,399.8 70.7,399.8 71.2,399.8 71.6,399.8 72.1,399.8 72.6,399.8 73.0,399.8 73.5,399.8 73.9,399.8 74.4,399.8 74.9,399.8 75.3,399.8 75.8,399.8 76.2,399.8 76.7,399.8 77.2,399.8 77.6,399.8 78.1,399.8 78.6,399.8 79.0,399.8 79.5,399.8 79.9,399.8 80.4,399.8 80.4,399.8" fill="#d2d2d2" stroke="#8a8a8a" stroke-width="0.9" stroke-linejoin="round"/>
<polyline points="30.1,399.8 30.6,399.8 31.0,399.8 31.5,399.7 31.9,399.7 32.4,399.7 32.9,399.7 33.3,399.7 33.8,399.6 34.3,399.6 34.7,399.6 35.2,399.6 35.6,399.6 36.1,399.5 36.6,399.5 37.0,399.4 37.5,399.3 37.9,399.2 38.4,399.1 38.9,399.0 39.3,398.9 39.8,398.8 40.3,398.6 40.7,398.2 41.2,397.7 41.6,397.3 42.1,396.8 42.6,396.2 43.0,395.1 43.5,393.8 43.9,392.4 44.4,390.9 44.9,389.5 45.3,387.5 45.8,384.7 46.3,381.8 46.7,378.9 47.2,376.0 47.6,373.0 48.1,370.1 48.6,367.2 49.0,364.3 49.5,361.5 49.9,358.7 50.4,356.1 50.9,353.6 51.3,352.7 51.8,354.5 52.3,357.2 52.7,359.9 53.2,362.7 53.6,365.5 54.1,368.5 54.6,371.4 55.0,374.3 55.5,377.2 55.9,380.2 56.4,383.1 56.9,386.0 57.3,388.6 57.8,390.6 58.2,392.3 58.7,394.1 59.2,395.7 59.6,396.6 60.1,397.3 60.6,397.9 61.0,398.4 61.5,398.8 61.9,398.9 62.4,399.1 62.9,399.2 63.3,399.3 63.8,399.4 64.2,399.5 64.7,399.6 65.2,399.7 65.6,399.8 66.1,399.8 66.6,399.8 67.0,399.8 67.5,399.8 67.9,399.8 68.4,399.8 68.9,399.8 69.3,399.8 69.8,399.8 70.2,399.8 70.7,399.8 71.2,399.8 71.6,399.8 72.1,399.8 72.6,399.8 73.0,399.8 73.5,399.8 73.9,399.8 74.4,399.8 74.9,399.8 75.3,399.8 75.8,399.8 76.2,399.8 76.7,399.8 77.2,399.8 77.6,399.8 78.1,399.8 78.6,399.8 79.0,399.8 79.5,399.8 79.9,399.8 80.4,399.8" fill="none" stroke="#000" stroke-width="1.3" stroke-linejoin="round"/>
<path d="M86.5,400.4V348.1H138.0V400.4" fill="none" stroke="#a8a8a8" stroke-width="1"/>
<path d="M85.1,348.1h1.4M85.1,353.3h1.4M85.1,358.6h1.4M85.1,363.8h1.4M85.1,369.0h1.4M85.1,374.2h1.4M85.1,379.5h1.4M85.1,384.7h1.4M85.1,389.9h1.4M85.1,395.2h1.4M91.7,400.4v1.3M96.8,400.4v1.3M102.0,400.4v1.3M107.1,400.4v1.3M112.2,400.4v1.3M117.4,400.4v1.3M122.5,400.4v1.3M127.7,400.4v1.3M132.8,400.4v1.3" stroke="#555" stroke-width="0.6"/>
<path d="M86.5,348.1V400.4H138.0" fill="none" stroke="#606060" stroke-width="0.9"/>
<polygon points="87.1,399.8 87.1,397.7 87.6,398.2 88.0,396.7 88.5,396.4 88.9,395.7 89.4,394.9 89.9,395.4 90.3,393.5 90.8,393.4 91.3,388.7 91.7,390.7 92.2,390.4 92.6,389.4 93.1,389.1 93.6,388.8 94.0,386.9 94.5,384.5 94.9,384.8 95.4,381.6 95.9,382.9 96.3,381.3 96.8,376.9 97.3,377.6 97.7,378.4 98.2,376.4 98.6,373.6 99.1,369.4 99.6,372.7 100.0,371.6 100.5,368.2 100.9,371.3 101.4,369.4 101.9,366.9 102.3,368.2 102.8,370.2 103.3,369.9 103.7,378.0 104.2,371.1 104.6,376.1 105.1,378.5 105.6,375.6 106.0,375.8 106.5,379.2 106.9,381.5 107.4,380.3 107.9,381.5 108.3,379.6 108.8,382.0 109.3,383.8 109.7,381.7 110.2,383.6 110.6,384.5 111.1,380.8 111.6,380.1 112.0,381.1 112.5,381.3 112.9,378.0 113.4,382.3 113.9,374.5 114.3,373.6 114.8,376.6 115.2,371.9 115.7,372.7 116.2,367.8 116.6,371.7 117.1,367.4 117.6,362.1 118.0,359.2 118.5,363.9 118.9,358.5 119.4,354.9 119.9,355.5 120.3,351.1 120.8,357.3 121.2,354.6 121.7,357.9 122.2,353.6 122.6,358.2 123.1,361.1 123.6,366.2 124.0,361.6 124.5,365.8 124.9,368.2 125.4,370.0 125.9,374.6 126.3,379.8 126.8,383.2 127.2,386.1 127.7,385.9 128.2,392.3 128.6,393.4 129.1,394.8 129.6,396.0 130.0,397.4 130.5,398.8 130.9,399.1 131.4,398.9 131.9,398.9 132.3,399.0 132.8,399.1 133.2,399.2 133.7,399.2 134.2,399.3 134.6,399.4 135.1,399.5 135.6,399.5 136.0,399.6 136.5,399.7 136.9,399.7 137.4,399.8 137.4,399.8" fill="#d2d2d2" stroke="#8a8a8a" stroke-width="0.9" stroke-linejoin="round"/>
<polyline points="87.1,397.2 87.6,396.3 88.0,396.8 88.5,395.1 88.9,394.4 89.4,392.6 89.9,394.2 90.3,390.0 90.8,389.0 91.3,390.9 91.7,389.5 92.2,388.1 92.6,385.7 93.1,383.4 93.6,379.4 94.0,382.6 94.5,379.5 94.9,379.6 95.4,375.1 95.9,376.0 96.3,373.2 96.8,376.3 97.3,372.5 97.7,371.9 98.2,365.2 98.6,365.0 99.1,364.8 99.6,362.7 100.0,358.1 100.5,357.8 100.9,356.1 101.4,353.1 101.9,351.2 102.3,359.5 102.8,362.8 103.3,366.4 103.7,368.5 104.2,366.3 104.6,367.2 105.1,370.4 105.6,371.4 106.0,373.3 106.5,374.7 106.9,379.5 107.4,378.6 107.9,378.8 108.3,381.9 108.8,382.6 109.3,384.2 109.7,382.9 110.2,379.8 110.6,381.6 111.1,380.4 111.6,377.7 112.0,377.3 112.5,374.3 112.9,381.1 113.4,374.0 113.9,375.8 114.3,373.5 114.8,371.0 115.2,369.5 115.7,368.7 116.2,369.5 116.6,365.6 117.1,368.6 117.6,367.3 118.0,364.6 118.5,367.2 118.9,362.3 119.4,365.5 119.9,363.9 120.3,369.2 120.8,370.8 121.2,370.4 121.7,370.0 122.2,373.5 122.6,372.3 123.1,374.0 123.6,371.8 124.0,378.0 124.5,376.0 124.9,381.1 125.4,383.3 125.9,384.3 126.3,386.8 126.8,386.5 127.2,387.8 127.7,391.3 128.2,393.3 128.6,395.2 129.1,397.2 129.6,397.9 130.0,398.5 130.5,399.1 130.9,399.3 131.4,399.7 131.9,399.8 132.3,399.8 132.8,399.8 133.2,399.8 133.7,399.8 134.2,399.8 134.6,399.8 135.1,399.8 135.6,399.8 136.0,399.8 136.5,399.8 136.9,399.8 137.4,399.8" fill="none" stroke="#000" stroke-width="1.3" stroke-linejoin="round"/>
<text x="136.70" y="356.80" font-size="7.7" font-weight="bold" fill="#000" text-anchor="end" >126</text>
<text x="136.70" y="366.30" font-size="7.6" font-weight="bold" fill="#8e8e8e" text-anchor="end" >199</text>
<path d="M143.5,400.4V348.1H195.0V400.4" fill="none" stroke="#a8a8a8" stroke-width="1"/>
<path d="M142.1,348.1h1.4M142.1,353.3h1.4M142.1,358.6h1.4M142.1,363.8h1.4M142.1,369.0h1.4M142.1,374.2h1.4M142.1,379.5h1.4M142.1,384.7h1.4M142.1,389.9h1.4M142.1,395.2h1.4M148.7,400.4v1.3M153.8,400.4v1.3M158.9,400.4v1.3M164.1,400.4v1.3M169.2,400.4v1.3M174.4,400.4v1.3M179.6,400.4v1.3M184.7,400.4v1.3M189.8,400.4v1.3" stroke="#555" stroke-width="0.6"/>
<path d="M143.5,348.1V400.4H195.0" fill="none" stroke="#606060" stroke-width="0.9"/>
<polygon points="144.1,399.8 144.1,395.0 144.6,392.9 145.0,391.6 145.5,388.3 145.9,386.2 146.4,387.0 146.9,383.0 147.3,381.0 147.8,379.6 148.3,375.6 148.7,374.3 149.2,373.4 149.6,369.8 150.1,367.7 150.6,365.5 151.0,364.9 151.5,361.1 151.9,359.2 152.4,359.7 152.9,358.3 153.3,356.8 153.8,356.4 154.3,353.2 154.7,353.9 155.2,354.9 155.6,355.8 156.1,356.7 156.6,355.9 157.0,360.1 157.5,361.4 157.9,362.6 158.4,364.6 158.9,363.4 159.3,367.5 159.8,367.3 160.3,369.1 160.7,369.8 161.2,372.8 161.6,370.7 162.1,373.5 162.6,374.1 163.0,376.0 163.5,376.7 163.9,376.5 164.4,377.5 164.9,379.2 165.3,380.2 165.8,382.2 166.3,384.4 166.7,385.2 167.2,386.8 167.6,388.3 168.1,388.6 168.6,389.1 169.0,390.5 169.5,391.6 169.9,391.9 170.4,392.3 170.9,393.8 171.3,394.4 171.8,394.9 172.2,395.1 172.7,396.4 173.2,396.4 173.6,396.8 174.1,397.6 174.6,397.8 175.0,398.2 175.5,398.6 175.9,398.9 176.4,399.2 176.9,399.5 177.3,399.7 177.8,399.8 178.2,399.8 178.7,399.8 179.2,399.8 179.6,399.8 180.1,399.8 180.6,399.8 181.0,399.8 181.5,399.8 181.9,399.8 182.4,399.8 182.9,399.8 183.3,399.8 183.8,399.8 184.2,399.8 184.7,399.8 185.2,399.8 185.6,399.8 186.1,399.8 186.6,399.8 187.0,399.8 187.5,399.8 187.9,399.8 188.4,399.8 188.9,399.8 189.3,399.8 189.8,399.8 190.2,399.8 190.7,399.8 191.2,399.8 191.6,399.8 192.1,399.8 192.6,399.8 193.0,399.8 193.5,399.8 193.9,399.8 194.4,399.8 194.4,399.8" fill="#d2d2d2" stroke="#8a8a8a" stroke-width="0.9" stroke-linejoin="round"/>
<polyline points="144.1,395.0 144.6,393.9 145.0,391.2 145.5,389.3 145.9,388.0 146.4,384.4 146.9,383.9 147.3,384.0 147.8,377.7 148.3,376.8 148.7,372.3 149.2,372.2 149.6,370.8 150.1,366.0 150.6,366.7 151.0,363.5 151.5,360.3 151.9,359.8 152.4,358.6 152.9,357.5 153.3,355.9 153.8,356.7 154.3,354.4 154.7,353.6 155.2,351.5 155.6,355.7 156.1,358.2 156.6,358.5 157.0,361.6 157.5,362.9 157.9,365.0 158.4,365.8 158.9,369.5 159.3,370.8 159.8,375.2 160.3,374.7 160.7,372.2 161.2,374.1 161.6,373.7 162.1,373.9 162.6,371.7 163.0,371.6 163.5,372.5 163.9,370.0 164.4,369.7 164.9,368.6 165.3,369.4 165.8,366.7 166.3,368.6 166.7,370.0 167.2,371.2 167.6,371.8 168.1,371.4 168.6,373.4 169.0,372.9 169.5,374.2 169.9,374.2 170.4,375.5 170.9,377.1 171.3,379.8 171.8,378.3 172.2,378.6 172.7,380.3 173.2,381.1 173.6,383.3 174.1,384.5 174.6,386.8 175.0,387.4 175.5,390.7 175.9,393.4 176.4,396.0 176.9,397.5 177.3,398.2 177.8,398.7 178.2,399.3 178.7,399.6 179.2,399.8 179.6,399.8 180.1,399.8 180.6,399.8 181.0,399.8 181.5,399.8 181.9,399.8 182.4,399.8 182.9,399.8 183.3,399.8 183.8,399.8 184.2,399.8 184.7,399.8 185.2,399.8 185.6,399.8 186.1,399.8 186.6,399.8 187.0,399.8 187.5,399.8 187.9,399.8 188.4,399.8 188.9,399.8 189.3,399.8 189.8,399.8 190.2,399.8 190.7,399.8 191.2,399.8 191.6,399.8 192.1,399.8 192.6,399.8 193.0,399.8 193.5,399.8 193.9,399.8 194.4,399.8" fill="none" stroke="#000" stroke-width="1.3" stroke-linejoin="round"/>
<text x="193.70" y="356.80" font-size="7.7" font-weight="bold" fill="#000" text-anchor="end" >49</text>
<text x="193.70" y="366.30" font-size="7.6" font-weight="bold" fill="#8e8e8e" text-anchor="end" >24</text>
<path d="M200.5,400.4V348.1H252.0V400.4" fill="none" stroke="#a8a8a8" stroke-width="1"/>
<path d="M199.1,348.1h1.4M199.1,353.3h1.4M199.1,358.6h1.4M199.1,363.8h1.4M199.1,369.0h1.4M199.1,374.2h1.4M199.1,379.5h1.4M199.1,384.7h1.4M199.1,389.9h1.4M199.1,395.2h1.4M205.7,400.4v1.3M210.8,400.4v1.3M215.9,400.4v1.3M221.1,400.4v1.3M226.2,400.4v1.3M231.4,400.4v1.3M236.6,400.4v1.3M241.7,400.4v1.3M246.8,400.4v1.3" stroke="#555" stroke-width="0.6"/>
<path d="M200.5,348.1V400.4H252.0" fill="none" stroke="#606060" stroke-width="0.9"/>
<polygon points="201.1,399.8 201.1,396.6 201.6,394.9 202.0,393.5 202.5,391.7 202.9,389.4 203.4,388.0 203.9,386.7 204.3,385.3 204.8,383.7 205.3,382.7 205.7,381.4 206.2,379.7 206.6,379.3 207.1,378.0 207.6,376.7 208.0,374.1 208.5,372.2 208.9,370.1 209.4,368.9 209.9,367.0 210.3,364.5 210.8,363.3 211.3,360.9 211.7,359.6 212.2,359.1 212.6,357.5 213.1,356.3 213.6,354.1 214.0,352.8 214.5,354.9 214.9,356.6 215.4,359.7 215.9,360.4 216.3,362.5 216.8,365.0 217.3,365.9 217.7,369.0 218.2,370.2 218.6,371.9 219.1,374.4 219.6,375.2 220.0,376.8 220.5,379.6 220.9,381.2 221.4,381.7 221.9,383.6 222.3,385.7 222.8,386.6 223.3,387.5 223.7,388.4 224.2,389.0 224.6,390.0 225.1,390.5 225.6,391.5 226.0,392.5 226.5,393.1 226.9,393.5 227.4,394.0 227.9,394.7 228.3,394.7 228.8,395.2 229.2,395.4 229.7,396.0 230.2,396.3 230.6,396.7 231.1,396.9 231.6,397.4 232.0,397.6 232.5,397.8 232.9,398.1 233.4,398.3 233.9,398.6 234.3,398.8 234.8,399.0 235.2,399.3 235.7,399.5 236.2,399.7 236.6,399.8 237.1,399.8 237.6,399.8 238.0,399.8 238.5,399.8 238.9,399.8 239.4,399.8 239.9,399.8 240.3,399.8 240.8,399.8 241.2,399.8 241.7,399.8 242.2,399.8 242.6,399.8 243.1,399.8 243.6,399.8 244.0,399.8 244.5,399.8 244.9,399.8 245.4,399.8 245.9,399.8 246.3,399.8 246.8,399.8 247.2,399.8 247.7,399.8 248.2,399.8 248.6,399.8 249.1,399.8 249.6,399.8 250.0,399.8 250.5,399.8 250.9,399.8 251.4,399.8 251.4,399.8" fill="#d2d2d2" stroke="#8a8a8a" stroke-width="0.9" stroke-linejoin="round"/>
<polyline points="201.1,396.5 201.6,395.0 202.0,393.3 202.5,391.8 202.9,389.2 203.4,387.7 203.9,386.4 204.3,384.6 204.8,384.3 205.3,382.7 205.7,380.5 206.2,379.7 206.6,380.1 207.1,379.4 207.6,376.9 208.0,374.1 208.5,373.0 208.9,370.9 209.4,368.5 209.9,367.4 210.3,364.9 210.8,362.7 211.3,361.1 211.7,359.8 212.2,359.0 212.6,357.2 213.1,356.4 213.6,354.3 214.0,352.8 214.5,355.2 214.9,357.7 215.4,358.8 215.9,360.3 216.3,361.9 216.8,363.9 217.3,366.7 217.7,368.6 218.2,369.4 218.6,372.5 219.1,373.2 219.6,375.7 220.0,376.8 220.5,378.3 220.9,379.7 221.4,381.0 221.9,383.4 222.3,384.1 222.8,385.5 223.3,386.4 223.7,386.9 224.2,388.3 224.6,389.3 225.1,390.2 225.6,390.9 226.0,391.5 226.5,392.5 226.9,392.5 227.4,393.1 227.9,393.7 228.3,394.3 228.8,394.4 229.2,394.8 229.7,395.5 230.2,395.6 230.6,396.0 231.1,396.5 231.6,396.8 232.0,396.9 232.5,397.3 232.9,397.6 233.4,397.8 233.9,398.1 234.3,398.3 234.8,398.6 235.2,398.7 235.7,399.0 236.2,399.2 236.6,399.5 237.1,399.7 237.6,399.8 238.0,399.8 238.5,399.8 238.9,399.8 239.4,399.8 239.9,399.8 240.3,399.8 240.8,399.8 241.2,399.8 241.7,399.8 242.2,399.8 242.6,399.8 243.1,399.8 243.6,399.8 244.0,399.8 244.5,399.8 244.9,399.8 245.4,399.8 245.9,399.8 246.3,399.8 246.8,399.8 247.2,399.8 247.7,399.8 248.2,399.8 248.6,399.8 249.1,399.8 249.6,399.8 250.0,399.8 250.5,399.8 250.9,399.8 251.4,399.8" fill="none" stroke="#000" stroke-width="1.3" stroke-linejoin="round"/>
<path d="M257.5,400.4V348.1H309.0V400.4" fill="none" stroke="#a8a8a8" stroke-width="1"/>
<path d="M256.1,348.1h1.4M256.1,353.3h1.4M256.1,358.6h1.4M256.1,363.8h1.4M256.1,369.0h1.4M256.1,374.2h1.4M256.1,379.5h1.4M256.1,384.7h1.4M256.1,389.9h1.4M256.1,395.2h1.4M262.6,400.4v1.3M267.8,400.4v1.3M272.9,400.4v1.3M278.1,400.4v1.3M283.2,400.4v1.3M288.4,400.4v1.3M293.6,400.4v1.3M298.7,400.4v1.3M303.9,400.4v1.3" stroke="#555" stroke-width="0.6"/>
<path d="M257.5,348.1V400.4H309.0" fill="none" stroke="#606060" stroke-width="0.9"/>
<polygon points="258.1,399.8 258.1,399.8 258.6,399.8 259.0,399.8 259.5,399.8 259.9,399.8 260.4,399.8 260.9,399.8 261.3,399.8 261.8,399.8 262.3,399.8 262.7,399.8 263.2,399.8 263.6,399.7 264.1,399.6 264.6,399.4 265.0,399.3 265.5,399.0 265.9,398.7 266.4,398.5 266.9,398.2 267.3,397.8 267.8,397.5 268.3,397.3 268.7,397.0 269.2,396.8 269.6,396.4 270.1,396.0 270.6,395.8 271.0,395.5 271.5,395.2 271.9,394.6 272.4,394.1 272.9,393.7 273.3,393.4 273.8,393.0 274.3,391.2 274.7,390.4 275.2,389.1 275.6,387.5 276.1,387.4 276.6,385.3 277.0,383.8 277.5,381.2 277.9,377.6 278.4,374.7 278.9,372.6 279.3,368.6 279.8,365.3 280.3,362.7 280.7,361.0 281.2,358.8 281.6,355.2 282.1,353.6 282.6,354.7 283.0,358.4 283.5,359.7 283.9,365.1 284.4,367.0 284.9,368.9 285.3,373.5 285.8,376.9 286.2,381.1 286.7,383.4 287.2,388.0 287.6,390.8 288.1,393.5 288.6,396.0 289.0,397.8 289.5,399.1 289.9,399.5 290.4,399.6 290.9,399.7 291.3,399.8 291.8,399.8 292.2,399.8 292.7,399.8 293.2,399.8 293.6,399.8 294.1,399.8 294.6,399.8 295.0,399.8 295.5,399.8 295.9,399.8 296.4,399.8 296.9,399.8 297.3,399.8 297.8,399.8 298.2,399.8 298.7,399.8 299.2,399.8 299.6,399.8 300.1,399.8 300.6,399.8 301.0,399.8 301.5,399.8 301.9,399.8 302.4,399.8 302.9,399.8 303.3,399.8 303.8,399.8 304.2,399.8 304.7,399.8 305.2,399.8 305.6,399.8 306.1,399.8 306.6,399.8 307.0,399.8 307.5,399.8 307.9,399.8 308.4,399.8 308.4,399.8" fill="#d2d2d2" stroke="#8a8a8a" stroke-width="0.9" stroke-linejoin="round"/>
<polyline points="258.1,399.8 258.6,399.8 259.0,399.8 259.5,399.8 259.9,399.8 260.4,399.8 260.9,399.8 261.3,399.8 261.8,399.8 262.3,399.8 262.7,399.8 263.2,399.8 263.6,399.7 264.1,399.6 264.6,399.4 265.0,399.3 265.5,399.1 265.9,398.8 266.4,398.5 266.9,398.2 267.3,397.9 267.8,397.7 268.3,397.3 268.7,397.0 269.2,396.7 269.6,396.6 270.1,396.5 270.6,395.9 271.0,395.7 271.5,395.1 271.9,394.6 272.4,394.3 272.9,394.0 273.3,393.5 273.8,392.6 274.3,392.0 274.7,390.3 275.2,389.1 275.6,387.9 276.1,386.2 276.6,385.9 277.0,383.6 277.5,382.2 277.9,379.1 278.4,376.0 278.9,372.0 279.3,369.5 279.8,366.1 280.3,364.1 280.7,360.6 281.2,357.8 281.6,356.3 282.1,353.9 282.6,355.3 283.0,357.2 283.5,361.3 283.9,365.2 284.4,366.7 284.9,370.7 285.3,374.5 285.8,377.8 286.2,381.7 286.7,384.4 287.2,388.2 287.6,390.7 288.1,393.6 288.6,396.1 289.0,398.0 289.5,399.1 289.9,399.5 290.4,399.6 290.9,399.7 291.3,399.8 291.8,399.8 292.2,399.8 292.7,399.8 293.2,399.8 293.6,399.8 294.1,399.8 294.6,399.8 295.0,399.8 295.5,399.8 295.9,399.8 296.4,399.8 296.9,399.8 297.3,399.8 297.8,399.8 298.2,399.8 298.7,399.8 299.2,399.8 299.6,399.8 300.1,399.8 300.6,399.8 301.0,399.8 301.5,399.8 301.9,399.8 302.4,399.8 302.9,399.8 303.3,399.8 303.8,399.8 304.2,399.8 304.7,399.8 305.2,399.8 305.6,399.8 306.1,399.8 306.6,399.8 307.0,399.8 307.5,399.8 307.9,399.8 308.4,399.8" fill="none" stroke="#000" stroke-width="1.3" stroke-linejoin="round"/>
<text x="307.70" y="356.80" font-size="7.7" font-weight="bold" fill="#000" text-anchor="end" >75</text>
<text x="307.70" y="366.30" font-size="7.6" font-weight="bold" fill="#8e8e8e" text-anchor="end" >76</text>
<path d="M314.5,400.4V348.1H366.0V400.4" fill="none" stroke="#a8a8a8" stroke-width="1"/>
<path d="M313.1,348.1h1.4M313.1,353.3h1.4M313.1,358.6h1.4M313.1,363.8h1.4M313.1,369.0h1.4M313.1,374.2h1.4M313.1,379.5h1.4M313.1,384.7h1.4M313.1,389.9h1.4M313.1,395.2h1.4M319.6,400.4v1.3M324.8,400.4v1.3M329.9,400.4v1.3M335.1,400.4v1.3M340.2,400.4v1.3M345.4,400.4v1.3M350.6,400.4v1.3M355.7,400.4v1.3M360.9,400.4v1.3" stroke="#555" stroke-width="0.6"/>
<path d="M314.5,348.1V400.4H366.0" fill="none" stroke="#606060" stroke-width="0.9"/>
<polygon points="315.1,399.8 315.1,399.8 315.6,399.8 316.0,399.8 316.5,399.8 316.9,399.8 317.4,399.8 317.9,399.8 318.3,399.8 318.8,399.8 319.3,399.8 319.7,399.8 320.2,399.8 320.6,399.8 321.1,399.8 321.6,399.8 322.0,399.8 322.5,399.8 322.9,399.8 323.4,399.8 323.9,399.8 324.3,399.8 324.8,399.8 325.3,399.8 325.7,399.8 326.2,399.8 326.6,399.8 327.1,399.8 327.6,399.8 328.0,399.8 328.5,399.8 328.9,399.8 329.4,399.8 329.9,399.8 330.3,399.8 330.8,399.8 331.3,399.8 331.7,399.8 332.2,399.8 332.6,399.8 333.1,399.8 333.6,399.8 334.0,399.8 334.5,399.8 334.9,399.8 335.4,399.8 335.9,399.8 336.3,399.8 336.8,399.8 337.3,399.8 337.7,399.7 338.2,399.5 338.6,399.3 339.1,399.0 339.6,398.7 340.0,398.4 340.5,398.2 340.9,398.0 341.4,397.8 341.9,397.7 342.3,397.7 342.8,397.3 343.2,397.3 343.7,397.1 344.2,397.1 344.6,396.9 345.1,396.8 345.6,396.6 346.0,396.4 346.5,396.3 346.9,396.3 347.4,396.1 347.9,395.9 348.3,395.7 348.8,395.7 349.2,395.6 349.7,395.4 350.2,395.4 350.6,395.3 351.1,394.7 351.6,394.9 352.0,394.7 352.5,394.7 352.9,394.2 353.4,394.0 353.9,394.1 354.3,393.4 354.8,393.1 355.2,391.9 355.7,391.5 356.2,391.3 356.6,390.2 357.1,389.7 357.6,388.8 358.0,387.6 358.5,386.7 358.9,385.4 359.4,383.6 359.9,382.6 360.3,381.8 360.8,378.8 361.2,377.9 361.7,375.7 362.2,373.3 362.6,370.0 363.1,366.7 363.6,363.3 364.0,359.2 364.5,357.3 364.9,355.1 365.4,354.3 365.4,399.8" fill="#d2d2d2" stroke="#8a8a8a" stroke-width="0.9" stroke-linejoin="round"/>
<polyline points="315.1,399.8 315.6,399.8 316.0,399.8 316.5,399.8 316.9,399.8 317.4,399.8 317.9,399.8 318.3,399.8 318.8,399.8 319.3,399.8 319.7,399.8 320.2,399.8 320.6,399.8 321.1,399.8 321.6,399.8 322.0,399.8 322.5,399.8 322.9,399.8 323.4,399.8 323.9,399.8 324.3,399.8 324.8,399.8 325.3,399.8 325.7,399.8 326.2,399.8 326.6,399.8 327.1,399.8 327.6,399.8 328.0,399.8 328.5,399.8 328.9,399.8 329.4,399.8 329.9,399.8 330.3,399.8 330.8,399.8 331.3,399.8 331.7,399.8 332.2,399.8 332.6,399.8 333.1,399.8 333.6,399.8 334.0,399.8 334.5,399.8 334.9,399.8 335.4,399.8 335.9,399.8 336.3,399.8 336.8,399.8 337.3,399.7 337.7,399.6 338.2,399.6 338.6,399.5 339.1,399.4 339.6,399.3 340.0,399.2 340.5,399.2 340.9,399.1 341.4,399.0 341.9,399.0 342.3,398.9 342.8,398.7 343.2,398.6 343.7,398.6 344.2,398.6 344.6,398.4 345.1,398.3 345.6,398.3 346.0,398.1 346.5,398.0 346.9,397.9 347.4,397.8 347.9,397.7 348.3,397.6 348.8,397.6 349.2,397.5 349.7,397.4 350.2,397.2 350.6,397.2 351.1,397.0 351.6,396.5 352.0,396.3 352.5,396.0 352.9,395.8 353.4,395.9 353.9,395.5 354.3,395.3 354.8,395.0 355.2,395.0 355.7,394.2 356.2,393.6 356.6,393.2 357.1,392.4 357.6,391.6 358.0,391.3 358.5,390.5 358.9,390.0 359.4,389.6 359.9,389.0 360.3,388.7 360.8,387.5 361.2,387.4 361.7,386.8 362.2,385.0 362.6,382.8 363.1,377.6 363.6,371.9 364.0,365.3 364.5,356.5 364.9,351.1 365.4,350.0" fill="none" stroke="#000" stroke-width="1.3" stroke-linejoin="round"/>
<text x="316.30" y="356.80" font-size="7.7" font-weight="bold" fill="#000" text-anchor="start" >5630</text>
<text x="316.30" y="366.30" font-size="7.6" font-weight="bold" fill="#8e8e8e" text-anchor="start" >4527</text>
<path d="M371.5,400.4V348.1H423.0V400.4" fill="none" stroke="#a8a8a8" stroke-width="1"/>
<path d="M370.1,348.1h1.4M370.1,353.3h1.4M370.1,358.6h1.4M370.1,363.8h1.4M370.1,369.0h1.4M370.1,374.2h1.4M370.1,379.5h1.4M370.1,384.7h1.4M370.1,389.9h1.4M370.1,395.2h1.4M376.6,400.4v1.3M381.8,400.4v1.3M386.9,400.4v1.3M392.1,400.4v1.3M397.2,400.4v1.3M402.4,400.4v1.3M407.6,400.4v1.3M412.7,400.4v1.3M417.9,400.4v1.3" stroke="#555" stroke-width="0.6"/>
<path d="M371.5,348.1V400.4H423.0" fill="none" stroke="#606060" stroke-width="0.9"/>
<polygon points="372.1,399.8 372.1,399.6 372.6,399.5 373.0,399.4 373.5,399.3 373.9,399.3 374.4,399.1 374.9,398.9 375.3,398.9 375.8,398.6 376.3,398.5 376.7,398.3 377.2,398.4 377.6,398.0 378.1,397.7 378.6,398.0 379.0,397.5 379.5,397.4 379.9,397.3 380.4,397.3 380.9,397.2 381.3,396.6 381.8,395.5 382.3,394.7 382.7,393.9 383.2,393.4 383.6,392.8 384.1,393.0 384.6,392.9 385.0,391.3 385.5,390.4 385.9,390.0 386.4,390.7 386.9,389.0 387.3,389.3 387.8,386.7 388.3,387.4 388.7,385.5 389.2,384.0 389.6,383.1 390.1,380.1 390.6,382.7 391.0,383.1 391.5,376.8 391.9,374.3 392.4,372.5 392.9,372.4 393.3,370.2 393.8,369.0 394.3,369.4 394.7,366.5 395.2,363.2 395.6,363.1 396.1,357.6 396.6,361.2 397.0,357.9 397.5,354.4 397.9,356.3 398.4,356.4 398.9,356.1 399.3,354.5 399.8,350.7 400.2,352.8 400.7,353.3 401.2,355.5 401.6,354.1 402.1,356.0 402.6,358.9 403.0,359.8 403.5,360.6 403.9,360.9 404.4,364.8 404.9,366.2 405.3,366.3 405.8,373.1 406.2,376.2 406.7,375.2 407.2,378.4 407.6,381.4 408.1,383.0 408.6,385.9 409.0,386.9 409.5,389.9 409.9,391.1 410.4,394.4 410.9,395.8 411.3,396.4 411.8,397.2 412.2,397.6 412.7,398.4 413.2,399.0 413.6,399.3 414.1,399.5 414.6,399.6 415.0,399.7 415.5,399.8 415.9,399.8 416.4,399.8 416.9,399.8 417.3,399.8 417.8,399.8 418.2,399.8 418.7,399.8 419.2,399.8 419.6,399.8 420.1,399.8 420.6,399.8 421.0,399.8 421.5,399.8 421.9,399.8 422.4,399.8 422.4,399.8" fill="#d2d2d2" stroke="#8a8a8a" stroke-width="0.9" stroke-linejoin="round"/>
<polyline points="372.1,399.8 372.6,399.7 373.0,399.6 373.5,399.5 373.9,399.4 374.4,399.4 374.9,399.2 375.3,399.0 375.8,398.9 376.3,398.8 376.7,398.6 377.2,398.6 377.6,398.5 378.1,398.3 378.6,398.2 379.0,397.8 379.5,398.0 379.9,397.5 380.4,397.9 380.9,397.6 381.3,397.3 381.8,396.7 382.3,396.6 382.7,396.6 383.2,395.0 383.6,394.6 384.1,394.6 384.6,394.0 385.0,393.2 385.5,392.1 385.9,391.1 386.4,392.1 386.9,388.3 387.3,389.5 387.8,389.0 388.3,387.1 388.7,386.9 389.2,383.4 389.6,384.0 390.1,385.0 390.6,384.1 391.0,383.1 391.5,381.7 391.9,378.9 392.4,379.5 392.9,374.3 393.3,375.1 393.8,373.4 394.3,369.9 394.7,372.6 395.2,369.2 395.6,365.0 396.1,364.2 396.6,362.5 397.0,360.2 397.5,360.1 397.9,357.8 398.4,358.3 398.9,358.3 399.3,352.8 399.8,355.6 400.2,354.6 400.7,350.9 401.2,351.7 401.6,354.8 402.1,355.4 402.6,355.4 403.0,357.5 403.5,356.3 403.9,358.6 404.4,360.4 404.9,361.2 405.3,363.1 405.8,363.7 406.2,366.6 406.7,374.0 407.2,372.4 407.6,377.9 408.1,380.8 408.6,379.8 409.0,384.0 409.5,385.5 409.9,385.9 410.4,389.8 410.9,392.0 411.3,393.2 411.8,394.7 412.2,396.1 412.7,397.3 413.2,397.7 413.6,398.3 414.1,398.7 414.6,399.2 415.0,399.4 415.5,399.5 415.9,399.7 416.4,399.8 416.9,399.8 417.3,399.8 417.8,399.8 418.2,399.8 418.7,399.8 419.2,399.8 419.6,399.8 420.1,399.8 420.6,399.8 421.0,399.8 421.5,399.8 421.9,399.8 422.4,399.8" fill="none" stroke="#000" stroke-width="1.3" stroke-linejoin="round"/>
<text x="421.70" y="356.80" font-size="7.7" font-weight="bold" fill="#000" text-anchor="end" >235</text>
<text x="421.70" y="366.30" font-size="7.6" font-weight="bold" fill="#8e8e8e" text-anchor="end" >196</text>
<path d="M428.5,400.4V348.1H480.0V400.4" fill="none" stroke="#a8a8a8" stroke-width="1"/>
<path d="M427.1,348.1h1.4M427.1,353.3h1.4M427.1,358.6h1.4M427.1,363.8h1.4M427.1,369.0h1.4M427.1,374.2h1.4M427.1,379.5h1.4M427.1,384.7h1.4M427.1,389.9h1.4M427.1,395.2h1.4M433.6,400.4v1.3M438.8,400.4v1.3M443.9,400.4v1.3M449.1,400.4v1.3M454.2,400.4v1.3M459.4,400.4v1.3M464.6,400.4v1.3M469.7,400.4v1.3M474.9,400.4v1.3" stroke="#555" stroke-width="0.6"/>
<path d="M428.5,348.1V400.4H480.0" fill="none" stroke="#606060" stroke-width="0.9"/>
<polygon points="429.1,399.8 429.1,399.7 429.6,399.3 430.0,398.9 430.5,398.4 430.9,397.7 431.4,397.5 431.9,397.1 432.3,396.9 432.8,396.4 433.3,395.5 433.7,395.4 434.2,395.3 434.6,394.8 435.1,394.1 435.6,393.4 436.0,393.4 436.5,391.6 436.9,390.7 437.4,388.7 437.9,387.0 438.3,385.3 438.8,384.7 439.3,382.9 439.7,380.6 440.2,380.9 440.6,377.9 441.1,375.8 441.6,373.1 442.0,371.7 442.5,369.4 442.9,366.5 443.4,364.9 443.9,361.9 444.3,359.1 444.8,357.5 445.3,357.2 445.7,354.9 446.2,355.7 446.6,353.9 447.1,357.2 447.6,358.4 448.0,362.0 448.5,364.0 448.9,367.2 449.4,370.7 449.9,377.6 450.3,380.6 450.8,387.0 451.3,391.7 451.7,392.8 452.2,393.8 452.6,394.6 453.1,395.5 453.6,396.0 454.0,396.8 454.5,397.4 454.9,397.8 455.4,398.0 455.9,398.2 456.3,398.5 456.8,398.9 457.2,399.1 457.7,399.4 458.2,399.7 458.6,399.8 459.1,399.8 459.6,399.8 460.0,399.8 460.5,399.8 460.9,399.8 461.4,399.8 461.9,399.8 462.3,399.8 462.8,399.8 463.2,399.8 463.7,399.8 464.2,399.8 464.6,399.8 465.1,399.8 465.6,399.8 466.0,399.8 466.5,399.8 466.9,399.8 467.4,399.8 467.9,399.8 468.3,399.8 468.8,399.8 469.2,399.8 469.7,399.8 470.2,399.8 470.6,399.8 471.1,399.8 471.6,399.8 472.0,399.8 472.5,399.8 472.9,399.8 473.4,399.8 473.9,399.8 474.3,399.8 474.8,399.8 475.2,399.8 475.7,399.8 476.2,399.8 476.6,399.8 477.1,399.8 477.6,399.8 478.0,399.8 478.5,399.8 478.9,399.8 479.4,399.8 479.4,399.8" fill="#d2d2d2" stroke="#8a8a8a" stroke-width="0.9" stroke-linejoin="round"/>
<polyline points="429.1,399.8 429.6,399.5 430.0,399.1 430.5,398.8 430.9,398.1 431.4,397.7 431.9,397.1 432.3,397.1 432.8,396.7 433.3,395.9 433.7,396.1 434.2,395.4 434.6,395.1 435.1,394.7 435.6,394.6 436.0,393.6 436.5,392.3 436.9,391.1 437.4,389.5 437.9,388.5 438.3,385.5 438.8,384.7 439.3,382.6 439.7,383.6 440.2,380.1 440.6,380.1 441.1,377.0 441.6,375.2 442.0,374.2 442.5,370.4 442.9,366.9 443.4,365.1 443.9,362.5 444.3,361.6 444.8,359.4 445.3,358.2 445.7,355.3 446.2,352.9 446.6,353.6 447.1,355.6 447.6,358.7 448.0,359.1 448.5,362.2 448.9,367.5 449.4,371.2 449.9,373.9 450.3,379.4 450.8,382.3 451.3,388.9 451.7,392.5 452.2,393.5 452.6,393.5 453.1,395.1 453.6,395.5 454.0,396.3 454.5,396.9 454.9,397.4 455.4,397.9 455.9,398.1 456.3,398.4 456.8,398.6 457.2,399.0 457.7,399.2 458.2,399.6 458.6,399.8 459.1,399.8 459.6,399.8 460.0,399.8 460.5,399.8 460.9,399.8 461.4,399.8 461.9,399.8 462.3,399.8 462.8,399.8 463.2,399.8 463.7,399.8 464.2,399.8 464.6,399.8 465.1,399.8 465.6,399.8 466.0,399.8 466.5,399.8 466.9,399.8 467.4,399.8 467.9,399.8 468.3,399.8 468.8,399.8 469.2,399.8 469.7,399.8 470.2,399.8 470.6,399.8 471.1,399.8 471.6,399.8 472.0,399.8 472.5,399.8 472.9,399.8 473.4,399.8 473.9,399.8 474.3,399.8 474.8,399.8 475.2,399.8 475.7,399.8 476.2,399.8 476.6,399.8 477.1,399.8 477.6,399.8 478.0,399.8 478.5,399.8 478.9,399.8 479.4,399.8" fill="none" stroke="#000" stroke-width="1.3" stroke-linejoin="round"/>
<text x="478.70" y="356.80" font-size="7.7" font-weight="bold" fill="#000" text-anchor="end" >18</text>
<text x="478.70" y="366.30" font-size="7.6" font-weight="bold" fill="#8e8e8e" text-anchor="end" >19</text>
<path d="M29.5,467.0V414.7H81.0V467.0" fill="none" stroke="#a8a8a8" stroke-width="1"/>
<path d="M28.1,414.7h1.4M28.1,419.9h1.4M28.1,425.2h1.4M28.1,430.4h1.4M28.1,435.6h1.4M28.1,440.8h1.4M28.1,446.1h1.4M28.1,451.3h1.4M28.1,456.5h1.4M28.1,461.8h1.4M34.6,467.0v1.3M39.8,467.0v1.3M45.0,467.0v1.3M50.1,467.0v1.3M55.2,467.0v1.3M60.4,467.0v1.3M65.5,467.0v1.3M70.7,467.0v1.3M75.8,467.0v1.3" stroke="#555" stroke-width="0.6"/>
<path d="M29.5,414.7V467.0H81.0" fill="none" stroke="#606060" stroke-width="0.9"/>
<polygon points="30.1,466.4 30.1,460.4 30.6,460.0 31.0,458.6 31.5,458.4 31.9,457.7 32.4,455.0 32.9,455.7 33.3,451.8 33.8,452.6 34.3,450.0 34.7,445.7 35.2,443.2 35.6,443.6 36.1,438.6 36.6,438.9 37.0,435.4 37.5,431.2 37.9,427.4 38.4,428.6 38.9,425.2 39.3,424.2 39.8,424.5 40.3,421.2 40.7,417.8 41.2,421.3 41.6,421.9 42.1,423.0 42.6,427.0 43.0,425.8 43.5,427.7 43.9,430.3 44.4,433.5 44.9,439.0 45.3,441.5 45.8,443.5 46.3,445.3 46.7,446.7 47.2,445.5 47.6,446.4 48.1,451.1 48.6,450.6 49.0,454.6 49.5,454.5 49.9,456.1 50.4,457.5 50.9,456.9 51.3,457.8 51.8,459.1 52.3,460.1 52.7,461.2 53.2,461.7 53.6,462.8 54.1,463.4 54.6,464.2 55.0,464.1 55.5,464.3 55.9,464.4 56.4,464.6 56.9,464.9 57.3,465.2 57.8,465.5 58.2,465.5 58.7,465.7 59.2,465.9 59.6,466.2 60.1,466.3 60.6,466.4 61.0,466.4 61.5,466.4 61.9,466.4 62.4,466.4 62.9,466.4 63.3,466.4 63.8,466.4 64.2,466.4 64.7,466.4 65.2,466.4 65.6,466.4 66.1,466.4 66.6,466.4 67.0,466.4 67.5,466.4 67.9,466.4 68.4,466.4 68.9,466.4 69.3,466.4 69.8,466.4 70.2,466.4 70.7,466.4 71.2,466.4 71.6,466.4 72.1,466.4 72.6,466.4 73.0,466.4 73.5,466.4 73.9,466.4 74.4,466.4 74.9,466.4 75.3,466.4 75.8,466.4 76.2,466.4 76.7,466.4 77.2,466.4 77.6,466.4 78.1,466.4 78.6,466.4 79.0,466.4 79.5,466.4 79.9,466.4 80.4,466.4 80.4,466.4" fill="#d2d2d2" stroke="#8a8a8a" stroke-width="0.9" stroke-linejoin="round"/>
<polyline points="30.1,460.8 30.6,460.0 31.0,458.6 31.5,456.6 31.9,456.6 32.4,455.5 32.9,456.6 33.3,452.2 33.8,451.7 34.3,451.5 34.7,448.1 35.2,447.7 35.6,444.0 36.1,437.3 36.6,436.2 37.0,433.1 37.5,430.6 37.9,428.5 38.4,427.3 38.9,422.3 39.3,424.1 39.8,421.1 40.3,420.8 40.7,420.1 41.2,424.1 41.6,424.8 42.1,420.8 42.6,422.3 43.0,426.7 43.5,427.6 43.9,428.1 44.4,432.1 44.9,429.4 45.3,435.1 45.8,435.8 46.3,440.1 46.7,434.7 47.2,438.2 47.6,437.1 48.1,442.5 48.6,441.9 49.0,443.7 49.5,444.9 49.9,443.4 50.4,444.4 50.9,447.1 51.3,451.1 51.8,450.7 52.3,451.6 52.7,453.9 53.2,455.3 53.6,456.8 54.1,459.1 54.6,459.7 55.0,460.3 55.5,462.3 55.9,462.3 56.4,462.3 56.9,463.4 57.3,463.3 57.8,464.0 58.2,464.1 58.7,464.5 59.2,464.7 59.6,465.0 60.1,465.2 60.6,465.4 61.0,465.7 61.5,465.5 61.9,465.7 62.4,465.9 62.9,465.9 63.3,466.0 63.8,466.1 64.2,466.2 64.7,466.3 65.2,466.4 65.6,466.4 66.1,466.4 66.6,466.3 67.0,466.3 67.5,466.3 67.9,466.3 68.4,466.3 68.9,466.3 69.3,466.2 69.8,466.2 70.2,466.2 70.7,466.1 71.2,466.2 71.6,466.1 72.1,466.1 72.6,466.1 73.0,466.1 73.5,466.1 73.9,466.1 74.4,466.0 74.9,466.0 75.3,466.1 75.8,466.0 76.2,465.9 76.7,465.9 77.2,466.0 77.6,465.9 78.1,465.9 78.6,466.0 79.0,466.1 79.5,466.2 79.9,466.3 80.4,466.4" fill="none" stroke="#000" stroke-width="1.3" stroke-linejoin="round"/>
<path d="M86.5,467.0V414.7H138.0V467.0" fill="none" stroke="#a8a8a8" stroke-width="1"/>
<path d="M85.1,414.7h1.4M85.1,419.9h1.4M85.1,425.2h1.4M85.1,430.4h1.4M85.1,435.6h1.4M85.1,440.8h1.4M85.1,446.1h1.4M85.1,451.3h1.4M85.1,456.5h1.4M85.1,461.8h1.4M91.7,467.0v1.3M96.8,467.0v1.3M102.0,467.0v1.3M107.1,467.0v1.3M112.2,467.0v1.3M117.4,467.0v1.3M122.5,467.0v1.3M127.7,467.0v1.3M132.8,467.0v1.3" stroke="#555" stroke-width="0.6"/>
<path d="M86.5,414.7V467.0H138.0" fill="none" stroke="#606060" stroke-width="0.9"/>
<polygon points="87.1,466.4 87.1,465.3 87.6,465.4 88.0,465.0 88.5,464.7 88.9,464.7 89.4,464.4 89.9,464.6 90.3,463.9 90.8,464.3 91.3,463.4 91.7,464.0 92.2,463.9 92.6,463.8 93.1,463.5 93.6,463.4 94.0,463.3 94.5,463.0 94.9,462.4 95.4,462.2 95.9,462.6 96.3,461.6 96.8,462.6 97.3,462.5 97.7,462.4 98.2,461.3 98.6,462.3 99.1,462.1 99.6,460.2 100.0,459.7 100.5,459.8 100.9,461.6 101.4,460.3 101.9,459.5 102.3,459.9 102.8,461.1 103.3,459.9 103.7,460.8 104.2,460.3 104.6,457.2 105.1,458.3 105.6,460.0 106.0,459.9 106.5,457.8 106.9,458.2 107.4,455.9 107.9,456.3 108.3,454.6 108.8,452.8 109.3,453.7 109.7,453.9 110.2,450.7 110.6,447.8 111.1,444.7 111.6,441.3 112.0,437.6 112.5,432.6 112.9,431.7 113.4,423.2 113.9,418.3 114.3,419.7 114.8,421.6 115.2,422.1 115.7,426.0 116.2,429.9 116.6,434.2 117.1,439.4 117.6,444.3 118.0,444.3 118.5,446.8 118.9,454.4 119.4,456.2 119.9,459.4 120.3,462.5 120.8,463.7 121.2,464.1 121.7,465.0 122.2,465.1 122.6,465.6 123.1,466.0 123.6,466.3 124.0,466.4 124.5,466.4 124.9,466.4 125.4,466.4 125.9,466.4 126.3,466.4 126.8,466.4 127.2,466.4 127.7,466.4 128.2,466.4 128.6,466.4 129.1,466.4 129.6,466.4 130.0,466.4 130.5,466.4 130.9,466.4 131.4,466.4 131.9,466.4 132.3,466.4 132.8,466.4 133.2,466.4 133.7,466.4 134.2,466.4 134.6,466.4 135.1,466.4 135.6,466.4 136.0,466.4 136.5,466.4 136.9,466.4 137.4,466.4 137.4,466.4" fill="#d2d2d2" stroke="#8a8a8a" stroke-width="0.9" stroke-linejoin="round"/>
<polyline points="87.1,463.1 87.6,463.0 88.0,462.3 88.5,461.0 88.9,461.2 89.4,461.4 89.9,461.1 90.3,461.0 90.8,458.8 91.3,461.1 91.7,458.8 92.2,460.0 92.6,459.2 93.1,459.1 93.6,455.7 94.0,456.2 94.5,451.7 94.9,456.1 95.4,455.5 95.9,452.2 96.3,451.5 96.8,452.2 97.3,454.7 97.7,447.3 98.2,448.1 98.6,447.6 99.1,448.8 99.6,445.7 100.0,448.3 100.5,447.6 100.9,448.7 101.4,446.4 101.9,450.6 102.3,450.5 102.8,447.2 103.3,448.5 103.7,448.5 104.2,448.5 104.6,445.6 105.1,448.3 105.6,445.5 106.0,441.7 106.5,444.3 106.9,445.9 107.4,445.9 107.9,442.3 108.3,444.2 108.8,443.8 109.3,440.4 109.7,439.2 110.2,433.3 110.6,436.2 111.1,428.1 111.6,431.1 112.0,427.5 112.5,424.6 112.9,423.7 113.4,420.9 113.9,422.7 114.3,425.0 114.8,423.2 115.2,429.5 115.7,430.5 116.2,430.8 116.6,436.8 117.1,441.5 117.6,446.4 118.0,448.1 118.5,450.8 118.9,455.9 119.4,455.9 119.9,460.1 120.3,461.3 120.8,462.6 121.2,462.5 121.7,463.2 122.2,464.0 122.6,464.6 123.1,465.0 123.6,465.4 124.0,465.8 124.5,465.9 124.9,465.9 125.4,465.9 125.9,466.1 126.3,466.0 126.8,466.0 127.2,466.0 127.7,466.1 128.2,466.1 128.6,466.1 129.1,466.1 129.6,466.1 130.0,466.1 130.5,466.2 130.9,466.2 131.4,466.1 131.9,466.2 132.3,466.2 132.8,466.2 133.2,466.3 133.7,466.2 134.2,466.3 134.6,466.3 135.1,466.3 135.6,466.3 136.0,466.4 136.5,466.4 136.9,466.4 137.4,466.4" fill="none" stroke="#000" stroke-width="1.3" stroke-linejoin="round"/>
<text x="136.70" y="423.40" font-size="7.7" font-weight="bold" fill="#000" text-anchor="end" >90</text>
<text x="136.70" y="432.90" font-size="7.6" font-weight="bold" fill="#8e8e8e" text-anchor="end" >153</text>
<path d="M143.5,467.0V414.7H195.0V467.0" fill="none" stroke="#a8a8a8" stroke-width="1"/>
<path d="M142.1,414.7h1.4M142.1,419.9h1.4M142.1,425.2h1.4M142.1,430.4h1.4M142.1,435.6h1.4M142.1,440.8h1.4M142.1,446.1h1.4M142.1,451.3h1.4M142.1,456.5h1.4M142.1,461.8h1.4M148.7,467.0v1.3M153.8,467.0v1.3M158.9,467.0v1.3M164.1,467.0v1.3M169.2,467.0v1.3M174.4,467.0v1.3M179.6,467.0v1.3M184.7,467.0v1.3M189.8,467.0v1.3" stroke="#555" stroke-width="0.6"/>
<path d="M143.5,414.7V467.0H195.0" fill="none" stroke="#606060" stroke-width="0.9"/>
<polygon points="144.1,466.4 144.1,449.7 144.6,452.8 145.0,452.9 145.5,446.7 145.9,445.4 146.4,447.1 146.9,445.4 147.3,444.1 147.8,440.0 148.3,438.6 148.7,428.3 149.2,431.4 149.6,427.4 150.1,427.4 150.6,429.9 151.0,420.3 151.5,425.1 151.9,425.1 152.4,421.8 152.9,423.7 153.3,421.7 153.8,425.2 154.3,422.2 154.7,424.5 155.2,429.0 155.6,423.5 156.1,426.2 156.6,430.1 157.0,427.0 157.5,427.5 157.9,424.6 158.4,432.4 158.9,428.7 159.3,431.9 159.8,430.8 160.3,433.2 160.7,431.5 161.2,428.5 161.6,431.2 162.1,431.9 162.6,425.0 163.0,424.5 163.5,421.6 163.9,419.3 164.4,421.0 164.9,417.2 165.3,420.0 165.8,419.4 166.3,417.3 166.7,417.6 167.2,419.3 167.6,419.6 168.1,423.0 168.6,423.8 169.0,423.2 169.5,422.6 169.9,427.0 170.4,425.0 170.9,424.1 171.3,426.5 171.8,435.2 172.2,435.8 172.7,439.9 173.2,442.4 173.6,445.2 174.1,448.9 174.6,451.3 175.0,455.0 175.5,457.4 175.9,458.4 176.4,459.9 176.9,461.2 177.3,463.5 177.8,464.9 178.2,465.4 178.7,465.8 179.2,465.9 179.6,466.1 180.1,466.3 180.6,466.4 181.0,466.4 181.5,466.4 181.9,466.4 182.4,466.4 182.9,466.4 183.3,466.4 183.8,466.4 184.2,466.4 184.7,466.4 185.2,466.4 185.6,466.4 186.1,466.4 186.6,466.4 187.0,466.4 187.5,466.4 187.9,466.4 188.4,466.4 188.9,466.4 189.3,466.4 189.8,466.4 190.2,466.4 190.7,466.4 191.2,466.4 191.6,466.4 192.1,466.4 192.6,466.4 193.0,466.4 193.5,466.4 193.9,466.4 194.4,466.4 194.4,466.4" fill="#d2d2d2" stroke="#8a8a8a" stroke-width="0.9" stroke-linejoin="round"/>
<polyline points="144.1,461.0 144.6,460.1 145.0,459.9 145.5,458.7 145.9,458.5 146.4,459.1 146.9,459.3 147.3,458.7 147.8,455.6 148.3,459.4 148.7,454.4 149.2,455.3 149.6,451.5 150.1,451.8 150.6,453.0 151.0,450.5 151.5,455.4 151.9,448.2 152.4,446.9 152.9,452.0 153.3,444.3 153.8,446.5 154.3,446.1 154.7,450.7 155.2,446.1 155.6,446.7 156.1,448.8 156.6,451.6 157.0,446.9 157.5,445.1 157.9,446.6 158.4,444.4 158.9,447.8 159.3,445.2 159.8,444.0 160.3,443.9 160.7,436.4 161.2,441.9 161.6,443.7 162.1,439.5 162.6,443.6 163.0,439.1 163.5,437.4 163.9,439.9 164.4,438.7 164.9,439.5 165.3,436.1 165.8,437.6 166.3,430.9 166.7,433.2 167.2,434.9 167.6,437.4 168.1,428.1 168.6,429.4 169.0,431.0 169.5,431.1 169.9,430.3 170.4,430.7 170.9,423.4 171.3,426.4 171.8,429.3 172.2,426.0 172.7,429.6 173.2,420.1 173.6,418.5 174.1,415.4 174.6,416.7 175.0,428.6 175.5,430.4 175.9,433.7 176.4,438.4 176.9,445.8 177.3,446.6 177.8,451.7 178.2,454.6 178.7,460.4 179.2,463.8 179.6,465.4 180.1,465.7 180.6,465.9 181.0,466.1 181.5,466.2 181.9,466.4 182.4,466.4 182.9,466.4 183.3,466.4 183.8,466.4 184.2,466.4 184.7,466.4 185.2,466.4 185.6,466.4 186.1,466.4 186.6,466.4 187.0,466.4 187.5,466.4 187.9,466.4 188.4,466.4 188.9,466.4 189.3,466.1 189.8,465.2 190.2,462.9 190.7,462.3 191.2,462.8 191.6,465.0 192.1,466.1 192.6,466.4 193.0,466.4 193.5,466.4 193.9,466.4 194.4,466.4" fill="none" stroke="#000" stroke-width="1.3" stroke-linejoin="round"/>
<text x="193.70" y="423.40" font-size="7.7" font-weight="bold" fill="#000" text-anchor="end" >117</text>
<text x="193.70" y="432.90" font-size="7.6" font-weight="bold" fill="#8e8e8e" text-anchor="end" >77</text>
<path d="M200.5,467.0V414.7H252.0V467.0" fill="none" stroke="#a8a8a8" stroke-width="1"/>
<path d="M199.1,414.7h1.4M199.1,419.9h1.4M199.1,425.2h1.4M199.1,430.4h1.4M199.1,435.6h1.4M199.1,440.8h1.4M199.1,446.1h1.4M199.1,451.3h1.4M199.1,456.5h1.4M199.1,461.8h1.4M205.7,467.0v1.3M210.8,467.0v1.3M215.9,467.0v1.3M221.1,467.0v1.3M226.2,467.0v1.3M231.4,467.0v1.3M236.6,467.0v1.3M241.7,467.0v1.3M246.8,467.0v1.3" stroke="#555" stroke-width="0.6"/>
<path d="M200.5,414.7V467.0H252.0" fill="none" stroke="#606060" stroke-width="0.9"/>
<polygon points="201.1,466.4 201.1,442.8 201.6,440.0 202.0,437.0 202.5,433.6 202.9,432.7 203.4,427.8 203.9,425.0 204.3,425.7 204.8,425.5 205.3,418.8 205.7,420.4 206.2,421.6 206.6,422.4 207.1,428.1 207.6,427.1 208.0,426.3 208.5,424.6 208.9,433.0 209.4,431.7 209.9,427.8 210.3,431.7 210.8,433.6 211.3,433.5 211.7,437.6 212.2,439.1 212.6,438.7 213.1,439.8 213.6,445.1 214.0,441.2 214.5,449.3 214.9,448.6 215.4,442.3 215.9,450.9 216.3,449.9 216.8,453.6 217.3,453.2 217.7,454.5 218.2,454.7 218.6,454.0 219.1,453.4 219.6,455.2 220.0,454.7 220.5,457.2 220.9,454.9 221.4,456.0 221.9,455.0 222.3,457.1 222.8,456.9 223.3,455.2 223.7,456.4 224.2,457.5 224.6,458.7 225.1,458.6 225.6,458.6 226.0,458.9 226.5,460.4 226.9,460.6 227.4,460.5 227.9,461.8 228.3,461.0 228.8,461.9 229.2,462.3 229.7,463.7 230.2,463.7 230.6,463.8 231.1,464.0 231.6,464.5 232.0,464.4 232.5,464.7 232.9,465.1 233.4,465.6 233.9,465.4 234.3,465.9 234.8,466.1 235.2,466.3 235.7,466.4 236.2,466.4 236.6,466.4 237.1,466.4 237.6,466.4 238.0,466.4 238.5,466.4 238.9,466.4 239.4,466.4 239.9,466.4 240.3,466.4 240.8,466.4 241.2,466.4 241.7,466.4 242.2,466.4 242.6,466.4 243.1,466.4 243.6,466.4 244.0,466.4 244.5,466.4 244.9,466.4 245.4,466.4 245.9,466.4 246.3,466.4 246.8,466.4 247.2,466.4 247.7,466.4 248.2,466.4 248.6,466.4 249.1,466.4 249.6,466.4 250.0,466.4 250.5,466.4 250.9,466.4 251.4,466.4 251.4,466.4" fill="#d2d2d2" stroke="#8a8a8a" stroke-width="0.9" stroke-linejoin="round"/>
<polyline points="201.1,431.3 201.6,423.8 202.0,428.3 202.5,430.2 202.9,427.9 203.4,425.1 203.9,425.5 204.3,421.6 204.8,421.0 205.3,423.9 205.7,421.3 206.2,419.4 206.6,422.0 207.1,423.5 207.6,422.3 208.0,424.8 208.5,430.2 208.9,430.1 209.4,431.3 209.9,432.1 210.3,434.8 210.8,432.0 211.3,438.1 211.7,439.7 212.2,438.5 212.6,444.9 213.1,443.8 213.6,441.9 214.0,447.3 214.5,447.7 214.9,445.1 215.4,447.8 215.9,450.0 216.3,450.8 216.8,453.3 217.3,452.3 217.7,453.9 218.2,450.6 218.6,454.3 219.1,456.2 219.6,456.4 220.0,456.6 220.5,458.3 220.9,457.7 221.4,454.9 221.9,458.4 222.3,457.4 222.8,455.5 223.3,455.1 223.7,458.3 224.2,456.1 224.6,458.5 225.1,457.1 225.6,458.6 226.0,459.8 226.5,459.4 226.9,460.0 227.4,461.3 227.9,459.8 228.3,461.8 228.8,461.3 229.2,462.5 229.7,463.5 230.2,463.5 230.6,463.5 231.1,463.6 231.6,463.7 232.0,464.5 232.5,464.8 232.9,465.2 233.4,465.3 233.9,465.5 234.3,466.0 234.8,466.1 235.2,466.3 235.7,466.4 236.2,466.4 236.6,466.4 237.1,466.4 237.6,466.4 238.0,466.4 238.5,466.4 238.9,466.4 239.4,466.4 239.9,466.4 240.3,466.4 240.8,466.4 241.2,466.4 241.7,466.4 242.2,466.4 242.6,466.4 243.1,466.4 243.6,466.4 244.0,466.4 244.5,466.4 244.9,466.4 245.4,466.4 245.9,466.4 246.3,466.4 246.8,466.4 247.2,466.4 247.7,466.4 248.2,466.4 248.6,466.3 249.1,466.0 249.6,465.4 250.0,464.8 250.5,464.0 250.9,465.6 251.4,466.2" fill="none" stroke="#000" stroke-width="1.3" stroke-linejoin="round"/>
<path d="M257.5,467.0V414.7H309.0V467.0" fill="none" stroke="#a8a8a8" stroke-width="1"/>
<path d="M256.1,414.7h1.4M256.1,419.9h1.4M256.1,425.2h1.4M256.1,430.4h1.4M256.1,435.6h1.4M256.1,440.8h1.4M256.1,446.1h1.4M256.1,451.3h1.4M256.1,456.5h1.4M256.1,461.8h1.4M262.6,467.0v1.3M267.8,467.0v1.3M272.9,467.0v1.3M278.1,467.0v1.3M283.2,467.0v1.3M288.4,467.0v1.3M293.6,467.0v1.3M298.7,467.0v1.3M303.9,467.0v1.3" stroke="#555" stroke-width="0.6"/>
<path d="M257.5,414.7V467.0H309.0" fill="none" stroke="#606060" stroke-width="0.9"/>
<polygon points="258.1,466.4 258.1,466.3 258.6,466.0 259.0,465.6 259.5,465.3 259.9,464.8 260.4,464.4 260.9,464.0 261.3,463.6 261.8,463.2 262.3,462.5 262.7,462.5 263.2,462.3 263.6,461.8 264.1,461.4 264.6,461.6 265.0,461.4 265.5,460.1 265.9,457.7 266.4,457.1 266.9,455.6 267.3,450.4 267.8,450.9 268.3,451.2 268.7,449.7 269.2,442.8 269.6,441.8 270.1,434.4 270.6,430.9 271.0,424.6 271.5,423.6 271.9,420.6 272.4,427.8 272.9,429.0 273.3,430.7 273.8,434.3 274.3,439.9 274.7,437.3 275.2,439.1 275.6,441.3 276.1,443.8 276.6,444.7 277.0,446.6 277.5,445.8 277.9,447.9 278.4,447.0 278.9,446.3 279.3,447.7 279.8,445.1 280.3,444.2 280.7,452.1 281.2,453.1 281.6,457.1 282.1,459.7 282.6,460.9 283.0,461.9 283.5,463.1 283.9,464.4 284.4,465.4 284.9,466.3 285.3,466.4 285.8,466.4 286.2,466.4 286.7,466.4 287.2,466.4 287.6,466.4 288.1,466.4 288.6,466.4 289.0,466.4 289.5,466.4 289.9,466.4 290.4,466.4 290.9,466.4 291.3,466.4 291.8,466.4 292.2,466.4 292.7,466.4 293.2,466.4 293.6,466.4 294.1,466.4 294.6,466.4 295.0,466.4 295.5,466.4 295.9,466.4 296.4,466.4 296.9,466.4 297.3,466.4 297.8,466.4 298.2,466.4 298.7,466.4 299.2,466.4 299.6,466.4 300.1,466.4 300.6,466.4 301.0,466.4 301.5,466.4 301.9,466.4 302.4,466.4 302.9,466.4 303.3,466.4 303.8,466.4 304.2,466.4 304.7,466.4 305.2,466.4 305.6,466.4 306.1,466.4 306.6,466.4 307.0,466.4 307.5,466.4 307.9,466.4 308.4,466.4 308.4,466.4" fill="#d2d2d2" stroke="#8a8a8a" stroke-width="0.9" stroke-linejoin="round"/>
<polyline points="258.1,466.3 258.6,466.0 259.0,465.5 259.5,465.0 259.9,464.4 260.4,464.1 260.9,463.7 261.3,463.7 261.8,462.8 262.3,462.7 262.7,462.0 263.2,461.5 263.6,460.7 264.1,460.4 264.6,460.1 265.0,459.8 265.5,458.5 265.9,459.5 266.4,458.3 266.9,456.1 267.3,455.7 267.8,452.7 268.3,450.6 268.7,446.9 269.2,446.3 269.6,448.7 270.1,444.5 270.6,443.0 271.0,441.5 271.5,441.5 271.9,438.6 272.4,439.1 272.9,441.7 273.3,439.8 273.8,440.8 274.3,433.7 274.7,435.4 275.2,434.2 275.6,434.9 276.1,431.2 276.6,427.9 277.0,427.1 277.5,425.1 277.9,423.4 278.4,417.8 278.9,421.9 279.3,426.3 279.8,428.6 280.3,432.1 280.7,435.9 281.2,441.5 281.6,448.8 282.1,452.7 282.6,455.5 283.0,459.2 283.5,458.9 283.9,461.3 284.4,464.3 284.9,465.3 285.3,465.7 285.8,466.0 286.2,466.3 286.7,466.4 287.2,466.4 287.6,466.4 288.1,466.4 288.6,466.4 289.0,466.4 289.5,466.4 289.9,466.4 290.4,466.4 290.9,466.4 291.3,466.4 291.8,466.4 292.2,466.4 292.7,466.4 293.2,466.4 293.6,466.4 294.1,466.4 294.6,466.4 295.0,466.4 295.5,466.4 295.9,466.4 296.4,466.4 296.9,466.4 297.3,466.4 297.8,466.4 298.2,466.4 298.7,466.4 299.2,466.4 299.6,466.4 300.1,466.4 300.6,466.4 301.0,466.4 301.5,466.4 301.9,466.4 302.4,466.4 302.9,466.4 303.3,466.4 303.8,466.4 304.2,466.4 304.7,466.4 305.2,466.4 305.6,466.4 306.1,466.4 306.6,466.4 307.0,466.4 307.5,466.4 307.9,466.4 308.4,466.4" fill="none" stroke="#000" stroke-width="1.3" stroke-linejoin="round"/>
<text x="307.70" y="423.40" font-size="7.7" font-weight="bold" fill="#000" text-anchor="end" >29</text>
<text x="307.70" y="432.90" font-size="7.6" font-weight="bold" fill="#8e8e8e" text-anchor="end" >22</text>
<path d="M314.5,467.0V414.7H366.0V467.0" fill="none" stroke="#a8a8a8" stroke-width="1"/>
<path d="M313.1,414.7h1.4M313.1,419.9h1.4M313.1,425.2h1.4M313.1,430.4h1.4M313.1,435.6h1.4M313.1,440.8h1.4M313.1,446.1h1.4M313.1,451.3h1.4M313.1,456.5h1.4M313.1,461.8h1.4M319.6,467.0v1.3M324.8,467.0v1.3M329.9,467.0v1.3M335.1,467.0v1.3M340.2,467.0v1.3M345.4,467.0v1.3M350.6,467.0v1.3M355.7,467.0v1.3M360.9,467.0v1.3" stroke="#555" stroke-width="0.6"/>
<path d="M314.5,414.7V467.0H366.0" fill="none" stroke="#606060" stroke-width="0.9"/>
<polygon points="315.1,466.4 315.1,465.6 315.6,465.3 316.0,465.3 316.5,464.8 316.9,464.7 317.4,464.7 317.9,464.6 318.3,464.4 318.8,464.6 319.3,464.4 319.7,464.3 320.2,463.7 320.6,463.8 321.1,464.1 321.6,463.4 322.0,463.2 322.5,462.8 322.9,463.4 323.4,462.9 323.9,462.0 324.3,462.9 324.8,462.8 325.3,462.3 325.7,462.6 326.2,462.2 326.6,462.4 327.1,462.4 327.6,461.0 328.0,460.5 328.5,459.3 328.9,456.6 329.4,454.4 329.9,451.7 330.3,448.3 330.8,444.5 331.3,448.6 331.7,444.6 332.2,445.8 332.6,439.6 333.1,436.9 333.6,437.2 334.0,435.1 334.5,432.4 334.9,430.4 335.4,423.0 335.9,417.6 336.3,422.7 336.8,418.6 337.3,424.7 337.7,429.8 338.2,428.0 338.6,429.2 339.1,431.2 339.6,433.7 340.0,430.9 340.5,436.2 340.9,435.5 341.4,436.7 341.9,441.1 342.3,444.2 342.8,445.1 343.2,443.4 343.7,443.0 344.2,448.5 344.6,447.5 345.1,443.9 345.6,452.0 346.0,448.4 346.5,449.6 346.9,449.0 347.4,452.8 347.9,447.9 348.3,450.4 348.8,443.6 349.2,447.0 349.7,443.3 350.2,444.5 350.6,440.9 351.1,442.6 351.6,436.9 352.0,434.4 352.5,433.8 352.9,428.5 353.4,429.3 353.9,427.2 354.3,428.2 354.8,426.3 355.2,432.5 355.7,432.7 356.2,433.5 356.6,432.7 357.1,434.4 357.6,434.1 358.0,436.2 358.5,438.8 358.9,438.8 359.4,438.7 359.9,445.3 360.3,438.6 360.8,443.2 361.2,442.5 361.7,440.3 362.2,440.4 362.6,442.0 363.1,438.5 363.6,434.2 364.0,434.1 364.5,433.5 364.9,438.4 365.4,439.0 365.4,466.4" fill="#d2d2d2" stroke="#8a8a8a" stroke-width="0.9" stroke-linejoin="round"/>
<polyline points="315.1,466.4 315.6,466.2 316.0,466.1 316.5,466.1 316.9,466.0 317.4,465.6 317.9,465.8 318.3,465.4 318.8,465.2 319.3,464.8 319.7,465.1 320.2,465.0 320.6,464.7 321.1,464.6 321.6,464.3 322.0,464.3 322.5,464.5 322.9,464.8 323.4,464.0 323.9,464.1 324.3,463.3 324.8,464.1 325.3,463.4 325.7,463.7 326.2,463.6 326.6,462.4 327.1,462.9 327.6,462.8 328.0,461.6 328.5,461.6 328.9,460.3 329.4,459.6 329.9,455.9 330.3,456.6 330.8,455.2 331.3,453.4 331.7,454.2 332.2,453.2 332.6,454.8 333.1,450.0 333.6,449.6 334.0,451.0 334.5,448.4 334.9,454.8 335.4,451.5 335.9,455.2 336.3,455.5 336.8,454.7 337.3,453.3 337.7,457.4 338.2,457.7 338.6,458.2 339.1,454.6 339.6,456.5 340.0,456.8 340.5,455.0 340.9,457.2 341.4,459.9 341.9,458.3 342.3,459.2 342.8,456.0 343.2,459.6 343.7,458.0 344.2,459.0 344.6,459.0 345.1,458.7 345.6,459.0 346.0,459.7 346.5,460.2 346.9,459.5 347.4,459.4 347.9,458.7 348.3,456.8 348.8,456.5 349.2,455.0 349.7,455.3 350.2,451.3 350.6,454.8 351.1,454.6 351.6,450.4 352.0,452.9 352.5,450.6 352.9,448.2 353.4,449.8 353.9,449.7 354.3,446.2 354.8,446.9 355.2,448.1 355.7,448.8 356.2,446.4 356.6,448.5 357.1,446.0 357.6,445.1 358.0,440.2 358.5,437.0 358.9,437.8 359.4,435.2 359.9,434.4 360.3,432.8 360.8,428.6 361.2,424.3 361.7,422.5 362.2,420.8 362.6,421.7 363.1,426.1 363.6,417.7 364.0,417.1 364.5,419.8 364.9,422.0 365.4,423.3" fill="none" stroke="#000" stroke-width="1.3" stroke-linejoin="round"/>
<text x="316.30" y="423.40" font-size="7.7" font-weight="bold" fill="#000" text-anchor="start" >2686</text>
<text x="316.30" y="432.90" font-size="7.6" font-weight="bold" fill="#8e8e8e" text-anchor="start" >1460</text>
<path d="M371.5,467.0V414.7H423.0V467.0" fill="none" stroke="#a8a8a8" stroke-width="1"/>
<path d="M370.1,414.7h1.4M370.1,419.9h1.4M370.1,425.2h1.4M370.1,430.4h1.4M370.1,435.6h1.4M370.1,440.8h1.4M370.1,446.1h1.4M370.1,451.3h1.4M370.1,456.5h1.4M370.1,461.8h1.4M376.6,467.0v1.3M381.8,467.0v1.3M386.9,467.0v1.3M392.1,467.0v1.3M397.2,467.0v1.3M402.4,467.0v1.3M407.6,467.0v1.3M412.7,467.0v1.3M417.9,467.0v1.3" stroke="#555" stroke-width="0.6"/>
<path d="M371.5,414.7V467.0H423.0" fill="none" stroke="#606060" stroke-width="0.9"/>
<polygon points="372.1,466.4 372.1,462.8 372.6,462.9 373.0,461.5 373.5,461.1 373.9,460.3 374.4,460.1 374.9,459.6 375.3,459.6 375.8,457.1 376.3,457.3 376.7,457.7 377.2,456.5 377.6,456.2 378.1,450.3 378.6,451.8 379.0,449.5 379.5,450.6 379.9,448.6 380.4,442.6 380.9,443.7 381.3,441.0 381.8,436.0 382.3,433.8 382.7,435.1 383.2,433.9 383.6,432.8 384.1,432.3 384.6,425.7 385.0,431.0 385.5,426.9 385.9,429.2 386.4,426.3 386.9,421.7 387.3,421.2 387.8,421.3 388.3,422.5 388.7,423.1 389.2,422.5 389.6,422.0 390.1,418.7 390.6,417.7 391.0,419.7 391.5,421.6 391.9,422.2 392.4,419.6 392.9,421.5 393.3,427.0 393.8,422.7 394.3,428.1 394.7,431.3 395.2,434.9 395.6,437.4 396.1,436.0 396.6,442.2 397.0,442.1 397.5,443.0 397.9,442.5 398.4,447.2 398.9,450.7 399.3,453.4 399.8,453.2 400.2,454.4 400.7,457.3 401.2,457.2 401.6,459.0 402.1,461.3 402.6,461.7 403.0,461.6 403.5,462.5 403.9,463.6 404.4,464.3 404.9,464.8 405.3,464.9 405.8,465.2 406.2,465.8 406.7,465.9 407.2,466.3 407.6,466.4 408.1,466.4 408.6,466.4 409.0,466.4 409.5,466.4 409.9,466.4 410.4,466.4 410.9,466.4 411.3,466.4 411.8,466.4 412.2,466.4 412.7,466.4 413.2,466.4 413.6,466.4 414.1,466.4 414.6,466.4 415.0,466.4 415.5,466.4 415.9,466.4 416.4,466.4 416.9,466.4 417.3,466.4 417.8,466.4 418.2,466.4 418.7,466.4 419.2,466.4 419.6,466.4 420.1,466.4 420.6,466.4 421.0,466.4 421.5,466.4 421.9,466.4 422.4,466.4 422.4,466.4" fill="#d2d2d2" stroke="#8a8a8a" stroke-width="0.9" stroke-linejoin="round"/>
<polyline points="372.1,463.4 372.6,464.1 373.0,462.1 373.5,460.9 373.9,461.2 374.4,460.2 374.9,459.4 375.3,459.6 375.8,457.8 376.3,455.1 376.7,455.6 377.2,453.3 377.6,453.0 378.1,451.0 378.6,451.1 379.0,448.1 379.5,443.8 379.9,443.3 380.4,444.1 380.9,444.6 381.3,443.5 381.8,439.3 382.3,437.3 382.7,440.3 383.2,433.7 383.6,431.1 384.1,428.8 384.6,428.3 385.0,419.9 385.5,420.6 385.9,423.3 386.4,421.3 386.9,418.8 387.3,420.5 387.8,422.4 388.3,423.8 388.7,425.3 389.2,427.1 389.6,430.0 390.1,428.5 390.6,437.5 391.0,435.0 391.5,432.7 391.9,438.9 392.4,441.6 392.9,436.5 393.3,439.4 393.8,442.9 394.3,444.7 394.7,444.9 395.2,446.1 395.6,446.8 396.1,448.8 396.6,447.1 397.0,450.3 397.5,453.8 397.9,453.6 398.4,452.2 398.9,454.9 399.3,458.0 399.8,453.1 400.2,455.6 400.7,457.8 401.2,458.8 401.6,458.9 402.1,459.3 402.6,461.7 403.0,461.8 403.5,462.8 403.9,462.9 404.4,463.9 404.9,464.5 405.3,464.4 405.8,464.9 406.2,465.2 406.7,465.8 407.2,466.2 407.6,466.4 408.1,466.4 408.6,466.4 409.0,466.4 409.5,466.4 409.9,466.4 410.4,466.4 410.9,466.4 411.3,466.4 411.8,466.4 412.2,466.4 412.7,466.4 413.2,466.4 413.6,466.4 414.1,466.4 414.6,466.4 415.0,466.4 415.5,466.4 415.9,466.4 416.4,466.4 416.9,466.4 417.3,466.4 417.8,466.4 418.2,466.4 418.7,466.4 419.2,466.4 419.6,466.4 420.1,466.4 420.6,466.4 421.0,466.4 421.5,466.4 421.9,466.4 422.4,466.4" fill="none" stroke="#000" stroke-width="1.3" stroke-linejoin="round"/>
<text x="421.70" y="423.40" font-size="7.7" font-weight="bold" fill="#000" text-anchor="end" >29</text>
<text x="421.70" y="432.90" font-size="7.6" font-weight="bold" fill="#8e8e8e" text-anchor="end" >39</text>
<path d="M428.5,467.0V414.7H480.0V467.0" fill="none" stroke="#a8a8a8" stroke-width="1"/>
<path d="M427.1,414.7h1.4M427.1,419.9h1.4M427.1,425.2h1.4M427.1,430.4h1.4M427.1,435.6h1.4M427.1,440.8h1.4M427.1,446.1h1.4M427.1,451.3h1.4M427.1,456.5h1.4M427.1,461.8h1.4M433.6,467.0v1.3M438.8,467.0v1.3M443.9,467.0v1.3M449.1,467.0v1.3M454.2,467.0v1.3M459.4,467.0v1.3M464.6,467.0v1.3M469.7,467.0v1.3M474.9,467.0v1.3" stroke="#555" stroke-width="0.6"/>
<path d="M428.5,414.7V467.0H480.0" fill="none" stroke="#606060" stroke-width="0.9"/>
<polygon points="429.1,466.4 429.1,465.3 429.6,465.3 430.0,465.1 430.5,465.1 430.9,464.8 431.4,464.1 431.9,464.0 432.3,463.6 432.8,463.4 433.3,463.3 433.7,463.6 434.2,463.2 434.6,462.6 435.1,462.2 435.6,462.7 436.0,462.6 436.5,462.3 436.9,460.8 437.4,460.3 437.9,459.3 438.3,458.1 438.8,454.9 439.3,456.3 439.7,452.3 440.2,451.3 440.6,449.6 441.1,446.1 441.6,443.9 442.0,436.6 442.5,441.0 442.9,437.9 443.4,439.3 443.9,439.3 444.3,431.6 444.8,428.1 445.3,432.6 445.7,428.8 446.2,424.5 446.6,424.9 447.1,428.3 447.6,419.7 448.0,421.8 448.5,420.4 448.9,424.5 449.4,421.2 449.9,421.5 450.3,425.8 450.8,423.9 451.3,427.6 451.7,430.4 452.2,435.0 452.6,437.8 453.1,442.1 453.6,441.8 454.0,448.0 454.5,452.8 454.9,451.3 455.4,455.7 455.9,458.4 456.3,461.5 456.8,462.3 457.2,463.3 457.7,464.3 458.2,464.7 458.6,465.4 459.1,466.0 459.6,466.3 460.0,466.4 460.5,466.4 460.9,466.4 461.4,466.4 461.9,466.4 462.3,466.4 462.8,466.4 463.2,466.4 463.7,466.4 464.2,466.4 464.6,466.4 465.1,466.4 465.6,466.4 466.0,466.4 466.5,466.4 466.9,466.4 467.4,466.4 467.9,466.4 468.3,466.4 468.8,466.4 469.2,466.4 469.7,466.4 470.2,466.4 470.6,466.4 471.1,466.4 471.6,466.4 472.0,466.4 472.5,466.4 472.9,466.4 473.4,466.4 473.9,466.4 474.3,466.4 474.8,466.4 475.2,466.4 475.7,466.4 476.2,466.4 476.6,466.4 477.1,466.4 477.6,466.4 478.0,466.4 478.5,466.4 478.9,466.4 479.4,466.4 479.4,466.4" fill="#d2d2d2" stroke="#8a8a8a" stroke-width="0.9" stroke-linejoin="round"/>
<polyline points="429.1,465.4 429.6,465.3 430.0,464.5 430.5,464.8 430.9,464.5 431.4,464.5 431.9,464.1 432.3,464.1 432.8,463.7 433.3,463.0 433.7,463.6 434.2,462.9 434.6,462.9 435.1,462.4 435.6,462.8 436.0,462.1 436.5,462.6 436.9,462.7 437.4,461.6 437.9,459.8 438.3,458.5 438.8,455.9 439.3,451.9 439.7,453.9 440.2,449.2 440.6,448.0 441.1,448.0 441.6,446.7 442.0,442.1 442.5,440.3 442.9,440.3 443.4,438.2 443.9,436.3 444.3,437.3 444.8,432.7 445.3,430.6 445.7,426.0 446.2,430.6 446.6,428.2 447.1,425.3 447.6,425.9 448.0,424.8 448.5,423.2 448.9,423.1 449.4,421.8 449.9,420.1 450.3,423.6 450.8,418.4 451.3,424.0 451.7,416.8 452.2,419.8 452.6,424.4 453.1,422.5 453.6,426.3 454.0,426.5 454.5,427.4 454.9,430.4 455.4,434.2 455.9,436.2 456.3,441.2 456.8,444.8 457.2,449.2 457.7,453.8 458.2,450.9 458.6,455.4 459.1,460.5 459.6,461.9 460.0,463.7 460.5,465.0 460.9,465.0 461.4,465.2 461.9,465.4 462.3,465.9 462.8,466.3 463.2,466.4 463.7,466.4 464.2,466.4 464.6,466.4 465.1,466.4 465.6,466.4 466.0,466.4 466.5,466.4 466.9,466.4 467.4,466.4 467.9,466.4 468.3,466.4 468.8,466.4 469.2,466.4 469.7,466.4 470.2,466.4 470.6,466.4 471.1,466.4 471.6,466.4 472.0,466.4 472.5,466.4 472.9,466.4 473.4,466.4 473.9,466.4 474.3,466.4 474.8,466.4 475.2,466.4 475.7,466.4 476.2,466.4 476.6,466.4 477.1,466.4 477.6,466.4 478.0,466.4 478.5,466.4 478.9,466.4 479.4,466.4" fill="none" stroke="#000" stroke-width="1.3" stroke-linejoin="round"/>
<text x="478.70" y="423.40" font-size="7.7" font-weight="bold" fill="#000" text-anchor="end" >64</text>
<text x="478.70" y="432.90" font-size="7.6" font-weight="bold" fill="#8e8e8e" text-anchor="end" >43</text>
<path d="M29.5,533.3V481.0H81.0V533.3" fill="none" stroke="#a8a8a8" stroke-width="1"/>
<path d="M28.1,481.0h1.4M28.1,486.2h1.4M28.1,491.5h1.4M28.1,496.7h1.4M28.1,501.9h1.4M28.1,507.1h1.4M28.1,512.4h1.4M28.1,517.6h1.4M28.1,522.8h1.4M28.1,528.1h1.4M34.6,533.3v1.3M39.8,533.3v1.3M45.0,533.3v1.3M50.1,533.3v1.3M55.2,533.3v1.3M60.4,533.3v1.3M65.5,533.3v1.3M70.7,533.3v1.3M75.8,533.3v1.3" stroke="#555" stroke-width="0.6"/>
<path d="M29.5,481.0V533.3H81.0" fill="none" stroke="#606060" stroke-width="0.9"/>
<polygon points="30.1,532.7 30.1,528.4 30.6,528.3 31.0,527.2 31.5,527.8 31.9,526.7 32.4,525.9 32.9,524.6 33.3,524.7 33.8,523.5 34.3,521.5 34.7,521.1 35.2,521.6 35.6,520.5 36.1,516.4 36.6,513.7 37.0,513.3 37.5,510.1 37.9,507.5 38.4,502.6 38.9,495.8 39.3,492.6 39.8,495.6 40.3,492.5 40.7,493.5 41.2,493.4 41.6,489.6 42.1,488.8 42.6,489.6 43.0,486.4 43.5,488.2 43.9,486.4 44.4,492.1 44.9,492.0 45.3,496.9 45.8,498.9 46.3,500.5 46.7,507.2 47.2,508.6 47.6,509.3 48.1,511.7 48.6,512.6 49.0,516.8 49.5,519.6 49.9,519.2 50.4,520.6 50.9,523.9 51.3,523.7 51.8,525.9 52.3,526.5 52.7,526.9 53.2,528.3 53.6,526.9 54.1,528.8 54.6,528.7 55.0,528.9 55.5,529.4 55.9,529.8 56.4,530.5 56.9,530.6 57.3,530.8 57.8,530.9 58.2,531.5 58.7,531.6 59.2,532.0 59.6,532.3 60.1,532.6 60.6,532.7 61.0,532.7 61.5,532.7 61.9,532.7 62.4,532.7 62.9,532.7 63.3,532.7 63.8,532.7 64.2,532.7 64.7,532.7 65.2,532.7 65.6,532.7 66.1,532.7 66.6,532.7 67.0,532.7 67.5,532.7 67.9,532.7 68.4,532.7 68.9,532.7 69.3,532.7 69.8,532.7 70.2,532.7 70.7,532.7 71.2,532.7 71.6,532.7 72.1,532.7 72.6,532.7 73.0,532.7 73.5,532.7 73.9,532.7 74.4,532.7 74.9,532.7 75.3,532.7 75.8,532.7 76.2,532.7 76.7,532.7 77.2,532.7 77.6,532.7 78.1,532.7 78.6,532.7 79.0,532.7 79.5,532.7 79.9,532.7 80.4,532.7 80.4,532.7" fill="#d2d2d2" stroke="#8a8a8a" stroke-width="0.9" stroke-linejoin="round"/>
<polyline points="30.1,527.8 30.6,527.2 31.0,527.6 31.5,527.0 31.9,527.0 32.4,525.8 32.9,524.6 33.3,523.2 33.8,522.4 34.3,523.7 34.7,523.6 35.2,519.7 35.6,523.9 36.1,520.4 36.6,515.0 37.0,510.1 37.5,514.7 37.9,511.3 38.4,512.1 38.9,508.3 39.3,506.3 39.8,505.1 40.3,500.2 40.7,498.7 41.2,494.7 41.6,493.8 42.1,494.3 42.6,490.3 43.0,487.7 43.5,489.9 43.9,484.4 44.4,485.3 44.9,487.2 45.3,488.0 45.8,491.0 46.3,494.0 46.7,492.4 47.2,495.0 47.6,501.7 48.1,505.7 48.6,510.4 49.0,513.1 49.5,516.3 49.9,522.5 50.4,522.8 50.9,524.3 51.3,524.9 51.8,525.5 52.3,528.2 52.7,529.8 53.2,529.9 53.6,530.7 54.1,530.0 54.6,530.8 55.0,530.9 55.5,531.0 55.9,531.2 56.4,531.4 56.9,531.6 57.3,531.6 57.8,532.0 58.2,532.0 58.7,532.3 59.2,532.5 59.6,532.6 60.1,532.7 60.6,532.7 61.0,532.7 61.5,532.7 61.9,532.7 62.4,532.7 62.9,532.7 63.3,532.7 63.8,532.7 64.2,532.7 64.7,532.7 65.2,532.7 65.6,532.7 66.1,532.7 66.6,532.7 67.0,532.7 67.5,532.7 67.9,532.7 68.4,532.7 68.9,532.7 69.3,532.7 69.8,532.7 70.2,532.7 70.7,532.7 71.2,532.7 71.6,532.7 72.1,532.7 72.6,532.7 73.0,532.7 73.5,532.7 73.9,532.7 74.4,532.7 74.9,532.7 75.3,532.7 75.8,532.7 76.2,532.7 76.7,532.7 77.2,532.7 77.6,532.7 78.1,532.7 78.6,532.7 79.0,532.7 79.5,532.7 79.9,532.7 80.4,532.7" fill="none" stroke="#000" stroke-width="1.3" stroke-linejoin="round"/>
<path d="M86.5,533.3V481.0H138.0V533.3" fill="none" stroke="#a8a8a8" stroke-width="1"/>
<path d="M85.1,481.0h1.4M85.1,486.2h1.4M85.1,491.5h1.4M85.1,496.7h1.4M85.1,501.9h1.4M85.1,507.1h1.4M85.1,512.4h1.4M85.1,517.6h1.4M85.1,522.8h1.4M85.1,528.1h1.4M91.7,533.3v1.3M96.8,533.3v1.3M102.0,533.3v1.3M107.1,533.3v1.3M112.2,533.3v1.3M117.4,533.3v1.3M122.5,533.3v1.3M127.7,533.3v1.3M132.8,533.3v1.3" stroke="#555" stroke-width="0.6"/>
<path d="M86.5,481.0V533.3H138.0" fill="none" stroke="#606060" stroke-width="0.9"/>
<polygon points="87.1,532.7 87.1,532.6 87.6,532.4 88.0,532.0 88.5,531.9 88.9,531.6 89.4,531.3 89.9,531.0 90.3,530.0 90.8,530.4 91.3,529.6 91.7,529.1 92.2,528.3 92.6,528.5 93.1,527.2 93.6,527.6 94.0,526.8 94.5,525.6 94.9,527.7 95.4,524.9 95.9,522.7 96.3,524.1 96.8,524.1 97.3,519.9 97.7,522.4 98.2,519.7 98.6,526.3 99.1,521.0 99.6,522.1 100.0,519.9 100.5,517.9 100.9,520.6 101.4,520.6 101.9,526.4 102.3,517.7 102.8,516.2 103.3,518.8 103.7,520.1 104.2,517.7 104.6,515.8 105.1,516.5 105.6,512.4 106.0,519.2 106.5,521.1 106.9,515.6 107.4,513.0 107.9,517.7 108.3,516.0 108.8,517.7 109.3,519.2 109.7,517.3 110.2,521.0 110.6,513.4 111.1,512.0 111.6,509.6 112.0,513.7 112.5,512.0 112.9,514.0 113.4,512.2 113.9,503.8 114.3,496.4 114.8,506.1 115.2,501.5 115.7,495.0 116.2,497.5 116.6,491.1 117.1,491.4 117.6,489.4 118.0,485.8 118.5,491.6 118.9,497.4 119.4,493.8 119.9,500.2 120.3,508.3 120.8,516.1 121.2,518.3 121.7,523.8 122.2,523.8 122.6,524.0 123.1,526.7 123.6,527.0 124.0,530.1 124.5,529.9 124.9,530.5 125.4,530.5 125.9,531.4 126.3,531.7 126.8,532.2 127.2,532.6 127.7,532.7 128.2,532.7 128.6,532.7 129.1,532.7 129.6,532.7 130.0,532.7 130.5,532.7 130.9,532.7 131.4,532.7 131.9,532.7 132.3,532.7 132.8,532.7 133.2,532.7 133.7,532.7 134.2,532.7 134.6,532.7 135.1,532.7 135.6,532.7 136.0,532.7 136.5,532.7 136.9,532.7 137.4,532.7 137.4,532.7" fill="#d2d2d2" stroke="#8a8a8a" stroke-width="0.9" stroke-linejoin="round"/>
<polyline points="87.1,525.8 87.6,522.4 88.0,523.2 88.5,522.9 88.9,519.1 89.4,521.4 89.9,524.6 90.3,523.7 90.8,519.3 91.3,519.0 91.7,521.1 92.2,521.5 92.6,517.0 93.1,515.3 93.6,510.0 94.0,512.9 94.5,507.3 94.9,503.8 95.4,510.5 95.9,505.5 96.3,497.1 96.8,501.4 97.3,498.2 97.7,493.4 98.2,496.9 98.6,494.1 99.1,496.2 99.6,487.7 100.0,489.2 100.5,487.6 100.9,494.8 101.4,485.9 101.9,489.0 102.3,495.8 102.8,491.9 103.3,505.4 103.7,499.8 104.2,504.7 104.6,490.7 105.1,506.5 105.6,501.7 106.0,499.7 106.5,494.3 106.9,493.3 107.4,493.3 107.9,493.9 108.3,485.1 108.8,492.5 109.3,488.6 109.7,485.0 110.2,495.6 110.6,495.7 111.1,491.3 111.6,494.4 112.0,500.2 112.5,495.8 112.9,489.5 113.4,495.7 113.9,492.0 114.3,493.6 114.8,495.7 115.2,488.2 115.7,489.8 116.2,488.8 116.6,492.7 117.1,491.7 117.6,491.1 118.0,490.4 118.5,493.1 118.9,494.0 119.4,488.9 119.9,497.7 120.3,499.0 120.8,502.7 121.2,507.1 121.7,513.2 122.2,515.6 122.6,514.4 123.1,520.7 123.6,524.3 124.0,523.9 124.5,529.2 124.9,528.5 125.4,529.7 125.9,531.2 126.3,531.5 126.8,532.0 127.2,532.1 127.7,532.2 128.2,532.3 128.6,532.4 129.1,532.4 129.6,532.3 130.0,532.4 130.5,532.4 130.9,532.4 131.4,532.4 131.9,532.4 132.3,532.5 132.8,532.5 133.2,532.5 133.7,532.5 134.2,532.5 134.6,532.5 135.1,532.6 135.6,532.6 136.0,532.7 136.5,532.7 136.9,532.7 137.4,532.7" fill="none" stroke="#000" stroke-width="1.3" stroke-linejoin="round"/>
<text x="136.70" y="489.70" font-size="7.7" font-weight="bold" fill="#000" text-anchor="end" >93</text>
<text x="136.70" y="499.20" font-size="7.6" font-weight="bold" fill="#8e8e8e" text-anchor="end" >198</text>
<path d="M143.5,533.3V481.0H195.0V533.3" fill="none" stroke="#a8a8a8" stroke-width="1"/>
<path d="M142.1,481.0h1.4M142.1,486.2h1.4M142.1,491.5h1.4M142.1,496.7h1.4M142.1,501.9h1.4M142.1,507.1h1.4M142.1,512.4h1.4M142.1,517.6h1.4M142.1,522.8h1.4M142.1,528.1h1.4M148.7,533.3v1.3M153.8,533.3v1.3M158.9,533.3v1.3M164.1,533.3v1.3M169.2,533.3v1.3M174.4,533.3v1.3M179.6,533.3v1.3M184.7,533.3v1.3M189.8,533.3v1.3" stroke="#555" stroke-width="0.6"/>
<path d="M143.5,481.0V533.3H195.0" fill="none" stroke="#606060" stroke-width="0.9"/>
<polygon points="144.1,532.7 144.1,532.7 144.6,532.5 145.0,532.3 145.5,532.1 145.9,532.0 146.4,531.9 146.9,531.5 147.3,531.5 147.8,531.1 148.3,530.9 148.7,531.2 149.2,530.7 149.6,530.2 150.1,530.7 150.6,530.0 151.0,530.1 151.5,530.1 151.9,529.0 152.4,528.8 152.9,529.1 153.3,528.9 153.8,528.0 154.3,527.9 154.7,528.1 155.2,527.5 155.6,527.5 156.1,527.5 156.6,526.8 157.0,527.0 157.5,526.2 157.9,526.4 158.4,526.3 158.9,526.1 159.3,525.2 159.8,524.6 160.3,524.7 160.7,525.3 161.2,524.0 161.6,524.8 162.1,524.7 162.6,523.6 163.0,522.3 163.5,522.0 163.9,521.7 164.4,520.5 164.9,520.6 165.3,521.5 165.8,519.9 166.3,520.7 166.7,519.5 167.2,518.8 167.6,518.7 168.1,519.5 168.6,516.5 169.0,515.7 169.5,514.2 169.9,513.5 170.4,513.4 170.9,512.5 171.3,506.7 171.8,504.0 172.2,502.1 172.7,500.2 173.2,494.6 173.6,494.0 174.1,492.5 174.6,489.3 175.0,489.0 175.5,486.6 175.9,487.8 176.4,490.3 176.9,494.7 177.3,499.1 177.8,502.0 178.2,507.7 178.7,518.2 179.2,523.9 179.6,527.8 180.1,528.7 180.6,530.4 181.0,531.6 181.5,532.5 181.9,532.7 182.4,532.7 182.9,532.7 183.3,532.7 183.8,532.7 184.2,532.7 184.7,532.7 185.2,532.7 185.6,532.7 186.1,532.7 186.6,532.7 187.0,532.7 187.5,532.7 187.9,532.7 188.4,532.7 188.9,532.7 189.3,532.7 189.8,532.7 190.2,532.7 190.7,532.7 191.2,532.7 191.6,532.7 192.1,532.7 192.6,532.7 193.0,532.7 193.5,532.7 193.9,532.7 194.4,532.7 194.4,532.7" fill="#d2d2d2" stroke="#8a8a8a" stroke-width="0.9" stroke-linejoin="round"/>
<polyline points="144.1,531.6 144.6,531.5 145.0,531.5 145.5,531.8 145.9,531.4 146.4,531.3 146.9,531.2 147.3,531.2 147.8,531.2 148.3,531.2 148.7,531.1 149.2,531.1 149.6,530.6 150.1,530.7 150.6,530.7 151.0,530.5 151.5,530.2 151.9,530.6 152.4,530.5 152.9,530.5 153.3,530.6 153.8,530.4 154.3,530.4 154.7,530.0 155.2,529.8 155.6,529.5 156.1,529.8 156.6,529.1 157.0,529.5 157.5,529.1 157.9,528.4 158.4,528.2 158.9,528.1 159.3,527.5 159.8,527.7 160.3,528.0 160.7,527.9 161.2,527.9 161.6,527.3 162.1,527.6 162.6,527.3 163.0,527.4 163.5,527.5 163.9,524.9 164.4,525.3 164.9,526.8 165.3,524.6 165.8,524.9 166.3,525.7 166.7,523.7 167.2,522.9 167.6,522.1 168.1,521.1 168.6,522.4 169.0,520.6 169.5,518.4 169.9,517.1 170.4,515.8 170.9,514.9 171.3,511.7 171.8,514.1 172.2,512.7 172.7,504.9 173.2,503.6 173.6,499.3 174.1,497.4 174.6,495.1 175.0,492.6 175.5,489.6 175.9,488.5 176.4,486.2 176.9,486.3 177.3,489.2 177.8,494.7 178.2,499.0 178.7,508.0 179.2,512.6 179.6,517.0 180.1,523.1 180.6,528.2 181.0,528.8 181.5,530.4 181.9,531.6 182.4,531.9 182.9,532.1 183.3,532.2 183.8,532.5 184.2,532.6 184.7,532.7 185.2,532.7 185.6,532.7 186.1,532.7 186.6,532.7 187.0,532.7 187.5,532.7 187.9,532.7 188.4,532.7 188.9,532.7 189.3,532.7 189.8,532.7 190.2,532.7 190.7,532.7 191.2,532.7 191.6,532.7 192.1,532.7 192.6,532.7 193.0,532.7 193.5,532.7 193.9,532.7 194.4,532.7" fill="none" stroke="#000" stroke-width="1.3" stroke-linejoin="round"/>
<text x="193.70" y="489.70" font-size="7.7" font-weight="bold" fill="#000" text-anchor="end" >309</text>
<text x="193.70" y="499.20" font-size="7.6" font-weight="bold" fill="#8e8e8e" text-anchor="end" >224</text>
<path d="M200.5,533.3V481.0H252.0V533.3" fill="none" stroke="#a8a8a8" stroke-width="1"/>
<path d="M199.1,481.0h1.4M199.1,486.2h1.4M199.1,491.5h1.4M199.1,496.7h1.4M199.1,501.9h1.4M199.1,507.1h1.4M199.1,512.4h1.4M199.1,517.6h1.4M199.1,522.8h1.4M199.1,528.1h1.4M205.7,533.3v1.3M210.8,533.3v1.3M215.9,533.3v1.3M221.1,533.3v1.3M226.2,533.3v1.3M231.4,533.3v1.3M236.6,533.3v1.3M241.7,533.3v1.3M246.8,533.3v1.3" stroke="#555" stroke-width="0.6"/>
<path d="M200.5,481.0V533.3H252.0" fill="none" stroke="#606060" stroke-width="0.9"/>
<polygon points="201.1,532.7 201.1,530.6 201.6,526.0 202.0,522.1 202.5,518.8 202.9,516.1 203.4,514.2 203.9,507.1 204.3,501.8 204.8,499.5 205.3,498.4 205.7,492.9 206.2,492.0 206.6,490.0 207.1,489.6 207.6,488.5 208.0,488.5 208.5,485.4 208.9,487.7 209.4,487.7 209.9,484.7 210.3,485.4 210.8,484.2 211.3,488.8 211.7,483.5 212.2,486.7 212.6,489.7 213.1,489.8 213.6,495.6 214.0,498.1 214.5,499.7 214.9,499.2 215.4,507.1 215.9,504.3 216.3,506.8 216.8,503.3 217.3,507.8 217.7,507.9 218.2,507.0 218.6,514.3 219.1,513.6 219.6,517.4 220.0,516.6 220.5,514.2 220.9,515.9 221.4,514.9 221.9,517.4 222.3,518.5 222.8,517.7 223.3,519.7 223.7,520.7 224.2,522.0 224.6,519.6 225.1,519.2 225.6,522.8 226.0,522.2 226.5,525.7 226.9,524.6 227.4,523.6 227.9,526.0 228.3,524.6 228.8,526.2 229.2,526.2 229.7,527.7 230.2,528.9 230.6,528.4 231.1,528.3 231.6,529.4 232.0,529.3 232.5,530.1 232.9,530.3 233.4,530.1 233.9,530.9 234.3,531.4 234.8,531.5 235.2,531.9 235.7,532.3 236.2,532.5 236.6,532.7 237.1,532.7 237.6,532.7 238.0,532.7 238.5,532.7 238.9,532.7 239.4,532.7 239.9,532.7 240.3,532.7 240.8,532.7 241.2,532.7 241.7,532.7 242.2,532.7 242.6,532.7 243.1,532.7 243.6,532.7 244.0,532.7 244.5,532.7 244.9,532.7 245.4,532.7 245.9,532.7 246.3,532.7 246.8,532.7 247.2,532.7 247.7,532.7 248.2,532.7 248.6,532.7 249.1,532.7 249.6,532.7 250.0,532.7 250.5,532.7 250.9,532.7 251.4,532.7 251.4,532.7" fill="#d2d2d2" stroke="#8a8a8a" stroke-width="0.9" stroke-linejoin="round"/>
<polyline points="201.1,513.5 201.6,513.6 202.0,509.6 202.5,509.7 202.9,506.5 203.4,511.4 203.9,500.1 204.3,493.5 204.8,493.9 205.3,491.6 205.7,490.9 206.2,491.9 206.6,487.7 207.1,487.6 207.6,487.0 208.0,485.4 208.5,488.3 208.9,488.4 209.4,489.1 209.9,489.7 210.3,491.4 210.8,488.7 211.3,489.2 211.7,494.1 212.2,492.2 212.6,487.7 213.1,492.6 213.6,492.0 214.0,500.2 214.5,500.4 214.9,502.5 215.4,504.6 215.9,505.8 216.3,506.0 216.8,507.4 217.3,510.5 217.7,510.1 218.2,509.8 218.6,512.0 219.1,513.6 219.6,514.0 220.0,513.9 220.5,514.4 220.9,512.9 221.4,506.3 221.9,510.0 222.3,512.5 222.8,511.0 223.3,511.1 223.7,510.5 224.2,511.4 224.6,518.5 225.1,512.6 225.6,520.5 226.0,519.7 226.5,522.2 226.9,524.4 227.4,525.2 227.9,520.8 228.3,522.5 228.8,526.3 229.2,527.2 229.7,525.8 230.2,528.5 230.6,528.1 231.1,527.6 231.6,528.7 232.0,528.8 232.5,529.8 232.9,530.9 233.4,530.9 233.9,531.5 234.3,531.3 234.8,531.9 235.2,532.1 235.7,532.2 236.2,532.3 236.6,532.2 237.1,532.3 237.6,532.3 238.0,532.2 238.5,532.3 238.9,532.4 239.4,532.3 239.9,532.4 240.3,532.3 240.8,532.3 241.2,532.4 241.7,532.4 242.2,532.4 242.6,532.4 243.1,532.5 243.6,532.4 244.0,532.5 244.5,532.5 244.9,532.5 245.4,532.5 245.9,532.6 246.3,532.5 246.8,532.6 247.2,532.6 247.7,532.5 248.2,532.6 248.6,532.6 249.1,532.6 249.6,532.6 250.0,532.7 250.5,532.7 250.9,532.7 251.4,532.7" fill="none" stroke="#000" stroke-width="1.3" stroke-linejoin="round"/>
<path d="M257.5,533.3V481.0H309.0V533.3" fill="none" stroke="#a8a8a8" stroke-width="1"/>
<path d="M256.1,481.0h1.4M256.1,486.2h1.4M256.1,491.5h1.4M256.1,496.7h1.4M256.1,501.9h1.4M256.1,507.1h1.4M256.1,512.4h1.4M256.1,517.6h1.4M256.1,522.8h1.4M256.1,528.1h1.4M262.6,533.3v1.3M267.8,533.3v1.3M272.9,533.3v1.3M278.1,533.3v1.3M283.2,533.3v1.3M288.4,533.3v1.3M293.6,533.3v1.3M298.7,533.3v1.3M303.9,533.3v1.3" stroke="#555" stroke-width="0.6"/>
<path d="M257.5,481.0V533.3H309.0" fill="none" stroke="#606060" stroke-width="0.9"/>
<polygon points="258.1,532.7 258.1,531.5 258.6,531.3 259.0,531.4 259.5,530.8 259.9,530.7 260.4,530.5 260.9,530.5 261.3,529.9 261.8,530.3 262.3,529.2 262.7,529.6 263.2,529.1 263.6,528.9 264.1,528.4 264.6,528.9 265.0,527.7 265.5,527.0 265.9,525.2 266.4,524.8 266.9,523.9 267.3,524.4 267.8,521.9 268.3,518.6 268.7,519.5 269.2,517.6 269.6,514.8 270.1,511.1 270.6,512.8 271.0,504.2 271.5,499.4 271.9,491.5 272.4,490.0 272.9,490.3 273.3,498.7 273.8,501.0 274.3,505.1 274.7,509.8 275.2,510.3 275.6,509.1 276.1,508.1 276.6,505.1 277.0,501.2 277.5,499.3 277.9,496.2 278.4,490.6 278.9,490.9 279.3,492.7 279.8,498.1 280.3,502.8 280.7,509.0 281.2,516.7 281.6,521.9 282.1,528.0 282.6,530.1 283.0,531.2 283.5,531.6 283.9,532.3 284.4,532.6 284.9,532.7 285.3,532.7 285.8,532.7 286.2,532.7 286.7,532.7 287.2,532.7 287.6,532.7 288.1,532.7 288.6,532.7 289.0,532.7 289.5,532.7 289.9,532.7 290.4,532.7 290.9,532.7 291.3,532.7 291.8,532.7 292.2,532.7 292.7,532.7 293.2,532.7 293.6,532.7 294.1,532.7 294.6,532.7 295.0,532.7 295.5,532.7 295.9,532.7 296.4,532.7 296.9,532.7 297.3,532.7 297.8,532.7 298.2,532.7 298.7,532.7 299.2,532.7 299.6,532.7 300.1,532.7 300.6,532.7 301.0,532.7 301.5,532.7 301.9,532.7 302.4,532.7 302.9,532.7 303.3,532.7 303.8,532.7 304.2,532.7 304.7,532.7 305.2,532.7 305.6,532.7 306.1,532.7 306.6,532.7 307.0,532.7 307.5,532.7 307.9,532.7 308.4,532.7 308.4,532.7" fill="#d2d2d2" stroke="#8a8a8a" stroke-width="0.9" stroke-linejoin="round"/>
<polyline points="258.1,508.4 258.6,525.6 259.0,532.1 259.5,532.2 259.9,531.9 260.4,531.6 260.9,531.4 261.3,531.2 261.8,530.7 262.3,530.7 262.7,530.4 263.2,530.5 263.6,529.9 264.1,529.7 264.6,529.4 265.0,528.9 265.5,529.0 265.9,528.4 266.4,528.4 266.9,528.0 267.3,528.1 267.8,526.2 268.3,525.4 268.7,525.8 269.2,524.9 269.6,525.2 270.1,523.4 270.6,523.4 271.0,521.4 271.5,521.4 271.9,520.1 272.4,521.2 272.9,521.8 273.3,519.5 273.8,519.7 274.3,516.1 274.7,517.4 275.2,513.9 275.6,513.3 276.1,512.6 276.6,512.4 277.0,507.9 277.5,502.1 277.9,496.6 278.4,490.1 278.9,487.5 279.3,492.4 279.8,493.8 280.3,499.3 280.7,502.8 281.2,507.3 281.6,519.6 282.1,523.6 282.6,526.9 283.0,528.4 283.5,530.0 283.9,531.4 284.4,532.0 284.9,532.2 285.3,532.3 285.8,532.2 286.2,532.3 286.7,532.4 287.2,532.3 287.6,532.3 288.1,532.4 288.6,532.2 289.0,532.3 289.5,532.3 289.9,532.3 290.4,532.2 290.9,532.3 291.3,532.3 291.8,532.4 292.2,532.4 292.7,532.4 293.2,532.4 293.6,532.4 294.1,532.3 294.6,532.4 295.0,532.4 295.5,532.5 295.9,532.5 296.4,532.4 296.9,532.4 297.3,532.5 297.8,532.5 298.2,532.5 298.7,532.5 299.2,532.5 299.6,532.5 300.1,532.5 300.6,532.5 301.0,532.5 301.5,532.5 301.9,532.5 302.4,532.6 302.9,532.6 303.3,532.6 303.8,532.6 304.2,532.6 304.7,532.6 305.2,532.6 305.6,532.6 306.1,532.7 306.6,532.7 307.0,532.7 307.5,532.7 307.9,532.7 308.4,532.7" fill="none" stroke="#000" stroke-width="1.3" stroke-linejoin="round"/>
<text x="307.70" y="489.70" font-size="7.7" font-weight="bold" fill="#000" text-anchor="end" >29</text>
<text x="307.70" y="499.20" font-size="7.6" font-weight="bold" fill="#8e8e8e" text-anchor="end" >24</text>
<path d="M314.5,533.3V481.0H366.0V533.3" fill="none" stroke="#a8a8a8" stroke-width="1"/>
<path d="M313.1,481.0h1.4M313.1,486.2h1.4M313.1,491.5h1.4M313.1,496.7h1.4M313.1,501.9h1.4M313.1,507.1h1.4M313.1,512.4h1.4M313.1,517.6h1.4M313.1,522.8h1.4M313.1,528.1h1.4M319.6,533.3v1.3M324.8,533.3v1.3M329.9,533.3v1.3M335.1,533.3v1.3M340.2,533.3v1.3M345.4,533.3v1.3M350.6,533.3v1.3M355.7,533.3v1.3M360.9,533.3v1.3" stroke="#555" stroke-width="0.6"/>
<path d="M314.5,481.0V533.3H366.0" fill="none" stroke="#606060" stroke-width="0.9"/>
<polygon points="315.1,532.7 315.1,532.7 315.6,532.6 316.0,532.2 316.5,532.1 316.9,532.1 317.4,532.1 317.9,531.6 318.3,530.9 318.8,531.0 319.3,531.5 319.7,531.5 320.2,529.5 320.6,530.6 321.1,530.9 321.6,530.0 322.0,529.5 322.5,528.8 322.9,529.6 323.4,529.7 323.9,528.6 324.3,529.4 324.8,528.4 325.3,528.4 325.7,527.5 326.2,528.5 326.6,527.7 327.1,525.5 327.6,524.0 328.0,526.0 328.5,523.9 328.9,520.9 329.4,521.0 329.9,512.9 330.3,514.9 330.8,511.3 331.3,513.6 331.7,511.2 332.2,509.3 332.6,504.6 333.1,507.1 333.6,499.4 334.0,504.6 334.5,497.4 334.9,497.8 335.4,497.9 335.9,490.0 336.3,490.0 336.8,491.7 337.3,491.6 337.7,484.8 338.2,488.4 338.6,483.9 339.1,488.6 339.6,485.8 340.0,489.2 340.5,487.4 340.9,482.0 341.4,482.1 341.9,489.3 342.3,489.0 342.8,493.6 343.2,488.2 343.7,487.2 344.2,495.2 344.6,497.4 345.1,495.4 345.6,500.2 346.0,499.8 346.5,497.4 346.9,502.1 347.4,502.0 347.9,498.6 348.3,503.9 348.8,502.9 349.2,505.1 349.7,508.0 350.2,501.0 350.6,510.6 351.1,506.4 351.6,510.5 352.0,509.5 352.5,510.8 352.9,507.4 353.4,504.9 353.9,502.1 354.3,511.7 354.8,505.0 355.2,506.7 355.7,507.5 356.2,507.6 356.6,509.2 357.1,512.9 357.6,515.3 358.0,512.2 358.5,520.4 358.9,522.1 359.4,525.5 359.9,522.6 360.3,525.6 360.8,525.6 361.2,527.0 361.7,526.7 362.2,528.1 362.6,528.9 363.1,529.5 363.6,529.3 364.0,529.7 364.5,530.1 364.9,530.5 365.4,531.2 365.4,532.7" fill="#d2d2d2" stroke="#8a8a8a" stroke-width="0.9" stroke-linejoin="round"/>
<polyline points="315.1,528.7 315.6,529.2 316.0,528.7 316.5,530.2 316.9,529.8 317.4,530.5 317.9,531.6 318.3,531.4 318.8,531.2 319.3,531.4 319.7,531.4 320.2,531.3 320.6,531.1 321.1,531.3 321.6,530.9 322.0,531.0 322.5,531.1 322.9,531.1 323.4,530.5 323.9,530.9 324.3,530.4 324.8,531.1 325.3,530.4 325.7,530.2 326.2,529.7 326.6,528.3 327.1,527.4 327.6,526.1 328.0,525.9 328.5,525.9 328.9,525.2 329.4,523.4 329.9,519.8 330.3,515.6 330.8,514.8 331.3,512.9 331.7,509.0 332.2,510.0 332.6,506.2 333.1,504.8 333.6,501.7 334.0,501.4 334.5,503.6 334.9,499.8 335.4,500.0 335.9,491.3 336.3,491.1 336.8,496.3 337.3,496.0 337.7,492.3 338.2,496.3 338.6,488.5 339.1,493.5 339.6,495.9 340.0,492.4 340.5,492.9 340.9,497.4 341.4,495.9 341.9,505.0 342.3,502.8 342.8,503.5 343.2,506.4 343.7,499.3 344.2,495.1 344.6,506.9 345.1,505.1 345.6,500.6 346.0,505.2 346.5,504.8 346.9,507.7 347.4,504.7 347.9,509.1 348.3,504.4 348.8,505.5 349.2,506.5 349.7,510.4 350.2,508.8 350.6,505.6 351.1,507.7 351.6,505.9 352.0,507.6 352.5,500.2 352.9,496.9 353.4,491.5 353.9,496.2 354.3,495.7 354.8,486.7 355.2,486.1 355.7,492.0 356.2,489.1 356.6,492.2 357.1,486.1 357.6,481.8 358.0,484.0 358.5,490.4 358.9,487.1 359.4,490.9 359.9,488.6 360.3,492.0 360.8,489.3 361.2,488.2 361.7,491.8 362.2,492.5 362.6,493.6 363.1,494.5 363.6,502.3 364.0,505.8 364.5,510.5 364.9,511.6 365.4,519.9" fill="none" stroke="#000" stroke-width="1.3" stroke-linejoin="round"/>
<text x="316.30" y="489.70" font-size="7.7" font-weight="bold" fill="#000" text-anchor="start" >1512</text>
<text x="316.30" y="499.20" font-size="7.6" font-weight="bold" fill="#8e8e8e" text-anchor="start" >705</text>
<path d="M371.5,533.3V481.0H423.0V533.3" fill="none" stroke="#a8a8a8" stroke-width="1"/>
<path d="M370.1,481.0h1.4M370.1,486.2h1.4M370.1,491.5h1.4M370.1,496.7h1.4M370.1,501.9h1.4M370.1,507.1h1.4M370.1,512.4h1.4M370.1,517.6h1.4M370.1,522.8h1.4M370.1,528.1h1.4M376.6,533.3v1.3M381.8,533.3v1.3M386.9,533.3v1.3M392.1,533.3v1.3M397.2,533.3v1.3M402.4,533.3v1.3M407.6,533.3v1.3M412.7,533.3v1.3M417.9,533.3v1.3" stroke="#555" stroke-width="0.6"/>
<path d="M371.5,481.0V533.3H423.0" fill="none" stroke="#606060" stroke-width="0.9"/>
<polygon points="372.1,532.7 372.1,532.6 372.6,532.2 373.0,531.8 373.5,531.2 373.9,530.5 374.4,530.2 374.9,529.8 375.3,529.3 375.8,528.4 376.3,527.9 376.7,527.6 377.2,527.7 377.6,527.0 378.1,522.6 378.6,524.8 379.0,523.1 379.5,522.4 379.9,523.6 380.4,519.1 380.9,519.7 381.3,519.5 381.8,513.5 382.3,513.0 382.7,508.0 383.2,508.1 383.6,502.7 384.1,498.0 384.6,497.4 385.0,496.4 385.5,492.3 385.9,486.6 386.4,489.6 386.9,488.7 387.3,484.1 387.8,485.2 388.3,485.8 388.7,488.1 389.2,488.1 389.6,489.0 390.1,492.1 390.6,500.7 391.0,501.2 391.5,510.9 391.9,507.4 392.4,513.3 392.9,512.2 393.3,513.9 393.8,516.9 394.3,514.5 394.7,517.5 395.2,516.0 395.6,520.0 396.1,522.0 396.6,521.0 397.0,523.5 397.5,525.9 397.9,527.5 398.4,527.0 398.9,528.7 399.3,529.6 399.8,530.5 400.2,530.8 400.7,531.1 401.2,530.9 401.6,531.4 402.1,531.5 402.6,532.0 403.0,532.0 403.5,532.3 403.9,532.6 404.4,532.7 404.9,532.7 405.3,532.7 405.8,532.7 406.2,532.7 406.7,532.7 407.2,532.7 407.6,532.7 408.1,532.7 408.6,532.7 409.0,532.7 409.5,532.7 409.9,532.7 410.4,532.7 410.9,532.7 411.3,532.7 411.8,532.7 412.2,532.7 412.7,532.7 413.2,532.7 413.6,532.7 414.1,532.7 414.6,532.7 415.0,532.7 415.5,532.7 415.9,532.7 416.4,532.7 416.9,532.7 417.3,532.7 417.8,532.7 418.2,532.7 418.7,532.7 419.2,532.7 419.6,532.7 420.1,532.7 420.6,532.7 421.0,532.7 421.5,532.7 421.9,532.7 422.4,532.7 422.4,532.7" fill="#d2d2d2" stroke="#8a8a8a" stroke-width="0.9" stroke-linejoin="round"/>
<polyline points="372.1,532.6 372.6,532.1 373.0,531.6 373.5,531.3 373.9,530.6 374.4,530.0 374.9,529.5 375.3,529.2 375.8,528.8 376.3,528.2 376.7,527.0 377.2,525.7 377.6,527.5 378.1,526.5 378.6,524.8 379.0,522.2 379.5,523.8 379.9,518.8 380.4,517.7 380.9,523.5 381.3,516.7 381.8,513.7 382.3,512.7 382.7,512.4 383.2,504.8 383.6,503.1 384.1,496.9 384.6,495.2 385.0,495.4 385.5,486.5 385.9,484.1 386.4,483.2 386.9,485.6 387.3,483.6 387.8,485.1 388.3,486.7 388.7,490.9 389.2,488.2 389.6,494.6 390.1,491.4 390.6,499.9 391.0,501.9 391.5,508.0 391.9,513.0 392.4,514.4 392.9,514.5 393.3,511.3 393.8,514.7 394.3,517.1 394.7,516.3 395.2,521.2 395.6,523.0 396.1,523.5 396.6,522.5 397.0,525.1 397.5,525.8 397.9,526.9 398.4,528.3 398.9,528.6 399.3,529.8 399.8,530.6 400.2,530.9 400.7,530.9 401.2,531.3 401.6,531.3 402.1,531.5 402.6,531.8 403.0,532.0 403.5,532.3 403.9,532.5 404.4,532.7 404.9,532.7 405.3,532.7 405.8,532.7 406.2,532.7 406.7,532.7 407.2,532.7 407.6,532.7 408.1,532.7 408.6,532.7 409.0,532.7 409.5,532.7 409.9,532.7 410.4,532.7 410.9,532.7 411.3,532.7 411.8,532.7 412.2,532.7 412.7,532.7 413.2,532.7 413.6,532.7 414.1,532.7 414.6,532.7 415.0,532.7 415.5,532.7 415.9,532.7 416.4,532.7 416.9,532.7 417.3,532.7 417.8,532.7 418.2,532.7 418.7,532.7 419.2,532.7 419.6,532.7 420.1,532.7 420.6,532.7 421.0,532.7 421.5,532.7 421.9,532.7 422.4,532.7" fill="none" stroke="#000" stroke-width="1.3" stroke-linejoin="round"/>
<text x="421.70" y="489.70" font-size="7.7" font-weight="bold" fill="#000" text-anchor="end" >23</text>
<text x="421.70" y="499.20" font-size="7.6" font-weight="bold" fill="#8e8e8e" text-anchor="end" >18</text>
<path d="M428.5,533.3V481.0H480.0V533.3" fill="none" stroke="#a8a8a8" stroke-width="1"/>
<path d="M427.1,481.0h1.4M427.1,486.2h1.4M427.1,491.5h1.4M427.1,496.7h1.4M427.1,501.9h1.4M427.1,507.1h1.4M427.1,512.4h1.4M427.1,517.6h1.4M427.1,522.8h1.4M427.1,528.1h1.4M433.6,533.3v1.3M438.8,533.3v1.3M443.9,533.3v1.3M449.1,533.3v1.3M454.2,533.3v1.3M459.4,533.3v1.3M464.6,533.3v1.3M469.7,533.3v1.3M474.9,533.3v1.3" stroke="#555" stroke-width="0.6"/>
<path d="M428.5,481.0V533.3H480.0" fill="none" stroke="#606060" stroke-width="0.9"/>
<polygon points="429.1,532.7 429.1,532.7 429.6,532.5 430.0,532.3 430.5,532.1 430.9,531.9 431.4,531.9 431.9,531.6 432.3,531.3 432.8,531.0 433.3,531.1 433.7,530.0 434.2,531.0 434.6,530.6 435.1,530.2 435.6,529.5 436.0,530.2 436.5,529.2 436.9,529.6 437.4,529.4 437.9,528.4 438.3,527.9 438.8,527.5 439.3,528.9 439.7,527.0 440.2,526.5 440.6,526.1 441.1,524.7 441.6,524.0 442.0,523.1 442.5,520.3 442.9,517.4 443.4,519.9 443.9,517.4 444.3,514.8 444.8,519.5 445.3,510.2 445.7,511.7 446.2,507.0 446.6,509.7 447.1,509.4 447.6,505.6 448.0,502.5 448.5,503.9 448.9,497.1 449.4,497.0 449.9,498.6 450.3,492.9 450.8,493.3 451.3,491.6 451.7,491.6 452.2,491.5 452.6,492.9 453.1,490.0 453.6,490.7 454.0,489.9 454.5,492.6 454.9,488.3 455.4,485.7 455.9,489.6 456.3,485.7 456.8,482.3 457.2,492.2 457.7,494.4 458.2,496.8 458.6,502.6 459.1,504.3 459.6,512.2 460.0,517.1 460.5,522.5 460.9,524.6 461.4,528.4 461.9,530.0 462.3,530.8 462.8,531.4 463.2,532.4 463.7,532.7 464.2,532.7 464.6,532.7 465.1,532.7 465.6,532.7 466.0,532.7 466.5,532.7 466.9,532.7 467.4,532.7 467.9,532.7 468.3,532.7 468.8,532.7 469.2,532.7 469.7,532.7 470.2,532.7 470.6,532.7 471.1,532.7 471.6,532.7 472.0,532.7 472.5,532.7 472.9,532.7 473.4,532.7 473.9,532.7 474.3,532.7 474.8,532.7 475.2,532.7 475.7,532.7 476.2,532.7 476.6,532.7 477.1,532.7 477.6,532.7 478.0,532.7 478.5,532.7 478.9,532.7 479.4,532.7 479.4,532.7" fill="#d2d2d2" stroke="#8a8a8a" stroke-width="0.9" stroke-linejoin="round"/>
<polyline points="429.1,532.7 429.6,532.5 430.0,532.4 430.5,532.3 430.9,532.1 431.4,531.9 431.9,532.0 432.3,531.8 432.8,531.2 433.3,531.5 433.7,531.1 434.2,530.8 434.6,531.0 435.1,530.8 435.6,530.8 436.0,530.7 436.5,530.6 436.9,530.8 437.4,530.2 437.9,530.0 438.3,529.4 438.8,529.6 439.3,529.2 439.7,526.8 440.2,527.5 440.6,527.0 441.1,526.6 441.6,525.4 442.0,525.8 442.5,524.8 442.9,524.6 443.4,524.6 443.9,522.8 444.3,523.8 444.8,517.6 445.3,522.3 445.7,515.8 446.2,517.8 446.6,515.6 447.1,513.2 447.6,520.1 448.0,510.7 448.5,512.8 448.9,514.4 449.4,514.2 449.9,510.4 450.3,514.6 450.8,504.9 451.3,508.9 451.7,504.9 452.2,505.0 452.6,504.8 453.1,503.1 453.6,502.7 454.0,495.6 454.5,497.3 454.9,494.4 455.4,493.0 455.9,491.0 456.3,490.1 456.8,486.5 457.2,489.9 457.7,489.4 458.2,486.7 458.6,490.2 459.1,494.0 459.6,496.3 460.0,502.0 460.5,508.2 460.9,516.8 461.4,518.9 461.9,523.8 462.3,525.3 462.8,527.5 463.2,529.1 463.7,530.3 464.2,531.7 464.6,532.2 465.1,532.2 465.6,532.2 466.0,532.2 466.5,532.2 466.9,532.3 467.4,532.2 467.9,532.2 468.3,532.4 468.8,532.4 469.2,532.3 469.7,532.4 470.2,532.5 470.6,532.3 471.1,532.4 471.6,532.4 472.0,532.4 472.5,532.5 472.9,532.5 473.4,532.5 473.9,532.5 474.3,532.5 474.8,532.5 475.2,532.5 475.7,532.6 476.2,532.6 476.6,532.6 477.1,532.6 477.6,532.6 478.0,532.7 478.5,532.7 478.9,532.7 479.4,532.7" fill="none" stroke="#000" stroke-width="1.3" stroke-linejoin="round"/>
<text x="478.70" y="489.70" font-size="7.7" font-weight="bold" fill="#000" text-anchor="end" >145</text>
<text x="478.70" y="499.20" font-size="7.6" font-weight="bold" fill="#8e8e8e" text-anchor="end" >101</text>
</svg>
</body></html>
